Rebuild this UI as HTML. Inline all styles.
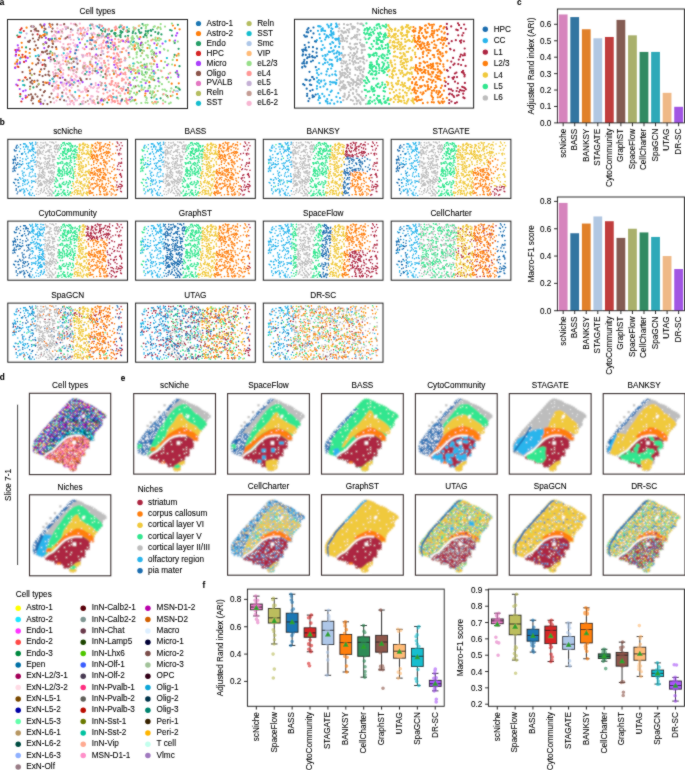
<!DOCTYPE html><html><head><meta charset="utf-8"><style>html,body{margin:0;padding:0;background:#fff}svg{display:block;will-change:transform}text{font-family:"Liberation Sans", sans-serif;font-size:8.2px;fill:#000;stroke:#000;stroke-width:0.08px}</style></head><body><svg width="685" height="770" viewBox="0 0 685 770"><rect width="685" height="770" fill="#fff"/><defs><filter id="gsoft" x="0" y="0" width="100%" height="100%"><feConvolveMatrix order="3" kernelMatrix="1 2 1 2 20 2 1 2 1" divisor="32" edgeMode="duplicate"/></filter><filter id="soft" x="-5%" y="-5%" width="110%" height="110%"><feConvolveMatrix order="3" kernelMatrix="1 2 1 2 8 2 1 2 1" divisor="20" edgeMode="none"/></filter><pattern id="wspk" patternUnits="userSpaceOnUse" width="23" height="23"><path d="M0.5 16.5h0m1 -14h0m1 -2h0m0 10h0m0 2h0m0 3h0m4 1h0m3 -12h0m1 3h0m1 7h0m1 8h0m6 -4h0m2 -13h0m0 17h0m2 -10h0" stroke="#fff" stroke-width="0.9" stroke-linecap="square" fill="none"/></pattern><pattern id="ppia" patternUnits="userSpaceOnUse" width="17" height="17"><path d="M0.5 0.5h0m0 2h0m0 1h0m0 1h0m0 1h0m0 2h0m0 3h0m0 2h0m1 -12h0m0 3h0m0 6h0m0 3h0m1 -5h0m0 2h0m0 3h0m1 -11h0m0 12h0m0 1h0m1 -12h0m0 3h0m0 3h0m0 2h0m0 1h0m0 1h0m0 3h0m1 -13h0m0 1h0m0 6h0m0 4h0m0 1h0m1 1h0m0 1h0m1 -14h0m0 2h0m0 1h0m0 6h0m0 1h0m0 3h0m0 1h0m1 -14h0m0 3h0m0 1h0m0 1h0m1 -3h0m0 5h0m0 4h0m0 1h0m1 -12h0m0 3h0m0 3h0m0 2h0m0 2h0m0 1h0m0 1h0m1 -12h0m0 6h0m0 2h0m0 1h0m0 1h0m0 1h0m1 -12h0m0 1h0m0 1h0m0 1h0m0 1h0m0 8h0m0 1h0m1 -11h0m0 7h0m1 -7h0m0 1h0m0 2h0m0 6h0m0 1h0m1 -10h0m0 2h0m0 4h0m0 1h0m1 -8h0m0 6h0m0 5h0" stroke="#fff" stroke-width="1.2" stroke-linecap="square" fill="none"/><path d="M0.5 1.5h0m0 5h0m0 2h0m0 1h0m0 2h0m0 2h0m0 1h0m0 1h0m0 1h0m1 -14h0m0 3h0m0 1h0m0 1h0m0 1h0m0 2h0m0 1h0m0 2h0m0 1h0m0 2h0m1 -16h0m0 2h0m0 1h0m0 1h0m0 4h0m0 2h0m0 1h0m0 2h0m0 1h0m0 1h0m1 -15h0m0 2h0m0 1h0m0 1h0m0 1h0m0 2h0m0 1h0m0 1h0m0 2h0m0 1h0m0 4h0m1 -15h0m0 2h0m0 1h0m0 2h0m0 1h0m0 7h0m1 -14h0m0 1h0m0 3h0m0 1h0m0 1h0m0 1h0m0 1h0m0 2h0m0 1h0m0 1h0m0 3h0m0 1h0m1 -16h0m0 1h0m0 1h0m0 1h0m0 1h0m0 1h0m0 1h0m0 1h0m0 1h0m0 1h0m0 1h0m0 1h0m0 1h0m0 1h0m1 -13h0m0 3h0m0 3h0m0 1h0m0 1h0m0 2h0m0 3h0m0 1h0m1 -14h0m0 1h0m0 2h0m0 1h0m0 4h0m0 1h0m0 3h0m0 1h0m0 1h0m0 1h0m0 1h0m1 -16h0m0 1h0m0 2h0m0 2h0m0 2h0m0 1h0m0 2h0m0 1h0m0 1h0m0 3h0m1 -15h0m0 1h0m0 2h0m0 1h0m0 2h0m0 1h0m0 4h0m0 4h0m0 1h0m1 -16h0m0 1h0m0 3h0m0 1h0m0 2h0m0 2h0m0 5h0m1 -14h0m0 6h0m0 1h0m0 1h0m0 1h0m0 2h0m0 1h0m0 3h0m0 1h0m1 -14h0m0 2h0m0 1h0m0 1h0m0 1h0m0 1h0m0 1h0m0 2h0m0 1h0m0 2h0m0 2h0m1 -16h0m0 1h0m0 1h0m0 3h0m0 2h0m0 1h0m0 1h0m0 1h0m0 1h0m0 3h0m0 1h0m0 1h0m1 -16h0m0 1h0m0 1h0m0 2h0m0 2h0m0 1h0m0 4h0m0 1h0m0 1h0m0 1h0m0 1h0m0 1h0m1 -16h0m0 1h0m0 2h0m0 1h0m0 1h0m0 1h0m0 1h0m0 2h0m0 2h0m0 1h0m0 2h0m0 1h0m0 1h0" stroke="#1f6eb0" stroke-width="1.2" stroke-linecap="square" fill="none"/><path d="M1.5 1.5h0m0 3h0m0 11h0m1 -14h0m0 4h0m0 1h0m0 10h0m1 -10h0m0 4h0m0 5h0m1 -15h0m0 9h0m0 4h0m0 3h0m2 -2h0m1 -13h0m0 8h0m1 1h0m0 1h0m1 -9h0m0 4h0m0 10h0m1 -7h0m1 -6h0m0 3h0m0 9h0m0 1h0m1 -6h0m1 -10h0m0 1h0m0 12h0m0 2h0m2 -7h0m1 2h0" stroke="#4a8fca" stroke-width="1.2" stroke-linecap="square" fill="none"/></pattern><pattern id="pctc" patternUnits="userSpaceOnUse" width="20" height="20"><path d="M0.5 0.5h0m0 2h0m0 7h0m0 6h0m1 -7h0m1 0h0m0 1h0m0 9h0m1 -3h0m0 4h0m1 -10h0m0 2h0m0 1h0m0 3h0m0 3h0m2 -15h0m1 1h0m1 5h0m1 -2h0m0 5h0m0 7h0m1 -18h0m2 8h0m0 3h0m1 -9h0m0 1h0m0 8h0m0 2h0m1 5h0m1 -18h0m0 1h0m0 9h0m0 5h0m1 -15h0m0 14h0m1 -11h0m0 2h0m0 4h0m0 6h0m1 -7h0m1 -1h0" stroke="#a30059" stroke-width="1.2" stroke-linecap="square" fill="none"/><path d="M0.5 1.5h0m0 12h0m1 2h0m1 -5h0m4 -10h0m0 9h0m1 -7h0m0 4h0m4 1h0m0 4h0m3 -5h0m0 3h0m5 -9h0" stroke="#1ce6ff" stroke-width="1.2" stroke-linecap="square" fill="none"/><path d="M0.5 3.5h0m5 -3h0m0 12h0m1 5h0m2 -2h0m0 2h0m1 -3h0m2 -14h0m0 18h0m2 -16h0m0 7h0m4 0h0m2 7h0" stroke="#63ffac" stroke-width="1.2" stroke-linecap="square" fill="none"/><path d="M0.5 4.5h0m1 7h0m3 -3h0m0 9h0m2 -13h0m0 14h0m0 1h0m1 -14h0m0 7h0m0 4h0m1 -16h0m0 18h0m2 -2h0m1 -10h0m0 9h0m1 -14h0m0 3h0m0 11h0m1 -9h0m0 12h0m4 -11h0m0 6h0m0 4h0m0 2h0m1 -19h0m1 7h0" stroke="#006fa6" stroke-width="1.2" stroke-linecap="square" fill="none"/><path d="M0.5 5.5h0m0 7h0m0 5h0m1 -8h0m0 3h0m0 7h0m1 -14h0m1 -2h0m0 4h0m0 2h0m2 7h0m1 -9h0m7 6h0m1 -9h0m0 9h0m0 4h0m1 -17h0m0 18h0m1 -11h0m0 3h0m0 8h0m1 -10h0m0 10h0m1 -1h0m1 -11h0m0 12h0" stroke="#3b5dff" stroke-width="1.2" stroke-linecap="square" fill="none"/><path d="M0.5 6.5h0m2 -6h0m0 14h0m1 -12h0m4 6h0m3 -5h0m1 16h0m3 -12h0m4 0h0" stroke="#7a4900" stroke-width="1.2" stroke-linecap="square" fill="none"/><path d="M0.5 7.5h0m0 3h0m0 1h0m1 -11h0m0 1h0m0 4h0m0 8h0m0 1h0m1 -7h0m0 6h0m0 2h0m0 4h0m1 -14h0m0 3h0m0 2h0m0 2h0m0 4h0m1 3h0m1 -17h0m0 2h0m0 11h0m1 -14h0m0 1h0m0 3h0m0 1h0m0 2h0m0 4h0m0 1h0m0 2h0m1 -15h0m0 7h0m0 10h0m0 1h0m0 1h0m1 -18h0m0 4h0m0 9h0m0 2h0m1 -16h0m0 8h0m0 1h0m0 1h0m0 5h0m0 3h0m1 -16h0m0 5h0m0 2h0m0 2h0m0 2h0m0 2h0m0 3h0m0 1h0m1 -18h0m0 1h0m0 2h0m0 5h0m0 4h0m0 1h0m1 -8h0m0 10h0m0 3h0m1 -19h0m0 5h0m0 5h0m0 6h0m0 1h0m1 -17h0m0 8h0m0 2h0m0 1h0m1 -8h0m0 3h0m0 2h0m0 1h0m0 6h0m0 2h0m1 -12h0m0 3h0m0 4h0m0 2h0m1 -2h0m0 2h0m1 -2h0m0 2h0m0 5h0m1 -17h0m0 1h0m0 2h0m0 8h0" stroke="#0000a6" stroke-width="1.2" stroke-linecap="square" fill="none"/><path d="M0.5 8.5h0m2 -4h0m5 7h0m8 -7h0m1 -4h0m2 16h0" stroke="#5a0007" stroke-width="1.2" stroke-linecap="square" fill="none"/><path d="M0.5 14.5h0m1 -10h0m2 2h0m1 10h0m1 -3h0m0 6h0m3 -7h0m3 -2h0m4 4h0" stroke="#8fb0ff" stroke-width="1.2" stroke-linecap="square" fill="none"/><path d="M0.5 16.5h0m0 3h0m1 -2h0m1 -14h0m1 -2h0m0 13h0m1 -10h0m0 2h0m1 -3h0m0 2h0m0 2h0m1 3h0m1 -1h0m1 -6h0m2 9h0m0 5h0m2 -3h0m1 1h0m1 -3h0m1 -2h0m1 -1h0m0 2h0m1 0h0m1 -9h0m0 2h0m0 2h0m0 4h0m0 8h0m1 -14h0" stroke="#b903aa" stroke-width="1.2" stroke-linecap="square" fill="none"/><path d="M0.5 18.5h0m4 -17h0m6 5h0m1 -3h0m7 10h0m1 4h0" stroke="#fff" stroke-width="1.2" stroke-linecap="square" fill="none"/><path d="M1.5 2.5h0m0 5h0m0 11h0m1 -16h0m3 6h0m0 9h0m2 -2h0m2 -14h0m0 3h0m0 12h0m0 1h0m1 -7h0m1 -2h0m0 4h0m0 5h0m1 -15h0m0 3h0m0 13h0m1 -7h0m1 3h0m1 -7h0m1 10h0m0 2h0m2 -14h0m0 6h0m0 4h0" stroke="#0aa6d8" stroke-width="1.2" stroke-linecap="square" fill="none"/><path d="M1.5 3.5h0m0 7h0m1 -4h0m1 5h0m1 -1h0m0 4h0m1 -4h0m0 1h0m1 5h0m1 -2h0m1 -4h0m1 -4h0m0 5h0m1 -7h0m2 4h0m0 3h0m0 2h0m3 0h0m0 6h0m1 -16h0m1 -2h0m0 1h0m0 1h0m1 -2h0m1 10h0m0 4h0" stroke="#00846f" stroke-width="1.2" stroke-linecap="square" fill="none"/><path d="M1.5 6.5h0m1 5h0m3 7h0m1 -4h0m2 -10h0m0 15h0m1 -16h0m3 4h0m1 1h0m1 -5h0m1 9h0m1 -6h0m3 3h0m0 10h0" stroke="#ffff00" stroke-width="1.2" stroke-linecap="square" fill="none"/><path d="M1.5 16.5h0m2 -12h0m1 -4h0m3 1h0m1 1h0m0 5h0m1 6h0m1 -5h0m2 9h0m4 -4h0" stroke="#ff34ff" stroke-width="1.2" stroke-linecap="square" fill="none"/><path d="M2.5 1.5h0m1 12h0m0 4h0m1 -14h0m0 2h0m1 -4h0m0 5h0m0 3h0m2 -6h0m0 7h0m0 3h0m1 -2h0m1 -6h0m1 9h0m2 -14h0m1 1h0m0 18h0m1 -17h0m0 16h0m2 -16h0m1 -2h0m0 15h0m1 -7h0m1 -7h0m0 9h0" stroke="#013349" stroke-width="1.2" stroke-linecap="square" fill="none"/><path d="M2.5 12.5h0m2 -5h0m0 6h0m7 3h0m1 -13h0m3 2h0m1 -1h0" stroke="#ff2f80" stroke-width="1.2" stroke-linecap="square" fill="none"/><path d="M2.5 16.5h0m0 1h0m1 -17h0m0 18h0m2 -4h0m1 -3h0m3 -9h0m1 3h0m1 0h0m1 5h0m1 -3h0m1 -6h0m0 4h0m0 11h0m2 0h0m3 -4h0m0 2h0" stroke="#4a3b53" stroke-width="1.2" stroke-linecap="square" fill="none"/><path d="M4.5 2.5h0m4 4h0m0 2h0m0 5h0m2 -13h0m4 15h0m3 -10h0m1 -2h0" stroke="#4fc601" stroke-width="1.2" stroke-linecap="square" fill="none"/></pattern><pattern id="pcts" patternUnits="userSpaceOnUse" width="20" height="20"><path d="M0.5 0.5h0m0 5h0m0 4h0m1 -5h0m0 2h0m0 9h0m0 2h0m1 -5h0m0 7h0m1 -17h0m0 11h0m0 6h0m1 -15h0m0 2h0m0 1h0m0 10h0m1 -13h0m0 12h0m1 -3h0m0 4h0m0 2h0m1 -13h0m0 1h0m0 7h0m1 -7h0m1 4h0m0 5h0m1 -16h0m2 17h0m1 -6h0m0 4h0m1 -9h0m0 11h0m1 -12h0m1 5h0m0 1h0m1 -6h0m0 3h0m1 -2h0m1 -2h0m0 9h0" stroke="#b903aa" stroke-width="1.2" stroke-linecap="square" fill="none"/><path d="M0.5 1.5h0m0 10h0m0 2h0m0 4h0m0 1h0m1 -16h0m0 5h0m0 9h0m0 3h0m1 -16h0m0 2h0m0 2h0m0 3h0m0 6h0m1 -16h0m0 1h0m0 3h0m0 13h0m1 -12h0m0 5h0m0 3h0m0 1h0m1 -5h0m0 2h0m0 8h0m1 -17h0m0 1h0m0 5h0m0 4h0m0 2h0m1 -10h0m0 6h0m0 1h0m0 1h0m0 1h0m0 4h0m0 2h0m1 -17h0m0 6h0m0 5h0m0 2h0m1 -14h0m0 12h0m0 1h0m0 5h0m1 -9h0m0 3h0m0 2h0m0 1h0m0 1h0m0 1h0m1 -16h0m0 3h0m0 4h0m0 1h0m1 -10h0m0 8h0m0 1h0m0 1h0m0 1h0m1 -10h0m0 8h0m0 3h0m0 1h0m0 5h0m1 -17h0m0 1h0m0 8h0m0 8h0m0 1h0m1 -18h0m0 2h0m0 3h0m0 2h0m0 3h0m0 1h0m0 4h0m0 2h0m0 1h0m1 -19h0m0 1h0m0 3h0m0 2h0m0 2h0m0 9h0m1 -17h0m0 1h0m0 5h0m0 1h0m0 4h0m0 3h0m0 1h0m0 2h0m1 -16h0m0 4h0m0 2h0m0 2h0m0 2h0m0 2h0m0 2h0m0 2h0m0 1h0m1 -16h0m0 1h0m0 2h0m0 11h0" stroke="#d16100" stroke-width="1.2" stroke-linecap="square" fill="none"/><path d="M0.5 2.5h0m0 4h0m0 4h0m0 5h0m0 1h0m1 -16h0m0 1h0m0 4h0m0 7h0m0 6h0m1 -12h0m1 2h0m0 3h0m0 7h0m1 -16h0m0 1h0m0 5h0m0 3h0m0 1h0m0 3h0m0 3h0m1 -18h0m0 3h0m0 3h0m0 1h0m0 1h0m0 4h0m0 3h0m0 3h0m1 -18h0m0 1h0m0 10h0m0 4h0m0 3h0m1 -17h0m0 1h0m0 6h0m1 -8h0m0 1h0m0 4h0m0 6h0m0 8h0m1 -16h0m0 1h0m0 1h0m0 1h0m0 1h0m0 1h0m0 1h0m0 1h0m0 7h0m1 -16h0m0 1h0m0 1h0m0 1h0m0 5h0m0 5h0m1 -2h0m0 2h0m0 5h0m1 -16h0m0 4h0m0 8h0m0 1h0m0 3h0m1 -19h0m0 2h0m0 2h0m0 3h0m0 1h0m0 6h0m1 -14h0m0 5h0m0 4h0m0 2h0m0 4h0m1 -1h0m2 -10h0m0 6h0m0 2h0m0 1h0m0 5h0m0 1h0m1 -19h0m0 12h0m0 4h0m1 -15h0m0 7h0m0 2h0m0 4h0m0 5h0" stroke="#ffaa92" stroke-width="1.2" stroke-linecap="square" fill="none"/><path d="M0.5 3.5h0m0 5h0m0 11h0m1 -9h0m3 9h0m1 -18h0m1 4h0m0 1h0m0 3h0m3 6h0m0 3h0m1 1h0m1 -8h0m1 -5h0m0 7h0m0 5h0m2 -11h0m1 3h0m0 5h0m0 2h0m2 -14h0m0 6h0" stroke="#ff2f80" stroke-width="1.2" stroke-linecap="square" fill="none"/><path d="M0.5 4.5h0m1 4h0m0 1h0m0 2h0m0 3h0m1 -6h0m0 5h0m0 1h0m1 -8h0m0 4h0m0 2h0m1 -12h0m0 1h0m0 8h0m1 -7h0m0 3h0m0 5h0m0 3h0m0 4h0m1 -13h0m0 12h0m1 -16h0m0 3h0m0 2h0m1 9h0m0 2h0m0 1h0m1 -15h0m0 10h0m1 -6h0m0 1h0m0 1h0m1 -8h0m0 4h0m0 4h0m0 5h0m0 3h0m0 2h0m1 -17h0m0 11h0m1 -9h0m0 2h0m1 -1h0m0 4h0m0 4h0m0 2h0m1 -14h0m0 2h0m0 5h0m0 2h0m1 -6h0m0 9h0m1 4h0m1 -8h0m0 2h0m0 4h0m1 -7h0m0 2h0m0 2h0m0 6h0m0 1h0" stroke="#ff90c9" stroke-width="1.2" stroke-linecap="square" fill="none"/><path d="M0.5 7.5h0m0 5h0m2 -8h0m0 13h0m1 -14h0m0 6h0m0 6h0m1 1h0m1 -2h0m1 -4h0m5 -7h0m0 14h0m2 0h0m0 2h0m1 -16h0m1 10h0m1 -4h0m0 4h0m0 5h0" stroke="#ffb500" stroke-width="1.2" stroke-linecap="square" fill="none"/><path d="M0.5 14.5h0m2 -14h0m0 1h0m0 1h0m0 13h0m0 3h0m5 0h0m1 -15h0m0 3h0m3 -5h0m0 14h0m2 -5h0m2 -6h0m1 -2h0m0 13h0m1 -13h0m1 0h0m1 -2h0" stroke="#7a4900" stroke-width="1.2" stroke-linecap="square" fill="none"/><path d="M1.5 3.5h0m2 2h0m0 2h0m4 8h0m3 -3h0m2 2h0m2 2h0m2 -9h0m2 -4h0m1 3h0" stroke="#0000a6" stroke-width="1.2" stroke-linecap="square" fill="none"/><path d="M1.5 13.5h0m1 -2h0m1 3h0m0 2h0m3 -9h0m1 2h0m0 7h0m1 -12h0m0 5h0m0 1h0m0 8h0m1 -18h0m1 5h0m0 6h0m1 -5h0m0 1h0m1 -3h0m0 1h0m1 11h0m3 -11h0m0 14h0m2 -15h0m0 15h0m1 -7h0m0 3h0" stroke="#ff4a46" stroke-width="1.2" stroke-linecap="square" fill="none"/><path d="M2.5 9.5h0m6 3h0m4 -10h0m1 4h0m1 7h0m2 1h0m0 2h0" stroke="#fff" stroke-width="1.2" stroke-linecap="square" fill="none"/></pattern><pattern id="pcto" patternUnits="userSpaceOnUse" width="20" height="20"><path d="M0.5 0.5h0m0 11h0m0 3h0m0 5h0m1 -19h0m0 1h0m0 17h0m1 -18h0m0 3h0m0 2h0m1 -4h0m0 1h0m0 6h0m1 0h0m1 -5h0m0 1h0m0 3h0m0 6h0m1 -9h0m0 13h0m1 -17h0m0 1h0m0 2h0m0 3h0m0 12h0m1 -10h0m0 3h0m1 -10h0m0 8h0m0 10h0m1 -6h0m0 1h0m2 -14h0m1 0h0m0 7h0m0 4h0m1 -7h0m0 6h0m0 6h0m1 -13h0m0 4h0m0 1h0m0 10h0m1 -11h0m0 7h0m2 -6h0m0 5h0m1 -13h0m0 8h0m0 10h0" stroke="#b903aa" stroke-width="1.2" stroke-linecap="square" fill="none"/><path d="M0.5 1.5h0m0 9h0m0 2h0m0 1h0m0 5h0m1 -5h0m0 3h0m0 1h0m1 -2h0m2 -14h0m0 6h0m0 5h0m1 -11h0m0 10h0m0 8h0m1 -16h0m0 16h0m1 -4h0m1 -3h0m1 -9h0m0 10h0m1 -8h0m0 2h0m0 3h0m1 -6h0m0 15h0m1 -17h0m0 16h0m1 -12h0m1 0h0m0 5h0m1 3h0m1 2h0m0 1h0m1 -14h0m1 15h0m1 -11h0" stroke="#3b5dff" stroke-width="1.2" stroke-linecap="square" fill="none"/><path d="M0.5 2.5h0m0 1h0m0 2h0m0 3h0m1 -1h0m1 -3h0m0 2h0m0 6h0m0 7h0m1 -16h0m0 2h0m0 7h0m0 3h0m1 -11h0m1 1h0m0 4h0m0 5h0m1 -13h0m0 9h0m1 -8h0m0 17h0m1 -10h0m0 9h0m1 -14h0m0 1h0m3 -1h0m0 3h0m0 10h0m1 -15h0m0 3h0m0 3h0m0 6h0m1 4h0m1 -8h0m0 2h0m1 -7h0m1 6h0m0 2h0m0 4h0m0 2h0m1 -5h0m1 -11h0m0 3h0m0 11h0" stroke="#ffff00" stroke-width="1.2" stroke-linecap="square" fill="none"/><path d="M0.5 4.5h0m0 13h0m1 -15h0m0 10h0m0 2h0m1 -4h0m1 -1h0m0 1h0m0 3h0m0 1h0m0 3h0m1 -14h0m0 2h0m0 8h0m0 4h0m0 1h0m0 1h0m1 -11h0m0 8h0m1 -16h0m0 6h0m0 1h0m0 1h0m0 7h0m1 -11h0m1 -1h0m0 1h0m0 1h0m0 2h0m0 6h0m0 3h0m1 -10h0m0 1h0m0 4h0m0 1h0m0 3h0m0 2h0m0 1h0m1 -18h0m0 16h0m1 -15h0m0 2h0m0 3h0m0 8h0m0 2h0m1 -13h0m0 5h0m0 1h0m0 1h0m0 1h0m0 5h0m1 -15h0m0 3h0m0 12h0m0 1h0m1 -9h0m0 1h0m0 3h0m0 2h0m0 3h0m1 -17h0m0 1h0m0 4h0m0 1h0m0 9h0m0 1h0m0 3h0m1 -13h0m0 2h0m0 1h0m0 4h0m0 2h0m1 -14h0m0 3h0m0 1h0m0 10h0m0 1h0m1 -16h0m0 3h0m0 1h0m0 1h0m0 1h0m0 1h0m0 4h0m1 -7h0m0 7h0" stroke="#a30059" stroke-width="1.2" stroke-linecap="square" fill="none"/><path d="M0.5 6.5h0m0 9h0m0 1h0m1 -12h0m0 1h0m1 4h0m1 -2h0m0 11h0m2 -6h0m1 -7h0m0 8h0m0 3h0m1 -7h0m0 1h0m0 7h0m1 0h0m1 -3h0m1 -6h0m0 4h0m0 5h0m1 -17h0m0 2h0m0 5h0m0 5h0m0 6h0m2 -15h0m0 9h0m0 1h0m1 -11h0m1 2h0m1 -4h0m0 2h0m0 9h0m1 -5h0m0 3h0m1 10h0m1 -10h0m0 7h0" stroke="#1ce6ff" stroke-width="1.2" stroke-linecap="square" fill="none"/><path d="M0.5 7.5h0m1 -4h0m0 3h0m0 3h0m1 -8h0m0 1h0m0 5h0m0 1h0m0 5h0m0 1h0m0 4h0m1 -18h0m0 11h0m1 -11h0m0 11h0m0 3h0m0 1h0m1 -13h0m0 4h0m0 11h0m0 1h0m1 -16h0m0 7h0m0 2h0m0 1h0m1 -7h0m0 3h0m0 6h0m1 0h0m0 1h0m0 4h0m1 -17h0m0 6h0m0 8h0m1 -15h0m0 2h0m0 1h0m0 5h0m0 2h0m0 4h0m1 -10h0m0 3h0m0 5h0m0 2h0m1 -9h0m0 6h0m0 3h0m0 4h0m1 -10h0m0 1h0m0 8h0m1 -18h0m0 1h0m0 6h0m0 6h0m0 6h0m2 -18h0m0 17h0m0 1h0m1 -19h0m0 7h0m0 1h0m1 -7h0m0 9h0m0 2h0m0 3h0m0 2h0m1 -16h0m0 1h0m0 3h0m0 7h0m0 7h0" stroke="#0000a6" stroke-width="1.2" stroke-linecap="square" fill="none"/><path d="M0.5 9.5h0m1 6h0m3 -13h0m1 -2h0m0 15h0m3 -5h0m2 8h0m1 -9h0m1 4h0m1 2h0m0 4h0m1 -14h0m1 4h0m0 4h0m1 -10h0m0 1h0m1 -2h0m0 12h0m1 2h0" stroke="#63ffac" stroke-width="1.2" stroke-linecap="square" fill="none"/><path d="M1.5 8.5h0m0 2h0m1 6h0m1 -12h0m0 2h0m0 10h0m1 -10h0m2 8h0m1 -7h0m0 4h0m0 2h0m1 -13h0m0 6h0m1 4h0m1 -4h0m0 13h0m5 -17h0m1 10h0m1 -2h0m1 -8h0m1 8h0m0 4h0" stroke="#ff34ff" stroke-width="1.2" stroke-linecap="square" fill="none"/><path d="M1.5 11.5h0m0 8h0m1 -2h0m2 -8h0m0 1h0m0 6h0m1 -6h0m1 8h0m1 -6h0m1 -11h0m0 1h0m1 -2h0m1 2h0m1 8h0m0 1h0m0 6h0m1 -16h0m0 4h0m2 -2h0m1 14h0m1 -7h0m1 2h0m0 6h0m1 -9h0m1 4h0m0 2h0" stroke="#00846f" stroke-width="1.2" stroke-linecap="square" fill="none"/><path d="M2.5 11.5h0m1 8h0m4 -3h0m5 -2h0m2 1h0m1 -4h0" stroke="#fff" stroke-width="1.2" stroke-linecap="square" fill="none"/></pattern><pattern id="pctcc" patternUnits="userSpaceOnUse" width="20" height="20"><path d="M0.5 0.5h0m0 3h0m0 1h0m0 1h0m0 3h0m0 2h0m0 1h0m0 7h0m1 -16h0m0 6h0m0 8h0m1 -2h0m1 -11h0m0 3h0m0 6h0m0 6h0m1 -11h0m0 3h0m0 8h0m1 -15h0m0 1h0m0 10h0m0 1h0m0 2h0m0 2h0m1 -18h0m0 3h0m0 4h0m0 1h0m0 2h0m1 -8h0m0 5h0m0 4h0m0 4h0m1 -15h0m0 4h0m0 5h0m0 8h0m1 -16h0m0 3h0m0 4h0m0 6h0m1 -3h0m0 5h0m0 2h0m1 -17h0m1 7h0m0 1h0m0 4h0m1 -12h0m0 1h0m0 7h0m0 1h0m0 4h0m1 -13h0m0 4h0m1 12h0m1 -9h0m0 4h0m1 -12h0m0 7h0m0 11h0m1 -14h0m0 4h0m1 1h0m0 6h0m0 1h0m0 1h0" stroke="#0000a6" stroke-width="1.2" stroke-linecap="square" fill="none"/><path d="M0.5 1.5h0m1 12h0m3 -4h0m0 10h0m2 -9h0m2 5h0m0 1h0m0 1h0m1 -9h0m0 4h0m1 -5h0m0 6h0m0 1h0m2 -8h0m0 1h0m0 9h0m1 -3h0m2 4h0m1 -1h0m1 -13h0m1 -1h0m0 8h0m1 -9h0" stroke="#63ffac" stroke-width="1.2" stroke-linecap="square" fill="none"/><path d="M0.5 2.5h0m0 4h0m0 3h0m0 4h0m0 4h0m0 2h0m1 -16h0m0 1h0m0 1h0m0 1h0m0 1h0m0 4h0m0 1h0m0 2h0m1 -14h0m0 6h0m0 1h0m0 1h0m1 -6h0m0 2h0m0 4h0m0 1h0m0 1h0m0 1h0m1 -8h0m0 3h0m0 5h0m0 1h0m0 5h0m1 -11h0m0 3h0m0 1h0m0 1h0m0 2h0m0 3h0m0 2h0m1 -11h0m0 6h0m1 -11h0m0 4h0m0 4h0m0 1h0m1 -5h0m0 1h0m0 2h0m0 3h0m0 7h0m1 -19h0m0 1h0m0 2h0m0 1h0m0 6h0m0 3h0m0 6h0m1 -19h0m0 4h0m0 1h0m0 4h0m1 -2h0m0 3h0m0 1h0m0 2h0m0 4h0m0 1h0m0 1h0m1 -18h0m0 1h0m0 1h0m0 9h0m1 -12h0m0 1h0m0 4h0m0 1h0m0 12h0m0 1h0m1 -19h0m0 9h0m0 3h0m0 2h0m0 2h0m0 3h0m1 -14h0m0 5h0m0 1h0m0 5h0m1 -16h0m0 1h0m0 1h0m0 2h0m0 4h0m0 3h0m0 6h0m0 2h0m1 -19h0m0 4h0m0 2h0m0 3h0m0 1h0m0 1h0m0 1h0m0 2h0m0 1h0m0 2h0m1 -13h0m0 4h0m0 3h0m0 3h0m0 2h0m0 2h0m0 1h0m1 -19h0m0 5h0m0 1h0m0 2h0m0 3h0m0 1h0" stroke="#00846f" stroke-width="1.2" stroke-linecap="square" fill="none"/><path d="M0.5 7.5h0m0 5h0m0 2h0m0 1h0m1 -14h0m0 8h0m0 1h0m0 7h0m0 2h0m1 -18h0m0 1h0m0 1h0m0 6h0m0 2h0m0 1h0m0 4h0m0 2h0m1 -17h0m0 6h0m0 8h0m0 1h0m1 -12h0m0 1h0m0 10h0m1 -13h0m0 3h0m0 2h0m1 -4h0m0 12h0m0 2h0m1 -17h0m0 1h0m0 4h0m0 2h0m0 12h0m1 -19h0m0 2h0m0 1h0m0 1h0m0 4h0m0 5h0m1 -7h0m0 5h0m1 -10h0m0 1h0m0 4h0m0 2h0m0 2h0m0 5h0m0 3h0m1 -18h0m0 4h0m0 5h0m1 -9h0m0 5h0m0 6h0m0 2h0m0 2h0m0 3h0m1 -14h0m0 13h0m1 -16h0m0 2h0m0 4h0m0 1h0m0 3h0m0 4h0m0 3h0m1 -18h0m0 1h0m0 1h0m0 4h0m0 1h0m0 1h0m0 1h0m0 3h0m0 3h0m1 -10h0m0 2h0m0 3h0m0 2h0m0 2h0m0 1h0m1 -8h0m0 6h0m1 -12h0m0 2h0m0 3h0m0 1h0m0 10h0m1 -15h0m0 1h0m0 4h0m0 2h0m0 5h0m0 1h0m0 4h0" stroke="#0aa6d8" stroke-width="1.2" stroke-linecap="square" fill="none"/><path d="M0.5 16.5h0m2 -11h0m0 10h0m1 -15h0m0 13h0m0 4h0m1 -17h0m0 2h0m0 11h0m0 1h0m0 2h0m1 -16h0m0 1h0m0 11h0m1 -7h0m0 1h0m0 8h0m0 5h0m1 -15h0m0 5h0m0 5h0m0 1h0m0 3h0m1 -7h0m0 3h0m1 0h0m0 3h0m0 1h0m1 -2h0m1 -15h0m0 2h0m0 2h0m0 1h0m0 2h0m0 6h0m1 -10h0m0 4h0m1 0h0m0 1h0m0 5h0m0 2h0m1 -6h0m1 -6h0m0 10h0m0 5h0m2 -3h0m0 2h0m1 -3h0m1 -11h0" stroke="#013349" stroke-width="1.2" stroke-linecap="square" fill="none"/><path d="M1.5 0.5h0m0 15h0m0 3h0m1 -14h0m0 6h0m0 3h0m0 4h0m0 2h0m1 -14h0m0 9h0m0 5h0m1 -11h0m1 0h0m1 -8h0m0 2h0m0 10h0m0 4h0m0 2h0m1 -5h0m0 4h0m2 -10h0m1 -4h0m0 8h0m1 4h0m0 1h0m1 1h0m0 2h0m1 -12h0m1 -3h0m0 1h0m0 8h0m0 4h0m1 -14h0m0 10h0m1 -10h0m0 3h0m0 12h0m1 -13h0m1 -5h0m0 13h0m1 0h0" stroke="#1ce6ff" stroke-width="1.2" stroke-linecap="square" fill="none"/><path d="M4.5 1.5h0m5 15h0m2 -4h0m2 0h0m4 -10h0m1 10h0" stroke="#fff" stroke-width="1.2" stroke-linecap="square" fill="none"/></pattern><pattern id="pcco" patternUnits="userSpaceOnUse" width="19" height="19"><path d="M0.5 0.5h0m0 7h0m0 3h0m0 1h0m0 1h0m0 2h0m0 4h0m1 -18h0m0 1h0m0 1h0m0 8h0m0 4h0m0 3h0m1 -17h0m0 2h0m0 1h0m0 2h0m0 2h0m0 2h0m0 6h0m0 2h0m1 -13h0m0 1h0m0 6h0m1 -6h0m0 6h0m0 1h0m0 4h0m1 -10h0m0 1h0m0 1h0m0 1h0m0 3h0m0 6h0m1 -13h0m0 4h0m0 1h0m0 7h0m1 -13h0m0 2h0m0 1h0m0 1h0m0 2h0m0 2h0m0 1h0m1 -10h0m0 3h0m0 10h0m1 -16h0m0 1h0m0 2h0m0 7h0m0 1h0m0 7h0m1 -15h0m0 6h0m0 4h0m0 2h0m0 2h0m1 -16h0m0 3h0m0 1h0m0 10h0m1 -15h0m0 7h0m0 4h0m0 1h0m0 2h0m1 -9h0m0 3h0m0 3h0m0 2h0m1 -13h0m0 1h0m0 3h0m0 1h0m0 7h0m0 6h0m1 -16h0m0 3h0m0 1h0m0 5h0m0 3h0m0 4h0m1 -15h0m0 1h0m0 10h0m1 -10h0m0 7h0m0 2h0m0 1h0m0 1h0m1 -14h0" stroke="#bdbdbd" stroke-width="1.2" stroke-linecap="square" fill="none"/><path d="M0.5 1.5h0m0 8h0m0 4h0m1 -1h0m0 4h0m0 2h0m3 -12h0m0 7h0m0 1h0m1 -9h0m0 10h0m0 1h0m1 -15h0m1 4h0m1 -5h0m0 10h0m0 8h0m1 -9h0m0 3h0m2 -3h0m1 -8h0m0 8h0m1 -3h0m1 3h0m0 4h0m1 -13h0m0 1h0m1 4h0m0 4h0m0 1h0m1 -10h0m0 1h0m1 -1h0m0 12h0m0 4h0" stroke="#f0c93c" stroke-width="1.2" stroke-linecap="square" fill="none"/><path d="M0.5 2.5h0m0 1h0m0 1h0m0 1h0m0 3h0m0 9h0m1 -14h0m0 5h0m0 5h0m0 2h0m1 -9h0m0 2h0m0 4h0m1 -10h0m0 4h0m0 2h0m0 4h0m0 1h0m0 2h0m0 1h0m0 1h0m0 1h0m1 -17h0m0 6h0m0 1h0m0 1h0m0 8h0m1 -15h0m0 1h0m0 1h0m0 9h0m0 1h0m1 -14h0m0 2h0m0 4h0m0 6h0m0 1h0m0 1h0m0 2h0m1 -14h0m0 7h0m0 2h0m1 -4h0m0 4h0m0 1h0m0 1h0m0 2h0m0 2h0m1 -15h0m0 3h0m0 2h0m0 6h0m0 1h0m0 1h0m0 1h0m1 -15h0m0 1h0m0 3h0m0 2h0m0 1h0m0 2h0m1 -3h0m0 5h0m0 2h0m0 3h0m1 -11h0m0 2h0m0 7h0m0 1h0m1 -16h0m0 1h0m0 1h0m0 1h0m0 1h0m0 5h0m0 1h0m0 4h0m0 1h0m0 2h0m0 1h0m1 -16h0m0 6h0m0 2h0m0 1h0m1 -8h0m0 1h0m0 3h0m0 2h0m0 3h0m0 1h0m0 2h0m0 1h0m1 -15h0m0 1h0m0 4h0m0 2h0m0 3h0m0 1h0m0 3h0m1 -13h0m0 1h0m0 2h0m0 1h0m0 4h0m0 2h0m0 6h0m1 -16h0m0 1h0m0 6h0m0 2h0m0 2h0m0 1h0m0 1h0m0 2h0m0 1h0" stroke="#1f6eb0" stroke-width="1.2" stroke-linecap="square" fill="none"/><path d="M0.5 6.5h0m0 9h0m0 1h0m1 -12h0m0 1h0m0 1h0m0 1h0m0 2h0m0 2h0m1 -7h0m0 6h0m0 1h0m0 3h0m0 2h0m0 2h0m1 -17h0m0 2h0m0 4h0m0 2h0m0 1h0m0 4h0m1 -14h0m0 2h0m0 2h0m0 6h0m0 5h0m0 3h0m1 -18h0m0 10h0m0 1h0m0 6h0m1 -14h0m0 1h0m0 3h0m0 1h0m0 3h0m0 4h0m0 3h0m1 -18h0m0 1h0m0 2h0m0 11h0m0 1h0m0 1h0m0 1h0m0 1h0m1 -17h0m0 1h0m0 3h0m0 3h0m0 6h0m1 -10h0m0 2h0m0 2h0m0 9h0m1 -17h0m0 4h0m0 2h0m0 5h0m0 3h0m0 2h0m0 2h0m1 -18h0m0 2h0m0 1h0m0 3h0m0 2h0m0 2h0m0 1h0m0 2h0m0 3h0m0 2h0m1 -14h0m0 1h0m0 5h0m0 8h0m1 -6h0m0 4h0m1 -13h0m0 3h0m0 1h0m0 7h0m0 1h0m0 1h0m1 -8h0m0 9h0m1 -17h0m0 16h0m0 1h0m0 1h0m1 -10h0m0 1h0m0 7h0m0 1h0m1 -13h0m0 1h0m0 1h0m0 1h0m0 1h0" stroke="#2bb5ec" stroke-width="1.2" stroke-linecap="square" fill="none"/><path d="M2.5 1.5h0m0 12h0m1 -13h0m1 3h0m1 -2h0m3 3h0m0 5h0m2 3h0m2 -10h0m0 1h0m0 10h0m0 4h0m1 -10h0m1 10h0m1 -7h0m1 -3h0m0 6h0m1 -6h0m1 3h0" stroke="#fff" stroke-width="1.2" stroke-linecap="square" fill="none"/></pattern><pattern id="pcci" patternUnits="userSpaceOnUse" width="19" height="19"><path d="M0.5 0.5h0m0 3h0m0 1h0m0 6h0m0 1h0m0 7h0m1 -17h0m0 8h0m0 7h0m0 1h0m1 -17h0m0 6h0m0 6h0m0 3h0m1 -15h0m0 2h0m0 4h0m0 2h0m0 7h0m0 2h0m1 -15h0m0 1h0m0 9h0m0 2h0m1 -5h0m0 4h0m1 -13h0m0 3h0m0 2h0m0 1h0m0 4h0m0 4h0m0 1h0m0 3h0m1 -15h0m0 2h0m1 -4h0m0 4h0m0 4h0m1 -2h0m0 4h0m0 5h0m1 -11h0m0 8h0m1 -11h0m0 11h0m1 -6h0m0 1h0m1 2h0m0 2h0m1 -11h0m0 3h0m0 1h0m0 4h0m0 9h0m1 -18h0m0 1h0m0 7h0m0 4h0m0 6h0m1 -9h0m0 5h0m1 -14h0m0 3h0m0 12h0m0 3h0m1 -15h0m0 15h0" stroke="#bdbdbd" stroke-width="1.2" stroke-linecap="square" fill="none"/><path d="M0.5 1.5h0m1 13h0m1 -7h0m1 -4h0m0 13h0m1 1h0m1 -16h0m0 5h0m1 6h0m0 4h0m1 -15h0m1 5h0m1 -6h0m0 4h0m0 1h0m0 1h0m1 -4h0m0 2h0m0 3h0m0 1h0m0 9h0m1 -13h0m0 1h0m0 9h0m1 -14h0m0 6h0m1 3h0m1 -1h0m0 2h0m1 -5h0m1 5h0m0 3h0m2 -12h0m0 13h0" stroke="#33e68f" stroke-width="1.2" stroke-linecap="square" fill="none"/><path d="M0.5 2.5h0m0 4h0m0 1h0m0 2h0m0 3h0m0 1h0m0 1h0m0 1h0m0 2h0m1 -17h0m0 2h0m0 2h0m0 1h0m0 1h0m0 1h0m0 1h0m0 2h0m0 1h0m0 1h0m0 1h0m0 2h0m0 3h0m1 -17h0m0 1h0m0 1h0m0 1h0m0 1h0m0 3h0m0 1h0m0 1h0m0 1h0m0 2h0m0 1h0m0 4h0m1 -17h0m0 3h0m0 1h0m0 2h0m0 3h0m0 1h0m0 1h0m0 1h0m0 1h0m0 4h0m1 -18h0m0 7h0m0 1h0m0 1h0m0 1h0m0 5h0m0 1h0m1 -16h0m0 2h0m0 5h0m0 3h0m0 1h0m0 1h0m0 2h0m0 1h0m0 1h0m0 2h0m1 -16h0m0 2h0m0 4h0m0 1h0m0 4h0m1 -13h0m0 2h0m0 2h0m0 3h0m0 1h0m0 1h0m0 3h0m0 1h0m0 1h0m0 3h0m0 1h0m1 -11h0m0 1h0m0 2h0m0 1h0m0 1h0m0 2h0m0 1h0m0 1h0m0 1h0m1 -16h0m0 1h0m0 6h0m0 1h0m0 1h0m0 2h0m0 1h0m0 2h0m1 -15h0m0 1h0m0 2h0m0 6h0m0 1h0m0 1h0m0 1h0m0 2h0m0 1h0m0 1h0m0 2h0m1 -18h0m0 1h0m0 5h0m0 3h0m0 2h0m0 4h0m0 3h0m1 -17h0m0 1h0m0 1h0m0 2h0m0 4h0m0 1h0m0 1h0m0 1h0m0 1h0m0 1h0m0 1h0m0 2h0m1 -13h0m0 1h0m0 1h0m0 2h0m0 3h0m0 2h0m0 1h0m0 3h0m0 1h0m1 -18h0m0 11h0m0 1h0m0 1h0m0 1h0m0 1h0m0 2h0m1 -15h0m0 1h0m0 1h0m0 2h0m0 1h0m0 2h0m0 1h0m0 1h0m0 2h0m0 1h0m0 1h0m0 1h0m0 1h0m1 -16h0m0 1h0m0 1h0m0 1h0m0 1h0m0 1h0m0 1h0m0 1h0m0 3h0m0 1h0m0 4h0m0 1h0m0 1h0m1 -17h0m0 1h0m0 2h0m0 1h0m0 2h0m0 1h0m0 1h0m0 2h0m0 1h0m0 2h0m0 2h0m0 1h0m1 -15h0m0 2h0m0 1h0m0 2h0m0 1h0m0 1h0m0 1h0m0 1h0m0 1h0m0 1h0m0 2h0" stroke="#f0c93c" stroke-width="1.2" stroke-linecap="square" fill="none"/><path d="M0.5 5.5h0m0 3h0m0 8h0m1 -13h0m1 13h0m0 1h0m1 -8h0m1 -8h0m0 3h0m0 2h0m0 5h0m0 7h0m1 -15h0m0 2h0m0 3h0m0 9h0m1 -16h0m0 6h0m0 4h0m0 6h0m1 -11h0m0 4h0m0 1h0m0 4h0m0 1h0m1 -16h0m0 2h0m0 1h0m0 1h0m0 9h0m0 5h0m1 -15h0m0 11h0m0 4h0m2 -15h0m0 4h0m0 1h0m0 2h0m0 2h0m0 4h0m0 1h0m1 -1h0m1 -15h0m0 1h0m0 1h0m0 4h0m0 8h0m0 1h0m1 -14h0m0 1h0m0 13h0m2 -16h0m0 15h0m1 -9h0m0 4h0m1 -4h0m0 10h0m0 1h0" stroke="#2bb5ec" stroke-width="1.2" stroke-linecap="square" fill="none"/><path d="M4.5 5.5h0m0 8h0m1 -9h0m4 13h0m1 -11h0m2 -2h0m0 14h0m1 -18h0m1 6h0m0 1h0m3 6h0m1 -13h0" stroke="#fff" stroke-width="1.2" stroke-linecap="square" fill="none"/></pattern><pattern id="pccs" patternUnits="userSpaceOnUse" width="19" height="19"><path d="M0.5 0.5h0m0 1h0m0 1h0m0 1h0m0 2h0m0 1h0m0 1h0m0 2h0m0 1h0m0 1h0m0 1h0m0 1h0m0 2h0m0 3h0m1 -17h0m0 1h0m0 1h0m0 1h0m0 2h0m0 1h0m0 1h0m0 1h0m0 1h0m0 1h0m0 1h0m0 1h0m0 1h0m0 1h0m0 2h0m1 -17h0m0 1h0m0 1h0m0 2h0m0 1h0m0 1h0m0 1h0m0 1h0m0 1h0m0 1h0m0 1h0m0 1h0m0 2h0m0 1h0m0 1h0m1 -16h0m0 1h0m0 1h0m0 1h0m0 1h0m0 2h0m0 1h0m0 1h0m0 1h0m0 2h0m0 1h0m0 1h0m0 1h0m0 1h0m0 1h0m0 1h0m0 1h0m1 -18h0m0 1h0m0 1h0m0 2h0m0 1h0m0 3h0m0 1h0m0 1h0m0 1h0m0 2h0m0 1h0m0 1h0m0 1h0m0 1h0m0 1h0m1 -18h0m0 1h0m0 3h0m0 1h0m0 2h0m0 1h0m0 1h0m0 1h0m0 1h0m0 1h0m0 1h0m0 2h0m0 1h0m0 1h0m0 1h0m1 -18h0m0 1h0m0 2h0m0 1h0m0 1h0m0 1h0m0 1h0m0 2h0m0 1h0m0 1h0m0 1h0m0 1h0m0 1h0m0 1h0m0 1h0m0 1h0m0 1h0m1 -18h0m0 1h0m0 1h0m0 1h0m0 1h0m0 1h0m0 1h0m0 2h0m0 2h0m0 1h0m0 1h0m0 1h0m0 1h0m0 1h0m0 1h0m0 1h0m0 1h0m1 -18h0m0 3h0m0 2h0m0 1h0m0 1h0m0 1h0m0 1h0m0 1h0m0 1h0m0 2h0m0 1h0m0 1h0m0 1h0m0 1h0m0 1h0m1 -16h0m0 1h0m0 1h0m0 3h0m0 1h0m0 2h0m0 1h0m0 1h0m0 2h0m0 1h0m0 2h0m0 1h0m1 -18h0m0 1h0m0 1h0m0 1h0m0 3h0m0 1h0m0 1h0m0 1h0m0 2h0m0 1h0m0 1h0m0 3h0m0 2h0m1 -17h0m0 1h0m0 1h0m0 1h0m0 1h0m0 1h0m0 2h0m0 1h0m0 1h0m0 2h0m0 1h0m0 1h0m0 1h0m0 2h0m0 1h0m1 -18h0m0 1h0m0 1h0m0 1h0m0 1h0m0 1h0m0 1h0m0 2h0m0 1h0m0 2h0m0 1h0m0 2h0m0 2h0m0 1h0m0 1h0m1 -18h0m0 2h0m0 1h0m0 1h0m0 1h0m0 2h0m0 1h0m0 1h0m0 2h0m0 2h0m0 1h0m0 1h0m0 2h0m0 1h0m1 -18h0m0 1h0m0 1h0m0 3h0m0 2h0m0 1h0m0 1h0m0 1h0m0 1h0m0 1h0m0 2h0m0 1h0m0 1h0m0 1h0m0 1h0m1 -18h0m0 1h0m0 1h0m0 1h0m0 1h0m0 1h0m0 1h0m0 1h0m0 1h0m0 1h0m0 1h0m0 1h0m0 1h0m0 1h0m0 2h0m0 1h0m0 1h0m1 -17h0m0 1h0m0 1h0m0 2h0m0 3h0m0 1h0m0 1h0m0 2h0m0 1h0m0 2h0m0 1h0m0 1h0m0 1h0m0 1h0m1 -18h0m0 1h0m0 1h0m0 1h0m0 3h0m0 1h0m0 1h0m0 1h0m0 1h0m0 1h0m0 1h0m0 1h0m0 1h0m0 1h0m0 1h0m0 1h0m0 1h0m1 -18h0m0 2h0m0 1h0m0 1h0m0 1h0m0 1h0m0 2h0m0 1h0m0 1h0m0 1h0m0 1h0m0 1h0m0 1h0m0 1h0m0 1h0m0 1h0" stroke="#ad2742" stroke-width="1.2" stroke-linecap="square" fill="none"/><path d="M0.5 4.5h0m0 12h0m2 1h0m2 -14h0m0 3h0m1 -4h0m0 4h0m0 8h0m4 -14h0m1 10h0m1 -10h0m7 1h0" stroke="#fff" stroke-width="1.2" stroke-linecap="square" fill="none"/><path d="M0.5 8.5h0m1 -3h0m0 13h0m1 -15h0m0 10h0m1 -8h0m0 5h0m1 2h0m2 -10h0m2 -1h0m0 1h0m0 10h0m1 -7h0m0 1h0m1 -2h0m0 1h0m0 9h0m0 1h0m0 2h0m1 -1h0m1 -6h0m0 5h0m1 -14h0m0 9h0m0 6h0m1 -13h0m0 1h0m0 9h0m1 1h0m1 -11h0m0 2h0m0 1h0m0 4h0m0 3h0m1 -8h0m1 2h0m0 11h0" stroke="#2bb5ec" stroke-width="1.2" stroke-linecap="square" fill="none"/><path d="M0.5 14.5h0m0 3h0m1 -17h0m0 16h0m1 2h0m2 -11h0m1 -4h0m1 5h0m1 -1h0m0 2h0m1 -5h0m1 -3h0m0 8h0m0 4h0m0 3h0m2 -9h0m0 4h0m1 -4h0m0 6h0m1 -7h0m0 6h0m1 -6h0m1 12h0m2 -14h0" stroke="#1f6eb0" stroke-width="1.2" stroke-linecap="square" fill="none"/></pattern><pattern id="putc" patternUnits="userSpaceOnUse" width="19" height="19"><path d="M0.5 0.5h0m0 1h0m0 3h0m0 1h0m0 1h0m0 4h0m0 1h0m0 1h0m0 2h0m0 2h0m0 2h0m1 -18h0m0 1h0m0 2h0m0 1h0m0 1h0m0 1h0m0 1h0m0 1h0m0 1h0m0 1h0m0 1h0m0 1h0m0 3h0m0 1h0m0 2h0m1 -17h0m0 1h0m0 1h0m0 2h0m0 1h0m0 2h0m0 1h0m0 2h0m0 1h0m0 1h0m0 3h0m0 1h0m1 -17h0m0 1h0m0 1h0m0 1h0m0 1h0m0 1h0m0 1h0m0 1h0m0 3h0m0 2h0m0 2h0m0 1h0m0 2h0m0 1h0m1 -18h0m0 1h0m0 2h0m0 5h0m0 1h0m0 3h0m0 3h0m0 2h0m0 1h0m1 -18h0m0 1h0m0 1h0m0 5h0m0 1h0m0 1h0m0 1h0m0 3h0m0 1h0m0 4h0m1 -18h0m0 1h0m0 1h0m0 1h0m0 1h0m0 2h0m0 1h0m0 1h0m0 3h0m0 1h0m0 2h0m0 2h0m1 -15h0m0 3h0m0 1h0m0 1h0m0 1h0m0 1h0m0 1h0m0 1h0m0 2h0m0 4h0m0 1h0m0 1h0m1 -17h0m0 1h0m0 2h0m0 1h0m0 1h0m0 1h0m0 1h0m0 2h0m0 1h0m0 2h0m0 3h0m1 -15h0m0 1h0m0 1h0m0 2h0m0 1h0m0 1h0m0 1h0m0 1h0m0 1h0m0 2h0m0 2h0m0 4h0m1 -17h0m0 1h0m0 1h0m0 2h0m0 2h0m0 1h0m0 1h0m0 2h0m0 2h0m0 2h0m0 1h0m0 2h0m1 -15h0m0 4h0m0 2h0m0 1h0m0 1h0m0 2h0m0 3h0m0 1h0m0 1h0m1 -18h0m0 1h0m0 1h0m0 3h0m0 1h0m0 1h0m0 1h0m0 1h0m0 2h0m0 2h0m0 1h0m0 1h0m0 1h0m0 2h0m1 -18h0m0 1h0m0 1h0m0 2h0m0 1h0m0 1h0m0 1h0m0 1h0m0 1h0m0 1h0m0 1h0m0 2h0m0 2h0m1 -13h0m0 1h0m0 3h0m0 3h0m0 1h0m0 1h0m0 2h0m0 1h0m0 1h0m0 1h0m0 1h0m1 -17h0m0 1h0m0 3h0m0 1h0m0 2h0m0 1h0m0 2h0m0 3h0m0 4h0m1 -15h0m0 1h0m0 1h0m0 1h0m0 1h0m0 2h0m0 2h0m0 2h0m0 1h0m0 2h0m0 1h0m0 1h0m0 1h0m1 -18h0m0 2h0m0 3h0m0 1h0m0 1h0m0 2h0m0 1h0m0 1h0m0 1h0m0 1h0m0 1h0m0 1h0m0 2h0m1 -16h0m0 2h0m0 1h0m0 2h0m0 1h0m0 1h0m0 1h0m0 1h0m0 2h0m0 2h0m0 1h0m0 1h0" stroke="#f0c93c" stroke-width="1.2" stroke-linecap="square" fill="none"/><path d="M0.5 2.5h0m0 1h0m0 6h0m0 4h0m1 -11h0m0 11h0m0 4h0m1 -10h0m1 1h0m0 1h0m0 2h0m0 2h0m0 3h0m1 -14h0m0 3h0m0 2h0m0 3h0m0 3h0m0 3h0m1 -13h0m0 1h0m0 1h0m0 7h0m0 4h0m1 -11h0m0 5h0m0 3h0m0 5h0m1 -16h0m0 1h0m0 10h0m0 2h0m1 -15h0m0 3h0m0 11h0m0 1h0m1 -15h0m0 13h0m0 4h0m1 -11h0m0 6h0m0 2h0m0 3h0m1 -12h0m0 3h0m1 -5h0m0 9h0m1 2h0m0 3h0m0 1h0m1 -18h0m0 1h0m0 7h0m1 -5h0m0 3h0m0 5h0m0 1h0m0 2h0m0 1h0m0 1h0m0 2h0m1 -17h0m0 8h0m1 -8h0m0 7h0m0 8h0m1 -16h0m0 5h0m0 6h0" stroke="#33e68f" stroke-width="1.2" stroke-linecap="square" fill="none"/><path d="M0.5 7.5h0m0 1h0m0 7h0m2 -15h0m0 4h0m0 6h0m2 -4h0m0 5h0m1 0h0m0 6h0m1 -2h0m0 2h0m2 -8h0m0 3h0m0 5h0m1 -2h0m1 -11h0m1 -3h0m0 1h0m0 2h0m0 2h0m0 9h0m1 -5h0m1 6h0m1 -11h0m0 2h0m0 11h0m4 0h0" stroke="#1f6eb0" stroke-width="1.2" stroke-linecap="square" fill="none"/><path d="M0.5 17.5h0m1 -3h0m1 0h0m0 1h0m0 3h0m2 -14h0m0 10h0m1 -8h0m2 -6h0m1 18h0m1 -7h0m0 5h0m1 -16h0m0 10h0m1 2h0m0 2h0m2 -11h0m0 9h0m1 -8h0m0 8h0m1 -10h0m0 7h0m1 -2h0m0 4h0m0 3h0m1 -11h0m0 1h0m1 13h0" stroke="#2bb5ec" stroke-width="1.2" stroke-linecap="square" fill="none"/><path d="M5.5 15.5h0m1 -6h0m1 2h0m0 3h0m2 -10h0m2 -4h0m1 4h0m0 13h0m4 -17h0m1 18h0m1 -16h0m0 11h0" stroke="#fff" stroke-width="1.2" stroke-linecap="square" fill="none"/></pattern><pattern id="puts" patternUnits="userSpaceOnUse" width="19" height="19"><path d="M0.5 0.5h0m0 2h0m0 7h0m0 4h0m0 4h0m0 1h0m1 -17h0m0 2h0m0 4h0m0 1h0m0 2h0m0 2h0m0 2h0m0 2h0m1 -15h0m0 1h0m0 1h0m0 5h0m0 3h0m1 -5h0m0 4h0m0 4h0m1 -14h0m0 1h0m0 2h0m0 2h0m0 2h0m0 3h0m0 5h0m0 2h0m0 1h0m1 -6h0m0 3h0m0 2h0m0 1h0m1 -17h0m0 1h0m0 9h0m0 1h0m0 3h0m0 1h0m0 2h0m1 -16h0m0 3h0m0 7h0m0 2h0m0 4h0m1 -17h0m0 11h0m0 3h0m0 2h0m1 -17h0m0 1h0m0 7h0m0 4h0m0 1h0m1 -12h0m0 2h0m0 3h0m0 1h0m0 6h0m1 -13h0m0 1h0m0 1h0m0 4h0m0 3h0m0 5h0m0 1h0m0 1h0m0 1h0m0 1h0m1 -15h0m0 2h0m0 2h0m0 3h0m0 1h0m0 6h0m1 -13h0m0 1h0m0 2h0m0 3h0m0 4h0m0 2h0m1 -16h0m0 1h0m0 4h0m0 1h0m0 6h0m0 5h0m0 1h0m1 -18h0m0 3h0m0 4h0m0 6h0m0 5h0m1 -17h0m0 1h0m0 1h0m0 4h0m0 1h0m0 4h0m0 2h0m1 -10h0m0 1h0m0 3h0m0 1h0m0 3h0m1 -11h0m0 3h0m0 4h0m0 10h0" stroke="#bdbdbd" stroke-width="1.2" stroke-linecap="square" fill="none"/><path d="M0.5 1.5h0m0 2h0m0 1h0m0 1h0m0 1h0m0 4h0m0 1h0m0 1h0m0 2h0m1 -14h0m0 4h0m0 2h0m0 3h0m0 2h0m0 2h0m0 2h0m0 2h0m1 -17h0m0 4h0m0 1h0m0 1h0m0 1h0m0 2h0m0 1h0m0 2h0m0 1h0m0 1h0m0 1h0m0 1h0m0 1h0m0 1h0m1 -18h0m0 2h0m0 1h0m0 1h0m0 1h0m0 2h0m0 1h0m0 1h0m0 2h0m0 1h0m0 1h0m0 2h0m0 1h0m0 1h0m0 1h0m1 -16h0m0 2h0m0 2h0m0 2h0m0 1h0m0 2h0m0 1h0m0 1h0m0 1h0m0 2h0m1 -16h0m0 1h0m0 1h0m0 1h0m0 1h0m0 1h0m0 1h0m0 1h0m0 2h0m0 1h0m0 1h0m0 2h0m0 1h0m1 -14h0m0 3h0m0 1h0m0 1h0m0 1h0m0 1h0m0 2h0m0 1h0m0 3h0m0 1h0m0 3h0m1 -17h0m0 1h0m0 2h0m0 1h0m0 2h0m0 1h0m0 2h0m0 1h0m0 3h0m0 3h0m0 1h0m1 -17h0m0 2h0m0 2h0m0 1h0m0 1h0m0 1h0m0 1h0m0 1h0m0 1h0m0 1h0m0 2h0m0 1h0m0 2h0m0 2h0m1 -16h0m0 1h0m0 1h0m0 1h0m0 1h0m0 1h0m0 2h0m0 1h0m0 1h0m0 4h0m0 1h0m0 1h0m0 1h0m1 -18h0m0 2h0m0 2h0m0 1h0m0 3h0m0 1h0m0 2h0m0 1h0m0 2h0m0 1h0m0 1h0m0 1h0m0 1h0m1 -15h0m0 1h0m0 1h0m0 2h0m0 1h0m0 2h0m0 1h0m0 1h0m1 -11h0m0 1h0m0 2h0m0 2h0m0 3h0m0 3h0m0 1h0m0 1h0m0 1h0m0 1h0m0 2h0m1 -18h0m0 1h0m0 1h0m0 1h0m0 5h0m0 1h0m0 2h0m0 1h0m0 1h0m0 2h0m0 3h0m1 -16h0m0 1h0m0 1h0m0 3h0m0 1h0m0 1h0m0 1h0m0 1h0m0 2h0m0 1h0m0 1h0m1 -14h0m0 1h0m0 2h0m0 1h0m0 1h0m0 2h0m0 1h0m0 1h0m0 1h0m0 1h0m0 2h0m0 1h0m0 1h0m0 1h0m1 -13h0m0 1h0m0 1h0m0 3h0m0 1h0m0 1h0m0 2h0m0 2h0m0 1h0m1 -16h0m0 1h0m0 1h0m0 1h0m0 3h0m0 1h0m0 3h0m0 3h0m0 1h0m0 1h0m0 1h0m0 1h0m0 1h0m1 -18h0m0 2h0m0 1h0m0 2h0m0 1h0m0 1h0m0 2h0m0 1h0m0 2h0m0 2h0m0 2h0m0 1h0" stroke="#ad2742" stroke-width="1.2" stroke-linecap="square" fill="none"/><path d="M0.5 7.5h0m0 8h0m1 -13h0m0 3h0m2 -4h0m2 15h0m1 -8h0m1 0h0m0 3h0m0 4h0m1 -12h0m2 7h0m2 -10h0m0 8h0m1 -2h0m0 11h0m1 -1h0m2 -16h0m0 17h0m2 -6h0m0 2h0m0 2h0" stroke="#1f6eb0" stroke-width="1.2" stroke-linecap="square" fill="none"/><path d="M0.5 8.5h0m0 8h0m1 2h0m4 -10h0m4 6h0m2 -1h0m5 5h0m1 -7h0" stroke="#fff" stroke-width="1.2" stroke-linecap="square" fill="none"/></pattern><pattern id="psgc" patternUnits="userSpaceOnUse" width="19" height="19"><path d="M0.5 0.5h0m0 1h0m0 1h0m0 1h0m0 1h0m0 1h0m0 1h0m0 2h0m0 1h0m0 1h0m0 1h0m0 1h0m0 2h0m0 1h0m0 1h0m0 1h0m0 1h0m1 -18h0m0 1h0m0 1h0m0 1h0m0 1h0m0 1h0m0 1h0m0 1h0m0 1h0m0 1h0m0 1h0m0 1h0m0 2h0m0 1h0m0 2h0m0 1h0m0 1h0m1 -18h0m0 1h0m0 1h0m0 1h0m0 2h0m0 1h0m0 1h0m0 1h0m0 1h0m0 1h0m0 1h0m0 1h0m0 1h0m0 1h0m0 1h0m0 1h0m0 1h0m0 1h0m1 -17h0m0 1h0m0 1h0m0 1h0m0 1h0m0 1h0m0 1h0m0 1h0m0 1h0m0 1h0m0 1h0m0 1h0m0 1h0m0 1h0m0 1h0m0 1h0m0 1h0m0 1h0m1 -18h0m0 1h0m0 1h0m0 1h0m0 3h0m0 1h0m0 2h0m0 1h0m0 1h0m0 1h0m0 1h0m0 1h0m0 1h0m0 1h0m0 1h0m0 1h0m1 -18h0m0 1h0m0 1h0m0 1h0m0 1h0m0 1h0m0 1h0m0 1h0m0 3h0m0 1h0m0 1h0m0 2h0m0 1h0m0 1h0m0 1h0m0 1h0m1 -18h0m0 1h0m0 1h0m0 1h0m0 1h0m0 1h0m0 1h0m0 1h0m0 2h0m0 1h0m0 1h0m0 1h0m0 1h0m0 1h0m0 1h0m0 1h0m0 1h0m0 1h0m1 -18h0m0 2h0m0 1h0m0 1h0m0 1h0m0 1h0m0 2h0m0 1h0m0 1h0m0 1h0m0 1h0m0 1h0m0 1h0m0 1h0m0 1h0m0 1h0m0 1h0m1 -17h0m0 1h0m0 1h0m0 1h0m0 1h0m0 1h0m0 1h0m0 2h0m0 1h0m0 1h0m0 1h0m0 1h0m0 1h0m0 1h0m0 1h0m0 1h0m0 1h0m1 -18h0m0 1h0m0 1h0m0 1h0m0 1h0m0 1h0m0 1h0m0 1h0m0 2h0m0 1h0m0 1h0m0 1h0m0 1h0m0 1h0m0 1h0m0 2h0m0 1h0m1 -18h0m0 1h0m0 1h0m0 1h0m0 1h0m0 1h0m0 1h0m0 1h0m0 1h0m0 1h0m0 1h0m0 1h0m0 1h0m0 2h0m0 1h0m0 2h0m0 1h0m1 -18h0m0 1h0m0 2h0m0 1h0m0 2h0m0 1h0m0 1h0m0 1h0m0 1h0m0 1h0m0 1h0m0 1h0m0 1h0m0 1h0m0 1h0m0 1h0m0 1h0m1 -18h0m0 1h0m0 1h0m0 1h0m0 1h0m0 1h0m0 1h0m0 1h0m0 4h0m0 1h0m0 1h0m0 1h0m0 2h0m0 2h0m1 -18h0m0 1h0m0 1h0m0 1h0m0 1h0m0 1h0m0 1h0m0 1h0m0 1h0m0 1h0m0 1h0m0 1h0m0 1h0m0 1h0m0 1h0m0 1h0m0 1h0m0 1h0m0 1h0m1 -18h0m0 1h0m0 1h0m0 1h0m0 1h0m0 1h0m0 1h0m0 1h0m0 1h0m0 1h0m0 1h0m0 1h0m0 1h0m0 1h0m0 1h0m0 1h0m0 1h0m0 1h0m0 1h0m1 -18h0m0 1h0m0 1h0m0 1h0m0 1h0m0 1h0m0 2h0m0 1h0m0 1h0m0 1h0m0 2h0m0 1h0m0 1h0m0 1h0m0 1h0m0 1h0m0 1h0m1 -18h0m0 1h0m0 1h0m0 1h0m0 1h0m0 1h0m0 2h0m0 1h0m0 1h0m0 1h0m0 1h0m0 1h0m0 1h0m0 1h0m0 1h0m0 1h0m0 1h0m0 1h0m1 -18h0m0 1h0m0 1h0m0 1h0m0 1h0m0 1h0m0 1h0m0 1h0m0 1h0m0 1h0m0 1h0m0 1h0m0 2h0m0 3h0m0 2h0m1 -17h0m0 1h0m0 1h0m0 1h0m0 1h0m0 1h0m0 1h0m0 1h0m0 1h0m0 1h0m0 1h0m0 1h0m0 1h0m0 1h0m0 2h0m0 1h0m0 1h0" stroke="#f0c93c" stroke-width="1.2" stroke-linecap="square" fill="none"/><path d="M0.5 7.5h0m4 -3h0m3 -3h0m0 6h0m1 1h0m1 0h0m3 0h0m0 7h0" stroke="#2bb5ec" stroke-width="1.2" stroke-linecap="square" fill="none"/><path d="M0.5 13.5h0m4 -8h0m2 3h0m4 8h0m7 1h0m1 -17h0m0 15h0" stroke="#33e68f" stroke-width="1.2" stroke-linecap="square" fill="none"/><path d="M1.5 12.5h0m2 -12h0m1 8h0m1 1h0m4 7h0m2 -11h0m1 4h0m0 1h0m0 7h0m3 -11h0m1 0h0m1 8h0m0 1h0" stroke="#1f6eb0" stroke-width="1.2" stroke-linecap="square" fill="none"/><path d="M1.5 15.5h0m1 -11h0m3 4h0m0 5h0m3 -13h0m2 13h0m1 -11h0m4 9h0m2 1h0" stroke="#fff" stroke-width="1.2" stroke-linecap="square" fill="none"/></pattern><pattern id="psgs" patternUnits="userSpaceOnUse" width="19" height="19"><path d="M0.5 0.5h0m0 1h0m0 2h0m0 1h0m0 1h0m0 1h0m0 1h0m0 1h0m0 1h0m0 1h0m0 1h0m0 1h0m0 1h0m0 1h0m0 1h0m0 2h0m0 1h0m1 -18h0m0 1h0m0 1h0m0 1h0m0 1h0m0 1h0m0 1h0m0 1h0m0 1h0m0 1h0m0 1h0m0 1h0m0 1h0m0 1h0m0 1h0m0 1h0m0 1h0m0 1h0m0 1h0m1 -18h0m0 1h0m0 1h0m0 1h0m0 1h0m0 1h0m0 1h0m0 2h0m0 2h0m0 1h0m0 1h0m0 1h0m0 1h0m0 1h0m0 1h0m0 2h0m1 -18h0m0 1h0m0 1h0m0 1h0m0 1h0m0 1h0m0 1h0m0 1h0m0 1h0m0 1h0m0 1h0m0 1h0m0 1h0m0 1h0m0 1h0m0 3h0m0 1h0m1 -18h0m0 1h0m0 1h0m0 1h0m0 1h0m0 1h0m0 1h0m0 1h0m0 1h0m0 1h0m0 1h0m0 2h0m0 1h0m0 1h0m0 1h0m0 1h0m0 2h0m1 -18h0m0 1h0m0 1h0m0 1h0m0 1h0m0 1h0m0 1h0m0 1h0m0 1h0m0 2h0m0 1h0m0 1h0m0 1h0m0 1h0m0 3h0m1 -17h0m0 2h0m0 1h0m0 1h0m0 1h0m0 2h0m0 1h0m0 1h0m0 1h0m0 1h0m0 1h0m0 1h0m0 1h0m0 1h0m0 1h0m0 1h0m0 1h0m1 -18h0m0 2h0m0 2h0m0 1h0m0 1h0m0 1h0m0 1h0m0 2h0m0 1h0m0 2h0m0 1h0m0 1h0m0 1h0m0 1h0m0 1h0m1 -17h0m0 1h0m0 2h0m0 1h0m0 1h0m0 1h0m0 1h0m0 1h0m0 2h0m0 1h0m0 1h0m0 1h0m0 1h0m0 1h0m0 1h0m1 -17h0m0 1h0m0 1h0m0 1h0m0 1h0m0 1h0m0 1h0m0 1h0m0 1h0m0 1h0m0 1h0m0 1h0m0 2h0m0 1h0m0 2h0m0 1h0m0 1h0m1 -18h0m0 1h0m0 1h0m0 1h0m0 2h0m0 1h0m0 1h0m0 1h0m0 1h0m0 1h0m0 1h0m0 2h0m0 1h0m0 1h0m0 1h0m0 1h0m0 1h0m1 -18h0m0 1h0m0 1h0m0 1h0m0 1h0m0 1h0m0 1h0m0 1h0m0 1h0m0 1h0m0 1h0m0 1h0m0 1h0m0 1h0m0 1h0m0 2h0m0 1h0m0 1h0m1 -18h0m0 1h0m0 1h0m0 2h0m0 1h0m0 1h0m0 1h0m0 1h0m0 1h0m0 1h0m0 1h0m0 3h0m0 1h0m0 1h0m0 1h0m0 1h0m1 -18h0m0 1h0m0 1h0m0 1h0m0 1h0m0 1h0m0 1h0m0 1h0m0 1h0m0 1h0m0 1h0m0 1h0m0 2h0m0 1h0m0 1h0m0 1h0m0 1h0m0 1h0m1 -18h0m0 1h0m0 1h0m0 1h0m0 1h0m0 2h0m0 1h0m0 1h0m0 1h0m0 1h0m0 1h0m0 1h0m0 1h0m0 1h0m0 1h0m0 1h0m0 1h0m0 1h0m1 -18h0m0 1h0m0 1h0m0 1h0m0 1h0m0 1h0m0 1h0m0 1h0m0 1h0m0 1h0m0 1h0m0 1h0m0 3h0m0 1h0m0 1h0m0 1h0m0 1h0m1 -18h0m0 1h0m0 1h0m0 1h0m0 1h0m0 3h0m0 1h0m0 1h0m0 1h0m0 1h0m0 1h0m0 1h0m0 1h0m0 1h0m0 1h0m0 1h0m0 1h0m1 -18h0m0 1h0m0 1h0m0 1h0m0 1h0m0 1h0m0 1h0m0 1h0m0 1h0m0 1h0m0 1h0m0 1h0m0 1h0m0 1h0m0 1h0m0 1h0m0 1h0m0 1h0m0 1h0m1 -18h0m0 1h0m0 1h0m0 1h0m0 2h0m0 1h0m0 1h0m0 1h0m0 1h0m0 1h0m0 1h0m0 1h0m0 1h0m0 1h0m0 1h0m0 2h0m0 1h0" stroke="#ad2742" stroke-width="1.2" stroke-linecap="square" fill="none"/><path d="M0.5 2.5h0m5 13h0m0 1h0m11 -11h0m2 -1h0" stroke="#fff" stroke-width="1.2" stroke-linecap="square" fill="none"/><path d="M0.5 16.5h0m2 -9h0m0 2h0m0 8h0m2 0h0m2 -16h0m2 2h0m1 12h0m1 -11h0m0 8h0m1 3h0m2 -3h0m2 0h0m0 1h0" stroke="#2bb5ec" stroke-width="1.2" stroke-linecap="square" fill="none"/><path d="M3.5 15.5h0m0 1h0m3 -10h0m1 3h0m0 3h0" stroke="#f0c93c" stroke-width="1.2" stroke-linecap="square" fill="none"/><path d="M4.5 11.5h0m1 -2h0m0 9h0m2 -17h0m0 2h0m1 -3h0m0 10h0m0 8h0m1 -6h0m3 -9h0m0 9h0m0 1h0m2 -8h0m2 1h0m2 10h0" stroke="#1f6eb0" stroke-width="1.2" stroke-linecap="square" fill="none"/></pattern><pattern id="pdrc" patternUnits="userSpaceOnUse" width="19" height="19"><path d="M0.5 0.5h0m0 14h0m0 1h0m0 2h0m1 -10h0m0 9h0m2 -10h0m0 6h0m1 -12h0m0 9h0m0 1h0m0 6h0m0 1h0m1 -12h0m0 2h0m1 -3h0m0 3h0m0 4h0m1 -10h0m0 9h0m0 2h0m0 2h0m1 -13h0m0 3h0m0 9h0m0 4h0m1 -1h0m1 -12h0m0 1h0m0 9h0m0 2h0m0 2h0m2 -16h0m0 6h0m0 1h0m0 9h0m1 -15h0m0 13h0m1 -9h0m0 1h0m0 4h0m1 -11h0m0 1h0m0 9h0m1 2h0m0 5h0m1 -15h0m0 2h0m0 5h0m0 4h0m0 4h0m1 -8h0m0 4h0" stroke="#2bb5ec" stroke-width="1.2" stroke-linecap="square" fill="none"/><path d="M0.5 1.5h0m0 2h0m2 13h0m1 -15h0m0 2h0m0 7h0m2 -9h0m0 13h0m1 0h0m0 1h0m1 -11h0m0 3h0m0 6h0m1 -5h0m0 4h0m0 4h0m0 2h0m1 -8h0m0 3h0m1 -13h0m0 10h0m0 3h0m1 0h0m1 -6h0m0 9h0m1 -3h0m1 1h0m0 1h0m1 -12h0m0 1h0m0 2h0m0 2h0m0 9h0m1 -14h0m0 12h0m0 1h0m1 -15h0m1 1h0m0 7h0m0 8h0" stroke="#1f6eb0" stroke-width="1.2" stroke-linecap="square" fill="none"/><path d="M0.5 2.5h0m0 8h0m0 1h0m0 1h0m1 -10h0m0 2h0m0 4h0m0 2h0m0 7h0m1 -12h0m0 2h0m0 5h0m0 1h0m0 2h0m1 -1h0m0 2h0m1 -4h0m0 2h0m0 4h0m1 -14h0m0 2h0m0 2h0m0 5h0m0 3h0m1 -14h0m0 1h0m0 9h0m1 -6h0m0 2h0m0 7h0m0 3h0m1 -12h0m0 3h0m1 -8h0m0 2h0m0 6h0m0 3h0m1 -10h0m1 2h0m0 1h0m0 3h0m1 -4h0m0 1h0m0 8h0m0 2h0m1 -11h0m0 1h0m0 3h0m0 1h0m1 -8h0m0 17h0m1 -18h0m0 15h0m0 1h0m0 2h0m1 -17h0m0 1h0m0 2h0m0 1h0m1 2h0m0 6h0m0 4h0m1 -17h0m0 8h0m0 4h0" stroke="#33e68f" stroke-width="1.2" stroke-linecap="square" fill="none"/><path d="M0.5 4.5h0m0 2h0m0 1h0m0 1h0m0 1h0m0 4h0m0 3h0m0 2h0m1 -18h0m0 1h0m0 2h0m0 2h0m0 4h0m0 3h0m0 1h0m0 1h0m0 4h0m1 -18h0m0 1h0m0 1h0m0 1h0m0 1h0m0 2h0m0 2h0m0 1h0m0 1h0m0 1h0m0 3h0m0 3h0m0 1h0m1 -18h0m0 4h0m0 1h0m0 4h0m0 4h0m0 2h0m0 2h0m0 1h0m1 -17h0m0 1h0m0 1h0m0 1h0m0 1h0m0 1h0m0 1h0m0 1h0m0 3h0m0 2h0m0 2h0m1 -15h0m0 2h0m0 7h0m0 1h0m0 1h0m0 1h0m0 3h0m0 2h0m0 1h0m1 -18h0m0 1h0m0 4h0m0 1h0m0 2h0m0 1h0m0 1h0m0 3h0m0 3h0m0 1h0m0 1h0m1 -18h0m0 2h0m0 1h0m0 2h0m0 4h0m0 8h0m1 -17h0m0 2h0m0 1h0m0 2h0m0 5h0m0 1h0m0 4h0m1 -15h0m0 2h0m0 2h0m0 3h0m0 1h0m0 3h0m0 4h0m0 2h0m0 1h0m1 -17h0m0 5h0m0 1h0m0 1h0m0 1h0m0 2h0m0 1h0m0 3h0m1 -15h0m0 1h0m0 1h0m0 1h0m0 3h0m0 1h0m0 2h0m0 1h0m0 1h0m0 1h0m0 2h0m0 1h0m0 1h0m0 2h0m1 -18h0m0 6h0m0 4h0m0 1h0m0 1h0m0 2h0m0 3h0m1 -17h0m0 1h0m0 1h0m0 5h0m0 3h0m0 1h0m0 3h0m0 1h0m0 3h0m1 -18h0m0 2h0m0 1h0m0 1h0m0 1h0m0 1h0m0 4h0m0 1h0m0 2h0m0 3h0m0 1h0m1 -12h0m0 2h0m0 2h0m0 1h0m0 2h0m0 1h0m1 -13h0m0 6h0m0 1h0m0 1h0m0 2h0m0 1h0m0 1h0m0 2h0m1 -14h0m0 4h0m0 2h0m0 2h0m0 1h0m0 3h0m0 3h0m1 -14h0m0 2h0m0 1h0m0 1h0m0 6h0m0 4h0m0 1h0m0 2h0" stroke="#f0c93c" stroke-width="1.2" stroke-linecap="square" fill="none"/><path d="M0.5 5.5h0m1 6h0m2 -9h0m0 6h0m0 3h0m2 -8h0m2 13h0m2 -11h0m0 1h0m0 8h0m1 -11h0m1 14h0m1 -16h0m1 5h0m0 6h0m0 5h0m3 -8h0m0 8h0m1 -6h0m0 5h0m1 -9h0" stroke="#fff" stroke-width="1.2" stroke-linecap="square" fill="none"/><path d="M1.5 6.5h0m0 9h0m2 -8h0m4 4h0m1 -4h0m0 7h0m2 3h0m2 -14h0m2 6h0m1 5h0m2 -12h0m1 4h0m0 7h0" stroke="#bdbdbd" stroke-width="1.2" stroke-linecap="square" fill="none"/></pattern><pattern id="pdrs" patternUnits="userSpaceOnUse" width="19" height="19"><path d="M0.5 0.5h0m0 10h0m1 5h0m0 1h0m1 -16h0m0 4h0m0 3h0m1 -3h0m0 6h0m1 0h0m0 8h0m1 -6h0m1 -9h0m0 2h0m0 10h0m1 -15h0m0 1h0m0 3h0m0 5h0m0 2h0m1 -3h0m0 4h0m0 6h0m1 -16h0m0 15h0m1 -6h0m0 5h0m1 -1h0m0 1h0m1 -7h0m0 1h0m0 6h0m1 -16h0m0 2h0m0 3h0m0 2h0m0 10h0m1 -17h0m0 3h0m0 11h0m1 -13h0m0 3h0m1 11h0m0 1h0m1 -14h0m1 12h0" stroke="#1f6eb0" stroke-width="1.2" stroke-linecap="square" fill="none"/><path d="M0.5 1.5h0m0 2h0m0 1h0m0 1h0m0 1h0m0 1h0m0 1h0m0 3h0m0 1h0m0 1h0m0 3h0m0 1h0m0 1h0m1 -18h0m0 1h0m0 4h0m0 1h0m0 2h0m0 1h0m0 1h0m0 1h0m0 2h0m0 4h0m1 -16h0m0 2h0m0 5h0m0 1h0m0 1h0m0 2h0m0 1h0m0 1h0m0 1h0m0 1h0m0 2h0m1 -16h0m0 3h0m0 1h0m0 1h0m0 1h0m0 4h0m0 2h0m0 1h0m0 1h0m0 2h0m1 -18h0m0 1h0m0 1h0m0 2h0m0 3h0m0 4h0m0 1h0m0 1h0m0 1h0m0 1h0m0 1h0m1 -16h0m0 2h0m0 2h0m0 2h0m0 1h0m0 1h0m0 1h0m0 1h0m0 1h0m0 3h0m0 1h0m0 2h0m1 -10h0m0 1h0m0 1h0m0 1h0m0 2h0m0 2h0m0 2h0m0 1h0m1 -15h0m0 1h0m0 2h0m0 1h0m0 4h0m0 2h0m0 1h0m0 1h0m0 2h0m0 2h0m1 -18h0m0 1h0m0 3h0m0 3h0m0 2h0m0 1h0m0 1h0m0 2h0m0 1h0m0 1h0m0 1h0m0 1h0m1 -17h0m0 1h0m0 2h0m0 2h0m0 1h0m0 1h0m0 1h0m0 3h0m0 3h0m0 2h0m1 -16h0m0 1h0m0 1h0m0 1h0m0 2h0m0 1h0m0 1h0m0 1h0m0 1h0m0 1h0m0 2h0m0 1h0m0 1h0m0 1h0m0 3h0m1 -18h0m0 1h0m0 1h0m0 4h0m0 1h0m0 1h0m0 2h0m0 2h0m0 2h0m0 4h0m1 -17h0m0 2h0m0 1h0m0 1h0m0 1h0m0 1h0m0 4h0m0 1h0m0 1h0m0 2h0m0 2h0m0 1h0m1 -17h0m0 2h0m0 3h0m0 2h0m0 2h0m0 1h0m0 1h0m0 2h0m0 1h0m0 3h0m1 -17h0m0 3h0m0 3h0m0 2h0m0 1h0m0 2h0m0 1h0m0 3h0m0 1h0m1 -17h0m0 2h0m0 3h0m0 1h0m0 1h0m0 1h0m0 2h0m0 1h0m0 1h0m0 1h0m0 1h0m0 1h0m0 1h0m0 2h0m1 -17h0m0 3h0m0 1h0m0 2h0m0 1h0m0 5h0m0 1h0m0 3h0m0 1h0m1 -18h0m0 3h0m0 1h0m0 1h0m0 2h0m0 2h0m0 1h0m0 2h0m0 1h0m0 3h0m0 1h0m0 1h0m1 -18h0m0 1h0m0 2h0m0 1h0m0 1h0m0 1h0m0 3h0m0 1h0m0 2h0m0 3h0" stroke="#ad2742" stroke-width="1.2" stroke-linecap="square" fill="none"/><path d="M0.5 2.5h0m0 7h0m1 -6h0m0 1h0m0 10h0m2 -13h0m0 2h0m1 0h0m0 3h0m0 2h0m0 1h0m1 4h0m0 5h0m1 -18h0m0 1h0m2 5h0m1 12h0m1 -14h0m0 13h0m1 -12h0m0 12h0m1 -17h0m0 8h0m1 -4h0m0 12h0m1 -10h0m0 2h0m0 3h0m0 7h0m2 -16h0m0 7h0m0 1h0m1 -9h0m0 5h0m0 9h0m1 -8h0m0 1h0m0 10h0" stroke="#f0c93c" stroke-width="1.2" stroke-linecap="square" fill="none"/><path d="M0.5 14.5h0m2 -12h0m0 9h0m1 0h0m0 6h0m1 -12h0m1 -4h0m0 4h0m1 -3h0m0 16h0m1 -10h0m0 9h0m1 -15h0m1 2h0m0 5h0m2 -6h0m0 1h0m0 7h0m0 2h0m1 1h0m1 -5h0m0 4h0m1 -11h0m0 13h0m1 -12h0m0 14h0m1 -6h0m0 1h0m1 -4h0m0 3h0m0 3h0m1 -12h0m0 9h0" stroke="#33e68f" stroke-width="1.2" stroke-linecap="square" fill="none"/><path d="M0.5 15.5h0m1 -13h0m0 5h0m0 11h0m1 -13h0m1 -5h0m0 9h0m0 4h0m1 4h0m1 -1h0m1 -12h0m0 2h0m0 5h0m0 2h0m1 -6h0m0 8h0m1 -12h0m0 2h0m1 5h0m0 2h0m0 1h0m0 2h0m3 -13h0m2 3h0m1 4h0m1 -9h0m0 3h0m2 10h0m0 4h0" stroke="#2bb5ec" stroke-width="1.2" stroke-linecap="square" fill="none"/><path d="M1.5 12.5h0m1 -6h0m0 11h0m3 -14h0m6 6h0m5 -3h0m2 10h0" stroke="#fff" stroke-width="1.2" stroke-linecap="square" fill="none"/></pattern><pattern id="porn" patternUnits="userSpaceOnUse" width="19" height="19"><path d="M0.5 0.5h0m0 2h0m0 1h0m0 1h0m0 1h0m0 3h0m0 1h0m0 1h0m0 1h0m0 2h0m1 -13h0m0 1h0m0 2h0m0 2h0m0 1h0m0 1h0m0 1h0m0 1h0m0 2h0m0 2h0m0 1h0m0 1h0m0 1h0m0 1h0m0 1h0m1 -17h0m0 1h0m0 2h0m0 1h0m0 1h0m0 3h0m0 3h0m0 1h0m0 2h0m0 2h0m0 1h0m1 -18h0m0 1h0m0 1h0m0 3h0m0 1h0m0 1h0m0 2h0m0 1h0m0 1h0m0 1h0m0 2h0m0 1h0m0 1h0m0 1h0m1 -17h0m0 1h0m0 2h0m0 3h0m0 2h0m0 1h0m0 1h0m0 2h0m0 2h0m0 1h0m0 1h0m0 1h0m1 -17h0m0 1h0m0 4h0m0 1h0m0 2h0m0 5h0m0 1h0m0 2h0m0 1h0m0 1h0m1 -18h0m0 1h0m0 1h0m0 2h0m0 2h0m0 1h0m0 1h0m0 2h0m0 2h0m0 1h0m0 1h0m0 4h0m1 -18h0m0 1h0m0 1h0m0 2h0m0 1h0m0 1h0m0 2h0m0 1h0m0 4h0m0 3h0m1 -16h0m0 1h0m0 1h0m0 1h0m0 1h0m0 2h0m0 2h0m0 3h0m0 1h0m0 1h0m0 1h0m0 1h0m0 2h0m1 -17h0m0 3h0m0 3h0m0 1h0m0 2h0m0 2h0m0 2h0m0 2h0m0 2h0m1 -15h0m0 1h0m0 4h0m0 1h0m0 1h0m0 1h0m0 1h0m0 3h0m0 1h0m0 1h0m0 2h0m1 -18h0m0 1h0m0 1h0m0 1h0m0 1h0m0 2h0m0 1h0m0 3h0m0 1h0m0 1h0m0 1h0m0 2h0m0 1h0m0 1h0m1 -15h0m0 1h0m0 1h0m0 1h0m0 1h0m0 1h0m0 1h0m0 1h0m0 2h0m0 1h0m0 2h0m0 2h0m0 2h0m1 -18h0m0 1h0m0 2h0m0 1h0m0 2h0m0 6h0m0 1h0m0 2h0m0 1h0m0 1h0m1 -14h0m0 1h0m0 1h0m0 3h0m0 3h0m0 1h0m0 2h0m0 1h0m0 1h0m0 1h0m0 1h0m1 -17h0m0 2h0m0 6h0m0 2h0m0 1h0m0 2h0m0 1h0m0 1h0m0 1h0m1 -15h0m0 2h0m0 2h0m0 1h0m0 2h0m0 1h0m0 1h0m0 1h0m0 1h0m0 2h0m0 2h0m1 -17h0m0 1h0m0 1h0m0 7h0m0 1h0m0 1h0m0 2h0m0 1h0m0 2h0m0 1h0m1 -17h0m0 1h0m0 1h0m0 1h0m0 1h0m0 1h0m0 1h0m0 2h0m0 4h0m0 2h0m0 3h0" stroke="#ff7f0e" stroke-width="1.2" stroke-linecap="square" fill="none"/><path d="M0.5 1.5h0m0 14h0m1 -5h0m1 6h0m1 2h0m1 0h0m1 -8h0m1 -5h0m0 4h0m1 9h0m4 -4h0m2 -3h0m1 -9h0m1 -2h0m0 6h0m3 3h0" stroke="#fff" stroke-width="1.2" stroke-linecap="square" fill="none"/><path d="M0.5 6.5h0m0 1h0m1 -5h0m0 10h0m1 -1h0m3 -8h0m0 4h0m0 8h0m2 -8h0m0 3h0m1 0h0m1 -8h0m0 6h0m0 4h0m8 -4h0" stroke="#1f6eb0" stroke-width="1.2" stroke-linecap="square" fill="none"/><path d="M0.5 12.5h0m0 2h0m0 2h0m0 1h0m1 -13h0m1 -4h0m0 7h0m0 1h0m0 6h0m1 -11h0m0 5h0m0 5h0m1 -9h0m1 -2h0m0 7h0m0 2h0m1 4h0m0 1h0m0 1h0m1 -14h0m0 11h0m0 1h0m0 2h0m1 -12h0m0 2h0m0 9h0m1 -12h0m0 6h0m0 4h0m0 2h0m0 2h0m1 -14h0m0 1h0m0 1h0m0 6h0m1 -7h0m0 3h0m0 1h0m0 9h0m1 -18h0m0 1h0m0 9h0m1 -5h0m0 2h0m0 1h0m0 1h0m0 1h0m0 8h0m1 -17h0m0 5h0m0 1h0m0 2h0m0 1h0m1 -8h0m0 8h0m0 8h0m1 -18h0m0 1h0m0 2h0m0 2h0m0 3h0m0 10h0m1 -15h0m0 1h0m0 1h0m0 1h0m0 1h0m0 5h0m0 3h0m1 -8h0m0 8h0m0 1h0m0 2h0" stroke="#f0c93c" stroke-width="1.2" stroke-linecap="square" fill="none"/><path d="M0.5 18.5h0m2 -15h0m0 7h0m1 -6h0m1 -2h0m0 3h0m0 2h0m0 4h0m0 2h0m1 -9h0m0 8h0m1 -9h0m0 8h0m1 0h0m0 1h0m1 -3h0m0 9h0m1 -17h0m0 4h0m1 -5h0m0 1h0m0 12h0m0 4h0m2 -4h0m0 2h0m0 2h0m1 -15h0m0 12h0m1 -14h0m0 13h0m1 -9h0m0 1h0m0 2h0m0 1h0m0 5h0m1 1h0m0 2h0m1 2h0m1 -8h0m0 1h0m0 2h0" stroke="#ad2742" stroke-width="1.2" stroke-linecap="square" fill="none"/></pattern><pattern id="pcys" patternUnits="userSpaceOnUse" width="24" height="24"><rect width="24" height="24" fill="#ad2742"/><circle cx="2.7" cy="9.4" r="1.2" fill="#2bb5ec"/><circle cx="3.3" cy="2.7" r="2.2" fill="#2bb5ec"/><circle cx="18.2" cy="3.5" r="1.5" fill="#2bb5ec"/><circle cx="15.9" cy="3.3" r="2.2" fill="#2bb5ec"/><circle cx="10.7" cy="9.9" r="1.9" fill="#2bb5ec"/><circle cx="2.2" cy="0.5" r="2.6" fill="#2bb5ec"/><circle cx="2.2" cy="24.5" r="2.6" fill="#2bb5ec"/><circle cx="26.2" cy="0.5" r="2.6" fill="#2bb5ec"/><circle cx="26.2" cy="24.5" r="2.6" fill="#2bb5ec"/><circle cx="9.7" cy="4.8" r="2.5" fill="#2bb5ec"/><circle cx="8.8" cy="-1.1" r="1.7" fill="#2bb5ec"/><circle cx="8.8" cy="22.9" r="1.7" fill="#2bb5ec"/><circle cx="5.2" cy="14.0" r="1.5" fill="#2bb5ec"/><circle cx="-1.1" cy="20.1" r="2.0" fill="#2bb5ec"/><circle cx="22.9" cy="20.1" r="2.0" fill="#2bb5ec"/><circle cx="4.9" cy="20.1" r="1.7" fill="#2bb5ec"/><circle cx="0.7" cy="17.6" r="2.6" fill="#2bb5ec"/><circle cx="24.7" cy="17.6" r="2.6" fill="#2bb5ec"/><circle cx="15.6" cy="5.2" r="2.4" fill="#2bb5ec"/><circle cx="17.5" cy="4.7" r="2.3" fill="#2bb5ec"/><circle cx="5.3" cy="1.0" r="2.1" fill="#2bb5ec"/><circle cx="5.3" cy="25.0" r="2.1" fill="#2bb5ec"/><circle cx="8.0" cy="9.5" r="1.7" fill="#2bb5ec"/><circle cx="20.1" cy="-0.9" r="2.1" fill="#2bb5ec"/><circle cx="20.1" cy="23.1" r="2.1" fill="#2bb5ec"/><circle cx="-0.2" cy="19.0" r="2.6" fill="#2bb5ec"/><circle cx="23.8" cy="19.0" r="2.6" fill="#2bb5ec"/><circle cx="4.2" cy="15.0" r="1.6" fill="#2bb5ec"/><circle cx="16.2" cy="2.2" r="2.0" fill="#2bb5ec"/><circle cx="22.1" cy="14.4" r="1.5" fill="#2bb5ec"/><circle cx="2.3" cy="9.6" r="2.2" fill="#2bb5ec"/><circle cx="15.6" cy="-0.2" r="2.5" fill="#2bb5ec"/><circle cx="15.6" cy="23.8" r="2.5" fill="#2bb5ec"/><circle cx="10.9" cy="19.2" r="1.5" fill="#2bb5ec"/><circle cx="18.9" cy="13.5" r="1.8" fill="#2bb5ec"/><circle cx="2.4" cy="-0.4" r="1.4" fill="#2bb5ec"/><circle cx="2.4" cy="23.6" r="1.4" fill="#2bb5ec"/><circle cx="4.7" cy="8.0" r="1.4" fill="#2bb5ec"/><circle cx="20.5" cy="11.4" r="2.2" fill="#2bb5ec"/><circle cx="18.9" cy="6.7" r="1.9" fill="#2bb5ec"/><circle cx="14.7" cy="15.3" r="1.7" fill="#2bb5ec"/><circle cx="2.7" cy="3.3" r="1.3" fill="#2bb5ec"/><circle cx="16.6" cy="-0.6" r="2.2" fill="#2bb5ec"/><circle cx="16.6" cy="23.4" r="2.2" fill="#2bb5ec"/><circle cx="6.1" cy="18.4" r="2.3" fill="#2bb5ec"/><circle cx="8.4" cy="0.3" r="2.6" fill="#2bb5ec"/><circle cx="8.4" cy="24.3" r="2.6" fill="#2bb5ec"/><circle cx="6.8" cy="4.2" r="1.7" fill="#2bb5ec"/><circle cx="3.0" cy="20.8" r="1.3" fill="#2bb5ec"/><circle cx="14.7" cy="5.0" r="1.3" fill="#2bb5ec"/></pattern><pattern id="pbks" patternUnits="userSpaceOnUse" width="24" height="24"><rect width="24" height="24" fill="#ad2742"/><circle cx="5.1" cy="7.3" r="1.3" fill="#33e68f"/><circle cx="11.9" cy="17.3" r="2.5" fill="#33e68f"/><circle cx="12.2" cy="20.2" r="1.3" fill="#33e68f"/><circle cx="-1.3" cy="21.2" r="1.9" fill="#33e68f"/><circle cx="22.7" cy="21.2" r="1.9" fill="#33e68f"/><circle cx="0.0" cy="18.1" r="1.7" fill="#33e68f"/><circle cx="24.0" cy="18.1" r="1.7" fill="#33e68f"/><circle cx="0.2" cy="17.5" r="1.4" fill="#33e68f"/><circle cx="24.2" cy="17.5" r="1.4" fill="#33e68f"/><circle cx="20.1" cy="-1.1" r="2.4" fill="#33e68f"/><circle cx="20.1" cy="22.9" r="2.4" fill="#33e68f"/><circle cx="2.0" cy="2.9" r="1.5" fill="#33e68f"/><circle cx="2.7" cy="3.8" r="2.6" fill="#33e68f"/><circle cx="1.2" cy="0.9" r="1.2" fill="#33e68f"/><circle cx="1.2" cy="24.9" r="1.2" fill="#33e68f"/><circle cx="25.2" cy="0.9" r="1.2" fill="#33e68f"/><circle cx="25.2" cy="24.9" r="1.2" fill="#33e68f"/><circle cx="3.9" cy="7.4" r="1.7" fill="#33e68f"/><circle cx="4.0" cy="19.5" r="2.5" fill="#33e68f"/><circle cx="13.6" cy="13.8" r="2.2" fill="#33e68f"/><circle cx="14.1" cy="5.5" r="2.3" fill="#33e68f"/></pattern></defs><g filter="url(#gsoft)"><text x="-0.3" y="5.2" font-weight="bold" font-size="10">a</text><text x="97.5" y="13.7" text-anchor="middle">Cell types</text><path d="M89.6 68.8h0m2.2 -4.2h0m31.1 8.8h0m-31.3 -14.2h0m32.7 1.3h0m-61.6 -31.3h0m18.4 62.9h0m33.5 -34.5h0m-53.3 40.2h0m6.3 6.6h0m11.5 -21.4h0m8.6 8.4h0m9.2 -.1h0m-42.7 -56.4h0m62.2 49.9h0m-26.6 -10.6h0m10.4 7.9h0m1.7 -35.1h0m-18.6 54h0m-23.9 -39.2h0m27.2 27.8h0m7 -40.4h0m-20 24.5h0m28.7 -37.3h0m-48.9 47.1h0m46.6 -25.2h0m-20.7 46.2h0m-21.9 -48.5h0m-1 40.9h0m42.4 4.9h0m17 -73.6h0m-40.5 18.4h0m-11.4 -22h0m28.4 78.2h0m-18 -57.3h0m1.6 30.9h0m11.4 12.1h0m-19.9 -32.6h0m7.9 -3h0m-19.8 -11.5h0m15.3 60.5h0m25.7 -34.9h0m-12.1 -31.7h0m-26.4 60.1h0m44 -30.1h0m-44.2 28.6h0m34.5 7h0m-8.5 -3.1h0m-17.4 -49.1h0m8 30.5h0m5.3 -1.7h0m-27.3 -41.3h0m29.7 -6.8h0m3.4 35.5h0m13.5 22.5h0m-43.6 -17.2h0m13.9 28.5h0m-6.7 -2.5h0m32.6 7.9h0m6.4 -45.6h0m-36 -3h0m8.2 15.4h0m19.2 -30.7h0m-39.1 37.1h0m22.6 -.2h0m-20.1 11.5h0m5.7 -3.9h0m-1 -16.8h0m37.3 24.1h0m-1.5 -33.3h0m-30.6 -31.8h0m29.5 58.3h0m-20.7 -34.4h0m47.1 -22.6h0m-33.4 75.8h0m-28.5 -79h0m-2 30.3h0m23.6 -.5h0m-28.2 19.9h0m31.9 -19.4h0m-7.3 -5.2h0m15.1 -13.1h0m-38.8 -6h0m14.1 13h0m-10.5 33.6h0m16.6 -7.4h0m8 -13h0m-28.3 6.3h0m17.7 31.8h0m3.8 -48.7h0m-7.4 -8.7h0m20.9 48.1h0m-32.9 -4.5h0m27.6 -6.9h0m-18.2 13.7h0m-4.2 -33.1h0m-1.6 -13.3h0m15.2 2.6h0m19.5 12.6h0m-24.6 26.5h0m27.6 -27.4h0m.4 13.3h0m26.5 -12h0m-71.8 14.7h0m47 -46.1h0m-11.3 45.5h0m-32.3 17.3h0m4.8 -13.3h0m45.4 11.7h0m-51.7 1h0m16.1 -39.3h0m21 -15h0m-6.9 55.9h0m-12.9 -9.4h0m10.7 -46.3h0m-26.3 23.4h0m23.5 26h0m-7.1 -16.7h0m25.7 -33.3h0m-35.2 52.9h0m18.6 -13.4h0m-17.7 10.3h0m37.7 -15.5h0m-35.2 -5.2h0m15.2 39.1h0m12.2 1.1h0m-30.9 -58.9h0m-2.6 20.7h0m-7.3 -4.5h0m54.9 -8.4h0m-11.1 -12.3h0m-13.4 23.4h0m-13.5 17.5h0m25.4 -9.1h0m20.3 1.9h0m-14.3 -22.5h0m-7.8 36.3h0m7.3 -42.8h0m-31.9 38.1h0m14 21.4h0m-4.5 -69.2h0m23 32.8h0m-35.8 17.8h0m-.9 -58.2h0m33.8 76.3h0m-26.7 -34.4h0m48.5 33.3h0m-32.7 -71.7h0m-34.4 60.3h0m3.3 5.9h0m14.6 -9h0m24.6 -33h0m32 45.2h0m-27 -36.8h0m-17.8 -6.6h0m3 -24.3h0m-28.9 55.5h0m31.5 -34.5h0m.8 -4h0m-7 -1h0m-25 25.1h0m2.5 -3.8h0m36.4 -32.4h0m-32.1 42.5h0m12.2 -2.8h0m-10.4 17.5h0m-10.2 -56.3h0m14.4 56.7h0m22.6 -45.7h0m-19.9 54.4h0m-13.3 -25.8h0m-.6 -44.8h0m33 32.3h0m-9.2 -9.9h0m6.8 .6h0m-23.9 37.6h0m25.5 3.1h0m-21 -26.1h0m-.5 30.8h0m8.1 -10.9h0m15.1 -63.5h0m-31.3 20.5h0m13.3 32.5h0m-4.3 -56.1h0m-8.1 36.8h0m32 -4.7h0m-20.9 48.8h0m7 -74.6h0m13.7 4.3h0m-24.4 1h0m22.3 61.2h0m-58 -65.1h0m42.2 25.5h0m.6 -23.8h0m-20.4 52h0m26.2 -19.7h0m-17.1 -6.2h0m3.6 32.9h0m13.5 -26.3h0m-10 -22.7h0m17.2 18.4h0m-23.1 -8h0m-9.1 35.7h0m29.8 2.4h0m-24.7 -34.1h0m-7.8 25.3h0m8.5 -35.1h0m7.7 36.7h0m5.3 16h0m18.7 -17.2h0m-35.3 -53h0m10.4 1.9h0m-.7 24.7h0m-15.1 30.5h0m4.8 -21.2h0m66.6 11.4h0m-50.7 -2.1h0m44.6 18.1h0m-45.3 -69.5h0m16.3 72.3h0m-11.1 -62.6h0m4.6 54.9h0m16.7 -43.4h0m-2.3 .2h0m-41.3 -4.1h0m43.9 57.3h0m-18.6 -32.4h0m-20.8 29.4h0m13.3 5h0m-20.3 -64.4h0m18.4 3.9h0m-18.5 15.4h0m6.2 12.9h0m32.1 -35.5h0m2.4 -7h0m-8.2 2.2h0m-59.7 29.9h0m58.1 34h0m-23.4 -6.9h0m-7.9 -53.4h0m13.6 22.6h0m7.1 4.5h0m-12.2 11.4h0m38 -32.7h0m27.2 3.5h0m-17 61.5h0m-22.6 -27.2h0m3.8 -6.9h0m-39.5 -9.4h0m39.8 29h0m-38.9 14.7h0m16.1 -58.5h0m16.8 34.8h0m.3 -22.9h0m-17.4 48.2h0m29.1 -66.3h0m-43.1 48.8h0m33.7 -.9h0m11.9 -33.4h0m-16.4 34.6h0m-2.4 4.7h0m-26.8 -18.6h0m29.8 1.6h0m-10.7 -50.3h0m-14 .7h0m-3.7 3.2h0m-.2 33.3h0m-.4 -28.5h0m-16.1 21.6h0m29.6 -1.9h0m10.7 -21.7h0m-7.6 50.1h0m9.8 -9.7h0m-8.1 -21.4h0m9.7 12.7h0m-31 10.7h0m1.3 -6.7h0m7.3 -34h0m39.1 52.1h0m-15.2 -17.7h0m-6.5 -43.5h0m36 32.9h0m-56 12h0m23.2 -30.6h0m15.9 22.8h0m-42.4 39.8h0m33.8 -2h0m1.6 -14.6h0m-26 -54.8h0m9.3 53.7h0m13.4 -7.8h0m-13.7 7.9h0m-10.9 7.2h0m-5 -16h0m19.9 23.9h0m11.8 -73.4h0m-24.3 55.7h0m-3.4 -6h0m34.4 14h0m-40.8 -24.6h0m7.9 -24.9h0m1.9 42.4h0m-13.1 8.5h0m9.8 -16.5h0m5.2 -37.8h0m31.5 67.4h0m-8.9 -15.5h0m-17.2 -63.3h0m15.6 43.5h0m-18.5 -28.1h0m16.7 1.9h0m-13.9 61.3h0m30.4 -39.7h0m-9.9 -34.5h0m-27.4 61.1h0m3.2 -30.6h0m21.5 41.7h0m-28.2 -36.8h0" stroke="#f7b6d2" stroke-width="2.24" stroke-linecap="round" fill="none"/><path d="M45.5 65h0m.9 -21.9h0m3.2 54.1h0m-5.2 -28.4h0m2.1 14h0m10.7 -58.4h0m-6.8 32.6h0m2.1 22.1h0m99.8 -21.4h0m-107.4 2.6h0m53.3 42.8h0m-50.9 -49.2h0m54.1 45.5h0m-70.3 -5h0m3.3 -13.5h0m10.2 -52.3h0m-11.6 9.9h0m10.5 46.4h0m-5.2 -53.7h0m42.8 49h0m-43.7 16.5h0m129.8 -.6h0m-118.8 -21.4h0m86.3 -25.8h0m-106.6 -7.3h0m-5.6 30.5h0m31.4 -12.9h0m-9.2 -23.4h0m-1.3 8.3h0m7.3 58h0m-11.8 -41.7h0m14.1 -16.4h0m101.1 10.4h0m-127 25.1h0m13.3 19.9h0m-11.6 -4.4h0m8.7 -14.3h0m11.3 -34.5h0m3.5 1h0m53.1 26.9h0m-69.6 -45.5h0m-3.9 52h0m3 -30.4h0m4.4 -12.5h0m48.8 53.3h0m-44 -65.3h0m-9.5 3.9h0m46.8 51h0m-48.5 22.9h0m6.6 -28.6h0m82.6 24.5h0m-90.5 -72.9h0m15.8 77.6h0m14.9 -11.4h0m29.4 -43.6h0m-42.1 4.4h0m-7 22.6h0m93 10.3h0m-99.2 -55.7h0m4.2 71.4h0m-.2 -12.3h0m11.4 -58.3h0m-17.3 17.9h0m.9 44.9h0m-3 -10.7h0m9.7 -31.8h0m58.7 3.2h0m53.1 -2.5h0m-102.8 -12.9h0m-19.2 29.7h0m13.6 -3.1h0m-1.5 -30.5h0m10.3 40.8h0m5.8 23h0m-14.6 -47.8h0m20.2 -13.4h0m-37.2 3.3h0m13.4 -4.1h0m1.3 44.6h0m43.3 -3.1h0m8.8 -7.9h0m-43.8 22.5h0m.8 -7.7h0m79 -16.9h0m-88 -16.7h0m12.8 -5.1h0m-5.3 12.5h0m-12.6 -19.9h0m7.3 35.1h0m.3 -32.2h0m1.1 8h0m57.5 48.9h0m-65.6 -43.4h0m-2 30.5h0m5 -60.3h0m-10.5 0h0m8.6 9.2h0m-6.8 -9.1h0m16.3 49.1h0m18 -38.5h0m-19.1 10h0m-1.7 -13.9h0m-15.5 -2.2h0m1.6 3.6h0m40.9 27.1h0m-30.3 42.1h0m9.3 -75.2h0m97.5 64.4h0m-90 -15h0m-7.4 -34.7h0m-22.7 -2.8h0m97.3 27.4h0m-56.3 -38.6h0m-18.6 -4.6h0m-11.3 44.7h0m-9.7 30.9h0m20.5 -60.7h0m-2.4 -15.8h0m-11.8 24.3h0m11.4 -8h0m-8.7 -15.4h0m-6.7 2h0m4.8 57.9h0m17.3 -9.1h0m-26.7 -33.5h0m19.4 -2.8h0m-18.5 39h0m12.3 17.3h0m-.2 -43.2h0m-8.9 46.1h0m26.9 -27.3h0m-31.2 -3.7h0m7.3 -2.8h0m28 35.7h0m-29.6 -58.8h0m41.1 -17h0m65.9 18h0m-96.1 -13.5h0m19.6 50.9h0m-20.7 -15.5h0m33.1 -.7h0m-46.9 18.8h0m7.6 -19.3h0m11 21.1h0m91.5 -39.1h0m-92 26.4h0m-4.5 -40.4h0m20 -7h0m-34.1 62.3h0m2 11.7h0m7.1 3.5h0m41.2 -23.1h0m-50.2 -5.2h0m-.2 -24.4h0m7.7 9.9h0m-1.8 -13.6h0m-1.5 28.5h0m10.5 17.3h0m-1 1.1h0m-13.4 -10.2h0m1.9 14.5h0" stroke="#8c564b" stroke-width="2.24" stroke-linecap="round" fill="none"/><path d="M145.8 31.1h0m-27 55.5h0m21.2 -53.5h0m-18.8 -.2h0m-.3 -1.3h0m-11.5 2.6h0m9.4 25.5h0m26.2 -24.8h0m26.6 -4.4h0m-36 2.9h0m25.8 1h0m-20.3 15.6h0m-26.5 -17.2h0m-12.5 .8h0m-16.9 40.4h0m-16.5 -6.1h0m81.9 -37.7h0m-17.4 1.2h0m45.4 56.9h0m-56.2 -56.2h0m-6.5 4.2h0m-18.3 -1.3h0m16.6 -1.6h0m-8.8 -3.7h0m-46.9 39.8h0m87.2 -36h0m-125.5 62.8h0m100.4 -65.5h0m23 6.1h0m-31.5 -6.2h0m-57.2 30.2h0m-4.3 -9.3h0m55.1 -14.8h0m36.6 37.5h0m-9.6 -41.2h0m6.6 15.5h0m-35.7 52h0m54.5 -66.8h0m-11.7 2h0m-41.3 -4.2h0m-71.7 55.8h0m121.9 -55.4h0m-28.1 -1.6h0m-102.8 54.9h0m152.9 12.5h0m-70 4.7h0m31.9 -70.7h0m8.7 -.4h0m-32.3 1.9h0m-12.4 43.7h0m20.2 -47.7h0m-22.4 .5h0m27 58.3h0m9.8 -44.4h0m41.7 22.5h0m-38.1 -38.1h0m34.6 59h0m-41.6 13.3h0m-53.7 3.6h0m-9.4 -44.9h0m80.2 38.5h0m-40.3 -66.4h0m41.6 -1.7h0m-135.5 6h0m103.2 -3h0m54.2 10.4h0m-20.4 37.3h0m-3.2 -44.7h0m-30.5 1.6h0m20.7 -4.5h0m37.2 42.5h0m-50.4 -39.3h0m-111.3 26.3h0m109.6 -21.3h0m13.9 10h0m35.5 21.7h0m-30.1 -.2h0m2.6 -41.5h0m-22.9 5.5h0m25.7 -5.3h0m-3.4 2.3h0m30.9 15.5h0m-70.1 -19.3h0m20.4 1.9h0m20.6 54.5h0m-34.7 -51.5h0m-95 29.1h0m6.3 -16.1h0m134.5 50.9h0m-69.9 -69.7h0m15.6 7.8h0m13 -9h0m39.1 51h0m-24.6 -36.7h0m-17.8 5.7h0m17.6 -8.9h0m24.9 -5.8h0m19.4 -7.9h0m-123 13.9h0m66.6 -6.9h0m21 -7.8h0m-43 11.4h0m2 36.4h0m17.8 -36.3h0m50.8 -5.5h0m-25.6 34.5h0m-17.1 -32.5h0m47.3 22.9h0m-76.7 47.7h0m-30.1 -74.6h0m71.5 63.2h0m-18.8 -56.1h0m-6.6 38.3h0m15.3 10.1h0m42.8 -47.9h0m-69.6 -4.5h0m58.9 3.2h0m18.3 55.4h0m-41 -59.8h0" stroke="#279e68" stroke-width="2.24" stroke-linecap="round" fill="none"/><path d="M30 89.1h0m120 -13.6h0m4.4 20.9h0m-70 -30.2h0m.6 -21.8h0m-46.2 39.5h0m114 -44.4h0m-80 18.9h0m84.9 32.6h0m-62.4 -22.3h0m-48.5 -34.2h0m106.9 29.7h0m-11 -13.7h0m-52.6 11.4h0m-37.7 -8.9h0m15.8 8.4h0m-36.4 13.7h0m-1.9 -4.5h0m112.3 -17.4h0m-4.8 19.2h0m20.7 -45.1h0m-28.5 66.5h0m-86 -49.3h0m133.8 28.6h0m-43.6 -3.7h0m-103.8 -12.9h0" stroke="#b5bd61" stroke-width="2.24" stroke-linecap="round" fill="none"/><path d="M17.5 66.3h0m159.2 -10.6h0m-29.2 -7.6h0m-117.6 22.6h0m128 -32.4h0m-12.5 55.1h0m-30 -63.4h0m-72.5 30h0m134.1 .2h0m-21.7 41.7h0m19.6 -36.6h0m-117.3 32h0m35.2 -60.1h0m-13.4 59h0m-52.2 .6h0m83.9 -39.3h0m-8.5 46.8h0m75.9 -50.4h0m-3.5 -25.6h0m-103.5 39.5h0m-54.6 -6h0m24.1 -25.6h0m24.5 25.1h0m-17.5 21.4h0m21.7 7.8h0m0 -33.6h0m-30.8 44.3h0m117.1 -44.6h0m-97.6 31.6h0m-33.3 -31.4h0m136.1 4.2h0m-19.1 4.6h0m-102.2 6.1h0m10.7 -44.9h0m-31.7 28.4h0m16 -5.5h0m17.6 5.3h0m100.6 24.4h0m25.7 3.9h0m-82.8 -40.8h0m-35 29.8h0m-16.2 -38.4h0m45.6 30.6h0m-60.8 -11.5h0m141.2 43.1h0m-148.1 -38.9h0m88.4 39.1h0m23.8 -51.4h0m.4 55h0m-7.3 -7.1h0m44.9 -67.3h0m-18.4 35.7h0m-104.6 -36.1h0m41.8 13.2h0m-76.4 25.4h0m10.4 13.8h0m151.3 16.6h0m-68.1 5.8h0m-48.8 -61.2h0m-33.5 -11h0m108.3 21.7h0m-42.6 16.9h0m52.8 29.5h0m4.2 -13.6h0m17 -4.1h0m-121 4.6h0m76.5 -30.6h0m-65.3 -3.1h0m113.1 -8.6h0m-15.8 51.8h0m-101.4 -50.8h0m83.3 31.8h0m-109.9 -21.4h0m-6.1 28.4h0m14.6 1.7h0m7.7 -54.4h0m-18.6 52.9h0m113.6 12.2h0m-29.8 -36h0m-49.7 19.3h0m30 19.4h0m26.5 -21.2h0m42.9 -29.2h0m14.8 38.8h0m-59.2 13.5h0m-54 -11.6h0m22.4 -52h0m-48.5 29.8h0m35.2 -14.5h0m26 51.6h0m-71.6 -53.2h0m37.1 -8.7h0m81.2 -1.4h0m-122.8 22.8h0m25.7 -24.9h0m136.4 -5.8h0m-44.9 16.9h0m-10.9 -18.5h0m-102.1 15.1h0m-2.1 8h0" stroke="#ff7f0e" stroke-width="2.24" stroke-linecap="round" fill="none"/><path d="M100.7 75.4h0m-75.7 -37.6h0m72 35.5h0m-24.5 -43.1h0m37 9.6h0m-76.9 -13.3h0m59.8 -2.1h0m32.8 36h0m-17 11h0m-31.6 -9.1h0m51.5 -14.6h0m-33.5 -6.3h0m8.6 -5.7h0m-1.5 .6h0m-24.5 44.7h0m30.9 -20.4h0m-16.7 -27.1h0m18.2 57.3h0m-83 -57.2h0m97 53.3h0m-38.6 -57.2h0m-34.6 31.7h0m34.3 -25.7h0m-22.5 47h0m58.1 -30.5h0m-30.2 46.9h0m29.3 -37.6h0m-29.9 7.2h0m-31.4 -36.1h0m39 32.7h0m-37.5 22.6h0m17.8 -28.1h0m7.9 8.7h0m7.9 32.7h0m-10.5 -45.4h0m43 27.7h0m-22.3 -29.6h0m17.4 -28.3h0m-71.7 1.6h0m18.8 54.9h0m10.1 -44.3h0m23.7 -12.3h0m-23.2 3.7h0m-9.2 56.8h0m5.7 13h0m39.2 -53.6h0m-48 55.7h0m13.1 -10.6h0m-34.5 10.1h0m-4 -38h0m61.9 -11.5h0m-31.9 27.3h0m-4.8 -49.5h0m4 8.4h0m-2 -10h0m14.2 76.5h0" stroke="#c5b0d5" stroke-width="2.24" stroke-linecap="round" fill="none"/><path d="M131.8 49h0m33 40.7h0m-33.6 -45.4h0m2.6 -15.2h0m-4.8 41.7h0m1.6 30.7h0m6 -21h0m29.2 14.3h0m-33.5 5.6h0m-.4 -30.7h0m13.7 -44.6h0m-12.8 12.9h0m12.8 58.9h0m23.2 -14.9h0m-22.4 18h0m.5 -62.5h0m.2 31.6h0m-18.1 -40.3h0m14.5 -3.4h0m20.4 23.7h0m1.4 52.8h0m-37.2 -63.1h0m50.2 59.8h0m-31.1 -18h0m-3.9 8.9h0m-9.1 -60.3h0m36.6 48.3h0m-47 -7.9h0m12.3 -26.8h0m-6.6 3.6h0m17 20.9h0m13.8 -21h0m-9 31.2h0m-19.2 11h0m39.2 -.1h0m-24.9 -7.1h0m5.5 -4.8h0m-20.1 -38.4h0m21.3 33.4h0m-7.8 5.5h0m18.6 -9.1h0m-27.2 -13.5h0m10.9 -29.6h0m-8.6 23.4h0m8.8 -6.7h0m24.1 -17.9h0m-9.3 65.9h0m-9.4 -37.3h0m7 -24.6h0m-28 11.8h0m36.1 24.6h0m-61.6 11.7h0m38 11.9h0m.9 -44.8h0m-16.7 48h0m.7 2.7h0m27.7 -53.4h0m-24.3 5.2h0m8.3 36.8h0m-6.6 -4.6h0m-9.7 23.4h0m5.7 -32.6h0m21.1 26.5h0m13.2 -68.2h0m-12.9 75.4h0m-19 -22.2h0m40.9 10.5h0m-27.6 -35h0m5.3 14.2h0m-20.1 4.5h0m15.6 -40.4h0m21.8 70h0m-27.7 -.6h0m-11.8 -35.3h0m-21.1 -32.6h0m39.1 55.4h0m16.8 -40.9h0m9.5 -8.3h0m-42.3 -3.4h0m5 65.7h0m10.1 -38.7h0m-4.4 3.1h0m17.4 14.4h0m-23.1 -29.7h0m-25.9 -6.1h0m27 25.6h0m12.7 20.2h0m-16 -14.7h0m28.8 22.7h0m-25.7 -56.4h0m36.6 13h0m-41.4 -20.8h0m6 26.8h0m18.3 -6.9h0m-4.7 -6h0m-2 37.2h0m-29.8 -62h0m18.8 45.2h0m-2.6 -13.1h0m7.3 1.8h0m-13.8 -16.8h0m3.1 16.2h0m21.6 -32.3h0m-11.9 18.3h0m9 34.7h0m-9.8 -34.6h0m1.9 6.2h0m-6.7 11.1h0m3.4 4.2h0m30 36.5h0m-29.9 -46.8h0m6 8h0m14 6.7h0m-5.1 24.3h0m-8.2 7.9h0m1.1 -14.4h0m.8 -40.3h0m-7.6 39h0m-12.2 -21.8h0m38.3 32h0m4.6 -1.8h0m-47.2 -36.8h0m25.2 32.6h0m-12.3 -20.9h0m24.2 6.8h0m-14.4 -19.7h0m3.7 -3.2h0m-2.7 15.4h0m28.8 -28.1h0m-60.6 -5.9h0m16.3 -8.4h0m23.7 1.3h0m-10.8 45.1h0m-13.5 -35.2h0m1.6 -8.7h0m6 52.2h0m14.1 -9.8h0m-23 24.9h0m12.8 -16.9h0m-7.2 13.4h0m16.2 -17h0m-34.7 -30.4h0m37.7 57.2h0m-1.3 -63.8h0m-20.9 53.3h0m16.8 -14h0m0 -27.5h0m-8.3 23.4h0m4.9 -19.3h0m14.3 28.7h0m-15.8 -57.4h0m11.6 16.9h0m-15.7 29.1h0m12.7 15.5h0m-.5 -33.5h0m-7.5 43.3h0m-26.4 -2.3h0m37.9 -25.8h0m2.6 -40.9h0m-19 42.3h0m23.3 -9.5h0m-31.3 24.5h0m36.6 4.9h0m-36 -3.8h0m2.1 -39.5h0m8 20.6h0m16.2 -44.5h0m-24.7 70.6h0m-.3 -66.3h0m18 -1.5h0m-15.5 58.8h0m14.7 5.7h0m-23.2 6.1h0m26 -11.4h0m23 -30.6h0m-25.2 48.1h0m-20.2 -37.4h0m12.5 -37.8h0m4.2 35.3h0m1.4 2.9h0m8.8 -14.5h0m-11.9 -7.3h0m-15.4 55.5h0m-3.4 -43.1h0m18.4 -16.2h0m10 61h0m14.2 -37.5h0m-20.6 8.4h0m-13.3 -26.7h0m-32.9 19.3h0m27.2 -28.2h0m17.5 8.5h0m-19.1 45.6h0m36.1 -12.2h0m-30.1 -43.1h0m10.1 36.3h0m-4.6 7h0m-.8 9.6h0m17.5 -50.9h0m-5.4 59.4h0m19 -37.6h0m-38.4 3.7h0m6.6 -1.3h0m3 3.4h0m-4.4 -40.1h0m6.6 39.7h0m-7.7 6.8h0m-.6 -34.4h0m15.2 54h0m9.9 2.9h0m14.8 -6.9h0m-33.6 -12.8h0m-30.9 -4h0m55.6 2.9h0m-12.7 -33.1h0m-16.9 45.8h0m-2.1 -34.5h0m12 25.6h0m-14.9 -6.6h0m11.3 31.6h0m13.5 -16.4h0m8.9 -35.5h0m-14.9 8.3h0m-.3 34.2h0m6.4 -52.7h0m-39.2 1.4h0m17.3 35.2h0m29.3 14h0m-10.9 -53.4h0m-13.1 9.6h0m-11.1 -6.2h0m29.4 -1.9h0" stroke="#98df8a" stroke-width="2.24" stroke-linecap="round" fill="none"/><path d="M173 92.1h0m-58.8 -38.5h0m-.8 -6.3h0m-6.1 45.2h0m12.7 -29.9h0m-14.9 20.6h0m58.5 10.9h0m-45.5 -39.6h0m-23.7 -12.3h0m32.5 -2.3h0m-15.7 9.2h0m11.9 39.8h0m4.8 -49.3h0m-50.7 30h0m45.3 -29.5h0m-16.7 45.6h0m22.9 14.4h0m-8.3 -34.3h0m-13 -17.1h0m9.5 49.7h0m-29.8 -44.5h0m32.1 21.3h0m36.2 -2.2h0m-55.5 -3.4h0m-18 -30.3h0m36.9 17h0m-11.3 -9.8h0m-13.7 55.8h0m10.6 -72.9h0m22.2 38.7h0m-8.7 17.7h0m-6.5 11.3h0m8.7 6.8h0m31.2 -63.5h0m-71.2 20.5h0m36.5 -13.9h0m-12.5 .7h0m14.4 -8.2h0m-11 29.4h0m16.1 -20.5h0m-14.6 -10.8h0m19.7 47.3h0m-20.3 11.9h0m16.4 -3.1h0m-16.3 3h0m3.8 -54.6h0m-24.6 24.2h0m75.3 37.2h0m-30.1 -33.6h0m-15.4 -3.8h0m-1.7 -39.4h0m3.2 42.6h0m-26.6 4h0m6.3 -24.8h0m18.9 14.7h0m-14.5 -20.5h0m22.3 -.5h0m-20.9 20.4h0m-24.2 -34.4h0m43.1 45.8h0m0 15.2h0m14.2 -21.5h0m-10.9 32.6h0m-5.5 -59.6h0m-17.7 52.9h0m13.3 2.9h0m8.5 -38.1h0m44.9 14.5h0m-55.3 29.2h0m7.3 -21.8h0m-38.9 -52.4h0m-7.6 30.4h0m37.2 43h0m.8 -47.9h0m1.8 17.8h0m2.6 -3h0m6.8 -.3h0m-17.5 30.3h0m18.8 .5h0m2.6 -43.8h0m-20.1 13.3h0m2 16.6h0m-20.6 -42.3h0m-.2 11.2h0m27.2 -.3h0m.8 -4.2h0m-13.8 11.6h0m7.2 -24.5h0m-1.6 38.4h0m25.2 -46.5h0m-28.3 47.2h0m-.6 -29.8h0m15.9 35.1h0m-12.3 3.1h0m12.6 -5.1h0m-32.2 -24.7h0m22.4 27.2h0m2.6 -20.4h0m-7.4 -8.5h0m16.2 27.3h0m4 -.1h0m-15.1 -8.8h0m-44.7 -26.2h0m57.5 29.9h0m-12.7 23.2h0m-4.6 -54.7h0m.5 21.7h0m52.7 6.5h0m-46.5 30.1h0m-4.7 -5.6h0m4.9 -56.6h0m-30.6 10.2h0m41.8 52.7h0m-23.6 -68h0m23 48.6h0m-19.3 -11.9h0m20.3 31.9h0m.8 1.2h0m-13.2 -18.4h0m.5 -57.7h0m15.1 54.8h0m-9.5 6.1h0m1.1 -26.7h0m7.2 7.9h0m-25.8 .9h0m11.3 30.6h0m-1 -11.3h0m-30.2 -22.2h0m25.2 -20.6h0m18.1 3.6h0m-23.3 19.7h0m4.9 -35.2h0m-5.8 -9h0m19 46.4h0m-52.6 2.7h0m22.8 -35.2h0m33.9 32.5h0m-7.1 30.7h0m-5 -9.6h0m4.5 7.2h0m10.8 -9.9h0m-11.8 -14.2h0m4.6 11.6h0m6.3 .6h0m-10.7 -60.3h0m-7.9 .1h0m.1 27.7h0m3.5 -12h0m-40.4 56.3h0m34.1 -22.4h0m0 -35.8h0m11.3 12.1h0m-.9 32.2h0m-11.1 -9.4h0m8.4 -27.8h0m-18.4 -2.9h0m16.2 37.5h0m5.9 -24.8h0m-10 -13h0m-21.1 43.1h0m37.8 -62.4h0m-9.1 31.1h0m7.3 -9.4h0m-10.8 32.3h0m-5.7 -9.2h0m12.6 20.7h0m9.1 -54.7h0m-1.4 -7h0m-12.1 31.2h0m6.7 -2.8h0m-16.1 40.3h0m-33.1 -23.2h0m43.9 6.5h0m.9 -19.8h0m0 27.6h0m1.1 -15.7h0m1.3 -33h0m36.9 60h0m-47.4 -71.7h0m13.7 60.4h0m-10.2 8.9h0m-7.4 -70.5h0m-3.2 19h0m10.3 29.9h0m3.6 -33.7h0m31.7 22.1h0m-25.1 -41h0m-49 9.4h0m31 5.8h0m50 19.2h0m-39.1 -17h0m-30.5 -10.2h0m21.5 34.1h0m10.4 -2.4h0m2.2 19h0m9.8 6.1h0m-24.9 -.3h0m8.4 -7h0m-6.7 -19.3h0m-19.4 7.4h0m19.4 -32.8h0" stroke="#ff9896" stroke-width="2.24" stroke-linecap="round" fill="none"/><path d="M69.3 47.5h0m-1.4 49.7h0m-11.5 -57.7h0m43.2 -14.7h0m-27.9 59h0m29.4 1.6h0m-8.9 -50.3h0m.3 21.7h0m-24.6 -28.9h0m30 27.7h0m-33.5 -5.8h0m32.8 49.3h0m-1.5 -57.7h0m-34.5 -5.1h0m11.1 59.4h0m10.1 -60.3h0m5.4 65.4h0m4.5 -76h0m-23 38.3h0m28.4 33.6h0m-23.5 -38.3h0m9.3 8.5h0m6.7 -4h0m-16.4 34.4h0m24.3 -60.8h0m-36.2 -5.1h0m6.7 51h0m4.6 2.6h0m-14.5 -21.9h0m19.2 -32.6h0m14.7 17.4h0m-1.3 -3.6h0m-1.2 34.7h0m-21.2 -9.6h0m21.9 -44.7h0m-37.3 16.7h0m2.2 31.9h0m34.2 -35.4h0m-4.3 64.2h0m-31 -48.4h0m1.3 -21.9h0m28.1 36.8h0m-10.9 1.9h0m28.6 12.7h0m-25 -57.5h0m19.1 32.5h0m-18 28h0m-1.4 -14h0m-23.1 26.2h0m10.2 -50.1h0m8.1 15h0m21.2 7.3h0m-2.9 -26.6h0m-23.2 20.7h0m10.5 3.9h0" stroke="#c49c94" stroke-width="2.24" stroke-linecap="round" fill="none"/><path d="M21.4 101.5h0m-1.1 -7.3h0m1.3 -65.8h0m-3.5 21.9h0m7.3 6h0m-10.2 11.2h0m10.4 -10.1h0m-1.8 -26.4h0m-5.4 36h0m6.8 10.5h0m.6 20.1h0m-1.7 -35.7h0m-8.7 -11.8h0m4.6 -13.5h0m.8 21h0m1.7 -2.8h0m-2.1 -24.9h0m-2.8 55.6h0m20 -51.2h0m4.9 30.6h0m-24.2 -28h0m-2.3 17.6h0" stroke="#d62728" stroke-width="2.24" stroke-linecap="round" fill="none"/><path d="M17.8 45.3h0m26.7 -20.9h0m27.6 55.6h0m-52.4 9h0m78.3 -16.5h0m.4 12.4h0m22 -10.9h0m10.3 11.2h0m-108.2 13.6h0m116.8 -59.9h0m23.3 4.7h0m-54.7 -5.8h0m-7.8 29.8h0m31.7 30h0m16.1 -6.6h0m-99.1 -33.1h0m129.5 18.9h0m-19.9 4.5h0m-28.6 18.2h0m38.1 -22h0m-67 23.1h0m-82.5 -51h0m61.6 -6.8h0m-13.5 15h0m109.6 -22.2h0m-106 49.4h0m-44.4 10.8h0m120 -12.7h0m-119.7 -22.2h0m97.2 -19.7h0m-100 50h0m88.5 -51.3h0m-86.1 50.4h0m89.9 -22.8h0m-45.1 -15.9h0m-24.9 -9.3h0m99.9 24.9h0m-4.5 -23.9h0m-123.6 20.6h0m149.9 1.3h0m-71.4 -2.6h0m81.7 11.4h0m-20.2 -7.1h0m-55.4 33.5h0m-14.7 -66.5h0m90 -.7h0m-158.7 46.8h0m77.7 -25.4h0m-17.9 26.3h0m-11.7 2.7h0m89.6 -30h0m-42 11.2h0m16.7 7.1h0m28.9 -19.8h0m-98.9 30.5h0m28.9 -10.6h0m-49 31.8h0m-25.6 -35.9h0m62.1 -22.5h0m-57.4 17h0m140.1 -9.7h0m-14.3 38.5h0m-11 -13.1h0m4.4 -4.7h0m-80.6 -41.6h0m116.6 8.8h0m-159.4 15.1h0m1.2 -5.8h0m160.1 21.3h0m-23.5 -.3h0m-39.7 -25.4h0m14.6 -3.6h0m-14.8 16.5h0m-50.9 19.1h0m91.7 -34.2h0m-138.1 41.3h0m28 -36.5h0m112.7 16.5h0m-70.7 -17.7h0m-58.7 10.9h0m18.3 -19.9h0m60.4 4.5h0m-56.7 40.8h0m.4 -44.1h0m32.6 43.1h0m-66.5 -30.3h0" stroke="#aa40fc" stroke-width="2.24" stroke-linecap="round" fill="none"/><path d="M138.8 25.9h0m-3.9 18.6h0m6.6 45.5h0m-11.9 -23.9h0m5.9 4h0m-2 -23h0m17.8 16.6h0m1.4 39.2h0" stroke="#ffbb78" stroke-width="2.24" stroke-linecap="round" fill="none"/><path d="M96.5 49h0m-6.4 -23.5h0m-54.3 30.6h0m105.8 29.4h0m25.3 -27.4h0m-92.8 24.2h0m4.9 -43h0m-25.1 42.3h0m-1.9 -43.1h0m104.4 9.6h0m-35.5 -21.5h0m-23.6 -.2h0m-58.9 28.9h0m58.4 15.7h0m-44.1 7.6h0m-8.4 -46.5h0m85.3 45.8h0m-109.8 -45.5h0m.4 26.1h0m74.8 -12.9h0m61.6 53.6h0m-79 -52.4h0m-54.9 34.2h0m27.2 -.5h0m83.4 -17h0m-35.8 .5h0m56.7 9.7h0m-133 -41.1h0m25.4 0h0m86.5 9.7h0m-69.4 11h0m44.4 -7.2h0m-21.3 25.7h0m28.4 -22.4h0m-12 -21.3h0m2.4 57.6h0m-48.7 -29.5h0m70.1 -28.9h0m-64.8 69h0m25.1 -55.3h0m-64.2 44h0m142.4 -43.6h0m-51.8 55.7h0m-38.5 -5h0m41.1 5.5h0" stroke="#17becf" stroke-width="2.24" stroke-linecap="round" fill="none"/><path d="M90.2 40h0m15.3 49.7h0m-14.3 -5.4h0m37.5 -31.3h0m-21.1 -18.6h0m1.2 13h0m2 -4.4h0m-36.6 24h0m2.1 -16.8h0m-1.1 3.2h0m23.9 -25.8h0m-22.6 30.9h0m24.8 9.4h0m18.6 1.3h0m6.2 21h0m-34 -50h0m29.4 60.5h0m-14.1 -59h0" stroke="#1f77b4" stroke-width="2.24" stroke-linecap="round" fill="none"/><path d="M175.9 91h0m1.9 .2h0" stroke="#aec7e8" stroke-width="2.24" stroke-linecap="round" fill="none"/><path d="M18.7 47.9h0" stroke="#e377c2" stroke-width="2.24" stroke-linecap="round" fill="none"/><rect x="7.5" y="19.5" width="180.0" height="89.0" fill="none" stroke="#222" stroke-width="1"/><circle cx="198.5" cy="23.5" r="2.6" fill="#1f77b4"/><text x="206.6" y="25.6">Astro-1</text><circle cx="198.5" cy="33.5" r="2.6" fill="#ff7f0e"/><text x="206.6" y="35.5">Astro-2</text><circle cx="198.5" cy="43.5" r="2.6" fill="#279e68"/><text x="206.6" y="45.5">Endo</text><circle cx="198.5" cy="53.4" r="2.6" fill="#d62728"/><text x="206.6" y="55.5">HPC</text><circle cx="198.5" cy="63.4" r="2.6" fill="#aa40fc"/><text x="206.6" y="65.5">Micro</text><circle cx="198.5" cy="73.4" r="2.6" fill="#8c564b"/><text x="206.6" y="75.5">Oligo</text><circle cx="198.5" cy="83.4" r="2.6" fill="#e377c2"/><text x="206.6" y="85.4">PVALB</text><circle cx="198.5" cy="93.4" r="2.6" fill="#b5bd61"/><text x="206.6" y="95.4">Reln</text><circle cx="198.5" cy="103.3" r="2.6" fill="#17becf"/><text x="206.6" y="105.4">SST</text><circle cx="249.1" cy="23.5" r="2.6" fill="#b5bd61"/><text x="257.2" y="25.6">Reln</text><circle cx="249.1" cy="33.5" r="2.6" fill="#17becf"/><text x="257.2" y="35.5">SST</text><circle cx="249.1" cy="43.5" r="2.6" fill="#aec7e8"/><text x="257.2" y="45.5">Smc</text><circle cx="249.1" cy="53.4" r="2.6" fill="#ffbb78"/><text x="257.2" y="55.5">VIP</text><circle cx="249.1" cy="63.4" r="2.6" fill="#98df8a"/><text x="257.2" y="65.5">eL2/3</text><circle cx="249.1" cy="73.4" r="2.6" fill="#ff9896"/><text x="257.2" y="75.5">eL4</text><circle cx="249.1" cy="83.4" r="2.6" fill="#c5b0d5"/><text x="257.2" y="85.4">eL5</text><circle cx="249.1" cy="93.4" r="2.6" fill="#c49c94"/><text x="257.2" y="95.4">eL6-1</text><circle cx="249.1" cy="103.3" r="2.6" fill="#f7b6d2"/><text x="257.2" y="105.4">eL6-2</text><text x="384.2" y="13.7" text-anchor="middle">Niches</text><path d="M376.2 68.5h0m2.2 -4.2h0m-.3 -5.4h0m9.1 16.1h0m-19.5 16.7h0m-2 -9h0m8.6 8.3h0m6.6 -49.1h0m2.7 31.1h0m-.1 17.9h0m-.5 -42.1h0m-6.4 -23.5h0m-.2 48.5h0m12 -27.1h0m-3.8 25.5h0m-14.7 28.4h0m3.3 -11.4h0m7 -40.3h0m-6.5 4.8h0m11.3 30.9h0m1.5 -15.3h0m.1 -11.2h0m-18.1 -19h0m17.6 -14.6h0m-1.3 78.2h0m-5.9 -78.5h0m6.4 77.2h0m-5.9 -64.4h0m-8.4 28.9h0m-5 29.9h0m14.4 6.1h0m7.5 -2.9h0m-9 3.4h0m-2.1 -62.6h0m12.3 64.1h0m-17.3 -30.2h0m-.2 -29.5h0m2.3 44h0m-8.3 -49.1h0m21 28.2h0m-3.6 -.6h0m-12 -31.6h0m10.2 6.1h0m7.4 23.8h0m-9.7 35.5h0m-8.5 -3.1h0m-6.5 -16.7h0m2.5 -3.5h0m2.4 -48h0m3.3 35.4h0m-4.3 15.3h0m17.8 7.1h0m-1.5 -52.2h0m-6.1 -1.5h0m.8 1.6h0m.3 21.6h0m2.6 47.2h0m6.5 -45.5h0m-3.7 -2.8h0m-.7 43.4h0m-4.2 -58.8h0m-5.3 26h0m3.5 17.9h0m7.2 7.7h0m2.4 8.6h0m-5.1 -59h0m1.6 -15h0m-.5 32.2h0m-1.1 26.4h0m-10.6 -55.3h0m3.7 74.1h0m-8.7 -61h0m1.8 11.9h0m3.7 .5h0m7.8 -18.2h0m-8.7 -1.3h0m12 35.1h0m-4.3 2.4h0m-9.6 -16.1h0m15.8 -8.7h0m-9.1 37.5h0m-5.3 -11.4h0m10.7 -17.5h0m-14.5 -28.8h0m7.7 62.7h0m-6.7 -10.4h0m16.5 -24.4h0m.3 13.3h0m1.7 -43.3h0m-11.2 45.3h0m7.3 -29h0m-4.1 -8.5h0m-9.5 1.4h0m2.7 54.5h0m5.3 -25.4h0m-.3 34.5h0m-2.3 1.7h0m-4.9 -66.4h0m8.8 14.8h0m-11.5 34.4h0m12.1 -58.6h0m6.4 8.8h0m-15.4 -5.7h0m6.2 40.7h0m-7.4 4.4h0m15.5 23.5h0m4.4 -28.8h0m-19.9 33.9h0m15 -36.4h0m-13.6 1.6h0m17.2 -11.9h0m-6.5 47.8h0m-4 -39.9h0m4.8 -17.3h0m2.3 -6h0m-13.4 23.3h0m11.4 5.8h0m.5 2.6h0m5.9 -20.6h0m-11.6 -8.2h0m3.9 44.4h0m7.2 -42.7h0m-17.8 59.4h0m-4.5 -69h0m11 19.1h0m12 13.6h0m-3.8 -30.7h0m-6.4 1.7h0m7.2 64.9h0m-10.8 -72.8h0m-2.8 38.1h0m10.5 -5.9h0m.3 -7.9h0m5 8.3h0m.8 37.3h0m-18.5 -43.8h0m9.8 44.6h0m-6.7 -22.1h0m-.1 -46.8h0m.8 1.7h0m8.1 37.2h0m-12.5 -15.3h0m6.2 -2.6h0m.7 -4.1h0m-6.8 -1h0m7.2 13.8h0m-.1 -7.9h0m-9.2 49.9h0m15.9 -66.8h0m-3.5 11.8h0m-.8 16.1h0m-9.2 -9.9h0m9.1 11.2h0m-2.3 -10.6h0m1.5 40.7h0m-13.3 -6.2h0m17.9 -35.6h0m1.4 9.4h0m-19.6 -33.4h0m25.4 23.3h0m-10.1 -27.1h0m-14.9 54h0m6.2 -31.5h0m10.3 6.5h0m-13.8 -25.8h0m13.7 4.3h0m-2.2 62.1h0m.1 -48.5h0m-15.1 -14.8h0m12.3 38.9h0m-6.5 -6.8h0m-.1 .5h0m8.1 -21.3h0m-.9 17h0m-.3 17.6h0m-2.1 12.4h0m11.1 -63.7h0m-16 40h0m12.6 15.3h0m-8.9 -11.2h0m4.5 -31.6h0m-.5 -15.4h0m.5 71.3h0m-11.1 -62.5h0m4.6 54.8h0m16.6 -43.3h0m-2.2 .2h0m-20.7 -16h0m23.2 69.1h0m-18.4 -32.3h0m10.3 -33.2h0m2.4 -7h0m-8.2 2.1h0m2.8 .7h0m-4.4 63.1h0m1.3 3.4h0m2.4 -57.2h0m11.4 -.5h0m-15.7 64.5h0m3.4 -26.9h0m3.8 -6.8h0m2.6 -21.4h0m-2.3 41h0m-6 -9.1h0m.3 -22.8h0m13.8 11.9h0m-2.2 -30h0m-12.5 51.6h0m3.2 -3.8h0m-8.8 -52.1h0m20.7 18.8h0m-2.2 -16.9h0m-14.2 51.4h0m-2.3 4.7h0m2.9 -16.9h0m-1.8 -6.1h0m9.5 31.9h0m-1.4 -60.3h0m-11 -9.1h0m2.1 40.4h0m1.6 -8.7h0m-8 -37h0m2.5 64.6h0m7 -23.2h0m-6.5 -43.5h0m15.9 34.5h0m-12.7 -20.1h0m15.8 22.7h0m-8.5 37.7h0m1.5 -14.5h0m6.1 18.5h0m-9.3 -27.4h0m-1.3 -34h0m13.9 7.1h0m1.4 2.9h0m-24.8 35.1h0m8.5 -39.3h0m4.3 -22.1h0m6.8 63.6h0m-13.2 -55.6h0m-3.8 45.7h0m19.3 24.3h0m-8.8 -15.4h0m-1.6 -19.8h0m3.5 3h0m-10.2 11.5h0m7.3 -38.1h0m-2.4 -2.6h0m6.5 -12.8h0m-8.5 41.7h0m-3.3 33.4h0m9.2 -3.1h0" stroke="#33e68f" stroke-width="2.24" stroke-linecap="round" fill="none"/><path d="M332.3 64.7h0m-15.4 24h0m16.3 -45.9h0m3.2 54.1h0m-5.2 -28.4h0m2.1 13.9h0m-16.5 -12h0m13 -10.7h0m7.3 -3h0m-5.8 -32.5h0m-8.6 31.6h0m-3.3 -29.5h0m12.4 33.7h0m2.3 -6.3h0m-16.2 40.3h0m3.4 -13.4h0m4.3 3h0m9.9 -26h0m-4 -29.3h0m-11.6 9.9h0m18.9 0h0m-8.5 46.3h0m-2.5 -48.5h0m7 46.4h0m-9.7 -51.5h0m-.8 65.5h0m1.5 4.4h0m9.4 -26.4h0m5.4 -15.5h0m-9 -23.3h0m-1.4 8.3h0m7.3 57.8h0m-11.8 -41.6h0m-.5 -5.1h0m14.5 -11.2h0m-2.3 7.6h0m-.2 9.7h0m-10 37.9h0m-.4 -27.6h0m-2.5 9h0m11.3 -34.4h0m3.5 .9h0m-1.7 -20.3h0m-14.7 1.8h0m-3.9 51.8h0m2.9 -30.2h0m4.4 -12.6h0m-4.3 12h0m9.1 -23.9h0m-9.4 3.8h0m17.8 25.4h0m-8.2 -22.9h0m-11.3 71.3h0m6.5 -28.5h0m-7.8 -48.3h0m13.2 7.3h0m2.5 70.1h0m2.2 -50.5h0m-7 22.5h0m-9.1 11.4h0m3 -56.7h0m4.1 71.3h0m-.2 -12.3h0m-5.8 -40.3h0m.9 44.8h0m-3 -10.6h0m9.6 -31.7h0m9 -12.2h0m2.4 20.5h0m-21.5 9.1h0m13.5 -3.1h0m-1.5 -30.5h0m1.5 6.7h0m1.3 -7.8h0m-1.3 17.1h0m-3.6 -14.1h0m8 -12.4h0m-6.6 56.9h0m8.2 11.4h0m-1.6 -13.1h0m-6.6 -28.1h0m9.1 .7h0m-1.6 6.7h0m-19 15.4h0m6.5 -35.2h0m7.2 35h0m.3 -32.1h0m.8 -10.1h0m.3 18h0m-8.1 5.5h0m-2 30.5h0m5 -60.2h0m3.5 56.1h0m-13.9 -56.1h0m8.5 9.1h0m-6.8 -9h0m16 .6h0m.3 48.4h0m-14.8 -44.3h0m13.7 15.8h0m-1.7 -13.8h0m-15.4 -2.2h0m9.7 72.7h0m-8.2 -69.1h0m10.6 69h0m9.4 -60.4h0m-22.6 -2.8h0m22.3 1h0m-11.3 27.9h0m-11.2 1.2h0m1.6 29.7h0m2.8 -18.4h0m7.7 -54.3h0m9.9 12.1h0m-2.5 -15.8h0m-11.7 10.5h0m0 13.8h0m11.4 -8.1h0m-8.6 -15.3h0m-6.7 2h0m4.7 57.8h0m10 -45.4h0m-18.4 38.9h0m12.4 -13.2h0m-.1 30.5h0m-.3 -43.1h0m11.1 6.7h0m.9 43.5h0m.5 -48.8h0m-21.3 44.6h0m3 -33.7h0m-3.9 -1.2h0m2.2 -21.9h0m11 -12.4h0m-1.1 35.3h0m-3.8 -9.7h0m3.6 -6.5h0m-13.6 34.2h0m7.5 -19.2h0m6.6 37.3h0m4.4 -16.2h0m-8.4 -21.7h0m7.9 9h0m-4.5 -40.4h0m-14 55.2h0m13.1 -51.3h0m-11.1 63.1h0m13.7 -60.2h0m-6.7 63.7h0m14 -3.4h0m-22.9 -24.9h0m13.3 -28.9h0m-5.9 14.5h0m-1.7 -13.7h0m-1.5 28.5h0m15 9.4h0m.5 -44.1h0m-5.1 51.9h0m-1 1.1h0m-13.3 -10.1h0m1.9 14.4h0" stroke="#2bb5ec" stroke-width="2.24" stroke-linecap="round" fill="none"/><path d="M432.1 30.9h0m-14 17.9h0m8.3 -16h0m7.4 15.1h0m10.4 -9.8h0m-26.6 6h0m2.6 -15.2h0m-4.8 41.6h0m1.6 30.6h0m5.9 -20.9h0m8.8 12.9h0m-6.6 -67.4h0m-6.4 74.4h0m-.4 -30.7h0m13.6 -44.6h0m-17.6 14.6h0m4.9 -1.6h0m12.7 58.7h0m.8 3.1h0m3.6 -24.5h0m-3.1 -37.8h0m-1.9 -2.7h0m-16.2 65.1h0m25.6 -3.6h0m.9 5.5h0m-8.2 -32.8h0m-18 -40.2h0m14.5 -3.5h0m-8 8.1h0m19.8 39.5h0m-20.5 -28.4h0m17.3 13.1h0m-24 -18.8h0m13 11.1h0m6 30.5h0m-3.8 8.9h0m-1.8 -4h0m-7.3 -56.1h0m-3.5 55.9h0m5.4 -42.3h0m3.1 -4h0m-9.7 7.6h0m16.9 20.8h0m13.7 -21h0m-28.3 51.2h0m19.4 -20h0m-3.4 13.5h0m-15.7 -2.6h0m14.2 -7.2h0m4.2 -50.9h0m-17.3 1.1h0m23.1 16.7h0m-5.1 -7.7h0m.5 36h0m-19.9 -38.3h0m21.1 33.4h0m-11.5 18.4h0m3.8 -13h0m7.5 -37.4h0m-16.1 14.9h0m10.9 -29.5h0m-18.8 60h0m27.2 -28.3h0m-16.9 -8.4h0m-9.4 17.9h0m18.1 -24.6h0m-2.1 -7.9h0m7.5 18.6h0m-18.4 -3.3h0m23.6 32.3h0m-28.5 18.2h0m2.4 -59.9h0m11.3 -2.6h0m1.2 50.6h0m-11.8 -17.6h0m12.6 -27.1h0m-16.6 47.9h0m.7 2.7h0m31.4 -32.4h0m-7.1 -6.6h0m3.3 -14.3h0m-24.2 5.2h0m8.2 36.8h0m.9 -16.5h0m-7.5 11.8h0m-3.9 -9.1h0m11.5 6h0m9.5 20.4h0m.3 7.2h0m-18.9 -22.1h0m13.2 -24.5h0m5.2 14.2h0m-19.9 4.4h0m15.5 -40.2h0m-14.5 -.5h0m8.6 69.7h0m-11.7 -35.2h0m9.7 -19.1h0m6.4 34.4h0m1.8 7.5h0m-9.9 -22.8h0m-6 -29.7h0m21.5 41.3h0m-16.5 24.2h0m21.4 -69.7h0m-11.4 31.1h0m-4.4 3.1h0m4.2 -32.1h0m11.2 55.1h0m-21.1 -38.3h0m1.2 19.5h0m-8 5.7h0m20.6 14.4h0m-16 -14.6h0m3.2 -33.6h0m-1.9 42.2h0m19.7 -54.3h0m-22.7 4.2h0m6.1 26.8h0m18.1 -6.9h0m-29.5 -25.6h0m24.8 19.6h0m-2 37.2h0m-10.9 -16.8h0m-2.6 -13.1h0m7.3 1.8h0m10 -6.7h0m-23.8 -10h0m5.4 27.6h0m-2.2 -11.5h0m6 -26.7h0m15.4 -5.5h0m-6.8 5.1h0m-14.3 15.6h0m1.4 -2.1h0m7.9 -.4h0m-7.5 55.2h0m-7.3 -7.1h0m28.5 6.4h0m-4.8 -19.9h0m-9.7 -34.4h0m3.3 22.4h0m-4.4 -23.9h0m3.1 7.6h0m-6.7 11.1h0m3.4 4.2h0m13.7 -5h0m-13.7 -5.2h0m6 7.9h0m8.9 31h0m-2 -30.7h0m-6.2 38.5h0m-19.4 -14.7h0m20.4 .3h0m.9 -40.2h0m-14.5 -19.8h0m6.9 58.8h0m-12.1 -21.8h0m-1.4 34.4h0m14.4 -49.2h0m14.5 16.4h0m-19.3 -23.1h0m3.5 -15.6h0m-6.4 21.2h0m-9.2 34.1h0m8.7 16.8h0m16 -9h0m-12.3 -20.9h0m-6.8 -1.4h0m16.6 -11.5h0m3.6 -3.2h0m-2.6 15.4h0m2.5 27.9h0m-17.9 -70.2h0m23.6 1.3h0m-12.1 67h0m1.3 -22h0m-18.5 5.8h0m24.9 -49.9h0m-3.5 52.5h0m-16.3 -43.5h0m21.3 41.6h0m-20.9 -16.7h0m1.2 -33.6h0m19.6 43.8h0m-13.6 8.3h0m10.5 -46.5h0m3.5 36.7h0m-22.9 24.8h0m12.7 -16.9h0m-3.1 -47.4h0m-4.1 60.9h0m16.2 -17h0m3 26.7h0m-1.4 -63.6h0m-21.8 2.7h0m1.1 50.4h0m-6.1 -56.9h0m22.8 43h0m5.2 -25.2h0m-5.3 -2.3h0m-25.1 31.1h0m17 -7.8h0m4.8 -19.2h0m-1.5 -28.6h0m11.5 16.8h0m-17.3 7.1h0m-10.3 31.6h0m21.3 -18.7h0m-20.3 8.2h0m11 .9h0m12.6 15.4h0m-.5 -33.4h0m-7.4 43.2h0m13 -45.9h0m-14 20.2h0m12.4 -2.3h0m-9.9 -39.1h0m-19.4 38.7h0m22.3 -38.5h0m-9.3 40.2h0m-8 15h0m.7 1.2h0m2.1 -39.4h0m11.1 -14.7h0m12.2 19.3h0m-15.3 15.9h0m1.1 22.5h0m-10.9 -13h0m15.3 14.8h0m-11 -19.5h0m-3.1 21.2h0m-.3 -66.1h0m18 -1.5h0m-15.5 58.6h0m15.5 6.6h0m-.9 -.9h0m-26.3 -14h0m3.3 20.1h0m6 -24.2h0m19.8 12.8h0m-26.6 -54.5h0m20.5 54.3h0m4 17.7h0m-20.1 -37.3h0m12.4 -37.7h0m4.2 35.2h0m-7.8 -10.5h0m9.2 13.4h0m-22.9 24.3h0m31.7 -38.7h0m-11.9 -7.4h0m-15.3 55.4h0m-3.4 -42.9h0m-2 31.6h0m20.3 -47.8h0m10 60.8h0m2.6 -3.7h0m-23.5 -5.6h0m14.4 -19.7h0m2.1 -2h0m-15.2 -24.7h0m20.1 32.2h0m-5.8 24.4h0m-18.7 -61h0m-5.2 -.8h0m5 -2.4h0m3.8 33.8h0m-4.9 -35.1h0m25.8 -4.5h0m-.4 -5.5h0m-1.2 17.7h0m-6.8 .9h0m-21.5 -3.9h0m2.5 49.3h0m11.5 -67.2h0m-5.6 12.1h0m4.7 6.3h0m5.4 29.9h0m-4.6 7h0m-.7 9.6h0m-15.5 1.2h0m32.8 -52.1h0m-31.9 -10.7h0m27.3 15.9h0m-26.6 -5.3h0m25.9 59.4h0m-19.4 -33.8h0m-7.9 -32.5h0m18.1 33.4h0m-3.6 -2.2h0m3 3.4h0m-16.4 -33.6h0m12.1 -6.4h0m17.4 38.9h0m-10.9 .7h0m-7.7 6.8h0m-.6 -34.3h0m15.2 53.9h0m-12.2 -46.4h0m15 56.7h0m-15.5 -64.8h0m-.9 54h0m7.5 -24.7h0m-2.8 8.3h0m9.7 -14.9h0m-24.1 33.9h0m26.3 -53h0m-16.8 45.7h0m-2 -34.5h0m-7.9 31.5h0m19.8 -6h0m-14.9 -6.5h0m11.3 31.5h0m-10.8 -56.3h0m-6.5 43.2h0m24.7 -30.4h0m-.3 34.1h0m6.5 -52.5h0m-21.9 36.5h0m18.4 -39.4h0m-13.1 9.6h0m-3.7 -17.3h0m-4.9 39.4h0m-2.4 -28.2h0" stroke="#ff7f0e" stroke-width="2.24" stroke-linecap="round" fill="none"/><path d="M409.3 73h0m1.4 -12.7h0m-5.4 25.9h0m2.3 -53.5h0m-.3 -1.3h0m-6.6 21.9h0m.3 4.1h0m-1.1 -10.4h0m-6.1 45.2h0m2.1 -58.3h0m10.5 28.4h0m-14.8 20.6h0m13 -28.7h0m-2.7 -24.4h0m11.4 9.9h0m-15.6 9.2h0m7.5 10.5h0m4.3 29.1h0m-6.7 -4.1h0m6.1 -44.5h0m-16.6 45.5h0m-5.5 -3.6h0m20 -16.3h0m-12.9 -17h0m2.1 -9h0m7.4 58.6h0m-14.5 -61.9h0m16.7 38.7h0m-.3 -18.9h0m1.5 17.7h0m3.5 -4.4h0m-8 -41.3h0m-8.3 18.2h0m7 -13.6h0m-12.3 .7h0m22.9 26.8h0m-14.1 -2.9h0m-2.8 13.9h0m-3.8 -41.9h0m22.1 38.6h0m-8.7 17.6h0m10.2 -38h0m-20.2 -9.8h0m-6.7 47.5h0m10.2 11.7h0m-5.8 -7.5h0m14.5 14.2h0m-16.8 -68h0m-1.4 .5h0m6.3 24.3h0m8.5 -13.5h0m-12.5 .6h0m18.2 -15.5h0m-6.5 4.2h0m2.6 3.2h0m-10.9 29.3h0m6.7 -35.4h0m-4.6 57.2h0m-4.2 -60.9h0m18.1 18.7h0m-14.5 -10.9h0m11.8 -10.9h0m-12.4 70h0m16.3 -3.1h0m-16.2 3h0m3.8 -54.5h0m8.2 -11.2h0m-13.8 44.8h0m16.8 11.2h0m-6.1 -20.8h0m-5.3 -35.4h0m3.6 -3.9h0m6.4 1.5h0m-16.4 8.5h0m13.2 32.5h0m6 31.5h0m-19.5 -26.7h0m12.1 -10.9h0m-14.4 -20.5h0m22.2 -.4h0m-20.8 20.3h0m3.9 -27.4h0m14.9 38.7h0m0 15.2h0m-3.1 -36.9h0m-16.6 48.3h0m23 -.3h0m-5.4 -59.4h0m3.5 16.7h0m-2.7 41.9h0m-18.5 -5.9h0m3.1 -6.3h0m10.2 9.3h0m8.4 -38.1h0m-14.6 -11.8h0m-5.5 -15h0m14.3 29.9h0m-4.5 40.5h0m7.3 -21.8h0m1 -39h0m-10.3 60h0m.7 -47.8h0m1.9 17.8h0m2.5 -3h0m2.3 -42.8h0m4.5 42.5h0m-17.4 30.2h0m18.8 .5h0m2.4 -43.7h0m-17 -15h0m-4.3 62.5h0m1.4 -34.2h0m6.9 -34.8h0m-4.5 62.9h0m17.5 -43.3h0m-13.1 14.5h0m-12.3 9.4h0m5.2 -25.1h0m14.9 -22.4h0m-22.3 .4h0m6.6 4.7h0m8.4 38.6h0m-5.3 11.7h0m-1.9 -37.4h0m8.2 6h0m.9 -4.2h0m-13.8 11.6h0m7.2 -24.5h0m-1.6 38.4h0m11 27.3h0m-11.8 -2.2h0m1.9 -56.7h0m-4.2 32.3h0m-.6 -29.8h0m15.8 35h0m-12.2 3.1h0m12.5 -5h0m3.1 -19.9h0m-12.8 22.3h0m2.5 -20.3h0m2.3 -25.1h0m-6 -4.4h0m-3.6 21.1h0m16.1 27.1h0m-3.3 -47h0m-7.8 38.2h0m12.8 3.6h0m-12.7 23.2h0m-4.5 -54.6h0m12.4 -5.7h0m-11.9 27.4h0m-4.3 34.9h0m10.5 1.6h0m-4.7 -5.6h0m8.5 -49.3h0m-3.6 -7.1h0m11.1 62.7h0m-5.4 -76.1h0m-18.1 8.2h0m3.7 36.7h0m20.2 31.8h0m-12.4 -37.6h0m13.2 38.8h0m-13.1 -18.3h0m12 -44.4h0m-11.5 -13.2h0m6.9 24.4h0m-1.5 43.6h0m.1 -7.3h0m1.2 -26.6h0m3.8 -25.4h0m-17.2 9.8h0m-5.2 24.4h0m11.2 30.5h0m-.9 -11.3h0m-5 -42.7h0m18 3.6h0m-24.4 -25.2h0m1.2 44.9h0m4.9 -35.1h0m-5.8 -9h0m19 46.3h0m-12.6 -43h0m18.7 38.3h0m-2.1 4.7h0m-4.8 20.7h0m-2.3 9.9h0m-4.9 -9.6h0m1.6 -59.1h0m.4 14.9h0m2.5 51.4h0m-1 -24h0m-13.4 -48.7h0m17.9 60.2h0m-4.4 -59.6h0m-7.8 .2h0m.1 27.7h0m-2.7 -20.1h0m13 -9h0m-6.8 17.1h0m-5.3 12.1h0m-1.9 8.7h0m.9 13h0m0 -35.7h0m7.8 31.4h0m2 -26.6h0m-4.4 54.9h0m-6 -16.7h0m11.8 -31h0m-.8 32.2h0m-11.1 -9.4h0m8.3 -27.8h0m0 -4.2h0m.4 -.1h0m-1.8 51.8h0m-.7 -12.9h0m9.7 -52.4h0m-3.8 27.7h0m-10 -13.1h0m5.9 11.9h0m10.8 -31.1h0m-22.7 44.5h0m18.3 -2.6h0m-4.8 -10.9h0m7.3 -9.3h0m-10.7 32.2h0m-5.7 -9.2h0m12.6 20.7h0m-16.9 -9.5h0m17.6 -47.7h0m-17.7 49.3h0m12.6 -22.6h0m6.6 -2.8h0m-16 40.2h0m11 -43h0m-.3 26.3h0m1 -19.7h0m-.1 27.5h0m1.1 -15.7h0m1.3 -32.8h0m-10.4 -11.7h0m13.7 60.3h0m-10.2 8.8h0m-7.4 -70.3h0m7.1 48.8h0m3.5 -33.6h0m6.6 -18.9h0m-8.6 45.3h0m-9.3 -30.1h0m16.7 -5.6h0m-5.9 7.7h0m-.6 30.5h0m-7.7 -30.9h0m7.4 54.5h0m-8 -30.3h0m10.3 -2.3h0m2.3 19h0m-15.1 5.7h0m20.6 -61.3h0m-12.2 54.3h0m9.8 18.6h0m-5.2 -3.2h0m-8.8 -55.8h0m-4.9 -10.6h0m17.3 10.8h0m-14.9 21h0m-.9 .1h0m.9 -25.4h0" stroke="#f0c93c" stroke-width="2.24" stroke-linecap="round" fill="none"/><path d="M304.5 66h0m3.9 35.1h0m-3.7 -56.1h0m7.2 -7.5h0m-4.7 56.3h0m-.5 -5.1h0m2.7 9.8h0m4.7 -2h0m-5.6 -68.3h0m-4.7 33.3h0m1.3 -11.5h0m8.4 -16.6h0m-6.4 62.5h0m7.9 -54.6h0m-5.5 30.5h0m2.6 -15.3h0m1.9 22.7h0m-8.6 -29.9h0m10.3 45.3h0m-9.9 -39.7h0m6.5 1.1h0m-10.1 11.2h0m10.4 28.2h0m0 -38.2h0m3.9 -4.5h0m-3.6 7.9h0m-6.2 -28.4h0m2.9 24.7h0m.6 33.9h0m.5 -60h0m.6 54.2h0m-4.1 -26.8h0m5.4 31.7h0m-7.2 -23.2h0m6.7 10.4h0m-7.8 -13.5h0m8.4 33.6h0m2.7 -55.9h0m-13.1 22.1h0m10.3 13.8h0m.9 -49.7h0m-3.9 53.2h0m1.4 -19.1h0m-5.5 18h0m.2 -32h0m-1.5 -12.3h0m4 -2.9h0m-5.9 17.4h0m4.6 -13.4h0m-3.1 25.4h0m3.9 -4.5h0m-5.5 10.3h0m7.2 -13h0m-2 -24.9h0m-2.9 55.4h0m2.4 -23h0m-4.3 -6.7h0m1.3 -5.8h0m8.9 1.9h0m-6.2 28.4h0m.1 -16.7h0m3.6 16.8h0m2.7 -32.8h0m2 10.4h0m1 -15.9h0m-10.7 -5h0m10.5 30.4h0m-12.6 17.1h0m5.7 -37.1h0m-4.5 12.7h0m5.6 24.8h0m4.5 -27.1h0m-11.5 -3.2h0m13.9 -5.6h0m-8.2 -6.2h0m-2.2 8h0m-3.4 1.1h0m13.8 4.6h0" stroke="#1f6eb0" stroke-width="2.24" stroke-linecap="round" fill="none"/><path d="M349.4 29h0m6.6 18.2h0m-8 50.2h0m6.3 6.7h0m-10.3 -79.9h0m-3 10.5h0m17.7 44.9h0m5.1 -10.3h0m-9.2 27.5h0m4.6 -66.8h0m-13 31.5h0m-6.9 17.3h0m21 -5.4h0m-17.2 -34.1h0m-2.9 43.9h0m4.2 13.7h0m21.5 7.2h0m-21.8 -48.4h0m-.9 40.8h0m18.8 -50.1h0m-11.4 -22h0m10.3 20.8h0m2.3 16.8h0m-4.8 21.5h0m4.2 -7.4h0m-7.2 -8.5h0m5.3 14.4h0m-6.6 -26.4h0m7.9 -2.9h0m-19.7 -11.6h0m15.1 60.4h0m-16.8 -20.2h0m4.2 13.7h0m13.3 -27.5h0m-13.5 26h0m8.5 -45.1h0m-.9 12.7h0m8.8 17.7h0m5.7 -18.2h0m-10.3 29.5h0m-17.2 -54.1h0m17.2 20.6h0m-14.2 13.3h0m13.8 28.5h0m-6.6 -2.6h0m-4.1 -26.6h0m9.3 -41.5h0m-2.3 27.6h0m-1.2 -5.8h0m9.4 21.1h0m-19.9 6.4h0m22.5 -.2h0m-19.9 11.4h0m5.6 -3.8h0m-1 -16.8h0m-2.6 20.2h0m7.8 -61.1h0m-11.3 33.9h0m20 -10.1h0m-14.6 -25.7h0m-2 30.3h0m8.2 2.5h0m-12.8 16.8h0m24.4 -24.6h0m-17 -13.7h0m-6.5 -5.3h0m14 13h0m3.6 51.6h0m-14 -18.1h0m16.5 -7.4h0m-22 8.4h0m1.8 -15.1h0m17.6 31.7h0m3.7 -48.5h0m-7.3 -8.7h0m-12 43.4h0m13.5 3.6h0m-7.9 -2.3h0m3.8 5.6h0m-4.1 -33.1h0m-1.6 -13.2h0m15 2.6h0m-5.1 38.9h0m2.6 -25.1h0m-19.7 13.7h0m3.4 16.7h0m4.7 -13.2h0m-6.2 12.6h0m16 -39.1h0m-10 23.2h0m11.1 8.2h0m-9.8 12.1h0m-5.7 -35h0m16.3 9.3h0m-9.4 19.5h0m-5.4 -53.8h0m11.2 30.5h0m-4.9 20.2h0m11.3 -25h0m-1.6 .1h0m-22.2 -26.8h0m15 31.1h0m-7.3 25.2h0m17.7 -28.1h0m-13.9 -15.8h0m-2.5 20.7h0m9.5 15.6h0m0 -28.7h0m-16 24.9h0m15 5.8h0m4.4 14.9h0m3.8 -50.4h0m-17.5 52.7h0m5.6 -61.1h0m.4 46.7h0m-.9 -58.1h0m-3.3 4.4h0m10.4 37.4h0m-18.5 21.8h0m3.3 6h0m14.5 -9h0m-11.5 -48.9h0m-2.5 48.8h0m-5.2 -1.7h0m5.5 -12.6h0m10.7 9.1h0m-8.3 -12.9h0m12.9 15.5h0m-8.6 -5.4h0m9.5 -12.5h0m2.7 9.7h0m-10.4 17.4h0m-10.1 -56.1h0m2.4 25.1h0m11.9 31.5h0m.7 -35.4h0m1.9 44h0m-13.1 -25.7h0m8.1 -16.1h0m-12 -14.2h0m3.2 -14.5h0m6.8 60.6h0m4.4 -23h0m-.5 30.7h0m-2.1 -56.4h0m8.2 5.7h0m-14.2 -3h0m13.3 32.4h0m-4.3 -56h0m-4.4 59.8h0m-3.7 -23.1h0m11 44h0m-10.2 -51.1h0m6.6 -18.1h0m-2.4 46.9h0m-.5 -44.9h0m7.7 16.2h0m1.6 3.4h0m-20.2 -7.7h0m.6 35.8h0m3.9 -2.4h0m5.1 -23.4h0m3.6 32.8h0m3.5 -48.8h0m-4.3 26.3h0m-1.6 -16h0m10.6 -15.6h0m-4.3 23.9h0m-15.3 27.4h0m5 -31.7h0m-7.7 25.3h0m-3 -54h0m24.7 16.7h0m-13.3 2.3h0m7.7 36.6h0m5.2 15.9h0m-16.4 -70.1h0m10.3 1.9h0m-10.6 45.9h0m9.8 -21.1h0m-14.9 30.4h0m3.4 -55.3h0m1.3 34.1h0m8.7 9.3h0m7.1 0h0m-4.6 -45.9h0m3.9 -5.4h0m-22.5 .7h0m5.5 16.5h0m11.4 44.7h0m-6.9 9.5h0m-8.8 -53.9h0m22.1 59h0m-20.3 -64.3h0m18.3 3.9h0m-18.3 15.3h0m6.1 12.9h0m-5.7 5h0m7 11.7h0m9.2 15.7h0m-14.5 -24.8h0m-2.5 -44.2h0m19.9 67.3h0m-6.4 -44.8h0m-12.6 21.3h0m19.6 -16.8h0m-12.1 11.3h0m13 -11.5h0m-6.1 -14.3h0m-10.1 26.9h0m-5.3 -32.4h0m15.1 65.4h0m-11.5 -18.5h0m-2.5 1h0m.9 -30.4h0m7.3 44h0m11.5 -75.6h0m-19.8 7.3h0m.1 41.2h0m9.1 6.8h0m2.5 -31h0m7.5 -24.5h0m-13.9 .7h0m16.3 38.6h0m-14.7 13.7h0m-5.4 -49.1h0m-.2 33.3h0m15.9 8.9h0m-16.3 -37.3h0m5.5 63h0m7.9 -43.4h0m3.2 28.3h0m1.7 -31h0m-21.2 23.4h0m12.3 27.5h0m-11 -34.2h0m7.2 -34h0m9.2 43.7h0m-11.7 -7.9h0m-.8 -29.9h0m-2.5 61.8h0m9.3 -71.3h0m9.3 53.6h0m-.4 .2h0m-6.9 -54.9h0m-3.9 62.1h0m-5 -16h0m19.8 23.9h0m-14.6 -73.8h0m6.6 54.1h0m1.9 -43.5h0m3.6 37.3h0m-9.9 8.2h0m-3.3 -6.1h0m2.9 -45.3h0m-9.4 34.8h0m8 -24.8h0m1.9 42.3h0m-13.1 8.4h0m9.7 -16.5h0m.4 -24.8h0m4.8 -12.8h0m3.3 27.7h0m-1.6 -25.9h0m5.2 54.6h0m-1.6 -67.8h0m-2.8 15.4h0m-4.1 25.1h0m6.9 37.9h0m-5.6 -75.2h0m9.2 41.2h0m-10.5 20.9h0m3.2 -30.5h0m-6.6 4.9h0" stroke="#bdbdbd" stroke-width="2.24" stroke-linecap="round" fill="none"/><path d="M459.2 91.8h0m3.7 -36.4h0m-11.8 34h0m-1.3 4.3h0m2.2 .7h0m11.1 -34.5h0m-8.1 21.8h0m2.7 -51.5h0m3.4 34.8h0m-11 -16.2h0m-2.5 -14.7h0m3.9 67.4h0m13 -3.3h0m-7.5 -21.1h0m-3.9 -19.2h0m-4.3 -14.5h0m15.8 10.2h0m-3.5 -25.5h0m-3.6 60h0m7 -11.7h0m.2 11.5h0m-14.5 -20.3h0m7.8 -44.3h0m-9.1 65.9h0m4.5 6.6h0m-7 -68.5h0m7.7 49.9h0m-4.9 25.9h0m5.3 -39.4h0m-3.3 -37.3h0m11.1 9h0m-2.1 54.5h0m-5.1 13.3h0m-4.6 -53.9h0m9.5 -8.3h0m4.9 41.9h0m-19.1 -.8h0m10.6 -9.5h0m-7.1 27.4h0m7.7 -4.3h0m3.1 -39h0m3.3 40.7h0m-4.3 -72.2h0m2.9 65.4h0m-5.1 11.7h0m-9.9 -32.1h0m6.4 -5.4h0m9.8 28.9h0m.4 -20.1h0m-9.5 23.4h0m11.5 -31.1h0m-7 29.2h0m4.8 -62.1h0m-1.2 53.8h0m-13.6 -9.9h0m15.3 -35.6h0m-3 1.4h0m-8.4 35.1h0m-4.8 -7h0m17 4h0m-16.6 9h0m13.8 -11.6h0m-14.9 -43.3h0m17 61.9h0m-8.2 -50.6h0m-4.5 21.4h0m5.3 29.4h0m-9.7 -67.1h0m17.8 24.6h0m-3.4 -8.1h0m3.5 14.8h0m-1.7 15.7h0m-4.8 -6.7h0m-.4 19.1h0m6.2 -58.8h0m-10.9 54.4h0m5.6 -19.3h0m-2.5 -29.9h0m4.6 24.9h0m-11.8 39.7h0m14.7 -7h0m-8.9 -13.8h0m-3.2 -32.3h0m14 -12.1h0m-20.5 56.8h0m13.1 -50.6h0m-4.2 15.1h0m-6.4 -16.4h0m18.1 55.3h0m-2.2 -16.5h0m-10.9 18h0m-5.7 -51.8h0" stroke="#ad2742" stroke-width="2.24" stroke-linecap="round" fill="none"/><rect x="294.5" y="19.3" width="179.1" height="88.8" fill="none" stroke="#222" stroke-width="1"/><circle cx="485.3" cy="29.2" r="2.7" fill="#1f6eb0"/><text x="493.7" y="31.7">HPC</text><circle cx="485.3" cy="40.6" r="2.7" fill="#2bb5ec"/><text x="493.7" y="43.1">CC</text><circle cx="485.3" cy="52.1" r="2.7" fill="#ad2742"/><text x="493.7" y="54.6">L1</text><circle cx="485.3" cy="63.5" r="2.7" fill="#ff7f0e"/><text x="493.7" y="66.0">L2/3</text><circle cx="485.3" cy="75.0" r="2.7" fill="#f0c93c"/><text x="493.7" y="77.5">L4</text><circle cx="485.3" cy="86.5" r="2.7" fill="#33e68f"/><text x="493.7" y="89.0">L5</text><circle cx="485.3" cy="97.9" r="2.7" fill="#bdbdbd"/><text x="493.7" y="100.4">L6</text><text x="-0.3" y="124.6" font-weight="bold" font-size="10">b</text><text x="67.7" y="133.9" text-anchor="middle">scNiche</text><path d="M62.4 172.1h0m1.5 -2.8h0m-.2 -3.6h0m6 10.7h0m-13 11.1h0m18.9 -38.5h0m-2.9 32.6h0m-17.3 -.1h0m5.7 5.5h0m4.5 -32.7h0m1.7 20.7h0m0 12h0m-.3 -28.1h0m-4.3 -15.6h0m-.1 32.3h0m6.9 5.3h0m1.1 -23.3h0m3.6 1.1h0m1.5 -5.9h0m-7.7 21.7h0m-9.8 18.9h0m2.2 -7.6h0m4.7 -26.8h0m-4.4 3.2h0m10.2 -11.7h0m-2.6 32.2h0m1 -10.2h0m0 -7.4h0m-.3 -22.3h0m-.9 52h0m-3.9 -52.3h0m-8.7 53.2h0m13 -1.7h0m-3.9 -42.9h0m-5.6 19.2h0m15.3 -13.1h0m-18.7 33h0m9.6 4.1h0m5 -1.9h0m-6 2.2h0m-1.4 -41.7h0m7.9 -4.3h0m-11.3 26.9h0m12.8 -29.6h0m-12.8 9.9h0m1.5 29.3h0m13.6 -33.6h0m-5.1 19.7h0m.6 11.9h0m-3 -12.2h0m-8.1 -21.1h0m6.8 4h0m5 15.9h0m.7 -19.6h0m-7.2 43.2h0m-5.7 -2h0m12 -40.9h0m4.2 16.2h0m-2.7 -8.6h0m-16.2 19.8h0m3.8 -8.3h0m-2.8 10.1h0m11.9 4.8h0m-1 -34.8h0m-4.1 -1h0m10.7 23.5h0m-1.4 -26h0m-8.8 3.5h0m11.2 1.7h0m-10.9 12.8h0m1.7 31.4h0m4.3 -30.3h0m-2.5 -1.9h0m-.4 28.9h0m-2.8 -39.1h0m-3.6 17.3h0m2.3 11.9h0m10.4 -5.7h0m-5.5 10.8h0m1.6 5.7h0m-3.4 -39.2h0m1 -10h0m-.3 21.4h0m10.2 -18.6h0m-10.9 36.2h0m6.6 -32.1h0m-11.2 44.6h0m-4.6 -32.7h0m2.4 .4h0m5.2 -12.2h0m-5.8 -.8h0m8.1 23.4h0m-2.9 1.5h0m-6.4 -10.7h0m10.5 -5.7h0m4.5 16.9h0m-1.5 -20.8h0m-9.1 28.8h0m-3.5 -7.6h0m13.5 -8h0m2.6 -18.2h0m-9 14.6h0m-4.5 22.5h0m-4.5 -6.9h0m11 -16.2h0m.3 8.8h0m1.1 -28.8h0m-7.5 30.2h0m4.9 -19.3h0m4.9 33.9h0m-7.6 -39.6h0m-4.6 37.2h0m3.5 -16.9h0m13.4 -11.9h0m-13.6 34.9h0m-1.5 1.1h0m11.5 -46h0m-8.9 11.7h0m-7.7 22.9h0m8.1 -39.1h0m4.3 5.9h0m-6.1 23.3h0m-5 2.9h0m10.4 15.7h0m2.9 -19.2h0m-13.3 22.5h0m10 -24.2h0m-9.1 1.1h0m18.8 -18h0m-7.3 10.1h0m-4.3 31.8h0m-2.7 -26.6h0m3.2 -11.5h0m5.4 20.9h0m3.5 -16.8h0m-4.9 -14.6h0m-2.5 6.5h0m-8.9 15.5h0m7.6 3.8h0m8.2 -22.7h0m-7.9 24.5h0m4 -13.7h0m-7.8 -5.4h0m2.6 29.5h0m4.8 -28.4h0m-11.8 39.5h0m4.3 -33.2h0m8 9h0m-2.5 -20.4h0m7.1 7.2h0m-11.4 -6h0m8.2 14.9h0m-3.4 28.2h0m8.2 -44.5h0m-15.4 -3.9h0m-1.8 25.3h0m6.9 -3.9h0m.3 -5.3h0m3.3 5.6h0m6.4 -13.3h0m-5.9 38.1h0m-12.3 -29.2h0m6.5 29.7h0m-4.5 -14.7h0m13.4 -2.4h0m-.4 -19.8h0m-13.1 -8.9h0m.6 1.1h0m5.4 24.8h0m-8.4 -10.2h0m4.2 -1.8h0m.5 -2.7h0m-4.6 -.6h0m4.8 9.1h0m0 -5.2h0m-6.2 33.2h0m10.6 -44.5h0m-2.3 7.9h0m12 -11.7h0m-2.4 14h0m-10.1 8.4h0m-6.2 -6.6h0m6.1 7.5h0m-1.5 -7.1h0m1 27.1h0m-8.9 -4.1h0m12 -23.7h0m.9 6.2h0m7.1 -14h0m-3.3 7.4h0m-6.7 -18.1h0m-9.9 35.9h0m4.1 -21h0m12.1 -10.2h0m2.5 24.5h0m-7.7 -9.9h0m-.1 -14.3h0m-1.4 41.3h0m0 -32.2h0m-1.9 16h0m-4.3 -4.5h0m16.5 -12.7h0m-16.6 13h0m5.4 -14.2h0m7.8 17.4h0m-8.4 -6.1h0m-.2 11.7h0m-1.4 8.3h0m7.4 -42.4h0m-10.7 26.6h0m16.8 -13.7h0m-4.3 -14.3h0m.8 29.8h0m-17.3 19.9h0m20.6 -43.3h0m-8.1 31.8h0m4.2 -37.7h0m-10.2 30.2h0m14.5 -28h0m-11.5 7h0m-.3 -10.3h0m.3 47.5h0m-4.3 -5.1h0m11.1 -28.8h0m-1.5 .1h0m1.7 35.3h0m-12.3 -21.5h0m-5 22.9h0m18.2 -48.1h0m-6.3 3.1h0m1.6 -4.6h0m8.5 2h0m-14 -.6h0m14.1 19h0m-12.2 -18.6h0m10.4 5.2h0m-13.4 36.9h0m14 -23.4h0m-1.3 5.8h0m.7 8.6h0m-.1 -23.8h0m-12.4 35h0m1.6 -38.1h0m7.6 -.3h0m2.8 26.6h0m-13.3 16.3h0m2.3 -17.8h0m2.5 -4.6h0m1.8 -14.3h0m-1.6 27.3h0m-4 -6h0m.2 -15.2h0m9.3 7.9h0m-1.5 -19.9h0m5.7 5.7h0m-14.1 28.6h0m2.1 -2.5h0m8 -22.2h0m-1.4 -11.2h0m-9.6 34.2h0m10.9 -10.1h0m-12.4 13.2h0m2 -11.2h0m-1.3 -4.1h0m6.4 21.2h0m8.3 -18.9h0m-9.2 -21.2h0m6.3 28.6h0m-12.3 -7.8h0m1.1 -5.8h0m11.1 14.7h0m-14.8 3.7h0m4.7 -15.4h0m6.3 -6h0m2.1 1.7h0m-5.7 25.1h0m1 -9.7h0m11 -35.6h0m-6.9 48h0m-6.3 -18.3h0m-.8 -22.6h0m11.4 -7.9h0m-2.1 12.6h0m-14.9 33.2h0m15.8 -31.2h0m-16.6 23.3h0m5.7 -26.1h0m2.9 -14.8h0m8.7 10.7h0m1.7 1.1h0m-5.9 30.6h0m5.5 -14.4h0m-16.8 7.8h0m12.8 16.2h0m2.3 -9.1h0m-8.1 -1.2h0m11 -30.4h0m-3.3 -7h0m-8.8 24.2h0m2.3 2h0m-6.8 7.7h0m4.9 -25.3h0m-1.6 -1.8h0m11.5 14.3h0m-.5 .1h0m-6.6 -22.9h0m-5.7 27.8h0m-2.2 22.2h0m15.1 -44h0m-9 41.9h0" stroke="#33e68f" stroke-width="1.56" stroke-linecap="round" fill="none"/><path d="M33.1 169.5h0m-10.3 16h0m10.9 -30.5h0m-1.4 17h0m1.4 9.3h0m-11 -8h0m-3.2 -21.9h0m11.9 14.8h0m1 -23.7h0m-5.8 21.1h0m-2.1 -19.6h0m8.2 22.4h0m1.6 -4.2h0m-13.4 28.5h0m2.6 -1.7h0m2.2 -8.9h0m2.9 2h0m6.6 -17.3h0m-2.7 -19.5h0m-7.8 6.6h0m7 30.8h0m-1.6 -32.3h0m4.7 30.9h0m-6.5 -34.3h0m-.6 43.6h0m1 3h0m-8.2 -44.9h0m14.5 27.3h0m-13.5 -22h0m11.1 -3.9h0m-1 5.6h0m-12.1 8.3h0m9.2 2.4h0m-.4 -3.3h0m-7.5 16h0m8.9 13.2h0m-7.8 -2.9h0m7.5 -15.4h0m-1.7 6h0m7.6 -23h0m-15.6 6.7h0m6.9 -18.3h0m-2.6 34.5h0m2 -20.2h0m2.9 -8.3h0m-2.9 8h0m-6.1 30.6h0m12.2 -46.6h0m-6.2 2.6h0m6.4 1.7h0m-7.6 47.4h0m4.4 -19h0m-5.3 -32.2h0m8.8 4.9h0m1.7 46.7h0m-14.4 -31h0m2.6 -3h0m-2.4 5.3h0m15.7 -4.9h0m-4.7 15h0m-6.1 7.5h0m2.1 -37.7h0m2.7 47.4h0m-.1 -8.1h0m-11.1 -39h0m.4 36h0m6.8 -23.8h0m.6 29.7h0m-2 -7h0m6.4 -21.1h0m-10.9 25.5h0m4.1 -13.9h0m-4.4 5.4h0m13.5 -7.5h0m-1 -20.3h0m1 4.4h0m.9 -5.1h0m-.9 11.3h0m-2.4 -9.3h0m5.3 -8.3h0m-4.4 37.9h0m-11.7 -3.1h0m-1.1 -10.4h0m12.8 -6.3h0m-7.7 15.1h0m4.3 -23.4h0m4.8 23.3h0m.3 -21.4h0m.5 -6.7h0m.2 12h0m-5.4 3.7h0m-1.3 20.2h0m3.3 -40h0m2.3 37.4h0m-9.3 -37.4h0m5.7 6.1h0m-4.5 -6h0m10.7 .4h0m.2 32.2h0m-9.9 -29.5h0m9.1 10.5h0m-1.1 -9.2h0m-10.3 -1.5h0m6.5 48.4h0m-5.5 -45.9h0m7.1 45.9h0m-8.8 -42.1h0m7.3 19.3h0m-7.4 .7h0m1 19.8h0m1.9 -12.3h0m5.1 -36.1h0m-12.4 35.1h0m1.9 -21.9h0m15.5 -15.6h0m-7.9 6.9h0m.1 9.2h0m7.6 -5.3h0m-5.8 -10.2h0m-4.4 1.3h0m3.1 38.5h0m-6.2 -28.4h0m12.9 -1.8h0m-12.3 25.9h0m8.3 -8.8h0m-.1 20.2h0m-.2 -28.6h0m-5.9 30.6h0m-2.8 -20.6h0m4.8 -1.8h0m-2.6 -.9h0m1.5 -14.5h0m7.3 -8.3h0m-.7 23.5h0m-2.5 -6.4h0m2.4 -4.4h0m-9.1 22.8h0m5 -12.8h0m4.4 24.9h0m2.9 -10.9h0m-5.6 -14.4h0m5.3 6h0m-3 -26.9h0m-9.4 36.8h0m8.8 -34.2h0m-7.5 42h0m9.2 -40.1h0m-4.4 42.4h0m-6 -18.8h0m8.9 -19.2h0m-9 3h0m5.1 6.6h0m-1.2 -9.1h0m-1 18.9h0m10.4 -23h0m-3.4 34.5h0m-.7 .8h0m-8.9 -6.8h0m-.3 -16.9h0m1.6 26.5h0" stroke="#2bb5ec" stroke-width="1.56" stroke-linecap="round" fill="none"/><path d="M99.8 147h0m-3.9 1.3h0m5 10h0m6.9 -6.5h0m4.6 34.1h0m-20.6 -40.2h0m-2.1 48h0m3.9 -13.9h0m18 9h0m-12.1 -.4h0m-4.4 -44.8h0m18 45.7h0m-22.3 3.8h0m-.3 -20.5h0m9.1 -29.6h0m.1 47.7h0m15.4 -9.9h0m-14.9 11.9h0m2.4 -16.2h0m-2.1 -25.2h0m-1.3 -1.8h0m6.3 40.9h0m.6 3.6h0m-5.4 -21.8h0m-2.4 -29h0m-5.3 5.4h0m13.2 26.3h0m5.6 -16h0m-1.7 -9.7h0m-17.6 6.7h0m11.6 8.7h0m8.7 29.4h0m-16.1 -34.5h0m4 20.4h0m-2.6 5.9h0m-1.1 -2.7h0m-4.9 -37.3h0m24.3 32h0m-26.7 5.1h0m3.6 -28.1h0m2.1 -2.6h0m18.4 12.8h0m-2.9 -9.7h0m-10.7 15.7h0m9.2 -13.9h0m-18.9 34.1h0m12.9 -13.4h0m-2.2 9h0m-10.5 -1.7h0m9.5 -4.8h0m2.8 -33.9h0m3.8 11.9h0m-3.4 -5.1h0m.4 23.9h0m.8 -3.3h0m-7.7 12.3h0m2.5 -8.6h0m12.4 -6.1h0m-7.4 -18.8h0m-10.7 9.9h0m7.3 -19.7h0m5.6 21.2h0m-11.3 -5.7h0m5.8 -4.4h0m-1.4 -5.3h0m11.3 37.2h0m3 4.4h0m-9.3 -29.2h0m4.6 -16.4h0m-16.9 14.2h0m15.8 21.5h0m-19.1 12.1h0m25.3 -14.6h0m-3.2 17.3h0m3.5 -26.3h0m-16.4 -18h0m.8 33.7h0m-7.9 -11.7h0m8.4 -18h0m-10.6 33.6h0m21 -21.6h0m-4.7 -4.3h0m2.1 -9.5h0m-16.2 3.4h0m5.6 24.5h0m.5 -11h0m-4.9 7.9h0m5 -2.1h0m6.4 13.6h0m8.8 -45.3h0m-8.6 50.1h0m-12.7 -14.7h0m8.9 -16.3h0m3.5 9.4h0m-13.4 3h0m10.4 -26.8h0m14.5 46.4h0m-18.5 -.4h0m-1.2 -36.1h0m4.2 22.9h0m1.2 5h0m11.2 -27.2h0m-17.8 12h0m10.4 7.8h0m-11.1 16.1h0m14.3 -46.4h0m-7.6 20.7h0m-3 2h0m2.9 -21.4h0m7.5 36.7h0m1.2 -5.7h0m7.1 -6.3h0m-22.4 -13.5h0m.7 13h0m8.5 13.4h0m-10.7 -9.8h0m19.2 15.1h0m-17.1 -37.4h0m-1.2 28.1h0m23.4 6.4h0m-10.3 -42.5h0m-11.1 20.6h0m12.1 -4.6h0m-3.1 -4h0m-1.3 24.8h0m-7.3 -11.3h0m-1.8 -8.6h0m4.9 1.2h0m6.7 -4.5h0m-12.3 11.7h0m-1.5 -7.7h0m4 -17.7h0m10.3 -3.7h0m-4.5 3.4h0m-9.6 10.4h0m.9 -1.4h0m5.3 -.3h0m-5 36.8h0m14.2 -.5h0m-3.2 -13.2h0m-6.5 -22.9h0m2.2 14.9h0m-3 -15.9h0m2.1 5h0m-4.5 7.5h0m2.3 2.7h0m9.2 -3.3h0m10.7 27.6h0m-19.8 -31.1h0m4 5.3h0m9.2 4.4h0m-3.3 16.2h0m7.6 -19.8h0m-8.9 -.6h0m-4.2 25.6h0m.7 -9.5h0m.6 -26.8h0m-9.7 -13.2h0m4.6 39.1h0m17.4 6.8h0m-16.8 -31.1h0m9.7 10.9h0m-12.9 -15.4h0m2.3 -10.4h0m-4.3 14.1h0m-.3 33.9h0m10.7 -6h0m-8.2 -13.9h0m-4.5 -1h0m20.6 5.5h0m-9.6 -13.1h0m2.5 -2.1h0m-1.8 10.2h0m1.7 18.6h0m3.8 -45.9h0m-8.1 44.7h0m.8 -14.7h0m4.3 -29.3h0m-2.3 34.9h0m-10.9 -29h0m22.2 26.3h0m-8 1.4h0m-13.9 -11.1h0m.8 -22.3h0m13.1 29.1h0m-9.1 5.5h0m7 -30.9h0m2.3 24.4h0m4.6 -.7h0m-19.9 17.2h0m8.5 -11.2h0m-2 -31.6h0m-2.8 40.5h0m10.8 -11.3h0m2 17.8h0m-.9 -42.4h0m-14.6 1.9h0m.8 33.5h0m11.1 -9.3h0m3.5 -16.7h0m-3.5 -1.5h0m-5.5 15.5h0m3.3 -12.8h0m9.5 19h0m-10.5 -38h0m7.7 11.1h0m-11.6 4.8h0m7.3 8.6h0m-13.5 5.4h0m7.3 .6h0m8.5 10.3h0m-.4 -22.3h0m-4.9 28.8h0m8.7 -30.6h0m-9.4 13.5h0m8.3 -1.6h0m-6.6 -26h0m1.9 .1h0m6.4 -1.2h0m-12.6 28h0m18.5 -20.5h0m-3 14.2h0m-20.8 16.3h0m24.3 3.3h0m-23.9 -2.5h0m1.4 -26.3h0m7.5 -9.7h0m8.1 12.8h0m-10.3 10.6h0m.8 15h0m-7.3 -8.7h0m10.2 9.9h0m-7.3 -13h0m14.4 -32.8h0m-16.5 46.9h0m-.2 -44h0m12 -1h0m-10.3 39h0m10.4 4.4h0m-.6 -.6h0m-15.4 4.1h0m4 -16.1h0m13.2 8.5h0m-4.1 -.1h0m2.7 11.8h0m-13.4 -24.9h0m8.3 -25.1h0m2.8 23.4h0m-5.2 -6.9h0m6.1 8.9h0m5.9 -9.6h0m-8 -4.9h0m-10.2 36.8h0m10 -39.3h0m6.6 40.5h0m1.8 -2.5h0m-15.7 -3.7h0m9.6 -13.1h0m1.4 -1.4h0m-10.2 -16.4h0m13.5 21.4h0m-3.9 16.3h0m-12.5 -40.6h0m-.1 -2.2h0m2.5 22.5h0m14 -26.3h0m-.3 -3.6h0m-.8 11.7h0m-4.5 .6h0m-12.7 30.2h0m24 -8h0m-16.3 -36.7h0m-3.8 8h0m3.1 4.3h0m3.7 19.8h0m-3.1 4.7h0m-.5 6.4h0m11.6 -33.9h0m-3.1 3.5h0m-.5 36h0m11 -44.9h0m-23.9 22.4h0m6.8 .6h0m-2.4 -1.5h0m2 2.3h0m-2.9 -26.7h0m11.6 25.9h0m-7.2 .5h0m-5.2 4.6h0m-.4 -22.9h0m10.2 35.9h0m-8.2 -30.9h0m10.1 37.7h0m4.6 -4.9h0m-15 -38.2h0m-.6 35.9h0m5 -16.4h0m-1.9 5.6h0m16.4 -.7h0m-9.9 -9.3h0m7.8 -12.2h0m-23.9 34.8h0m17.6 -35.3h0m-11.2 30.4h0m-1.4 -22.9h0m8 17h0m-10 -4.4h0m7.6 21h0m-7.2 -37.5h0m16.2 26.6h0m5.9 -23.6h0m-10 5.5h0m5.7 -16.4h0m-5.9 39.1h0m4.3 -34.9h0m-14.6 24.3h0m19.5 9.3h0m-7.2 -35.5h0m-8.8 6.4h0m-2.4 -11.6h0m-3.3 26.2h0m17.9 -20h0" stroke="#ff7f0e" stroke-width="1.56" stroke-linecap="round" fill="none"/><path d="M84.5 175.1h0m1 -8.5h0m4.9 -7.7h0m-8.6 24.9h0m1.6 -35.6h0m-.2 -.8h0m-4.4 14.6h0m.2 2.6h0m11.1 -8.8h0m-11.9 1.9h0m-4 30.1h0m14.4 -14.4h0m-6 -5.5h0m-1.2 -5.4h0m-1.8 -16.2h0m7.6 6.6h0m-10.4 6.1h0m5 7h0m2.8 19.4h0m3.3 -32.7h0m3.2 -1.1h0m-10.9 31h0m4 -29.6h0m-11 30.3h0m15.2 9.5h0m-5.5 -22.7h0m5.7 -24.6h0m-8 46.2h0m1.4 -15.4h0m6 -24.2h0m-6.2 11.6h0m1.1 11.8h0m2.3 -2.9h0m-5.4 -27.5h0m-.8 3h0m7.1 18.4h0m-9.4 -2h0m-5.7 31.1h0m3.8 -21.8h0m12.2 -2.2h0m-5.8 11.7h0m6.8 -25.3h0m.9 -.8h0m-12 33.7h0m-4 -5h0m9.8 9.5h0m8.7 -48.2h0m-11 10.4h0m10.1 -6h0m-6.3 -3.9h0m-4.3 2.8h0m1.7 2.1h0m-2.8 -4h0m-3.1 38h0m9.3 -28.1h0m-1.8 -14.5h0m5.2 38.7h0m-13.5 7.9h0m14.1 -20.3h0m-3.2 18.3h0m-10.8 1.9h0m15.7 -38h0m-13.2 1.8h0m5.5 -7.5h0m2 37.3h0m-4.1 -13.9h0m7.7 16.4h0m-8.8 -42.5h0m4.3 1h0m-2.2 27.3h0m4 20.9h0m3.8 -21.6h0m-8.7 -3.4h0m5.2 -13.9h0m4.8 -6.1h0m-2.1 23h0m-4 4.2h0m0 10.1h0m-2.1 -24.6h0m-11.1 32.2h0m18.5 -41.7h0m-3.1 41.4h0m-3.7 -39.5h0m2.4 11.1h0m-1.8 27.9h0m-10.3 -8.1h0m6.8 6.2h0m5.6 -25.4h0m2.9 13h0m-6.8 -10.9h0m-3 26.9h0m4.9 -14.4h0m.7 -26h0m6.2 -3.3h0m-13.1 43.2h0m.5 -31.8h0m1.2 11.9h0m7.8 -27.1h0m-6.1 25.1h0m1.6 -28.5h0m3 28.2h0m-11.6 20.2h0m12.5 .3h0m1.6 -29.1h0m.9 -8.3h0m-15.1 39.9h0m.9 -22.8h0m4.6 -23.1h0m-3 41.8h0m11.7 -28.8h0m-8.8 9.7h0m5.3 -25.4h0m3 42.2h0m-7.9 -13.1h0m-3.6 7.8h0m4.3 -20.9h0m.5 -2.8h0m-5.4 16.9h0m7.3 18.2h0m4.8 -9.3h0m-12.7 7.9h0m13.8 -23h0m-.9 22.9h0m-4.3 -12.7h0m-8.1 2.1h0m8.4 -3.4h0m2.3 3.2h0m-.2 -16.4h0m-8.6 14.9h0m1.7 -13.6h0m1.5 -16.7h0m10.8 -5.5h0m-6.5 34.7h0m2.7 0h0m-4.9 -31.3h0m-5.2 25.4h0m8.6 2.4h0m-8.5 15.5h0m5.2 -40.2h0m-7.9 18.3h0m-2.9 23.2h0m7 1h0m-3.1 -3.7h0m5.7 -32.8h0m-2.4 -4.7h0m8.6 -2.2h0m-1.2 43.9h0m-3.6 -50.7h0m3.2 37.8h0m.7 13.3h0m-8.3 -25h0m8.8 25.8h0m-8.8 -12.2h0m8.1 -29.5h0m-7.7 -8.8h0m10 36.4h0m-5.4 -20.2h0m-1 29h0m.1 -4.8h0m.7 -17.7h0m2.6 -16.9h0m2.2 22.1h0m-9.7 20.9h0m-.6 -7.5h0m8.7 -26h0m-3.4 14.6h0m3.5 3.1h0m.5 -6.3h0m-1.3 3.2h0m-3.3 13.8h0m-1.5 6.6h0m7.3 -47.8h0m-10.5 41.4h0m1 -39.4h0m.3 10h0m1.6 34.2h0m7.2 -6.6h0m-7.8 -9.5h0m8.5 -12.9h0m-5.5 20.6h0m4.2 .4h0m-7.1 -40h0m1.7 -.9h0m-4.6 11.4h0m1 19.7h0m1.4 -17.7h0m8.3 -4.4h0m-11.3 40.9h0m-4 -11.1h0m7.9 -20.7h0m-.5 21.5h0m10.5 -33h0m-12.4 8.3h0m0 -2.9h0m.3 0h0m-1.2 34.4h0m10.6 -36.7h0m-11.1 28.1h0m6.5 -34.8h0m-2.6 18.4h0m-2.7 -.8h0m7.2 -20.7h0m-2.9 27.9h0m-3.2 -7.3h0m4.9 -6.2h0m2.4 27.5h0m-9.6 -6h0m10.2 -35.8h0m-5.6 43.4h0m6 -36.3h0m-5.5 -1.7h0m4.6 -3h0m-8 20.7h0m4.4 -1.8h0m-10.7 26.8h0m15.1 -45h0m-7.8 16.4h0m-.1 17.4h0m.6 -13.1h0m0 18.3h0m.7 -10.4h0m.9 -21.9h0m2.1 32.4h0m-6.7 5.9h0m-.3 -14.4h0m2.4 -22.3h0m4.4 -12.6h0m-5.7 30.1h0m4.9 -23.7h0m-3.9 5.1h0m-.5 20.3h0m-.2 15.7h0m10.4 -9h0m-8.8 -12.7h0m1.5 12.6h0m6.5 4.1h0m-2.8 -41.1h0m-8.2 36.2h0m6.6 12.3h0m-3.5 -2.1h0m2.4 -36.9h0m7.7 -.5h0" stroke="#f0c93c" stroke-width="1.56" stroke-linecap="round" fill="none"/><path d="M14.5 170.4h0m2.6 23.3h0m-2.5 -37.3h0m1.7 32.5h0m-.4 -3.4h0m1.9 6.5h0m-.6 -46.8h0m-3.2 22.2h0m.9 -7.6h0m1.3 30.5h0m1.6 -16.1h0m-2.7 -14.9h0m.3 3.7h0m-2.5 8.2h0m3.1 -23.3h0m1.9 16.4h0m.4 22.6h0m-2 -21.7h0m-1.2 5.7h0m-.8 -2.1h0m5.7 22.3h0m1.8 -37.2h0m-8.8 14.8h0m7.5 -23.9h0m-2.6 35.4h0m-2.8 -.8h0m.2 -21.3h0m-1 -8.2h0m2.6 -1.9h0m-3.9 11.6h0m3.1 -8.9h0m-2.1 16.9h0m2.6 -3h0m-3.6 6.8h0m4.8 -8.6h0m-1.4 -16.6h0m-1.9 36.9h0m1.6 -15.3h0m-2.9 -4.4h0m.9 -3.9h0m5.9 1.2h0m-4.1 18.9h0m.1 -11.1h0m5.5 -3.7h0m-6.5 -13.9h0m-1.4 31.6h0m3.8 -24.7h0m-3 8.4h0m3.8 16.6h0m2.9 -18.1h0m-7.6 -2.1h0m3.8 -7.8h0m-1.5 5.3h0m-2.3 .7h0" stroke="#1f6eb0" stroke-width="1.56" stroke-linecap="round" fill="none"/><path d="M44.5 145.7h0m-8.7 45.2h0m13.1 -33h0m-5.3 33.4h0m4.2 4.4h0m-6.9 -53.1h0m-4.6 21.6h0m2.6 -14.7h0m11.8 30h0m3.4 -6.9h0m-6.1 18.3h0m3 -44.5h0m-8.7 21h0m-4.6 11.5h0m14.1 -3.6h0m-11.5 -22.7h0m-2 29.2h0m19 -29.3h0m-16.2 38.5h0m-.1 -27.4h0m-.7 27.1h0m12.6 -33.4h0m-7.6 -14.6h0m6.9 13.9h0m1.5 11.1h0m-3.2 14.3h0m2.8 -4.9h0m-4.8 -5.6h0m3.6 9.5h0m-4.4 -17.6h0m5.2 -1.9h0m2.4 -9.1h0m-15.6 1.4h0m10.2 40.2h0m-11.3 -13.5h0m-1.2 -28.6h0m4 37.8h0m8.9 -18.3h0m-9 17.3h0m5.7 -30h0m-.7 8.4h0m6 11.8h0m3.8 -12.1h0m-1.9 13.3h0m-5 6.3h0m-11.5 -36h0m19.7 -4.5h0m-8.2 18.2h0m-9.6 8.9h0m9.3 18.9h0m-4.4 -1.7h0m-2.8 -17.7h0m6.3 -27.6h0m-1.6 18.3h0m-.8 -3.8h0m6.3 14h0m-13.3 4.3h0m15.1 -.1h0m-13.4 7.6h0m3.8 -2.6h0m-.7 -11.2h0m-4.8 -5.8h0m3.1 19.3h0m5.2 -40.7h0m-10.4 50h0m22.9 -48.1h0m-21.4 9.5h0m1.3 11.2h0m13.4 -6.7h0m-16.3 .5h0m-.1 6.5h0m6.6 -24.1h0m-1.3 20.1h0m14.4 -8.3h0m-8.9 10h0m-9.5 -7.1h0m-1.1 -13.6h0m2.1 31.9h0m16.3 -16.4h0m-11.4 -9.1h0m-4.4 -3.5h0m9.4 8.6h0m2.4 34.3h0m-9.4 -12h0m11.1 -5h0m-14.7 5.6h0m1.2 -10h0m11.7 21.1h0m2.5 -32.3h0m-4.8 -5.8h0m-8.1 29h0m9 2.3h0m-5.2 -1.5h0m2.5 3.7h0m-2.8 -22h0m-1 -8.8h0m10 1.7h0m3.3 -10.8h0m-18.5 17.7h0m11.8 19h0m1.7 -16.7h0m-13.2 9.2h0m2.3 11.1h0m3.2 -8.8h0m-4.2 8.4h0m10.8 -26.1h0m-6.7 15.5h0m14.2 -24.6h0m-6.8 30h0m-6.6 8.1h0m13.7 -38.8h0m-17.5 15.5h0m10.9 6.2h0m-6.2 13h0m13.1 -38.9h0m-16.8 3.1h0m7.5 20.3h0m-3.3 13.4h0m7.6 -16.7h0m-1.1 .1h0m-14.9 -17.8h0m10.1 20.7h0m-4.9 16.8h0m11.9 -18.8h0m-17.5 -13.3h0m8.2 2.9h0m-1.7 13.7h0m-4.9 -3h0m11.2 13.4h0m0 -19.1h0m-10.6 16.6h0m10 3.8h0m2.9 10h0m3.4 -41.8h0m-.9 8.2h0m-11.6 35.1h0m3.7 -40.7h0m.3 31.1h0m-.6 -38.7h0m-2.2 3h0m6.9 24.8h0m-12.4 14.5h0m2.2 4h0m9.8 -6h0m-7.8 -32.5h0m-5.6 36.5h0m4 -4h0m-3.5 -1.1h0m3.7 -8.4h0m7.1 6h0m-5.5 -8.5h0m8.6 10.3h0m-5.7 -3.6h0m6.3 -8.3h0m1.8 6.4h0m-7 11.6h0m-6.7 -37.4h0m1.6 16.8h0m-5.8 11.5h0m13.8 9.4h0m.4 -23.6h0m-12.5 -4h0m13.8 33.3h0m-8.8 -17.1h0m5.5 -10.7h0m-8.1 -9.4h0m2.2 -9.7h0m4.5 40.3h0m-10.2 -22.3h0m13.2 7h0m-.4 20.5h0m-1.3 -37.6h0m5.4 3.8h0m1.1 -13.1h0m-10.6 11.1h0m8.9 21.6h0m-2.9 -37.3h0m-2.9 39.8h0m-2.5 -15.3h0m7.4 29.2h0m4.6 -49.5h0m-11.4 15.5h0m4.4 -12h0m-1.6 31.2h0m-.4 -29.9h0m5.2 10.8h0m1.1 2.2h0m-13.5 -5.1h0m13.9 -10.6h0m-13.6 34.5h0m2.6 -1.6h0m3.5 -15.6h0m2.4 21.8h0m2.3 -32.5h0m-2.9 17.5h0m-1 -10.6h0m7.1 -10.4h0m-2.9 15.9h0m-10.3 18.2h0m3.4 -21h0m-5.2 16.8h0m-1.9 -36h0m16.4 11.2h0m-8.9 1.5h0m5.2 24.4h0m-7.5 -36.1h0m6.9 1.3h0m-7.1 30.5h0m6.6 -14.1h0m-11.5 -8.9h0m1.5 29.2h0m2.3 -36.8h0m.9 22.7h0m5.8 6.1h0m4.7 .1h0m-15.4 -22.5h0m12.3 -8.1h0m2.7 -3.6h0m3.4 6.4h0m-18.5 -5.9h0m17.4 3h0m-13.7 8h0m7.6 29.8h0m-4.6 6.3h0m-5.9 -35.9h0m1.2 -3.5h0m12.3 2.5h0m-12.3 10.2h0m-2.3 -10.4h0m6.4 19h0m-3.8 3.3h0m4.7 7.8h0m6.1 10.5h0m-9.7 -16.6h0m-1.6 -29.4h0m13.3 44.8h0m-4.4 -29.7h0m-8.4 14.1h0m13.2 -11.2h0m-8.1 7.6h0m8.7 -7.7h0m-15.5 .3h0m.6 29h0m10.8 -38.8h0m-10.5 6.3h0m3.7 11.6h0m-3.5 -21.6h0m10.1 43.5h0m-7.7 -12.3h0m-1.7 .7h0m16.6 -35.3h0m-16 15.1h0m4.9 29.2h0m7.7 -50.3h0m-13.2 4.9h0m0 27.4h0m6.1 4.5h0m1.7 -20.6h0m5 -16.3h0m-9.3 .5h0m10.9 25.6h0m-9.9 9.2h0m-3.5 -32.7h0m-.2 22.2h0m10.6 5.9h0m-10.8 -24.9h0m3.6 42h0m5.3 -28.9h0m7.2 -14.4h0m-5.1 33.3h0m1.2 -20.7h0m-14.2 15.5h0m8.2 18.4h0m-7.3 -22.8h0m4.8 -22.6h0m9.5 -4.7h0m2.1 -1.3h0m-5.4 35.1h0m-7.9 -5.3h0m15.4 -20.3h0m-15.9 .4h0m-1.7 41.1h0m6.2 -47.4h0m6.2 35.7h0m-.2 .1h0m-4.6 -36.6h0m-2.6 41.4h0m-3.3 -10.6h0m3.4 -33.3h0m4.4 36h0m1.3 -28.9h0m2.4 24.8h0m-6.6 5.5h0m-2.3 -4.1h0m2 -30.1h0m-8.5 46.1h0m20.6 -43.6h0m-18.4 20.6h0m5.3 -16.5h0m1.3 28.2h0m-8.7 5.6h0m6.5 -11h0m.2 -16.6h0m3.2 -8.4h0m2.2 18.4h0m-1 -17.3h0m3.4 36.4h0m-1 -45.1h0m-16 39.2h0m14.1 -29h0m-2.7 16.7h0m4.6 25.2h0m-3.8 -50h0m6.2 27.4h0m-7.1 13.9h0m2.2 -20.3h0m-4.4 3.3h0" stroke="#bdbdbd" stroke-width="1.56" stroke-linecap="round" fill="none"/><path d="M117.9 187.5h0m2.4 -24.2h0m.2 3h0m-3.6 -19.7h0m2.2 23.1h0m2.3 22.1h0m.1 -29.6h0m-2.3 -17.1h0m-2.5 40h0m4.7 -7.8h0m.2 7.7h0m-4.5 -43h0m2.8 8h0m-1.4 36.3h0m-.1 -32.5h0m3.3 27.8h0m-3.2 -17.4h0m2.2 27.1h0m-2.9 -48h0m2 43.5h0m.7 2h0m.3 -13.3h0m1.4 -5.2h0m-4.7 19.4h0m3.2 -41.3h0m-.8 35.8h0m1.1 -30.2h0m-2 .9h0m2.5 21.4h0m-1.8 -1.8h0m1.4 12.4h0m.5 -28.1h0m-2.3 -5.5h0m2.3 9.9h0m-1.1 10.4h0m-3.2 -4.4h0m-.3 12.7h0m4.1 -39.1h0m-3.5 23.3h0m1.4 -3.3h0m2 21.8h0m1.2 -38.8h0m-4.9 4.2h0m5 35.9h0m-1.5 -11h0" stroke="#ad2742" stroke-width="1.56" stroke-linecap="round" fill="none"/><rect x="7.8" y="139.3" width="119.7" height="59.1" fill="none" stroke="#222" stroke-width="1"/><text x="195.4" y="133.9" text-anchor="middle">BASS</text><path d="M190.2 172.1h0m1.5 -2.8h0m-49.4 1.1h0m49.2 -4.7h0m6 10.7h0m-13 11.1h0m-42.1 -31.1h0m4.9 -5h0m56.1 -2.4h0m-20.2 32.5h0m5.7 5.5h0m4.5 -32.7h0m1.7 20.7h0m0 12h0m-.3 -28.1h0m-4.3 -15.6h0m-.1 32.3h0m-46.7 9.9h0m53.6 -4.6h0m1.1 -23.3h0m3.6 1.1h0m-6.2 15.8h0m-9.8 18.9h0m2.2 -7.6h0m4.7 -26.8h0m-4.4 3.2h0m10.2 -11.7h0m-2.6 32.2h0m1 -10.2h0m0 -7.4h0m-.3 -22.3h0m-.9 52h0m-3.9 -52.3h0m-8.7 53.2h0m13 -1.7h0m-3.9 -42.9h0m-5.6 19.2h0m15.3 -13.1h0m-18.7 33h0m-34.7 .5h0m44.3 3.6h0m5 -1.9h0m-6 2.2h0m-1.4 -41.7h0m7.9 -4.3h0m-11.3 26.9h0m12.8 -29.6h0m-12.8 9.9h0m1.5 29.3h0m13.6 -33.6h0m-5.1 19.7h0m.6 11.9h0m-3 -12.2h0m-8.1 -21.1h0m6.8 4h0m5 15.9h0m-56.7 -2.3h0m57.4 -17.3h0m-7.2 43.2h0m-5.7 -2h0m12 -40.9h0m-14.4 16.4h0m15.9 -8.8h0m-16.2 19.8h0m3.8 -8.3h0m-2.8 10.1h0m-41.9 -19.8h0m53.8 24.6h0m-1 -34.8h0m-4.1 -1h0m9.3 -2.5h0m-8.8 3.5h0m11.2 1.7h0m-10.9 12.8h0m1.7 31.4h0m4.3 -30.3h0m-2.5 -1.9h0m-51.7 27h0m51.3 1.9h0m-2.8 -39.1h0m-3.6 17.3h0m-43.3 3.8h0m45.6 8.1h0m4.9 5.1h0m1.6 5.7h0m-3.4 -39.2h0m1 -10h0m-.3 21.4h0m-.7 17.6h0m-7.1 -36.8h0m13.7 4.7h0m-11.2 44.6h0m-46.8 -36.1h0m42.2 3.4h0m2.4 .4h0m5.2 -12.2h0m-5.8 -.8h0m-43.7 12.9h0m51.8 10.5h0m-2.9 1.5h0m-6.4 -10.7h0m10.5 -5.7h0m-55.5 12.6h0m60 4.3h0m-1.5 -20.8h0m-9.1 28.8h0m-3.5 -7.6h0m13.5 -8h0m2.6 -18.2h0m-9 14.6h0m-4.5 22.5h0m-4.5 -6.9h0m11 -16.2h0m.3 8.8h0m1.1 -28.8h0m-7.5 30.2h0m4.9 -19.3h0m4.9 33.9h0m-7.6 -39.6h0m-4.6 37.2h0m3.5 -16.9h0m-.2 23h0m-1.5 1.1h0m11.5 -46h0m-8.9 11.7h0m-43.7 7.8h0m36 15.1h0m8.1 -39.1h0m4.3 5.9h0m-6.1 23.3h0m-5 2.9h0m-41.4 -27h0m1.9 16.4h0m49.9 26.3h0m-49.5 -3.7h0m52.4 -15.5h0m-13.3 22.5h0m10 -24.2h0m-48.8 -22.7h0m39.7 23.8h0m-42 -5.6h0m53.5 -2.3h0m-4.3 31.8h0m-2.7 -26.6h0m-47.7 2.8h0m50.9 -14.3h0m5.4 20.9h0m-1.4 -31.4h0m-2.5 6.5h0m-8.9 15.5h0m7.6 3.8h0m8.2 -22.7h0m-7.9 24.5h0m4 -13.7h0m-7.8 -5.4h0m2.6 29.5h0m4.8 -28.4h0m-11.8 39.5h0m-44 -26.4h0m48.3 -6.8h0m8 9h0m-2.5 -20.4h0m-4.3 1.2h0m8.2 14.9h0m-3.4 28.2h0m-55.6 -26.2h0m48.4 -22.2h0m-1.8 25.3h0m6.9 -3.9h0m.3 -5.3h0m3.3 5.6h0m.5 24.8h0m-12.3 -29.2h0m6.5 29.7h0m-4.5 -14.7h0m13 -22.2h0m-13.1 -8.9h0m.6 1.1h0m-42.9 31.4h0m48.3 -6.6h0m-8.4 -10.2h0m4.2 -1.8h0m.5 -2.7h0m-4.6 -.6h0m4.8 9.1h0m0 -5.2h0m-6.2 33.2h0m10.6 -44.5h0m-2.3 7.9h0m-49.7 20.6h0m59.3 -18.3h0m-10.1 8.4h0m-6.2 -6.6h0m6.1 7.5h0m-48.9 -12.3h0m47.4 5.2h0m-48.4 -13.4h0m49.4 40.5h0m-8.9 -4.1h0m12 -23.7h0m.9 6.2h0m7.1 -14h0m-3.3 7.4h0m-6.7 -18.1h0m-9.9 35.9h0m-41.9 -20.4h0m46 -.6h0m-42.9 -8.3h0m55 -1.9h0m-57.1 18.8h0m51.9 -4.2h0m-.1 -14.3h0m-1.4 41.3h0m0 -32.2h0m-1.9 16h0m-4.3 -4.5h0m16.5 -12.7h0m-61.7 14.4h0m45.1 -1.4h0m5.4 -14.2h0m7.8 17.4h0m-8.4 -6.1h0m-.2 11.7h0m-48.2 4.3h0m46.8 4h0m7.4 -42.4h0m-10.7 26.6h0m16.8 -13.7h0m-58.7 10.2h0m54.4 -24.5h0m.8 29.8h0m-17.3 19.9h0m20.6 -43.3h0m-8.1 31.8h0m4.2 -37.7h0m-10.2 30.2h0m14.5 -28h0m-11.5 7h0m-50.3 10.4h0m50 -20.7h0m.3 47.5h0m-49.4 -30.7h0m45.1 25.6h0m11.1 -28.8h0m-50.3 4.4h0m48.8 -4.3h0m-52.9 23.2h0m54.6 12.1h0m-12.3 -21.5h0m-42.2 -1.7h0m37.2 24.6h0m-34.9 -13.4h0m1.9 -21.9h0m51.2 -12.8h0m-6.3 3.1h0m1.6 -4.6h0m8.5 2h0m-14 -.6h0m1.9 .4h0m10.4 5.2h0m-13.4 36.9h0m14 -23.4h0m-1.3 5.8h0m.6 -15.2h0m-12.4 35h0m1.6 -38.1h0m7.6 -.3h0m-10.5 42.9h0m2.3 -17.8h0m2.5 -4.6h0m1.8 -14.3h0m-1.6 27.3h0m-4 -6h0m.2 -15.2h0m9.3 7.9h0m-55.2 -20.5h0m53.7 .6h0m5.7 5.7h0m-14.1 28.6h0m2.1 -2.5h0m8 -22.2h0m-1.4 -11.2h0m-9.6 34.2h0m10.9 -10.1h0m-12.4 13.2h0m2 -11.2h0m-1.3 -4.1h0m6.4 21.2h0m-.9 -40.1h0m6.3 28.6h0m-12.3 -7.8h0m-44.5 8.7h0m45.6 -14.5h0m11.1 14.7h0m-14.8 3.7h0m4.7 -15.4h0m6.3 -6h0m-8.5 -13.4h0m10.6 15.1h0m-5.7 25.1h0m1 -9.7h0m11 -35.6h0m-6.9 48h0m-6.3 -18.3h0m-.8 -22.6h0m-46.5 12.6h0m57.9 -20.5h0m-2.1 12.6h0m-14.9 33.2h0m15.8 -31.2h0m-16.6 23.3h0m-31.7 .2h0m37.4 -26.3h0m2.9 -14.8h0m8.7 10.7h0m1.7 1.1h0m-60 8.1h0m54.1 22.5h0m-8.8 -37h0m14.3 22.6h0m-16.8 7.8h0m12.8 16.2h0m2.3 -9.1h0m-8.1 -1.2h0m11 -30.4h0m-3.3 -7h0m-8.8 24.2h0m2.3 2h0m-6.8 7.7h0m4.9 -25.3h0m-46.8 4.5h0m-2.3 .7h0m47.5 -7h0m11.5 14.3h0m-.5 .1h0m-6.6 -22.9h0m-5.7 27.8h0m-2.2 22.2h0m15.1 -44h0m-9 41.9h0" stroke="#33e68f" stroke-width="1.56" stroke-linecap="round" fill="none"/><path d="M160.9 169.5h0m-10.3 16h0m10.9 -30.5h0m-1.4 17h0m1.4 9.3h0m-11 -8h0m-5.6 20.4h0m14.3 -27.5h0m-15.1 22.7h0m16.1 -46.4h0m-5.8 21.1h0m-2.1 -19.6h0m8.2 22.4h0m1.6 -4.2h0m-16.5 29.8h0m-.6 -46.8h0m6.3 43.8h0m2.2 -8.9h0m2.9 2h0m6.6 -17.3h0m-2.7 -19.5h0m-7.8 6.6h0m7 30.8h0m-1.6 -32.3h0m4.7 30.9h0m-6.5 -34.3h0m-.6 43.6h0m1 3h0m-8.2 -44.9h0m14.5 27.3h0m-13.5 -22h0m11.1 -3.9h0m-1 5.6h0m-12.1 8.3h0m9.2 2.4h0m-.4 -3.3h0m-7.5 16h0m8.9 13.2h0m-7.8 -2.9h0m7.5 -15.4h0m-1.7 6h0m7.6 -23h0m-15.6 6.7h0m6.9 -18.3h0m-2.6 34.5h0m2 -20.2h0m2.9 -8.3h0m-2.9 8h0m-6.1 30.6h0m12.2 -46.6h0m-6.2 2.6h0m6.4 1.7h0m-7.6 47.4h0m4.4 -19h0m-5.3 -32.2h0m8.8 4.9h0m1.7 46.7h0m-14.4 -31h0m2.6 -3h0m13.3 .4h0m-4.7 15h0m-6.1 7.5h0m2.1 -37.7h0m2.7 47.4h0m-.1 -8.1h0m-10.7 -3h0m6.8 -23.8h0m.6 29.7h0m-2 -7h0m6.4 -21.1h0m-10.9 25.5h0m4.1 -13.9h0m-4.4 5.4h0m13.5 -7.5h0m-1 -20.3h0m1 4.4h0m-13.1 36.7h0m14 -41.8h0m-.9 11.3h0m-11.3 -6.7h0m8.9 -2.6h0m5.3 -8.3h0m-4.4 37.9h0m-11.7 -3.1h0m.6 -33h0m-1.7 22.6h0m12.8 -6.3h0m-7.7 15.1h0m4.3 -23.4h0m4.8 23.3h0m.3 -21.4h0m-16.4 -6.7h0m16.9 0h0m.2 12h0m-5.4 3.7h0m-1.3 20.2h0m3.3 -40h0m2.3 37.4h0m-9.3 -37.4h0m5.7 6.1h0m-4.5 -6h0m10.7 .4h0m-9.7 2.7h0m9.1 10.5h0m-1.1 -9.2h0m-17.2 16.2h0m6.9 -17.7h0m6.5 48.4h0m-5.5 -45.9h0m-6.7 13.4h0m-1.4 -16.6h0m15.2 49.1h0m-8.8 -42.1h0m7.3 19.3h0m-7.4 .7h0m1 19.8h0m1.9 -12.3h0m5.1 -36.1h0m5 -2.4h0m-7.9 6.9h0m.1 9.2h0m-6.4 6.5h0m14 -11.8h0m-5.8 -10.2h0m-4.4 1.3h0m3.1 38.5h0m-6.2 -28.4h0m12.9 -1.8h0m-12.3 25.9h0m8.3 -8.8h0m-.1 20.2h0m-.2 -28.6h0m-5.9 30.6h0m-2.8 -20.6h0m4.8 -1.8h0m-2.6 -.9h0m1.5 -14.5h0m7.3 -8.3h0m-.7 23.5h0m-2.5 -6.4h0m2.4 -4.4h0m-9.1 22.8h0m5 -12.8h0m-10.8 -10.5h0m15.2 35.4h0m-2.7 -25.3h0m5.3 6h0m-3 -26.9h0m-.6 2.6h0m-13.4 33.2h0m5.9 8.8h0m-3 -26.9h0m12.2 -13.2h0m-4.4 42.4h0m-6 -18.8h0m8.9 -19.2h0m-9 3h0m5.1 6.6h0m-1.2 -9.1h0m-1 18.9h0m10.4 -23h0m-18.8 2.5h0m15.4 32h0m-.7 .8h0m-8.9 -6.8h0m-.3 -16.9h0m1.6 26.5h0" stroke="#2bb5ec" stroke-width="1.56" stroke-linecap="round" fill="none"/><path d="M227.6 147h0m-9.4 11.9h0m5.5 -10.6h0m5 10h0m6.9 -6.5h0m4.6 34.1h0m-20.6 -40.2h0m-3.2 27.7h0m1.1 20.3h0m3.9 -13.9h0m18 9h0m-12.1 -.4h0m-4.4 -44.8h0m-4.3 49.5h0m-.3 -20.5h0m9.1 -29.6h0m-8.5 8.6h0m8.6 39.1h0m.5 2h0m2.4 -16.2h0m-2.1 -25.2h0m-1.3 -1.8h0m-10.8 43.3h0m17.1 -2.4h0m.6 3.6h0m-5.4 -21.8h0m-2.4 -29h0m-5.3 5.4h0m13.2 26.3h0m5.6 -16h0m-1.7 -9.7h0m-17.6 6.7h0m11.6 8.7h0m-7.4 -5.1h0m4 20.4h0m-2.6 5.9h0m-1.1 -2.7h0m-4.9 -37.3h0m-2.4 37.1h0m3.6 -28.1h0m2.1 -2.6h0m15.5 3.1h0m-10.7 15.7h0m9.2 -13.9h0m-18.9 34.1h0m12.9 -13.4h0m-2.2 9h0m-10.5 -1.7h0m9.5 -4.8h0m2.8 -33.9h0m-11.6 .8h0m15.4 11.1h0m-3.4 -5.1h0m.4 23.9h0m.8 -3.3h0m-7.7 12.3h0m2.5 -8.6h0m12.4 -6.1h0m-7.4 -18.8h0m-10.7 9.9h0m7.3 -19.7h0m-12.6 39.9h0m18.2 -18.7h0m-11.3 -5.7h0m-6.3 12h0m12.1 -16.4h0m-1.4 -5.3h0m11.3 37.2h0m-6.3 -24.8h0m4.6 -16.4h0m-16.9 14.2h0m15.8 21.5h0m-19.1 12.1h0m1.6 -39.9h0m20.5 42.6h0m-12.9 -44.3h0m.8 33.7h0m-7.9 -11.7h0m8.4 -18h0m-11 31.8h0m.4 1.8h0m21 -21.6h0m-4.7 -4.3h0m2.1 -9.5h0m-16.2 3.4h0m5.6 24.5h0m.5 -11h0m-4.9 7.9h0m-6.5 15.5h0m3.8 -21.6h0m7.7 4h0m6.4 13.6h0m8.8 -45.3h0m-8.6 50.1h0m-12.7 -14.7h0m8.9 -16.3h0m3.5 9.4h0m-13.4 3h0m10.4 -26.8h0m-9.7 -.4h0m5.7 46.4h0m-7.8 -23.4h0m6.6 -12.7h0m4.2 22.9h0m1.2 5h0m11.2 -27.2h0m-17.8 12h0m-7.2 21.6h0m17.6 -13.8h0m-11.1 16.1h0m14.3 -46.4h0m-7.6 20.7h0m-3 2h0m2.9 -21.4h0m7.5 36.7h0m1.2 -5.7h0m-15.3 -19.8h0m.7 13h0m-5.3 3.8h0m13.8 9.6h0m-10.7 -9.8h0m19.2 15.1h0m-17.1 -37.4h0m-1.2 28.1h0m13.1 -36.1h0m-15.1 2.8h0m4 17.8h0m12.1 -4.6h0m-3.1 -4h0m-1.3 24.8h0m-7.3 -11.3h0m-1.8 -8.6h0m4.9 1.2h0m-11.7 26.2h0m18.4 -30.7h0m-12.3 11.7h0m-1.5 -7.7h0m4 -17.7h0m10.3 -3.7h0m-4.5 3.4h0m-9.6 10.4h0m.9 -1.4h0m5.3 -.3h0m-5 36.8h0m-4.9 -4.7h0m19.1 4.2h0m-3.2 -13.2h0m-6.5 -22.9h0m2.2 14.9h0m-3 -15.9h0m2.1 5h0m-4.5 7.5h0m2.3 2.7h0m9.2 -3.3h0m-9.1 -3.5h0m4 5.3h0m9.2 4.4h0m-3.3 16.2h0m-1.3 -20.4h0m-4.2 25.6h0m-13 -9.8h0m13.7 .3h0m.6 -26.8h0m-9.7 -13.2h0m4.6 39.1h0m-8.1 -14.5h0m-.9 22.9h0m9.6 -32.7h0m9.7 10.9h0m-12.9 -15.4h0m2.3 -10.4h0m-4.3 14.1h0m-.3 33.9h0m10.7 -6h0m-8.2 -13.9h0m-4.5 -1h0m20.6 5.5h0m-9.6 -13.1h0m2.5 -2.1h0m-1.8 10.2h0m1.7 18.6h0m-12 -46.7h0m15.8 .8h0m-8.1 44.7h0m.8 -14.7h0m-12.3 3.9h0m16.6 -33.2h0m-2.3 34.9h0m-10.9 -29h0m14.2 27.7h0m-13.9 -11.1h0m.8 -22.3h0m13.1 29.1h0m-9.1 5.5h0m7 -30.9h0m2.3 24.4h0m4.6 -.7h0m-19.9 17.2h0m8.5 -11.2h0m-2 -31.6h0m-2.8 40.5h0m10.8 -11.3h0m2 17.8h0m-.9 -42.4h0m-14.6 1.9h0m.8 33.5h0m-5.3 6h0m16.4 -15.3h0m3.5 -16.7h0m-3.5 -1.5h0m-16.1 33.9h0m10.6 -18.4h0m-10.1 19.2h0m13.4 -32h0m9.5 19h0m-10.5 -38h0m7.7 11.1h0m-11.6 4.8h0m-6.9 21h0m14.2 -12.4h0m-13.5 5.4h0m7.3 .6h0m8.5 10.3h0m-.4 -22.3h0m-4.9 28.8h0m8.7 -30.6h0m-9.4 13.5h0m8.3 -1.6h0m-6.6 -26h0m-13 25.8h0m14.9 -25.7h0m6.4 -1.2h0m-12.6 28h0m15.5 -6.3h0m-20.8 16.3h0m.4 .8h0m1.4 -26.3h0m7.5 -9.7h0m8.1 12.8h0m-10.3 10.6h0m.8 15h0m-7.3 -8.7h0m10.2 9.9h0m-7.3 -13h0m14.4 -32.8h0m-16.5 46.9h0m-.2 -44h0m12 -1h0m-10.3 39h0m10.4 4.4h0m-.6 -.6h0m-15.4 4.1h0m4 -16.1h0m13.2 8.5h0m-4.1 -.1h0m2.7 11.8h0m-13.4 -24.9h0m8.3 -25.1h0m2.8 23.4h0m-5.2 -6.9h0m6.1 8.9h0m-15.3 16.2h0m21.2 -25.8h0m-8 -4.9h0m-10.2 36.8h0m-3.6 -7.5h0m13.6 -31.8h0m6.6 40.5h0m1.8 -2.5h0m-15.7 -3.7h0m9.6 -13.1h0m1.4 -1.4h0m-10.2 -16.4h0m13.5 21.4h0m-3.9 16.3h0m-12.5 -40.6h0m-.1 -2.2h0m2.5 22.5h0m-3.3 -23.3h0m17.3 -3h0m-.3 -3.6h0m-.8 11.7h0m-4.5 .6h0m-12.7 30.2h0m7.7 -44.7h0m-3.8 8h0m3.1 4.3h0m3.7 19.8h0m-3.1 4.7h0m-.5 6.4h0m-10.3 .8h0m21.9 -34.7h0m-3.1 3.5h0m-.5 36h0m-12.9 -22.5h0m6.8 .6h0m-2.4 -1.5h0m2 2.3h0m-2.9 -26.7h0m11.6 25.9h0m-7.2 .5h0m-5.2 4.6h0m-.4 -22.9h0m10.2 35.9h0m-8.2 -30.9h0m10.1 37.7h0m4.6 -4.9h0m-15 -38.2h0m-.6 35.9h0m5 -16.4h0m-1.9 5.6h0m6.5 -10h0m-16.1 22.6h0m17.6 -35.3h0m-11.2 30.4h0m-1.4 -22.9h0m-5.2 20.9h0m13.2 -3.9h0m-10 -4.4h0m7.6 21h0m-7.2 -37.5h0m-4.4 28.8h0m20.6 -2.2h0m-4.1 -18.1h0m5.7 -16.4h0m-5.9 39.1h0m4.3 -34.9h0m-14.6 24.3h0m12.3 -26.2h0m-8.8 6.4h0m-2.4 -11.6h0m-3.3 26.2h0m17.9 -20h0" stroke="#ff7f0e" stroke-width="1.56" stroke-linecap="round" fill="none"/><path d="M212.3 175.1h0m1 -8.5h0m-3.7 17.2h0m1.6 -35.6h0m-.2 -.8h0m-4.4 14.6h0m.2 2.6h0m11.1 -8.8h0m-11.9 1.9h0m-4 30.1h0m8.4 -19.9h0m-9.9 13.7h0m8.7 -19.1h0m-1.8 -16.2h0m7.6 6.6h0m-10.4 6.1h0m5 7h0m2.8 19.4h0m3.3 -32.7h0m-7.7 29.9h0m4 -29.6h0m-11 30.3h0m9.7 -13.2h0m-7.2 -17.3h0m12.9 -7.3h0m-8 46.2h0m1.4 -15.4h0m6 -24.2h0m-6.2 11.6h0m1.1 11.8h0m2.3 -2.9h0m-5.4 -27.5h0m-.8 3h0m7.1 18.4h0m-9.4 -2h0m-5.7 31.1h0m3.8 -21.8h0m12.2 -2.2h0m-5.8 11.7h0m6.8 -25.3h0m.9 -.8h0m-12 33.7h0m-4 -5h0m9.8 9.5h0m-8 -28.8h0m5.7 -9h0m10.1 -6h0m-6.3 -3.9h0m-4.3 2.8h0m1.7 2.1h0m-7.3 19.5h0m4.5 -23.5h0m-3.1 38h0m9.3 -28.1h0m-1.8 -14.5h0m-8.3 46.6h0m10.9 -2h0m-10.8 1.9h0m2.5 -36.2h0m5.5 -7.5h0m-9.2 29.8h0m11.2 7.5h0m-4.1 -13.9h0m-3.5 -23.5h0m2.4 -2.6h0m4.3 1h0m-2.2 27.3h0m-.9 -4.1h0m5.2 -13.9h0m-1.3 21.1h0m0 10.1h0m-2.1 -24.6h0m-11.1 32.2h0m18.5 -41.7h0m-6.8 1.9h0m2.4 11.1h0m-1.8 27.9h0m-10.3 -8.1h0m6.8 6.2h0m5.6 -25.4h0m-9.8 -7.8h0m5.9 9.9h0m-3 26.9h0m4.9 -14.4h0m.7 -26h0m-6.9 39.9h0m.5 -31.8h0m1.2 11.9h0m7.8 -27.1h0m-6.1 25.1h0m1.6 -28.5h0m3 28.2h0m-11.6 20.2h0m14.1 -28.8h0m-11.3 -10h0m12.2 1.7h0m-15.1 39.9h0m.9 -22.8h0m4.6 -23.1h0m-3 41.8h0m11.7 -28.8h0m-8.8 9.7h0m-4.7 -10.5h0m10 -14.9h0m-4.9 29.1h0m-3.6 7.8h0m-1.2 -24.9h0m5.5 4h0m.5 -2.8h0m-4.4 -8.6h0m-1 25.5h0m7.3 18.2h0m-7.9 -1.4h0m1.3 -37.8h0m-2.8 21.5h0m10.1 3.5h0m-8.1 2.1h0m8.4 -3.4h0m2.3 3.2h0m-.2 -16.4h0m-8.6 14.9h0m1.7 -13.6h0m1.5 -16.7h0m-4 -2.9h0m8.3 32.1h0m-2.2 -31.3h0m-5.2 25.4h0m8.6 2.4h0m-8.5 15.5h0m5.2 -40.2h0m-7.9 18.3h0m-2.9 23.2h0m7 1h0m-3.1 -3.7h0m5.7 -32.8h0m-2.4 -4.7h0m8.6 -2.2h0m-4.8 -6.8h0m3.2 37.8h0m-12.8 -7.8h0m5.2 -3.9h0m0 13.6h0m8.1 -29.5h0m-7.7 -8.8h0m4.6 16.2h0m-1 29h0m.1 -4.8h0m.7 -17.7h0m2.6 -16.9h0m-7.5 43h0m-.6 -7.5h0m8.7 -26h0m-3.4 14.6h0m3.5 3.1h0m.5 -6.3h0m-1.3 3.2h0m-3.3 13.8h0m-1.5 6.6h0m7.3 -47.8h0m-10.5 41.4h0m1 -39.4h0m.3 10h0m1.6 34.2h0m-.6 -16.1h0m8.5 -12.9h0m-5.5 20.6h0m-2.9 -39.6h0m-5.2 18.5h0m6.9 -19.4h0m-4.6 11.4h0m-4.1 22.5h0m5.1 -2.8h0m1.4 -17.7h0m8.3 -4.4h0m-11.3 40.9h0m-4 -11.1h0m7.9 -20.7h0m-.5 21.5h0m-7.4 -6.3h0m5.5 -18.4h0m0 -2.9h0m.3 0h0m-1.2 34.4h0m10.6 -36.7h0m-11.1 28.1h0m6.5 -34.8h0m-2.6 18.4h0m-2.7 -.8h0m7.2 -20.7h0m-2.9 27.9h0m-3.2 -7.3h0m4.9 -6.2h0m-7.2 21.5h0m-3.8 -6.1h0m14 -29.7h0m-5.6 43.4h0m6 -36.3h0m-5.5 -1.7h0m4.6 -3h0m-8 20.7h0m4.4 -1.8h0m-10.7 26.8h0m15.1 -45h0m-7.8 16.4h0m-.1 17.4h0m.6 -13.1h0m0 18.3h0m.7 -10.4h0m.9 -21.9h0m2.1 32.4h0m-6.7 5.9h0m-.3 -14.4h0m2.4 -22.3h0m4.4 -12.6h0m-5.7 30.1h0m4.9 -23.7h0m-3.9 5.1h0m-.5 20.3h0m-.2 15.7h0m1.6 -21.7h0m1.5 12.6h0m3.7 -37h0m-8.2 36.2h0m6.6 12.3h0m-3.5 -2.1h0m2.4 -36.9h0m7.7 -.5h0" stroke="#f0c93c" stroke-width="1.56" stroke-linecap="round" fill="none"/><path d="M172.3 145.7h0m-8.7 45.2h0m13.1 -33h0m-5.3 33.4h0m4.2 4.4h0m-6.9 -53.1h0m-4.6 21.6h0m2.6 -14.7h0m11.8 30h0m3.4 -6.9h0m-6.1 18.3h0m3 -44.5h0m-8.7 21h0m-4.6 11.5h0m14.1 -3.6h0m-11.5 -22.7h0m-2 29.2h0m19 -29.3h0m-16.2 38.5h0m-.1 -27.4h0m-.7 27.1h0m12.6 -33.4h0m-7.6 -14.6h0m6.9 13.9h0m1.5 11.1h0m-3.2 14.3h0m2.8 -4.9h0m-4.8 -5.6h0m3.6 9.5h0m-4.4 -17.6h0m5.2 -1.9h0m2.4 -9.1h0m-15.6 1.4h0m10.2 40.2h0m-11.3 -13.5h0m-1.2 -28.6h0m4 37.8h0m8.9 -18.3h0m-9 17.3h0m5.7 -30h0m-.7 8.4h0m6 11.8h0m1.9 1.2h0m-5 6.3h0m-11.5 -36h0m19.7 -4.5h0m-8.2 18.2h0m-9.6 8.9h0m9.3 18.9h0m-4.4 -1.7h0m-2.8 -17.7h0m6.3 -27.6h0m-1.6 18.3h0m-.8 -3.8h0m6.3 14h0m-13.3 4.3h0m15.1 -.1h0m-13.4 7.6h0m3.8 -2.6h0m-.7 -11.2h0m-4.8 -5.8h0m3.1 19.3h0m5.2 -40.7h0m-10.4 50h0m1.5 -38.6h0m1.3 11.2h0m13.4 -6.7h0m-16.3 .5h0m-.1 6.5h0m6.6 -24.1h0m-1.3 20.1h0m14.4 -8.3h0m-8.9 10h0m-9.5 -7.1h0m-1.1 -13.6h0m2.1 31.9h0m16.3 -16.4h0m-11.4 -9.1h0m-4.4 -3.5h0m9.4 8.6h0m2.4 34.3h0m-9.4 -12h0m11.1 -5h0m-14.7 5.6h0m1.2 -10h0m11.7 21.1h0m2.5 -32.3h0m-4.8 -5.8h0m-8.1 29h0m9 2.3h0m-5.2 -1.5h0m2.5 3.7h0m-2.8 -22h0m-1 -8.8h0m10 1.7h0m3.3 -10.8h0m-18.5 17.7h0m11.8 19h0m1.7 -16.7h0m-13.2 9.2h0m2.3 11.1h0m3.2 -8.8h0m-4.2 8.4h0m10.8 -26.1h0m-6.7 15.5h0m14.2 -24.6h0m-6.8 30h0m-6.6 8.1h0m13.7 -38.8h0m-17.5 15.5h0m10.9 6.2h0m-6.2 13h0m13.1 -38.9h0m-16.8 3.1h0m7.5 20.3h0m-3.3 13.4h0m7.6 -16.7h0m-1.1 .1h0m-14.9 -17.8h0m10.1 20.7h0m-4.9 16.8h0m11.9 -18.8h0m-17.5 -13.3h0m8.2 2.9h0m-1.7 13.7h0m-4.9 -3h0m11.2 13.4h0m0 -19.1h0m-10.6 16.6h0m10 3.8h0m2.9 10h0m3.4 -41.8h0m-.9 8.2h0m-11.6 35.1h0m3.7 -40.7h0m.3 31.1h0m-.6 -38.7h0m-2.2 3h0m6.9 24.8h0m-12.4 14.5h0m2.2 4h0m9.8 -6h0m-7.8 -32.5h0m-5.6 36.5h0m4 -4h0m-3.5 -1.1h0m3.7 -8.4h0m7.1 6h0m-5.5 -8.5h0m8.6 10.3h0m-5.7 -3.6h0m6.3 -8.3h0m1.8 6.4h0m-7 11.6h0m-6.7 -37.4h0m1.6 16.8h0m-5.8 11.5h0m13.8 9.4h0m.4 -23.6h0m-12.5 -4h0m13.8 33.3h0m-8.8 -17.1h0m5.5 -10.7h0m-8.1 -9.4h0m2.2 -9.7h0m4.5 40.3h0m-10.2 -22.3h0m13.2 7h0m-.4 20.5h0m-1.3 -37.6h0m5.4 3.8h0m1.1 -13.1h0m-10.6 11.1h0m8.9 21.6h0m-2.9 -37.3h0m-2.9 39.8h0m-2.5 -15.3h0m7.4 29.2h0m4.6 -49.5h0m-11.4 15.5h0m4.4 -12h0m-13.9 26.9h0m12.3 4.3h0m-.4 -29.9h0m5.2 10.8h0m1.1 2.2h0m-13.5 -5.1h0m13.9 -10.6h0m-13.6 34.5h0m2.6 -1.6h0m3.5 -15.6h0m2.4 21.8h0m2.3 -32.5h0m-2.9 17.5h0m-1 -10.6h0m7.1 -10.4h0m-2.9 15.9h0m-10.3 18.2h0m3.4 -21h0m-5.2 16.8h0m-1.9 -36h0m16.4 11.2h0m-8.9 1.5h0m5.2 24.4h0m-7.5 -36.1h0m6.9 1.3h0m-7.1 30.5h0m6.6 -14.1h0m-11.5 -8.9h0m1.5 29.2h0m2.3 -36.8h0m.9 22.7h0m5.8 6.1h0m4.7 .1h0m-15.4 -22.5h0m12.3 -8.1h0m2.7 -3.6h0m3.4 6.4h0m-18.5 -5.9h0m17.4 3h0m-13.7 8h0m7.6 29.8h0m-4.6 6.3h0m-5.9 -35.9h0m1.2 -3.5h0m12.3 2.5h0m-12.3 10.2h0m-2.3 -10.4h0m6.4 19h0m-3.8 3.3h0m4.7 7.8h0m6.1 10.5h0m-9.7 -16.6h0m-1.6 -29.4h0m13.3 44.8h0m-4.4 -29.7h0m-8.4 14.1h0m13.2 -11.2h0m-8.1 7.6h0m8.7 -7.7h0m-15.5 .3h0m.6 29h0m10.8 -38.8h0m-10.5 6.3h0m3.7 11.6h0m-3.5 -21.6h0m10.1 43.5h0m-7.7 -12.3h0m-1.7 .7h0m16.6 -35.3h0m-16 15.1h0m4.9 29.2h0m7.7 -50.3h0m-13.2 4.9h0m0 27.4h0m6.1 4.5h0m1.7 -20.6h0m5 -16.3h0m-9.3 .5h0m10.9 25.6h0m-9.9 9.2h0m-3.5 -32.7h0m-.2 22.2h0m10.6 5.9h0m-10.8 -24.9h0m3.6 42h0m5.3 -28.9h0m7.2 -14.4h0m-5.1 33.3h0m1.2 -20.7h0m-14.2 15.5h0m8.2 18.4h0m-7.3 -22.8h0m4.8 -22.6h0m9.5 -4.7h0m2.1 -1.3h0m-5.4 35.1h0m-7.9 -5.3h0m-.5 -19.9h0m-1.7 41.1h0m6.2 -47.4h0m6.2 35.7h0m-17.3 .9h0m17.1 -.8h0m-4.6 -36.6h0m-2.6 41.4h0m-3.3 -10.6h0m3.4 -33.3h0m4.4 36h0m1.3 -28.9h0m2.4 24.8h0m-6.6 5.5h0m-2.3 -4.1h0m2 -30.1h0m-8.5 46.1h0m2.2 -23h0m5.3 -16.5h0m1.3 28.2h0m-8.7 5.6h0m6.5 -11h0m.2 -16.6h0m3.2 -8.4h0m2.2 18.4h0m-1 -17.3h0m3.4 36.4h0m-1 -45.1h0m-16 39.2h0m14.1 -29h0m-2.7 16.7h0m4.6 25.2h0m-3.8 -50h0m6.2 27.4h0m-7.1 13.9h0m2.2 -20.3h0m-4.4 3.3h0" stroke="#bdbdbd" stroke-width="1.56" stroke-linecap="round" fill="none"/><path d="M245.7 187.5h0m2.4 -24.2h0m-7.2 26h0m7.4 -23h0m-5.4 14.5h0m1.8 -34.2h0m2.2 23.1h0m-6.3 24.3h0m8.6 -2.2h0m-5 -14h0m-2.6 -12.8h0m7.7 -2.8h0m-2.3 -17.1h0m-2.5 40h0m4.7 -7.8h0m.2 7.7h0m-4.5 -43h0m-3.1 48.2h0m.4 -12.4h0m.3 -9h0m5.2 -18.8h0m-1.4 36.3h0m-3.3 8.8h0m3.2 -41.3h0m3.3 27.8h0m-5.7 -6.8h0m.4 15.3h0m2.1 -25.9h0m2.2 27.1h0m-2.9 -48h0m2 43.5h0m-3.5 7.8h0m-2.3 -25h0m6.5 19.2h0m.3 -13.3h0m-6.3 15.5h0m7.7 -20.7h0m-4.7 19.4h0m3.2 -41.3h0m-.8 35.8h0m1.1 -30.2h0m-2 .9h0m-5.6 23.3h0m8.1 -1.9h0m-1.8 -1.8h0m1.4 12.4h0m-5.5 -33.7h0m.5 33.8h0m5.5 -28.2h0m-2.3 -5.5h0m2.3 9.9h0m-1.1 10.4h0m-3.2 -4.4h0m-.3 12.7h0m4.1 -39.1h0m-7.2 36.2h0m3.7 -12.9h0m-1.6 -19.9h0m3 16.6h0m2 21.8h0m-6 -9.2h0m-2.1 -21.5h0m9.3 -8.1h0m-4.9 4.2h0m-2.8 10h0m7.8 25.9h0m-1.5 -11h0m-7.3 12h0" stroke="#ad2742" stroke-width="1.56" stroke-linecap="round" fill="none"/><rect x="135.6" y="139.3" width="119.7" height="59.1" fill="none" stroke="#222" stroke-width="1"/><text x="323.2" y="133.9" text-anchor="middle">BANKSY</text><path d="M317.9 172.1h0m1.5 -2.8h0m-.2 -3.6h0m6 10.7h0m-13 11.1h0m-1.3 -6h0m5.7 5.5h0m4.5 -32.7h0m1.7 20.7h0m0 12h0m-.3 -28.1h0m-4.3 -15.6h0m-.1 32.3h0m6.9 5.3h0m1.1 -23.3h0m3.6 1.1h0m-6.2 15.8h0m-9.8 18.9h0m2.2 -7.6h0m4.7 -26.8h0m-4.4 3.2h0m10.2 -11.7h0m-2.6 32.2h0m1 -10.2h0m0 -7.4h0m-.3 -22.3h0m-.9 52h0m-3.9 -52.3h0m-8.7 53.2h0m13 -1.7h0m-3.9 -42.9h0m-5.6 19.2h0m15.3 -13.1h0m-18.7 33h0m9.6 4.1h0m5 -1.9h0m-6 2.2h0m-1.4 -41.7h0m7.9 -4.3h0m-11.3 26.9h0m12.8 -29.6h0m-12.8 9.9h0m1.5 29.3h0m13.6 -33.6h0m-5.1 19.7h0m.6 11.9h0m-3 -12.2h0m-8.1 -21.1h0m-27.2 32.9h0m34 -28.9h0m5 15.9h0m.7 -19.6h0m-7.2 43.2h0m-5.7 -2h0m12 -40.9h0m-14.4 16.4h0m15.9 -8.8h0m-16.2 19.8h0m3.8 -8.3h0m-2.8 10.1h0m11.9 4.8h0m-1 -34.8h0m-4.1 -1h0m9.3 -2.5h0m-8.8 3.5h0m11.2 1.7h0m-10.9 12.8h0m1.7 31.4h0m4.3 -30.3h0m-2.5 -1.9h0m-.4 28.9h0m-2.8 -39.1h0m-3.6 17.3h0m2.3 11.9h0m4.9 5.1h0m1.6 5.7h0m-3.4 -39.2h0m1 -10h0m-.3 21.4h0m-.7 17.6h0m-7.1 -36.8h0m13.7 4.7h0m-11.2 44.6h0m-4.6 -32.7h0m2.4 .4h0m5.2 -12.2h0m-5.8 -.8h0m8.1 23.4h0m-2.9 1.5h0m-6.4 -10.7h0m10.5 -5.7h0m3 -3.9h0m-44.8 -9.3h0m35.7 38.1h0m-3.5 -7.6h0m13.5 -8h0m2.6 -18.2h0m-55 40.3h0m46 -25.7h0m-4.5 22.5h0m-4.5 -6.9h0m11 -16.2h0m.3 8.8h0m1.1 -28.8h0m-7.5 30.2h0m4.9 -19.3h0m-2.7 -5.7h0m-4.6 37.2h0m3.5 -16.9h0m-.2 23h0m-1.5 1.1h0m11.5 -46h0m-8.9 11.7h0m-7.7 22.9h0m8.1 -39.1h0m4.3 5.9h0m-6.1 23.3h0m-5 2.9h0m10.4 15.7h0m2.9 -19.2h0m-13.3 22.5h0m10 -24.2h0m-9.1 1.1h0m11.5 -7.9h0m-4.3 31.8h0m-45.6 -8.4h0m42.9 -18.2h0m3.2 -11.5h0m5.4 20.9h0m-1.4 -31.4h0m-2.5 6.5h0m-8.9 15.5h0m7.6 3.8h0m8.2 -22.7h0m-7.9 24.5h0m4 -13.7h0m-7.8 -5.4h0m2.6 29.5h0m4.8 -28.4h0m-11.8 39.5h0m4.3 -33.2h0m8 9h0m-2.5 -20.4h0m-4.3 1.2h0m8.2 14.9h0m-3.4 28.2h0m-7.2 -48.4h0m-1.8 25.3h0m6.9 -3.9h0m.3 -5.3h0m3.3 5.6h0m-49.6 -23.4h0m37.8 19h0m6.5 29.7h0m-4.5 -14.7h0m13 -22.2h0m-13.1 -8.9h0m.6 1.1h0m5.4 24.8h0m-8.4 -10.2h0m4.2 -1.8h0m.5 -2.7h0m-4.6 -.6h0m4.8 9.1h0m0 -5.2h0m-6.2 33.2h0m10.6 -44.5h0m-2.3 7.9h0m-.5 10.7h0m-6.2 -6.6h0m6.1 7.5h0m-1.5 -7.1h0m1 27.1h0m-8.9 -4.1h0m12 -23.7h0m.9 6.2h0m7.1 -14h0m-3.3 7.4h0m-6.7 -18.1h0m-9.9 35.9h0m4.1 -21h0m12.1 -10.2h0m-5.2 14.6h0m-.1 -14.3h0m-1.4 41.3h0m0 -32.2h0m-30.6 -9.8h0m28.7 25.8h0m-4.3 -4.5h0m-.1 .3h0m5.4 -14.2h0m7.8 17.4h0m-8.4 -6.1h0m-.2 11.7h0m-1.4 8.3h0m7.4 -42.4h0m-10.7 26.6h0m12.5 -28h0m.8 29.8h0m-17.3 19.9h0m20.6 -43.3h0m-8.1 31.8h0m4.2 -37.7h0m-10.2 30.2h0m14.5 -28h0m-11.5 7h0m-50.3 10.4h0m50 -20.7h0m.3 47.5h0m-4.3 -5.1h0m11.1 -28.8h0m-1.5 .1h0m-43.2 24.3h0m32.6 -10.5h0m-5 22.9h0m18.2 -48.1h0m-6.3 3.1h0m-37.2 10.2h0m38.8 -14.8h0m8.5 2h0m-14 -.6h0m1.9 .4h0m10.4 5.2h0m-13.4 36.9h0m12.7 -17.6h0m.6 -15.2h0m-12.4 35h0m1.6 -38.1h0m7.6 -.3h0m-10.5 42.9h0m2.3 -17.8h0m2.5 -4.6h0m1.8 -14.3h0m-1.6 27.3h0m-4 -6h0m.2 -15.2h0m9.3 7.9h0m-1.5 -19.9h0m5.7 5.7h0m-14.1 28.6h0m2.1 -2.5h0m8 -22.2h0m-1.4 -11.2h0m-9.6 34.2h0m10.9 -10.1h0m-12.4 13.2h0m2 -11.2h0m-1.3 -4.1h0m6.4 21.2h0m-.9 -40.1h0m6.3 28.6h0m-12.3 -7.8h0m1.1 -5.8h0m11.1 14.7h0m-14.8 3.7h0m4.7 -15.4h0m6.3 -6h0m-8.5 -13.4h0m10.6 15.1h0m-5.7 25.1h0m1 -9.7h0m11 -35.6h0m-6.9 48h0m-6.3 -18.3h0m-.8 -22.6h0m11.4 -7.9h0m-2.1 12.6h0m-38 -11.3h0m23.1 44.5h0m15.8 -31.2h0m-16.6 23.3h0m5.7 -26.1h0m2.9 -14.8h0m8.7 10.7h0m1.7 1.1h0m-5.9 30.6h0m-8.8 -37h0m-2.5 30.4h0m12.8 16.2h0m-5.8 -10.3h0m11 -30.4h0m-3.3 -7h0m-8.8 24.2h0m2.3 2h0m-6.8 7.7h0m4.9 -25.3h0m-1.6 -1.8h0m11.5 14.3h0m-.5 .1h0m-6.6 -22.9h0m-5.7 27.8h0m-2.2 22.2h0m15.1 -44h0m-9 41.9h0" stroke="#33e68f" stroke-width="1.56" stroke-linecap="round" fill="none"/><path d="M288.6 169.5h0m-10.3 16h0m-8.3 -15.1h0m19.2 -15.4h0m2.1 35.9h0m-3.5 -18.9h0m1.4 9.3h0m-11 -8h0m-5.6 20.4h0m-2.5 -37.3h0m4.9 -5h0m11.9 14.8h0m4.9 -2h0m-20 24.7h0m16.1 -46.4h0m-16.5 43h0m10.7 -21.9h0m-2.1 -19.6h0m8.2 22.4h0m1.6 -4.2h0m-16.5 29.8h0m3.1 -1.3h0m-3.7 -45.5h0m6.3 43.8h0m2.2 -8.9h0m2.9 2h0m6.6 -17.3h0m-2.7 -19.5h0m-7.8 6.6h0m-10.7 15.5h0m16.1 -17h0m4.7 30.9h0m-6.5 -34.3h0m-13.4 12.8h0m12.8 30.8h0m1 3h0m-8.2 -44.9h0m-4.3 41.6h0m18.8 -14.3h0m-13.5 -22h0m-3.7 20.2h0m14.8 -24.1h0m-1 5.6h0m-12.1 8.3h0m9.2 2.4h0m-.4 -3.3h0m8 4h0m-15.5 12h0m8.9 13.2h0m-14.6 -33h0m6.8 30.1h0m7.5 -15.4h0m-1.7 6h0m7.6 -23h0m-19.9 6h0m4.3 .7h0m-6.8 7.5h0m11.1 8.7h0m2 -20.2h0m2.9 -8.3h0m-2.9 8h0m6.1 -16h0m-6.2 2.6h0m6.4 1.7h0m-7.6 47.4h0m4.4 -19h0m-5.3 -32.2h0m8.8 4.9h0m1.7 46.7h0m-14.4 -31h0m2.6 -3h0m-2.4 5.3h0m15.7 -4.9h0m-4.7 15h0m-6.1 7.5h0m2.1 -37.7h0m2.7 47.4h0m-.1 -8.1h0m-13.7 -38.1h0m1.9 16.4h0m.4 22.6h0m.3 -39.9h0m.4 36h0m6.8 -23.8h0m.6 29.7h0m-10.1 -23.7h0m8.1 16.7h0m6.4 -21.1h0m-15.7 10.1h0m8.9 1.5h0m-4.4 5.4h0m13.5 -7.5h0m-1 -20.3h0m1 4.4h0m-18.8 14.4h0m5.7 22.3h0m14 -41.8h0m-.9 11.3h0m-11.3 -6.7h0m8.9 -2.6h0m5.3 -8.3h0m-4.4 37.9h0m-18.6 -12.2h0m6.9 9.1h0m-2 2.4h0m.9 -12.8h0m17.2 12.4h0m-4.4 -18.7h0m-16.5 18.3h0m.2 -21.3h0m-1 -8.2h0m9.6 26.3h0m4.3 -23.4h0m4.8 23.3h0m.3 -21.4h0m-16.4 -6.7h0m16.9 0h0m.2 12h0m-5.4 3.7h0m-1.3 20.2h0m-14.3 -24.3h0m17.6 -15.7h0m2.3 37.4h0m-9.3 -37.4h0m-7.5 6.8h0m-2.1 16.9h0m15.3 -17.6h0m-4.5 -6h0m10.7 .4h0m.2 32.2h0m-9.9 -29.5h0m9.1 10.5h0m-18.3 7h0m6.9 -17.7h0m6.5 48.4h0m-17 -23.9h0m11.5 -22h0m-6.7 13.4h0m-1.4 -16.6h0m-1.9 36.9h0m17.1 12.2h0m-15.5 -27.5h0m6.7 -14.6h0m-8.7 6.3h0m5.9 1.2h0m10.1 11.8h0m-7.4 .7h0m1 19.8h0m-7.8 -13.4h0m14.8 -35h0m-14.7 23.9h0m2.3 11.2h0m1.9 -21.9h0m15.5 -15.6h0m-7.9 6.9h0m-6.3 15.7h0m14 -11.8h0m-5.8 -10.2h0m-4.4 1.3h0m3.1 38.5h0m-6.2 -28.4h0m12.9 -1.8h0m-12.3 25.9h0m8.3 -8.8h0m-.1 20.2h0m-.2 -28.6h0m-15.8 -10.2h0m9.9 40.8h0m-2.8 -20.6h0m4.8 -1.8h0m-2.6 -.9h0m1.5 -14.5h0m7.3 -8.3h0m-.7 23.5h0m-2.5 -6.4h0m-16.3 19.8h0m18.7 -24.2h0m-9.1 22.8h0m5 -12.8h0m-10.8 -10.5h0m15.2 35.4h0m2.9 -10.9h0m-21.1 -16.1h0m15.5 1.7h0m5.3 6h0m-12.4 9.9h0m8.8 -34.2h0m-13.4 33.2h0m5.9 8.8h0m-3 -26.9h0m12.2 -13.2h0m-4.4 42.4h0m-15.4 -31.3h0m9.4 12.5h0m8.9 -19.2h0m-9 3h0m5.1 6.6h0m-1.2 -9.1h0m-1 18.9h0m10.1 6.3h0m.3 -29.3h0m-18.8 2.5h0m15.4 32h0m-16.9 -26.7h0m-2.3 .7h0m18.5 26.8h0m-8.9 -6.8h0m-.3 -16.9h0m1.6 26.5h0" stroke="#2bb5ec" stroke-width="1.56" stroke-linecap="round" fill="none"/><path d="M355.3 147h0m18.1 40.5h0m2.4 -24.2h0m-24.4 -15h0m11.9 3.5h0m-17.7 4h0m1.7 -10.1h0m3.3 -2.1h0m25.4 22.7h0m-20.9 -23.3h0m-8.5 8.6h0m24 29.2h0m-14.6 -29.5h0m-1.3 -1.8h0m17.7 -2.9h0m2.2 23.1h0m-20.8 -26.5h0m-5.3 5.4h0m17.1 .6h0m-17.6 6.7h0m28.9 35.9h0m-29.3 -46h0m24.3 32h0m-23.1 -23h0m2.1 -2.6h0m15.5 3.1h0m10.6 6.9h0m-2.3 -17.1h0m-2.5 40h0m4.7 -7.8h0m-18.4 -30.9h0m-11.6 .8h0m12 6h0m18.2 31.8h0m-31.1 -33.4h0m13.9 1h0m-3.4 -9.8h0m.1 11.1h0m-1.4 -5.3h0m17.4 -6.6h0m-7.8 2.6h0m-18.6 7.9h0m7.6 -1.7h0m1.3 4h0m7.8 -1.8h0m-16.2 3.4h0m21.4 -12.4h0m7.3 6h0m-1.4 36.3h0m-17.8 -37.6h0m14.5 46.4h0m-24.2 -46.8h0m27.4 5.5h0m-28.2 -2.3h0m31.5 30.1h0m-13.8 -32.8h0m-7.7 1.3h0m15.8 24.7h0m-21.8 -19.2h0m22.2 34.5h0m-10.3 -42.5h0m12.4 16.6h0m-27.5 -13.8h0m29.7 40.9h0m-31.4 -36.8h0m6.1 -7h0m10.3 -3.7h0m-4.5 3.4h0m-8.7 9h0m5.3 -.3h0m20 -12.6h0m2 43.5h0m-22.5 -30.7h0m-.8 -1h0m19.8 39.5h0m4.2 -5.8h0m.3 -13.3h0m-28.3 -30.4h0m2 10.3h0m27.7 14.9h0m-25.4 -25.3h0m20.7 44.7h0m3.2 -41.3h0m-.8 35.8h0m1.1 -30.2h0m-29.4 -9.5h0m15.8 .8h0m-3 .7h0m-13.2 5.9h0m27.8 3h0m-26.7 -8.7h0m11 3.7h0m-6.5 -1.9h0m9.1 4.6h0m15.6 23.7h0m-30.2 -21.8h0m8.7 -10.3h0m7.7 11.1h0m12 19.2h0m-18.3 -27.7h0m1.9 .1h0m6.4 -1.2h0m11.4 41.2h0m-5.5 -33.7h0m.5 33.8h0m-15 -38.5h0m8.6 -6.2h0m-16.7 2.9h0m28.6 13.6h0m-16.6 -14.6h0m14.3 9.1h0m2.3 9.9h0m-21.8 -18h0m20.7 28.4h0m-19.1 -17.5h0m-.2 -2.5h0m16.1 15.6h0m-22.6 -12.2h0m-2.9 -2.9h0m-.1 -2.2h0m-.8 -.8h0m17.3 -3h0m-.3 -3.6h0m-.8 11.7h0m9.9 25.7h0m4.1 -39.1h0m-18.5 14h0m-5 -14.5h0m-3.8 8h0m3.1 4.3h0m11.7 -3h0m-3.1 3.5h0m12.1 11h0m-1.6 -19.9h0m3 16.6h0m-23.4 -19.5h0m-1.2 8.1h0m2 5h0m-.3 -5.4h0m24.9 33.6h0m-6 -9.2h0m-2.1 -21.5h0m-6.3 -.5h0m15.6 -7.6h0m-4.9 4.2h0m-7.1 -.9h0m-1.6 4.2h0m13.7 32.6h0m-1.5 -11h0m-14.5 -23.5h0m-11.2 -5.2h0m-4.9 7.5h0m19.5 -1.3h0" stroke="#ad2742" stroke-width="1.56" stroke-linecap="round" fill="none"/><path d="M340 175.1h0m1 -8.5h0m-3.7 17.2h0m1.6 -35.6h0m-.2 -.8h0m-4.4 14.6h0m.2 2.6h0m-.8 -6.9h0m-4 30.1h0m1.4 -38.8h0m7 18.9h0m-9.9 13.7h0m8.7 -19.1h0m-1.8 -16.2h0m7.6 6.6h0m-10.4 6.1h0m5 7h0m2.8 19.4h0m3.3 -32.7h0m-7.7 29.9h0m4 -29.6h0m-11 30.3h0m9.7 -13.2h0m-7.2 -17.3h0m12.9 -7.3h0m-8 46.2h0m1.4 -15.4h0m6 -24.2h0m-6.2 11.6h0m1.1 11.8h0m2.3 -2.9h0m-5.4 -27.5h0m-.8 3h0m7.1 18.4h0m-9.4 -2h0m-5.7 31.1h0m3.8 -21.8h0m12.2 -2.2h0m-5.8 11.7h0m6.8 -25.3h0m.9 -.8h0m-12 33.7h0m-4 -5h0m9.8 9.5h0m-8 -28.8h0m5.7 -9h0m3.8 -9.9h0m-4.3 2.8h0m1.7 2.1h0m-7.3 19.5h0m4.5 -23.5h0m-3.1 38h0m9.3 -28.1h0m-1.8 -14.5h0m-8.3 46.6h0m10.9 -2h0m-10.8 1.9h0m2.5 -36.2h0m5.5 -7.5h0m-9.2 29.8h0m11.2 7.5h0m-4.1 -13.9h0m-3.5 -23.5h0m2.4 -2.6h0m4.3 1h0m-2.2 27.3h0m4 20.9h0m-13 -17.8h0m8.1 -7.2h0m5.2 -13.9h0m-1.3 21.1h0m0 10.1h0m-2.1 -24.6h0m-11.1 32.2h0m15.4 -.3h0m-3.7 -39.5h0m2.4 11.1h0m-1.8 27.9h0m-12.4 -3.9h0m2.1 -4.2h0m6.8 6.2h0m5.6 -25.4h0m-9.8 -7.8h0m5.9 9.9h0m-3 26.9h0m4.9 -14.4h0m.7 -26h0m-6.9 39.9h0m.5 -31.8h0m1.2 11.9h0m7.8 -27.1h0m-6.1 25.1h0m1.6 -28.5h0m3 28.2h0m-11.6 20.2h0m12.5 .3h0m1.6 -29.1h0m-11.3 -10h0m-2.9 41.6h0m.9 -22.8h0m4.6 -23.1h0m-3 41.8h0m11.7 -28.8h0m-8.8 9.7h0m-4.7 -10.5h0m10 -14.9h0m-4.9 29.1h0m-3.6 7.8h0m-1.2 -24.9h0m5.5 4h0m.5 -2.8h0m-4.4 -8.6h0m-1 25.5h0m7.3 18.2h0m-7.9 -1.4h0m1.3 -37.8h0m-5.9 38.1h0m3.1 -16.6h0m10.1 3.5h0m-8.1 2.1h0m8.4 -3.4h0m2.3 3.2h0m-.2 -16.4h0m-8.6 14.9h0m1.7 -13.6h0m1.5 -16.7h0m-4 -2.9h0m-2.4 14h0m10.7 18.1h0m2.7 0h0m-4.9 -31.3h0m-5.2 25.4h0m8.6 2.4h0m-8.5 15.5h0m5.2 -40.2h0m-7.9 18.3h0m-2.9 23.2h0m7 1h0m-3.1 -3.7h0m5.7 -32.8h0m-2.4 -4.7h0m8.6 -2.2h0m-1.2 43.9h0m-3.6 -50.7h0m3.2 37.8h0m-12.8 -7.8h0m13.5 21.1h0m-8.3 -25h0m0 13.6h0m8.1 -29.5h0m-7.7 -8.8h0m4.6 16.2h0m-1 29h0m.1 -4.8h0m.7 -17.7h0m2.6 -16.9h0m-11.5 6.5h0m4 36.5h0m-.6 -7.5h0m-3.3 -28.4h0m12 2.4h0m-3.4 14.6h0m3.5 3.1h0m.5 -6.3h0m-1.3 3.2h0m-3.3 13.8h0m-1.5 6.6h0m7.3 -47.8h0m-10.5 41.4h0m1 -39.4h0m.3 10h0m-8.9 32.5h0m10.5 1.7h0m-.6 -16.1h0m3 7.7h0m4.2 .4h0m-7.1 -40h0m-5.2 18.5h0m6.9 -19.4h0m-4.6 11.4h0m-3.5 8.1h0m-.6 14.4h0m5.1 -2.8h0m1.4 -17.7h0m8.3 -4.4h0m-11.3 40.9h0m-4 -11.1h0m7.9 -20.7h0m-.5 21.5h0m-7.4 -6.3h0m5.5 -18.4h0m0 -2.9h0m.3 0h0m-1.2 34.4h0m10.6 -36.7h0m-11.1 28.1h0m6.5 -34.8h0m-2.6 18.4h0m-2.7 -.8h0m7.2 -20.7h0m-2.9 27.9h0m-3.2 -7.3h0m4.9 -6.2h0m2.4 27.5h0m-9.6 -6h0m-3.8 -6.1h0m14 -29.7h0m-5.6 43.4h0m6 -36.3h0m-5.5 -1.7h0m4.6 -3h0m-8 20.7h0m4.4 -1.8h0m-10.7 26.8h0m15.1 -45h0m-7.8 16.4h0m-.1 17.4h0m.6 -13.1h0m0 18.3h0m.7 -10.4h0m.9 -21.9h0m2.1 32.4h0m-6.7 5.9h0m-.3 -14.4h0m2.4 -22.3h0m4.4 -12.6h0m-5.7 30.1h0m4.9 -23.7h0m-3.9 5.1h0m-.5 20.3h0m-.2 15.7h0m-5.3 -20.1h0m6.9 -1.6h0m1.5 12.6h0m-10.1 3.9h0m13.8 -40.9h0m-8.2 36.2h0m6.6 12.3h0m-3.5 -2.1h0m2.4 -36.9h0" stroke="#f0c93c" stroke-width="1.56" stroke-linecap="round" fill="none"/><path d="M345.9 158.9h0m10.5 -.6h0m-12.3 15.1h0m1.1 20.3h0m3.9 -13.9h0m-2.8 13.3h0m-.3 -20.5h0m-2.1 20.2h0m23.4 -33.9h0m-7.7 5.7h0m-7.4 -5.1h0m-7 23.4h0m24.1 -17.9h0m-13.6 6h0m9.2 -13.9h0m-18.9 34.1h0m.2 -6.1h0m16.1 -26.8h0m5 13.1h0m-18.1 -8.9h0m-5.3 20.2h0m18.2 -18.7h0m-11.3 -5.7h0m-6.3 12h0m15.7 -9.3h0m-12.3 -2.2h0m-3.3 33.6h0m25.6 -23.6h0m-23.5 4h0m-2.6 13.8h0m.4 1.8h0m21 -21.6h0m-4.7 -4.3h0m-8 7.4h0m-4.9 7.9h0m-2.7 -6.1h0m1.6 7.7h0m8.9 -16.3h0m-9.9 12.4h0m-1.4 -4.2h0m6.6 -12.7h0m16.6 .7h0m-17.8 12h0m-.7 23.9h0m6.7 -25.7h0m-3 2h0m-3.7 -10.2h0m.7 13h0m-5.3 3.8h0m3.1 -.2h0m.9 5.8h0m2 -15.5h0m12.1 -4.6h0m-3.1 -4h0m-10.4 4.9h0m4.9 1.2h0m6.7 -4.5h0m-12.3 11.7h0m-1.5 -7.7h0m.2 -7.6h0m1.2 35.1h0m-4.9 -4.7h0m11.6 -17h0m-.9 -10.9h0m-4.5 7.5h0m2.3 2.7h0m9.2 -3.3h0m-9.1 -3.5h0m4 5.3h0m13.5 .8h0m-8.9 -.6h0m-17.2 15.8h0m14.3 -26.5h0m-13.2 11.4h0m-.9 22.9h0m9.6 -32.7h0m9.7 10.9h0m-14.9 -11.7h0m-.3 33.9h0m2.5 -19.9h0m-4.5 -1h0m11 -7.6h0m2.5 -2.1h0m-12.2 6.1h0m-1.2 22.3h0m3.7 -2.3h0m-1.9 -.5h0m14.6 -26h0m-3.5 -1.5h0m-15.6 34.7h0m13.4 -32h0m-4.9 -3.1h0m-6.9 21h0m14.2 -12.4h0m-13.5 5.4h0m15.4 -11.4h0m3.8 -1.8h0m-20.7 11.7h0m24.2 -5.2h0m-20.8 16.3h0m.4 .8h0m1.4 -26.3h0m15.6 3.1h0m-16.8 16.9h0m.8 11h0m1.5 -6h0m-5.6 7.9h0m4 -16.1h0m-1.6 -4.7h0m11.1 -1.7h0m-5.2 -6.9h0m6.1 8.9h0m-15.3 16.2h0m21.2 -25.8h0m-18.2 31.9h0m-2.3 -28.5h0m5 23.5h0m.3 -13.5h0m-4.3 12.6h0m2.2 -18.4h0m6.8 .6h0m-2.4 -1.5h0m2 2.3h0m8.7 -.8h0m-7.2 .5h0m-5.2 4.6h0m5.7 -3.8h0m4.6 -4.4h0m-16.1 22.6h0m5 -27.8h0m-5.2 20.9h0m3.2 -8.3h0m.4 -16.5h0m-4.4 28.8h0m26.5 -25.8h0m-10 5.5h0m-10.5 12.1h0m3.5 -19.8h0m-5.7 14.6h0" stroke="#1f6eb0" stroke-width="1.56" stroke-linecap="round" fill="none"/><path d="M300 145.7h0m4.4 12.2h0m-5.3 33.4h0m4.2 4.4h0m-6.9 -53.1h0m-2 6.9h0m11.8 30h0m3.4 -6.9h0m-6.1 18.3h0m3 -44.5h0m-8.7 21h0m-4.6 11.5h0m14.1 -3.6h0m-11.5 -22.7h0m-2 29.2h0m19 -29.3h0m-16.2 38.5h0m-.1 -27.4h0m-.7 27.1h0m12.6 -33.4h0m-7.6 -14.6h0m6.9 13.9h0m1.5 11.1h0m-3.2 14.3h0m2.8 -4.9h0m-4.8 -5.6h0m3.6 9.5h0m-4.4 -17.6h0m5.2 -1.9h0m2.4 -9.1h0m-15.6 1.4h0m10.2 40.2h0m-11.3 -13.5h0m-1.2 -28.6h0m4 37.8h0m8.9 -18.3h0m-9 17.3h0m5.7 -30h0m-.7 8.4h0m6 11.8h0m1.9 1.2h0m-5 6.3h0m-11.5 -36h0m19.7 -4.5h0m-8.2 18.2h0m-9.6 8.9h0m9.3 18.9h0m-4.4 -1.7h0m-2.8 -17.7h0m6.3 -27.6h0m-1.6 18.3h0m-.8 -3.8h0m6.3 14h0m-13.3 4.3h0m15.1 -.1h0m-13.4 7.6h0m3.8 -2.6h0m-.7 -11.2h0m-4.8 -5.8h0m3.1 19.3h0m5.2 -40.7h0m-10.4 50h0m1.5 -38.6h0m1.3 11.2h0m13.4 -6.7h0m-16.3 .5h0m6.5 -17.6h0m-1.3 20.1h0m14.4 -8.3h0m-8.9 10h0m-9.5 -7.1h0m-1.1 -13.6h0m2.1 31.9h0m16.3 -16.4h0m-11.4 -9.1h0m-4.4 -3.5h0m9.4 8.6h0m2.4 34.3h0m-9.4 -12h0m11.1 -5h0m-14.7 5.6h0m1.2 -10h0m11.7 21.1h0m2.5 -32.3h0m-4.8 -5.8h0m-8.1 29h0m9 2.3h0m-5.2 -1.5h0m2.5 3.7h0m-2.8 -22h0m-1 -8.8h0m10 1.7h0m3.3 -10.8h0m-18.5 17.7h0m11.8 19h0m1.7 -16.7h0m-13.2 9.2h0m2.3 11.1h0m3.2 -8.8h0m-4.2 8.4h0m10.8 -26.1h0m-6.7 15.5h0m14.2 -24.6h0m-6.8 30h0m-6.6 8.1h0m13.7 -38.8h0m-17.5 15.5h0m10.9 6.2h0m-6.2 13h0m13.1 -38.9h0m-16.8 3.1h0m7.5 20.3h0m-3.3 13.4h0m7.6 -16.7h0m-1.1 .1h0m-14.9 -17.8h0m10.1 20.7h0m-4.9 16.8h0m11.9 -18.8h0m-17.5 -13.3h0m8.2 2.9h0m-1.7 13.7h0m-4.9 -3h0m11.2 13.4h0m0 -19.1h0m-10.6 16.6h0m10 3.8h0m2.9 10h0m3.4 -41.8h0m-.9 8.2h0m-11.6 35.1h0m3.7 -40.7h0m.3 31.1h0m-.6 -38.7h0m-2.2 3h0m6.9 24.8h0m-12.4 14.5h0m2.2 4h0m9.8 -6h0m-7.8 -32.5h0m-5.6 36.5h0m4 -4h0m-3.5 -1.1h0m3.7 -8.4h0m7.1 6h0m-5.5 -8.5h0m8.6 10.3h0m-5.7 -3.6h0m6.3 -8.3h0m1.8 6.4h0m-7 11.6h0m-6.7 -37.4h0m1.6 16.8h0m8 20.9h0m.4 -23.6h0m-12.5 -4h0m13.8 33.3h0m-8.8 -17.1h0m5.5 -10.7h0m-8.1 -9.4h0m2.2 -9.7h0m4.5 40.3h0m-10.2 -22.3h0m13.2 7h0m-.4 20.5h0m-1.3 -37.6h0m5.4 3.8h0m1.1 -13.1h0m-10.6 11.1h0m8.9 21.6h0m-2.9 -37.3h0m-2.9 39.8h0m-2.5 -15.3h0m7.4 29.2h0m4.6 -49.5h0m-11.4 15.5h0m4.4 -12h0m-1.6 31.2h0m-.4 -29.9h0m5.2 10.8h0m1.1 2.2h0m-13.5 -5.1h0m13.9 -10.6h0m-13.6 34.5h0m2.6 -1.6h0m3.5 -15.6h0m2.4 21.8h0m2.3 -32.5h0m-2.9 17.5h0m-1 -10.6h0m7.1 -10.4h0m-2.9 15.9h0m-10.3 18.2h0m3.4 -21h0m-5.2 16.8h0m-1.9 -36h0m16.4 11.2h0m-8.9 1.5h0m5.2 24.4h0m-7.5 -36.1h0m6.9 1.3h0m-7.1 30.5h0m6.6 -14.1h0m-11.5 -8.9h0m1.5 29.2h0m2.3 -36.8h0m.9 22.7h0m5.8 6.1h0m4.7 .1h0m-15.4 -22.5h0m12.3 -8.1h0m2.7 -3.6h0m3.4 6.4h0m-18.5 -5.9h0m17.4 3h0m-13.7 8h0m7.6 29.8h0m-4.6 6.3h0m-5.9 -35.9h0m1.2 -3.5h0m12.3 2.5h0m-12.3 10.2h0m-2.3 -10.4h0m6.4 19h0m-3.8 3.3h0m4.7 7.8h0m6.1 10.5h0m-9.7 -16.6h0m-1.6 -29.4h0m13.3 44.8h0m-4.4 -29.7h0m-8.4 14.1h0m13.2 -11.2h0m-8.1 7.6h0m8.7 -7.7h0m-15.5 .3h0m.6 29h0m10.8 -38.8h0m-10.5 6.3h0m3.7 11.6h0m-3.5 -21.6h0m10.1 43.5h0m-7.7 -12.3h0m-1.7 .7h0m16.6 -35.3h0m-16 15.1h0m4.9 29.2h0m7.7 -50.3h0m-13.2 4.9h0m0 27.4h0m6.1 4.5h0m1.7 -20.6h0m5 -16.3h0m-9.3 .5h0m10.9 25.6h0m-9.9 9.2h0m-3.5 -32.7h0m-.2 22.2h0m10.6 5.9h0m-10.8 -24.9h0m3.6 42h0m5.3 -28.9h0m7.2 -14.4h0m-5.1 33.3h0m1.2 -20.7h0m-14.2 15.5h0m8.2 18.4h0m-7.3 -22.8h0m4.8 -22.6h0m9.5 -4.7h0m2.1 -1.3h0m-5.4 35.1h0m-7.9 -5.3h0m-.5 -19.9h0m-1.7 41.1h0m6.2 -47.4h0m6.2 35.7h0m-.2 .1h0m-4.6 -36.6h0m-2.6 41.4h0m-3.3 -10.6h0m3.4 -33.3h0m4.4 36h0m1.3 -28.9h0m2.4 24.8h0m-6.6 5.5h0m-2.3 -4.1h0m2 -30.1h0m-8.5 46.1h0m2.2 -23h0m5.3 -16.5h0m1.3 28.2h0m-8.7 5.6h0m6.5 -11h0m.2 -16.6h0m3.2 -8.4h0m2.2 18.4h0m-1 -17.3h0m3.4 36.4h0m-1 -45.1h0m-1.9 10.2h0m-2.7 16.7h0m4.6 25.2h0m-3.8 -50h0m6.2 27.4h0m-7.1 13.9h0m2.2 -20.3h0m-4.4 3.3h0" stroke="#bdbdbd" stroke-width="1.56" stroke-linecap="round" fill="none"/><path d="M367.9 185.9h0m-.8 2.9h0m-12.1 -.4h0m13.6 .9h0m-13.4 1.4h0m.5 2h0m2.4 -16.2h0m2.9 13.9h0m.6 3.6h0m-5.4 -21.8h0m5.5 2.7h0m6.6 19.1h0m-12.1 -14.1h0m-2.6 5.9h0m-1.1 -2.7h0m6.4 -5.3h0m-2.2 9h0m-1 -6.5h0m3.6 -3.2h0m.8 -3.3h0m-7.7 12.3h0m2.5 -8.6h0m11.6 8.3h0m3 4.4h0m-5.8 -9.9h0m6.2 -2.5h0m-3.2 17.3h0m-12.1 -10.6h0m-2.3 -3.6h0m.6 -5.2h0m6.4 13.6h0m.2 4.8h0m-.3 -21.6h0m-7 22.2h0m3 -13.2h0m1.2 5h0m3.8 -7.4h0m3 7.7h0m1.2 -5.7h0m-6.1 6.6h0m8.5 5.3h0m-8.6 -8.6h0m-7.3 -11.3h0m11.6 19.1h0m-3.2 -13.2h0m5.9 -5.8h0m-3.3 16.2h0m-5.5 5.2h0m.7 -9.5h0m-4.5 -.9h0m17.4 6.8h0m-11.6 -4h0m7.9 -9.4h0m-8.9 -5h0m1.7 18.6h0m-4.3 -1.2h0m.8 -14.7h0m2 5.6h0m11.3 -2.7h0m-8 1.4h0m0 -4.3h0m-9.1 5.5h0m9.3 -6.5h0m4.6 -.7h0m-11.4 6h0m6 -2.4h0m2 17.8h0m-3.6 -16.3h0m-5.5 -2.7h0m12.8 6.2h0m-13.3 -7.5h0m8.5 10.3h0m-5.3 6.5h0m-.7 -17.1h0m8.3 -1.6h0m-10.9 .9h0m1.8 -1.8h0m.8 15h0m2.9 1.2h0m-7.3 -13h0m9.8 12.5h0m-.6 -.6h0m1.8 -3.5h0m-4.1 -.1h0m2.7 11.8h0m2.9 -1.1h0m1.8 -2.5h0m-6.1 -16.8h0m1.4 -1.4h0m3.3 5h0m-3.9 16.3h0m9.6 -15.7h0m-13.3 -4.6h0m-3.1 4.7h0m-.5 6.4h0m8 5.6h0m-.4 -3.8h0m1.9 6.8h0m4.6 -4.9h0m-15.6 -2.3h0m3.1 -10.8h0m-3.2 7.7h0m6.6 -5.9h0m-2.4 16.6h0m9 -10.9h0m-4.3 4.6h0m9.2 -1.3h0" stroke="#ff7f0e" stroke-width="1.56" stroke-linecap="round" fill="none"/><rect x="263.3" y="139.3" width="119.7" height="59.1" fill="none" stroke="#222" stroke-width="1"/><text x="451.1" y="133.9" text-anchor="middle">STAGATE</text><path d="M445.8 172.1h0m1.5 -2.8h0m-.2 -3.6h0m6 10.7h0m-13 11.1h0m-1.3 -6h0m5.7 5.5h0m4.5 -32.7h0m1.7 20.7h0m0 12h0m-.3 -28.1h0m-4.3 -15.6h0m-.1 32.3h0m6.9 5.3h0m1.1 -23.3h0m-2.6 16.9h0m-9.8 18.9h0m2.2 -7.6h0m4.7 -26.8h0m-4.4 3.2h0m10.2 -11.7h0m-2.6 32.2h0m1 -10.2h0m0 -7.4h0m-.3 -22.3h0m-.9 52h0m-3.9 -52.3h0m-8.7 53.2h0m13 -1.7h0m-3.9 -42.9h0m-5.6 19.2h0m-3.4 19.9h0m9.6 4.1h0m-1 .3h0m-1.4 -41.7h0m7.9 -4.3h0m-11.3 26.9h0m12.8 -29.6h0m-12.8 9.9h0m1.5 29.3h0m8.5 -13.9h0m.6 11.9h0m-3 -12.2h0m-1.3 -17.1h0m5 15.9h0m.7 -19.6h0m-7.2 43.2h0m-5.7 -2h0m12 -40.9h0m1.5 7.6h0m-16.2 19.8h0m3.8 -8.3h0m-2.8 10.1h0m11.9 4.8h0m-1 -34.8h0m-4.1 -1h0m9.3 -2.5h0m-8.8 3.5h0m.3 14.5h0m1.7 31.4h0m4.3 -30.3h0m-2.5 -1.9h0m-.4 28.9h0m-2.8 -39.1h0m-3.6 17.3h0m2.3 11.9h0m4.9 5.1h0m1.6 5.7h0m-3.4 -39.2h0m1 -10h0m-.3 21.4h0m-.7 17.6h0m6.6 -32.1h0m-11.2 44.6h0m-2.2 -32.3h0m5.2 -12.2h0m-5.8 -.8h0m8.1 23.4h0m-2.9 1.5h0m-6.4 -10.7h0m10.5 -5.7h0m3 -3.9h0m-9.1 28.8h0m-3.5 -7.6h0m7.1 -11.6h0m-4.5 22.5h0m-4.5 -6.9h0m11 -16.2h0m.3 8.8h0m1.1 -28.8h0m-7.5 30.2h0m4.9 -19.3h0m-2.7 -5.7h0m-4.6 37.2h0m3.5 -16.9h0m-.2 23h0m-1.5 1.1h0m11.5 -46h0m-8.9 11.7h0m-7.7 22.9h0m8.1 -39.1h0m4.3 5.9h0m-6.1 23.3h0m-5 2.9h0m10.4 15.7h0m2.9 -19.2h0m-13.3 22.5h0m10 -24.2h0m-9.1 1.1h0m11.5 -7.9h0m-4.3 31.8h0m-2.7 -26.6h0m3.2 -11.5h0m4 -10.5h0m-2.5 6.5h0m-8.9 15.5h0m7.6 3.8h0m.3 1.8h0m4 -13.7h0m-7.8 -5.4h0m2.6 29.5h0m4.8 -28.4h0m-11.8 39.5h0m4.3 -33.2h0m8 9h0m-2.5 -20.4h0m-4.3 1.2h0m8.2 14.9h0m-3.4 28.2h0m-7.2 -48.4h0m-1.8 25.3h0m6.9 -3.9h0m.3 -5.3h0m3.3 5.6h0m-11.8 -4.4h0m6.5 29.7h0m-4.5 -14.7h0m-.1 -31.1h0m.6 1.1h0m5.4 24.8h0m-8.4 -10.2h0m4.2 -1.8h0m.5 -2.7h0m.2 8.5h0m0 -5.2h0m-6.2 33.2h0m10.6 -44.5h0m-2.3 7.9h0m-.5 10.7h0m-6.2 -6.6h0m6.1 7.5h0m-1.5 -7.1h0m1 27.1h0m-8.9 -4.1h0m12 -23.7h0m.9 6.2h0m3.8 -6.6h0m-6.7 -18.1h0m-5.8 14.9h0m12.1 -10.2h0m-5.2 14.6h0m-.1 -14.3h0m-1.4 41.3h0m0 -32.2h0m-1.9 16h0m-4.3 -4.5h0m-.1 .3h0m5.4 -14.2h0m7.8 17.4h0m-8.4 -6.1h0m-.2 11.7h0m-1.4 8.3h0m7.4 -42.4h0m-10.7 26.6h0m12.5 -28h0m.8 29.8h0m-17.3 19.9h0m12.5 -11.5h0m4.2 -37.7h0m-10.2 30.2h0m3 -21h0m-.3 -10.3h0m.3 47.5h0m-4.3 -5.1h0m11.1 -28.8h0m-1.5 .1h0m-10.6 13.8h0m13.2 -25.2h0m-6.3 3.1h0m1.6 -4.6h0m-5.5 1.4h0m1.9 .4h0m10.4 5.2h0m-13.4 36.9h0m.9 2.2h0m1.6 -38.1h0m7.6 -.3h0m-10.5 42.9h0m2.3 -17.8h0m2.5 -4.6h0m1.8 -14.3h0m-1.6 27.3h0m-4 -6h0m.2 -15.2h0m9.3 7.9h0m-1.5 -19.9h0m-8.4 34.3h0m2.1 -2.5h0m8 -22.2h0m-1.4 -11.2h0m-9.6 34.2h0m10.9 -10.1h0m-12.4 13.2h0m2 -11.2h0m-1.3 -4.1h0m6.4 21.2h0m-.9 -40.1h0m6.3 28.6h0m-12.3 -7.8h0m1.1 -5.8h0m11.1 14.7h0m-14.8 3.7h0m4.7 -15.4h0m6.3 -6h0m2.1 1.7h0m-5.7 25.1h0m1 -9.7h0m4.1 12.4h0m-6.3 -18.3h0m-.8 -22.6h0m11.4 -7.9h0m-2.1 12.6h0m-14.9 33.2h0m15.8 -31.2h0m-10.9 -2.8h0m2.9 -14.8h0m8.7 10.7h0m-4.2 31.7h0m-11.3 -6.6h0m12.8 16.2h0m-5.8 -10.3h0m7.7 -37.4h0m-8.8 24.2h0m2.3 2h0m-6.8 7.7h0m4.9 -25.3h0m-1.6 -1.8h0m11 14.4h0m-6.6 -22.9h0m-5.7 27.8h0m-2.2 22.2h0m15.1 -44h0m-9 41.9h0" stroke="#33e68f" stroke-width="1.56" stroke-linecap="round" fill="none"/><path d="M416.5 169.5h0m-10.3 16h0m10.9 -30.5h0m-1.4 17h0m1.4 9.3h0m-11 -8h0m8.7 -7.1h0m1 -23.7h0m-5.8 21.1h0m-2.1 -19.6h0m8.2 22.4h0m1.6 -4.2h0m-16.5 29.8h0m3.1 -1.3h0m2.6 -1.7h0m2.2 -8.9h0m2.9 2h0m6.6 -17.3h0m-2.7 -19.5h0m-7.8 6.6h0m7 30.8h0m-1.6 -32.3h0m4.7 30.9h0m-6.5 -34.3h0m-.6 43.6h0m1 3h0m-8.2 -44.9h0m14.5 27.3h0m-13.5 -22h0m-3.7 20.2h0m14.8 -24.1h0m-1 5.6h0m-2.9 10.7h0m-.4 -3.3h0m-7.5 16h0m8.9 13.2h0m-7.8 -2.9h0m7.5 -15.4h0m-1.7 6h0m7.6 -23h0m-15.6 6.7h0m6.9 -18.3h0m-2.6 34.5h0m2 -20.2h0m2.9 -8.3h0m-2.9 8h0m-6.1 30.6h0m12.2 -46.6h0m-6.2 2.6h0m6.4 1.7h0m-7.6 47.4h0m4.4 -19h0m-5.3 -32.2h0m8.8 4.9h0m1.7 46.7h0m-14.4 -31h0m2.6 -3h0m13.3 .4h0m-4.7 15h0m-6.1 7.5h0m2.1 -37.7h0m2.7 47.4h0m-.1 -8.1h0m-11.8 -21.7h0m.4 22.6h0m.7 -3.9h0m6.8 -23.8h0m.6 29.7h0m-2 -7h0m6.4 -21.1h0m-10.9 25.5h0m4.1 -13.9h0m-4.4 5.4h0m13.5 -7.5h0m-1 -20.3h0m1 4.4h0m-13.1 36.7h0m14 -41.8h0m-.9 11.3h0m-2.4 -9.3h0m5.3 -8.3h0m-4.4 37.9h0m-11.7 -3.1h0m-2 2.4h0m13.7 -19.1h0m-7.7 15.1h0m4.3 -23.4h0m4.8 23.3h0m.3 -21.4h0m.5 -6.7h0m.2 12h0m-5.4 3.7h0m-1.3 20.2h0m3.3 -40h0m2.3 37.4h0m-9.3 -37.4h0m5.7 6.1h0m-4.5 -6h0m10.7 .4h0m.2 32.2h0m-9.9 -29.5h0m9.1 10.5h0m-1.1 -9.2h0m-10.3 -1.5h0m6.5 48.4h0m-5.5 -45.9h0m-6.7 13.4h0m13.8 32.5h0m-8.8 -42.1h0m-2.8 7.5h0m10.1 11.8h0m-4.5 8.2h0m5.1 -36.1h0m-12.4 35.1h0m1.9 -21.9h0m15.5 -15.6h0m-7.9 6.9h0m.1 9.2h0m-6.4 6.5h0m14 -11.8h0m-5.8 -10.2h0m-4.4 1.3h0m3.1 38.5h0m-6.2 -28.4h0m12.9 -1.8h0m-12.3 25.9h0m8.3 -8.8h0m-.1 20.2h0m-.2 -28.6h0m-5.9 30.6h0m-2.8 -20.6h0m4.8 -1.8h0m-2.6 -.9h0m1.5 -14.5h0m7.3 -8.3h0m-.7 23.5h0m-2.5 -6.4h0m2.4 -4.4h0m-9.1 22.8h0m5 -12.8h0m-10.8 -10.5h0m15.2 35.4h0m2.9 -10.9h0m-5.6 -14.4h0m5.3 6h0m-3 -26.9h0m-9.4 36.8h0m8.8 -34.2h0m-7.5 42h0m9.2 -40.1h0m-4.4 42.4h0m-6 -18.8h0m8.9 -19.2h0m-9 3h0m5.1 6.6h0m-1.2 -9.1h0m-1 18.9h0m10.4 -23h0m-3.4 34.5h0m-.7 .8h0m-8.9 -6.8h0m-.3 -16.9h0m1.6 26.5h0" stroke="#2bb5ec" stroke-width="1.56" stroke-linecap="round" fill="none"/><path d="M483.2 147h0m-15.3 28.1h0m1 -8.5h0m4.9 -7.7h0m29.9 4.4h0m-38.5 20.5h0m14.1 -35.5h0m-12.5 -.1h0m17.5 10.1h0m-17.7 -10.9h0m-4.4 14.6h0m29 -10.2h0m4.6 34.1h0m-33.4 -21.3h0m11.1 -8.8h0m-11.9 1.9h0m13.6 -12h0m-17.6 42.1h0m1.4 -38.8h0m13 24.4h0m-6 -5.5h0m-9.9 13.7h0m8.7 -19.1h0m-1.8 -16.2h0m15.5 -2.7h0m-7.9 9.3h0m-10.4 6.1h0m43.7 7.3h0m-20.9 -23.3h0m-17.8 23h0m2.8 19.4h0m3.3 -32.7h0m3.2 -1.1h0m-10.9 31h0m34.9 -1.8h0m-30.9 -27.8h0m-11 30.3h0m27.3 -32h0m-1.3 -1.8h0m-10.8 43.3h0m28.5 -46.2h0m-34 23.5h0m-8.7 -11.4h0m1.5 -5.9h0m43.4 16.9h0m-30.5 -24.2h0m-8 46.2h0m17.7 -48.5h0m-5.3 5.4h0m-11 27.7h0m28.1 -27.1h0m-17.6 6.7h0m11.6 8.7h0m-16.1 -12.5h0m8.7 7.4h0m-14.9 4.2h0m10.3 -17.9h0m-9.2 29.7h0m33.5 2.3h0m-31.2 -5.2h0m-5.4 -27.5h0m-5.5 12.1h0m-4.1 35.2h0m8.8 -44.3h0m7.1 18.4h0m-9.4 -2h0m-5.7 31.1h0m22.3 -40.8h0m-18.5 19h0m20.6 -21.6h0m-8.4 19.4h0m-5.8 11.7h0m6.8 -25.3h0m.9 -.8h0m22 -1.9h0m-36.4 -3.8h0m34.9 5.6h0m12.1 5.1h0m-2.3 -17.1h0m-42.3 45.8h0m-4 -5h0m43.8 -.8h0m4.7 -7.8h0m-38.7 18.1h0m20.3 -49h0m-11.6 .8h0m12 6h0m-28.7 13.4h0m46.9 18.4h0m-41.2 -27.4h0m10.1 -6h0m-6.3 -3.9h0m-4.3 2.8h0m24.5 2.1h0m-22.8 0h0m-7.3 19.5h0m4.5 -23.5h0m-3.1 38h0m9.3 -28.1h0m8.7 4h0m7.3 -19.7h0m-25.7 8.5h0m7.9 -7.3h0m5.2 38.7h0m-13.5 7.9h0m20.4 -32.3h0m-6.3 12h0m-3.2 18.3h0m15.3 -34.7h0m-26.1 36.6h0m24.7 -41.9h0m17.4 -6.6h0m-6.1 43.8h0m-6.3 -24.8h0m4.6 -16.4h0m-16.9 14.2h0m-3.3 33.6h0m1.6 -39.9h0m-13.2 1.8h0m36.9 23.5h0m-31.4 -31h0m-9.2 29.8h0m11.2 7.5h0m13.3 -33.3h0m1.3 4h0m-18.7 15.4h0m-3.5 -23.5h0m11.2 39.9h0m-8.8 -42.5h0m4.3 1h0m4.9 43.3h0m18.4 -35.4h0m-16.2 3.4h0m-9.3 16h0m4 20.9h0m26.7 -49.3h0m7.3 6h0m-47 25.5h0m8.1 -7.2h0m19.2 -5.2h0m.5 -14.4h0m-14.5 5.7h0m4.8 -6.1h0m-18.7 19.6h0m16.6 3.4h0m-14 -21.6h0m10 25.8h0m10.6 -16.9h0m-10.6 27h0m-2.1 -24.6h0m-11.1 32.2h0m46.7 -39.4h0m-28.2 -2.3h0m-3.1 41.4h0m-3.7 -39.5h0m2.4 11.1h0m35.9 17.1h0m-13.8 -32.8h0m-23.9 43.6h0m-12.4 -3.9h0m2.1 -4.2h0m26.5 -34.2h0m-19.7 40.4h0m28.4 -9.4h0m-22.8 -16h0m29.9 9.7h0m-22.4 -13.5h0m-17.3 -4h0m12.7 20.8h0m-6.8 -10.9h0m-3 26.9h0m4.9 -14.4h0m.7 -26h0m9.4 1.9h0m11.9 -8h0m12.4 16.6h0m-27.5 -13.8h0m-13.1 43.2h0m.5 -31.8h0m1.2 11.9h0m7.8 -27.1h0m16.6 13h0m-22.7 12.1h0m1.6 -28.5h0m10.7 21.3h0m4.9 1.2h0m-12.6 5.7h0m-11.6 20.2h0m12.5 .3h0m1.6 -29.1h0m-11.3 -10h0m12.2 1.7h0m2.1 10.7h0m-17.2 29.2h0m21.2 -46.9h0m10.3 -3.7h0m-30.6 27.8h0m26.1 -24.4h0m-21.5 1.3h0m-3 41.8h0m11.7 -28.8h0m3.2 -3.9h0m.9 -1.4h0m-12.9 15h0m-8.2 6.3h0m26.4 -21.6h0m-22.9 4.8h0m10 -14.9h0m3 42.2h0m-13.5 -38.8h0m5.6 25.7h0m37.8 -31.6h0m-41.4 39.4h0m20.9 -26.6h0m-.8 -1h0m2.1 5h0m-23.4 -2.3h0m21.3 5.7h0m-15.8 -1.7h0m.5 -2.8h0m-4.4 -8.6h0m-1 25.5h0m7.3 18.2h0m4.8 -9.3h0m14.3 -26.5h0m18.6 17.2h0m-28.3 -30.4h0m-17.3 47.6h0m13.8 -23h0m-.9 22.9h0m9.6 -32.7h0m-3.2 -4.5h0m-18 -.5h0m-5.9 38.1h0m3.1 -16.6h0m48.5 -6.1h0m-25.4 -25.3h0m-23.5 11.6h0m19.2 2.5h0m-8.7 20.8h0m-8.1 2.1h0m8.4 -3.4h0m36.6 -30.2h0m-.8 35.8h0m-33.5 -2.4h0m-.2 -16.4h0m-8.6 14.9h0m33.2 -2.7h0m-9.6 -13.1h0m-21.9 2.2h0m24.4 -4.3h0m17.3 -8.4h0m-40.2 -4h0m10.8 -5.5h0m-14.8 2.6h0m30.6 -1.8h0m-33 15.8h0m10.7 18.1h0m2.7 0h0m16.6 -33.2h0m-21.5 1.9h0m-5.2 25.4h0m13.5 -21.4h0m27.8 3h0m-5.6 23.3h0m-27.1 -2.5h0m-8.5 15.5h0m-3 -36.4h0m17.5 -8.6h0m11 3.7h0m-20.3 1.1h0m-7.9 18.3h0m-2.9 23.2h0m24.6 -44.5h0m-17.6 45.5h0m-3.1 -3.7h0m5.7 -32.8h0m-2.4 -4.7h0m26.5 .3h0m15.6 23.7h0m-30.2 -21.8h0m-3.3 -4.4h0m-1.2 43.9h0m-3.6 -50.7h0m20 17.2h0m-16.8 20.6h0m-12.8 -7.8h0m13.5 21.1h0m-8.3 -25h0m8.8 25.8h0m13.4 -32h0m-22.2 19.8h0m31.7 -.8h0m-23.6 -28.7h0m-7.7 -8.8h0m20.8 -.5h0m7.7 11.1h0m-11.6 4.8h0m-6.9 21h0m30.5 -6.6h0m-35.9 -13.6h0m-1 29h0m.1 -4.8h0m18.5 -38.3h0m-17.8 20.6h0m2.6 -16.9h0m2.2 22.1h0m14.9 -25.7h0m-28.6 10.1h0m35 -11.3h0m5.9 7.5h0m-22 5h0m-14.9 35.3h0m22.4 -45h0m-23 37.5h0m-3.3 -28.4h0m12 2.4h0m-12.2 -10.3h0m35.1 -7.4h0m-16.7 2.9h0m-9.6 29.4h0m38.2 -15.8h0m-16.6 -14.6h0m14.3 9.1h0m-44.3 -7.3h0m11.9 31.7h0m.5 -6.3h0m1.7 19.7h0m-3 -16.5h0m-3.3 13.8h0m-1.5 6.6h0m40.3 -31.8h0m-33 -16h0m-10.5 41.4h0m1 -39.4h0m.3 10h0m20.4 -14h0m-29.3 46.5h0m26.9 -30h0m23.1 11.9h0m-39.5 19.8h0m7.2 -6.6h0m-7.8 -9.5h0m21 -21.2h0m-12.5 8.3h0m-5.5 20.6h0m4.2 .4h0m13.6 -31.8h0m-20.7 -8.2h0m36.8 23.8h0m-42.1 -23.7h0m.1 18.4h0m6.9 -19.4h0m-4.6 11.4h0m-3.5 8.1h0m20.6 -7h0m-2.9 -2.9h0m-19 15.7h0m.7 8.6h0m-.1 -23.8h0m5.2 21h0m1.4 -17.7h0m8.3 -4.4h0m-11.3 40.9h0m-4 -11.1h0m18.7 -31.4h0m-10.8 10.7h0m-.5 21.5h0m-7.4 -6.3h0m17.9 -26.7h0m17.3 -3h0m-29.7 11.3h0m0 -2.9h0m29.4 -12h0m-29.1 12h0m28.3 -.3h0m9.9 25.7h0m4.1 -39.1h0m-18.5 14h0m-25 34.1h0m10.6 -36.7h0m-11.1 28.1h0m6.5 -34.8h0m-2.6 18.4h0m-6.6 -8.7h0m39.5 21.8h0m-16.3 -36.7h0m-19.3 22.8h0m15.5 -14.8h0m-8.3 -5.9h0m11.4 10.2h0m-14.3 17.7h0m-3.2 -7.3h0m4.9 -6.2h0m2.4 27.5h0m-9.6 -6h0m31.5 -28.7h0m-35.3 22.6h0m14 -29.7h0m-5.6 43.4h0m23.8 -32.8h0m-17.8 -3.5h0m-5.5 -1.7h0m35.4 16.2h0m-1.6 -19.9h0m-29.2 .7h0m-8 20.7h0m4.4 -1.8h0m-10.7 26.8h0m15.1 -45h0m-7.8 16.4h0m-.1 17.4h0m39.3 -18.6h0m-23.4 -19.5h0m-15.3 25h0m0 18.3h0m14.1 -35.2h0m-13.4 24.8h0m.9 -21.9h0m14.5 2.1h0m-21.5 -9.9h0m9.1 40.2h0m-6.7 5.9h0m18.8 -41.6h0m-19.1 27.2h0m2.4 -22.3h0m41.6 28.7h0m-37.2 -41.3h0m-5.7 30.1h0m36.9 2h0m-2.1 -21.5h0m-29.9 -4.2h0m-3.9 5.1h0m9.9 33.9h0m17.6 -35.3h0m-28 21.7h0m-5.1 -20.6h0m20.5 6.4h0m-15.6 29.9h0m10.4 -9h0m-15.7 -11.1h0m6.9 -1.6h0m42.2 -23.3h0m-40.7 35.9h0m10.9 -24.7h0m-4.4 28.8h0m-16.6 -.2h0m37.2 -2h0m8.7 -33.6h0m-32.1 -5.3h0m-8.2 36.2h0m6.6 12.3h0m-3.5 -2.1h0m-5.8 -37.1h0m30.2 11.5h0m5.7 -16.4h0m-1.6 4.2h0m-26.1 .9h0m-10 13.9h0m49.8 17.8h0m-1.5 -11h0m-14.5 -23.5h0m-8.8 6.4h0m-2.4 -11.6h0m-4.9 7.5h0m19.5 -1.3h0" stroke="#f0c93c" stroke-width="1.56" stroke-linecap="round" fill="none"/><path d="M397.9 170.4h0m2.6 23.3h0m-2.5 -37.3h0m4.9 -5h0m-3.2 37.5h0m-.4 -3.4h0m1.3 -40.3h0m-3.2 22.2h0m.9 -7.6h0m1.3 30.5h0m3.3 -26.3h0m-4.4 -4.7h0m.3 3.7h0m-2.5 8.2h0m7.2 -4.4h0m-4.1 -18.9h0m2.6 -.9h0m-2.3 18.2h0m-1.2 5.7h0m-.8 -2.1h0m7.5 -14.9h0m-8.8 14.8h0m7.5 -23.9h0m-1.7 22.6h0m-3.7 12h0m.2 -21.3h0m-1 -8.2h0m2.6 -1.9h0m-3.9 11.6h0m3.1 -8.9h0m-2.1 16.9h0m2.6 -3h0m-3.6 6.8h0m3.4 -25.2h0m-1.9 36.9h0m1.6 -15.3h0m-2.9 -4.4h0m.9 -3.9h0m8.6 13.7h0m1 19.8h0m-7.8 -13.4h0m.1 -11.1h0m-1 -17.6h0m-1.4 31.6h0m.8 -16.3h0m3.8 16.6h0m2.9 -18.1h0m-7.6 -2.1h0m3.8 -7.8h0m-1.5 5.3h0m-2.3 .7h0" stroke="#1f6eb0" stroke-width="1.56" stroke-linecap="round" fill="none"/><path d="M427.9 145.7h0m-8.7 45.2h0m13.1 -33h0m-5.3 33.4h0m4.2 4.4h0m-6.9 -53.1h0m-4.6 21.6h0m2.6 -14.7h0m11.8 30h0m3.4 -6.9h0m-6.1 18.3h0m3 -44.5h0m-8.7 21h0m-4.6 11.5h0m14.1 -3.6h0m-11.5 -22.7h0m-2 29.2h0m19 -29.3h0m-16.2 38.5h0m-.1 -27.4h0m-.7 27.1h0m12.6 -33.4h0m-7.6 -14.6h0m6.9 13.9h0m1.5 11.1h0m-3.2 14.3h0m2.8 -4.9h0m-4.8 -5.6h0m3.6 9.5h0m-4.4 -17.6h0m5.2 -1.9h0m2.4 -9.1h0m-15.6 1.4h0m10.2 40.2h0m9 -44.2h0m-20.3 30.7h0m-1.2 -28.6h0m4 37.8h0m8.9 -18.3h0m-9 17.3h0m5.7 -30h0m-.7 8.4h0m6 11.8h0m3.8 -12.1h0m-1.9 13.3h0m-5 6.3h0m-11.5 -36h0m19.7 -4.5h0m-8.2 18.2h0m-9.6 8.9h0m9.3 18.9h0m-4.4 -1.7h0m-2.8 -17.7h0m6.3 -27.6h0m-1.6 18.3h0m-.8 -3.8h0m6.3 14h0m-13.3 4.3h0m15.1 -.1h0m-13.4 7.6h0m3.8 -2.6h0m-.7 -11.2h0m-4.8 -5.8h0m3.1 19.3h0m5.2 -40.7h0m-10.4 50h0m22.9 -48.1h0m-21.4 9.5h0m1.3 11.2h0m13.4 -6.7h0m-16.3 .5h0m-.1 6.5h0m6.6 -24.1h0m-1.3 20.1h0m14.4 -8.3h0m-8.9 10h0m10.2 -2.1h0m-19.7 -5h0m-1.1 -13.6h0m2.1 31.9h0m16.3 -16.4h0m-11.4 -9.1h0m-4.4 -3.5h0m9.4 8.6h0m2.4 34.3h0m-9.4 -12h0m11.1 -5h0m-14.7 5.6h0m1.2 -10h0m11.7 21.1h0m2.5 -32.3h0m-4.8 -5.8h0m-8.1 29h0m9 2.3h0m-5.2 -1.5h0m2.5 3.7h0m-2.8 -22h0m-1 -8.8h0m10 1.7h0m3.3 -10.8h0m-18.5 17.7h0m11.8 19h0m1.7 -16.7h0m-13.2 9.2h0m2.3 11.1h0m3.2 -8.8h0m-4.2 8.4h0m10.8 -26.1h0m-6.7 15.5h0m14.2 -24.6h0m-6.8 30h0m-6.6 8.1h0m13.7 -38.8h0m-17.5 15.5h0m10.9 6.2h0m-6.2 13h0m13.1 -38.9h0m-16.8 3.1h0m7.5 20.3h0m-3.3 13.4h0m7.6 -16.7h0m-1.1 .1h0m-14.9 -17.8h0m10.1 20.7h0m-4.9 16.8h0m11.9 -18.8h0m-17.5 -13.3h0m8.2 2.9h0m-1.7 13.7h0m-4.9 -3h0m11.2 13.4h0m0 -19.1h0m-10.6 16.6h0m10 3.8h0m2.9 10h0m3.4 -41.8h0m-.9 8.2h0m-11.6 35.1h0m3.7 -40.7h0m.3 31.1h0m-.6 -38.7h0m-2.2 3h0m6.9 24.8h0m-12.4 14.5h0m2.2 4h0m9.8 -6h0m-7.8 -32.5h0m-5.6 36.5h0m4 -4h0m16.8 -26.2h0m-20.3 25.1h0m3.7 -8.4h0m7.1 6h0m-5.5 -8.5h0m8.6 10.3h0m-5.7 -3.6h0m6.3 -8.3h0m1.8 6.4h0m-7 11.6h0m-6.7 -37.4h0m1.6 16.8h0m-5.8 11.5h0m13.8 9.4h0m.4 -23.6h0m-12.5 -4h0m13.8 33.3h0m-8.8 -17.1h0m5.5 -10.7h0m-8.1 -9.4h0m2.2 -9.7h0m4.5 40.3h0m-10.2 -22.3h0m13.2 7h0m-.4 20.5h0m-1.3 -37.6h0m5.4 3.8h0m1.1 -13.1h0m.3 33.4h0m-10.9 -22.3h0m8.9 21.6h0m-2.9 -37.3h0m-2.9 39.8h0m-2.5 -15.3h0m7.4 29.2h0m4.6 -49.5h0m-11.4 15.5h0m4.4 -12h0m-1.6 31.2h0m-.4 -29.9h0m5.2 10.8h0m1.1 2.2h0m-13.5 -5.1h0m13.9 -10.6h0m-13.6 34.5h0m2.6 -1.6h0m3.5 -15.6h0m2.4 21.8h0m2.3 -32.5h0m-2.9 17.5h0m-1 -10.6h0m7.1 -10.4h0m-2.9 15.9h0m-10.3 18.2h0m3.4 -21h0m-5.2 16.8h0m-1.9 -36h0m16.4 11.2h0m-8.9 1.5h0m5.2 24.4h0m-7.5 -36.1h0m6.9 1.3h0m-7.1 30.5h0m6.6 -14.1h0m-11.5 -8.9h0m1.5 29.2h0m2.3 -36.8h0m.9 22.7h0m5.8 6.1h0m4.7 .1h0m-15.4 -22.5h0m12.3 -8.1h0m2.7 -3.6h0m3.4 6.4h0m-18.5 -5.9h0m17.4 3h0m-13.7 8h0m7.6 29.8h0m-4.6 6.3h0m-5.9 -35.9h0m14.8 39.2h0m-13.6 -42.7h0m12.3 2.5h0m-12.3 10.2h0m-2.3 -10.4h0m6.4 19h0m-3.8 3.3h0m4.7 7.8h0m6.1 10.5h0m-9.7 -16.6h0m-1.6 -29.4h0m13.3 44.8h0m-4.4 -29.7h0m-8.4 14.1h0m13.2 -11.2h0m-8.1 7.6h0m8.7 -7.7h0m-15.5 .3h0m.6 29h0m10.8 -38.8h0m-10.5 6.3h0m3.7 11.6h0m-3.5 -21.6h0m10.1 43.5h0m-7.7 -12.3h0m-1.7 .7h0m16.6 -35.3h0m-16 15.1h0m4.9 29.2h0m7.7 -50.3h0m-13.2 4.9h0m0 27.4h0m6.1 4.5h0m1.7 -20.6h0m5 -16.3h0m-9.3 .5h0m10.9 25.6h0m-9.9 9.2h0m-3.5 -32.7h0m-.2 22.2h0m10.6 5.9h0m-10.8 -24.9h0m3.6 42h0m5.3 -28.9h0m7.2 -14.4h0m-5.1 33.3h0m1.2 -20.7h0m-14.2 15.5h0m8.2 18.4h0m-7.3 -22.8h0m4.8 -22.6h0m9.5 -4.7h0m2.1 -1.3h0m-5.4 35.1h0m-7.9 -5.3h0m15.4 -20.3h0m-15.9 .4h0m-1.7 41.1h0m6.2 -47.4h0m6.2 35.7h0m-.2 .1h0m-4.6 -36.6h0m-2.6 41.4h0m-3.3 -10.6h0m3.4 -33.3h0m9 41.2h0m-4.6 -5.2h0m1.3 -28.9h0m2.4 24.8h0m-6.6 5.5h0m-2.3 -4.1h0m2 -30.1h0m-8.5 46.1h0m20.6 -43.6h0m-18.4 20.6h0m5.3 -16.5h0m1.3 28.2h0m-8.7 5.6h0m6.5 -11h0m.2 -16.6h0m3.2 -8.4h0m2.2 18.4h0m-1 -17.3h0m3.4 36.4h0m-1 -45.1h0m-16 39.2h0m14.1 -29h0m-2.7 16.7h0m4.6 25.2h0m-3.8 -50h0m6.2 27.4h0m-7.1 13.9h0m2.2 -20.3h0m-4.4 3.3h0" stroke="#bdbdbd" stroke-width="1.56" stroke-linecap="round" fill="none"/><path d="M501.3 187.5h0m-6.3 1.3h0m1.5 .5h0m-.3 4.7h0m8.6 -2.2h0m-7.4 -1.6h0m-2.8 4.9h0m7.3 -8.8h0m-3.3 8.8h0m-7.5 -8.3h0m3.6 6.2h0m5.1 -2.9h0m4.3 1.2h0m-.9 -4.5h0m-3.5 7.8h0m4.2 -5.8h0m-6 2.2h0m3 -1.3h0m3.6 -2.8h0m-5 .1h0m-8.3 7.1h0m1.8 -2.5h0m1.5 -2.4h0m2.4 -2.3h0" stroke="#ad2742" stroke-width="1.56" stroke-linecap="round" fill="none"/><path d="M473.1 193.7h0m3.9 -13.9h0m5.9 8.6h0m-8.7 4.7h0m-.3 -20.5h0m9.2 18.1h0m.5 2h0m2.4 -16.2h0m2.9 13.9h0m.6 3.6h0m-5.4 -21.8h0m5.5 2.7h0m5.6 -16h0m-11.1 21h0m-2.6 5.9h0m-1.1 -2.7h0m-7.3 -.2h0m24.1 -17.9h0m-13.6 6h0m-9.7 20.2h0m12.9 -13.4h0m-2.2 9h0m-10.5 -1.7h0m9.5 -4.8h0m6.6 -22h0m-3 18.8h0m.8 -3.3h0m-7.7 12.3h0m2.5 -8.6h0m12.4 -6.1h0m-5.2 -7.4h0m1.6 16.3h0m6.5 -11.5h0m-15.6 15.7h0m-7.9 -11.7h0m18.8 -6h0m-4.7 -4.3h0m-8.5 18.4h0m.5 -11h0m-4.9 7.9h0m-2.7 -6.1h0m7.7 4h0m6.4 13.6h0m.2 4.8h0m-12.7 -14.7h0m12.4 -6.9h0m-13.4 3h0m6.4 19.2h0m3 -13.2h0m1.2 5h0m11.2 -27.2h0m-17.8 12h0m10.4 7.8h0m-11.1 16.1h0m6.7 -25.7h0m-3 2h0m-3 2.8h0m8.5 13.4h0m-10.7 -9.8h0m.9 5.8h0m2 -15.5h0m12.1 -4.6h0m-4.4 20.8h0m-7.3 -11.3h0m9.8 -11.9h0m-12.3 11.7h0m-.1 19.8h0m14.2 -.5h0m-3.2 -13.2h0m-4.3 -8h0m-5.4 -3.4h0m2.3 2.7h0m9.2 -3.3h0m-5.1 1.8h0m9.2 4.4h0m-3.3 16.2h0m7.6 -19.8h0m-8.9 -.6h0m-4.2 25.6h0m.7 -9.5h0m-4.5 -.9h0m10.3 -13.4h0m-15.2 22.2h0m10.7 -6h0m-8.2 -13.9h0m-4.5 -1h0m11.7 .5h0m1.7 18.6h0m-4.3 -1.2h0m.8 -14.7h0m2 5.6h0m3.3 -1.3h0m-13.9 -11.1h0m13.9 6.8h0m-9.1 5.5h0m9.3 -6.5h0m4.6 -.7h0m-19.9 17.2h0m8.5 -11.2h0m-4.8 8.9h0m10.8 -11.3h0m2 17.8h0m-14.7 -7h0m11.1 -9.3h0m3.5 -16.7h0m-9 14h0m5.7 -7.3h0m-13.5 5.4h0m7.3 .6h0m8.5 10.3h0m-.4 -22.3h0m-4.9 28.8h0m8.7 -30.6h0m-9.4 13.5h0m8.3 -1.6h0m-10.9 .9h0m15.5 -6.3h0m-20.8 16.3h0m.4 .8h0m17 -23.2h0m-10.3 10.6h0m.8 15h0m-7.3 -8.7h0m10.2 9.9h0m-7.3 -13h0m-2.1 14.1h0m1.5 -6h0m10.4 4.4h0m-.6 -.6h0m-11.4 -12h0m13.2 8.5h0m-4.1 -.1h0m2.7 11.8h0m-13.4 -24.9h0m11.1 -1.7h0m.9 2h0m5.9 -9.6h0m-18.2 31.9h0m2.7 -5h0m9.6 -13.1h0m1.4 -1.4h0m3.3 5h0m-3.9 16.3h0m-10.1 -20.3h0m-4.3 12.6h0m10.7 -12.6h0m-3.1 4.7h0m-.5 6.4h0m8 5.6h0m-12.9 -22.5h0m6.8 .6h0m-2.4 -1.5h0m2 2.3h0m8.7 -.8h0m-7.2 .5h0m-5.2 4.6h0m9.8 13h0m1.9 6.8h0m-11 -7.2h0m5 -16.4h0m-1.9 5.6h0m6.5 -10h0m-9.7 17.7h0m6.6 -5.9h0m-10 -4.4h0m7.6 21h0m14.9 -34.5h0m-10.2 28.2h0m-10.3 -10.6h0m-2.2 -5.2h0" stroke="#ff7f0e" stroke-width="1.56" stroke-linecap="round" fill="none"/><rect x="391.2" y="139.3" width="119.7" height="59.1" fill="none" stroke="#222" stroke-width="1"/><text x="67.7" y="215.7" text-anchor="middle">CytoCommunity</text><path d="M62.4 253.9h0m1.5 -2.8h0m-.2 -3.6h0m6 10.7h0m8.5 -18.7h0m-2.6 -8.7h0m-2.9 32.6h0m6.9 -35.3h0m-18.5 40.7h0m4.5 -32.7h0m1.7 20.7h0m9.5 -16h0m-9.5 28h0m-.3 -28.1h0m-4.3 -15.6h0m-.1 32.3h0m10.6 7.7h0m-3.7 -2.4h0m1.1 -23.3h0m3.6 1.1h0m1.5 -5.9h0m-7.7 21.7h0m-9.8 18.9h0m2.2 -7.6h0m4.7 -26.8h0m-4.4 3.2h0m10.2 -11.7h0m-2.6 32.2h0m1 -10.2h0m0 -7.4h0m-.3 -22.3h0m-.9 52h0m-3.9 -52.3h0m4.3 51.5h0m-3.9 -42.9h0m15.2 -6h0m-20.8 25.2h0m15.3 -13.1h0m-9.1 37.1h0m5 -1.9h0m-6 2.2h0m14.8 -46.5h0m-16.2 4.8h0m7.9 -4.3h0m6 15.9h0m-5.7 31.1h0m3.8 -21.8h0m-15.4 1.7h0m12.8 -29.6h0m-12.8 9.9h0m1.5 29.3h0m13.6 -33.6h0m-5.1 19.7h0m.6 11.9h0m-3 -12.2h0m5.9 15h0m-7.2 -32.1h0m5 15.9h0m.7 -19.6h0m-7.2 43.2h0m-5.7 -2h0m12 -40.9h0m4.2 16.2h0m-2.7 -8.6h0m-12.4 11.5h0m9.1 14.9h0m-1 -34.8h0m-4.1 -1h0m10.7 23.5h0m4.5 -23.5h0m-5.9 -2.5h0m-8.8 3.5h0m11.2 1.7h0m-10.9 12.8h0m1.7 31.4h0m4.3 -30.3h0m-2.5 -1.9h0m-.4 28.9h0m-2.8 -39.1h0m12.8 1.2h0m-16.4 16.1h0m2.3 11.9h0m10.4 -5.7h0m-5.5 10.8h0m1.6 5.7h0m-3.4 -39.2h0m1 -10h0m-.3 21.4h0m10.2 -18.6h0m-10.9 36.2h0m13.3 -38.8h0m-6.7 6.7h0m-11.2 44.6h0m-2.2 -32.3h0m5.2 -12.2h0m2.3 22.6h0m-2.9 1.5h0m4.1 -16.4h0m4.5 16.9h0m-1.5 -20.8h0m-9.1 28.8h0m-3.5 -7.6h0m13.5 -8h0m2.6 -18.2h0m-9 14.6h0m-4.5 22.5h0m6.5 -23.1h0m3.8 29.5h0m-3.5 -20.7h0m1.1 -28.8h0m-7.5 30.2h0m4.9 -19.3h0m4.9 33.9h0m2.1 -4.2h0m-9.7 -35.4h0m-4.6 37.2h0m3.5 -16.9h0m13.4 -11.9h0m-13.6 34.9h0m-1.5 1.1h0m11.5 -46h0m-8.9 11.7h0m.4 -16.2h0m4.3 5.9h0m-6.1 23.3h0m5.4 18.6h0m2.9 -19.2h0m-13.3 22.5h0m10 -24.2h0m-9.1 1.1h0m18.8 -18h0m-7.3 10.1h0m-4.3 31.8h0m-2.7 -26.6h0m12.3 3.5h0m4.6 -23.1h0m-13.7 8.1h0m5.4 20.9h0m3.5 -16.8h0m-4.9 -14.6h0m-2.5 6.5h0m-8.9 15.5h0m7.6 3.8h0m8.2 -22.7h0m-7.9 24.5h0m4 -13.7h0m-7.8 -5.4h0m2.6 29.5h0m4.8 -28.4h0m-11.8 39.5h0m4.3 -33.2h0m8 9h0m-2.5 -20.4h0m7.1 7.2h0m-11.4 -6h0m8.2 14.9h0m-3.4 28.2h0m8.2 -44.5h0m-15.4 -3.9h0m-1.8 25.3h0m6.9 -3.9h0m.3 -5.3h0m3.3 5.6h0m6.4 -13.3h0m-5.9 38.1h0m-5.8 .5h0m-4.5 -14.7h0m13.4 -2.4h0m-.4 -19.8h0m-13.1 -8.9h0m.6 1.1h0m5.4 24.8h0m-4.2 -12h0m.5 -2.7h0m.2 8.5h0m0 -5.2h0m4.4 -11.3h0m-2.3 7.9h0m12 -11.7h0m-2.4 14h0m-10.1 8.4h0m-.1 .9h0m-1.5 -7.1h0m1 27.1h0m3.1 -27.8h0m.9 6.2h0m7.1 -14h0m-3.3 7.4h0m3.6 7.1h0m-10.3 -25.2h0m7.4 48.4h0m-13.2 -33.5h0m12.1 -10.2h0m2.5 24.5h0m-7.7 -9.9h0m-.1 -14.3h0m13.4 -4.4h0m-14.8 45.7h0m0 -32.2h0m-1.9 16h0m12.2 -17.2h0m-11.2 -1.2h0m7.8 17.4h0m-8.4 -6.1h0m-.2 11.7h0m-1.4 8.3h0m7.4 -42.4h0m6.1 12.9h0m-4.3 -14.3h0m.8 29.8h0m3.3 -23.4h0m-8.1 31.8h0m4.2 -37.7h0m-10.2 30.2h0m14.5 -28h0m-11.5 7h0m-.3 -10.3h0m.3 47.5h0m-4.3 -5.1h0m11.1 -28.8h0m8.8 -7.1h0m-10.3 7.2h0m1.7 35.3h0m.9 -46.7h0m-6.3 3.1h0m1.6 -4.6h0m8.5 2h0m-14 -.6h0m14.1 19h0m-12.2 -18.6h0m10.4 5.2h0m-13.4 36.9h0m17.5 -31.5h0m-3.5 8.1h0m-1.3 5.8h0m.7 8.6h0m-.1 -23.8h0m-12.4 35h0m1.6 -38.1h0m7.6 -.3h0m2.8 32.1h0m0 -5.5h0m-13.3 16.3h0m2.3 -17.8h0m2.5 -4.6h0m1.8 -14.3h0m-1.6 27.3h0m-4 -6h0m.2 -15.2h0m9.3 7.9h0m-1.5 -19.9h0m5.7 5.7h0m-14.1 28.6h0m2.1 -2.5h0m8 -22.2h0m-1.4 -11.2h0m-9.6 34.2h0m10.9 -10.1h0m-12.4 13.2h0m2 -11.2h0m-1.3 -4.1h0m6.4 21.2h0m8.3 -18.9h0m-9.2 -21.2h0m6.3 28.6h0m-12.3 -7.8h0m1.1 -5.8h0m11.1 14.7h0m-10.1 -11.7h0m12.3 21.6h0m-6 -27.6h0m2.1 1.7h0m-5.7 25.1h0m1 -9.7h0m11 -35.6h0m-6.9 48h0m-6.3 -18.3h0m-.8 -22.6h0m11.4 -7.9h0m-2.1 12.6h0m.9 2h0m-10.9 -2.8h0m2.9 -14.8h0m8.7 10.7h0m1.7 1.1h0m-5.9 30.6h0m5.5 -14.4h0m-4 24h0m2.3 -9.1h0m-8.1 -1.2h0m11 -30.4h0m-3.3 -7h0m-8.8 24.2h0m2.3 2h0m-6.8 7.7h0m4.9 -25.3h0m-1.6 -1.8h0m11.5 14.3h0m-.5 .1h0m-6.6 -22.9h0m-5.7 27.8h0m-2.2 22.2h0m15.1 -44h0m-9 41.9h0" stroke="#33e68f" stroke-width="1.56" stroke-linecap="round" fill="none"/><path d="M33.1 251.3h0m.6 -14.5h0m10.8 -9.3h0m-8.7 45.2h0m-3.5 -18.9h0m1.4 9.3h0m9.9 10h0m-2.7 -48.7h0m-9.5 23.6h0m4.9 -2h0m2.6 -14.7h0m-6.5 -7h0m9.9 24.9h0m-4.6 11.5h0m2.6 -26.3h0m-2 29.2h0m-5.6 -15.4h0m8.4 24.6h0m-.1 -27.4h0m-6.7 -1.4h0m6 28.5h0m-.6 -36.9h0m-4.5 11h0m-2.7 -19.5h0m6.1 35.2h0m-1.2 -28.6h0m-5.7 30.8h0m9.7 7h0m-11.3 -39.3h0m11.2 38.3h0m-6.5 -7.4h0m2.9 -30.9h0m1.9 22.6h0m4.9 17.2h0m-2.8 -17.7h0m-6.7 3.5h0m3.6 1.7h0m1.7 7.5h0m3.8 -2.6h0m-.7 -11.2h0m-4.8 -5.8h0m-6 -15.5h0m9.1 34.8h0m-10.1 -29.2h0m4.9 38.5h0m1.5 -38.6h0m1.3 11.2h0m-2.9 -6.2h0m-.1 6.5h0m6.6 -24.1h0m-1.3 20.1h0m-6.3 -6.1h0m2.3 .7h0m-1.1 -13.6h0m2.1 31.9h0m4.9 -25.5h0m-4.4 -3.5h0m2.4 30.9h0m-3.6 .6h0m1.2 -10h0m1.3 12h0m3.8 .8h0m-.3 -18.3h0m-1 -8.8h0m-10.8 -10.8h0m5.6 19.4h0m-5.4 -15.1h0m5.7 26.6h0m2.3 11.1h0m3.2 -8.8h0m-4.2 8.4h0m4.1 -10.6h0m-10.8 -25.6h0m1.7 46.7h0m9.9 -7.6h0m-3.8 -23.3h0m-4.6 -2.7h0m-4.7 15h0m10.3 -28.9h0m-4.2 -.7h0m5.2 37.5h0m-11.6 -24h0m6 -8.1h0m6.5 16.6h0m-4.9 -3h0m-5.3 4h0m-1 -20.3h0m6.9 27.2h0m-5.9 -22.8h0m.9 -5.1h0m8.8 43.2h0m-9.7 -31.9h0m-2.4 -9.3h0m5.3 -8.3h0m-4.4 37.9h0m12.4 -33.7h0m-5.5 39.3h0m2.2 4h0m2 -38.5h0m-5.6 36.5h0m4 -4h0m-3.5 -1.1h0m3.7 -8.4h0m1.6 -2.5h0m-2.7 -21h0m1.6 16.8h0m-5.8 11.5h0m-4.4 -18.7h0m6.1 .5h0m5 16.2h0m-2.6 -20.1h0m2.2 -9.7h0m-5.7 18h0m-3.6 10.1h0m.3 -21.4h0m.5 -6.7h0m.2 12h0m10 -2.3h0m-13.4 -13.8h0m2.3 37.4h0m2.6 -36.9h0m.2 32.2h0m4.7 -17.7h0m.3 23.9h0m-5.8 -25.2h0m8.4 23.6h0m-9.5 -32.8h0m7.7 37.1h0m-9.9 9.8h0m8.1 -14h0m-1.9 -36h0m5.2 1h0m-.2 31.8h0m-4.9 -23h0m1.5 29.2h0m2.3 -36.8h0m.9 22.7h0m-4.9 -16.3h0m-.1 -11.2h0m3.7 11h0m3 36.1h0m-13.6 -45.2h0m7.7 9.3h0m1.2 -3.5h0m0 12.7h0m-2.3 -10.4h0m6.4 19h0m-8 -29.5h0m-.2 10.8h0m-5.8 -10.2h0m10.2 32.2h0m4.7 7.8h0m-3.6 -6.1h0m-1.6 -29.4h0m.5 29.2h0m-4.8 -24.1h0m-4 17.1h0m-.3 -8.4h0m7.4 4.4h0m.6 29h0m.3 -32.5h0m3.7 11.6h0m-3.5 -21.6h0m2.4 31.2h0m-1.7 .7h0m.6 -20.2h0m-7.5 -18.1h0m6.9 1.9h0m0 27.4h0m3.5 -31.9h0m-11.1 26.1h0m12.1 8.7h0m-3.5 -32.7h0m-.2 22.2h0m-.2 -19h0m3.6 42h0m-5.6 -15.2h0m.9 -4.4h0m-7.2 -12.4h0m12 -10.2h0m-1.7 23.8h0m-10 21.3h0m9.5 -41.2h0m-1.7 41.1h0m-4.9 -10.8h0m-.3 -8.4h0m6.9 1.8h0m-9.9 -28.7h0m-.6 2.6h0m1.7 1.9h0m4.9 40.2h0m2.2 -23h0m-2.1 17.3h0m-6.5 -30.1h0m4 25.7h0m.3 -29.3h0m-3.4 34.5h0m-.7 .8h0" stroke="#2bb5ec" stroke-width="1.56" stroke-linecap="round" fill="none"/><path d="M99.8 228.8h0m18.1 40.5h0m2.4 -24.2h0m-24.4 -15h0m11.9 3.5h0m4.6 34.1h0m-22.3 -30.1h0m1.7 -10.1h0m19.8 43.1h0m-16.5 -45.2h0m-7.9 9.3h0m25.9 36.4h0m7.4 -23h0m-20.9 -23.3h0m-11.7 9.7h0m3.2 -1.1h0m24 29.2h0m-14.6 -29.5h0m-1.3 -1.8h0m17.7 -2.9h0m2.2 23.1h0m-30.5 -24.2h0m9.7 -2.3h0m-5.3 5.4h0m18.8 10.3h0m-1.7 -9.7h0m-17.6 6.7h0m20.3 38.1h0m-24.8 -41.9h0m33.4 39.7h0m-29.3 -46h0m24.3 32h0m-23.1 -23h0m2.1 -2.6h0m18.4 12.8h0m-25.8 -7h0m.9 -.8h0m22 -1.9h0m-1.5 1.8h0m12.1 5.1h0m-2.3 -17.1h0m-2.5 40h0m4.7 -7.8h0m-18.4 -30.9h0m-11.6 .8h0m12 6h0m18.2 31.8h0m-31.1 -33.4h0m21.3 19.8h0m-7.4 -18.8h0m-3.4 -9.8h0m.1 11.1h0m-1.4 -5.3h0m17.4 -6.6h0m-6.1 43.8h0m3 4.4h0m-4.7 -45.6h0m-1.1 35.7h0m-17.5 -27.8h0m23.7 25.3h0m-3.2 17.3h0m3.5 -26.3h0m-16.4 -18h0m1.3 4h0m10.4 12h0m-2.6 -13.8h0m-16.2 3.4h0m21.4 -12.4h0m7.3 6h0m-1.4 36.3h0m-17.8 -37.6h0m-14.5 5.7h0m29 40.7h0m-24.2 -46.8h0m21.1 11h0m6.3 -5.5h0m-28.2 -2.3h0m31.5 30.1h0m-13.8 -32.8h0m-7.7 1.3h0m7.5 36.7h0m1.2 -5.7h0m7.1 -6.3h0m-4.7 18.2h0m-17.1 -37.4h0m22.2 34.5h0m-10.3 -42.5h0m12.4 16.6h0m-27.5 -13.8h0m16.1 13.2h0m-19.7 -17h0m33.3 44.7h0m-31.4 -36.8h0m6.1 -7h0m10.3 -3.7h0m-4.5 3.4h0m-9.6 10.4h0m.9 -1.4h0m5.3 -.3h0m20 -12.6h0m2 43.5h0m-22.5 -30.7h0m-.8 -1h0m19.8 39.5h0m-6.6 -21.4h0m4.3 -3.6h0m6.5 19.2h0m.3 -13.3h0m-28.3 -30.4h0m22 45.9h0m-7.1 -20.2h0m-12.9 -15.4h0m27.7 14.9h0m-25.4 -25.3h0m20.7 44.7h0m3.2 -41.3h0m-.8 35.8h0m-9.1 -6.6h0m10.2 -23.6h0m-29.4 -9.5h0m15.8 .8h0m-3 .7h0m-13.2 5.9h0m27.8 3h0m-5.6 23.3h0m-21.1 -32h0m11 3.7h0m6.9 23.7h0m-13.4 -25.6h0m9.1 4.6h0m15.6 23.7h0m-30.2 -21.8h0m-3.3 -4.4h0m22.5 32.1h0m-23.6 -28.7h0m13.1 -9.3h0m7.7 11.1h0m12 19.2h0m-10.6 -13.6h0m-1.1 11.9h0m-6.6 -26h0m-15.2 3.7h0m17.1 -3.6h0m6.4 -1.2h0m11.4 41.2h0m-5.5 -33.7h0m-3 14.2h0m3.5 19.6h0m-15 -38.5h0m8.1 12.8h0m.5 -19h0m-16.7 2.9h0m28.6 13.6h0m-16.6 -14.6h0m14.3 9.1h0m2.3 9.9h0m-33 -16h0m11.2 -2h0m20.7 28.4h0m-11.1 -12.6h0m-8 -4.9h0m-.2 -2.5h0m6.6 40.5h0m1.8 -2.5h0m7.7 -22.4h0m-22.6 -12.2h0m13.5 21.4h0m-16.4 -24.3h0m-3.5 -.6h0m3.4 -1.6h0m-.8 -.8h0m17.3 -3h0m-.3 -3.6h0m-.8 11.7h0m9.9 25.7h0m4.1 -39.1h0m-18.5 14h0m-14.4 -2.6h0m25.7 24.8h0m-16.3 -36.7h0m-3.8 8h0m-8.3 -5.9h0m11.4 10.2h0m11.7 -3h0m-21.3 -7.1h0m18.2 10.6h0m-17.8 -3.5h0m29.9 14.5h0m-1.6 -19.9h0m-29.2 .7h0m.8 .7h0m31.4 15.2h0m-23.4 -19.5h0m11.6 25.9h0m-12.8 -17.8h0m2 5h0m14.7 32.8h0m-15 -38.2h0m24.9 33.6h0m-6 -9.2h0m-2.1 -21.5h0m-6.3 -.5h0m15.6 -7.6h0m-29.8 11.2h0m16.2 26.6h0m8.7 -33.6h0m-2.8 10h0m-4.3 -10.9h0m-1.6 4.2h0m13.7 32.6h0m-1.5 -11h0m-7.3 12h0m-7.2 -35.5h0m-8.8 6.4h0m-2.4 -11.6h0m-4.9 7.5h0m19.5 -1.3h0" stroke="#ad2742" stroke-width="1.56" stroke-linecap="round" fill="none"/><path d="M22.8 267.3h0m-8.3 -15.1h0m8.2 2.9h0m-5.6 20.4h0m-2.5 -37.3h0m4.9 -5h0m-3.2 37.5h0m-.4 -3.4h0m10.7 -21.9h0m-2.1 -19.6h0m-6.7 48h0m3.1 -1.3h0m-3.7 -45.5h0m6.3 43.8h0m2.2 -8.9h0m2.9 2h0m-3.9 -30.2h0m-10.7 15.5h0m14.3 -20.4h0m-13.4 12.8h0m12.8 30.8h0m1 3h0m-8.2 -44.9h0m-4.3 41.6h0m5.3 -36.3h0m-3.7 20.2h0m1.7 -10.2h0m9.2 2.4h0m-.4 -3.3h0m-7.5 16h0m8.9 13.2h0m-14.6 -33h0m6.8 30.1h0m7.5 -15.4h0m-1.7 6h0m-12.3 -17h0m4.3 .7h0m-6.8 7.5h0m13.7 -25.8h0m-2.6 34.5h0m2 -20.2h0m2.9 -8.3h0m-2.9 8h0m-6.1 30.6h0m6 -44h0m-1.2 49.1h0m4.4 -19h0m-5.3 -32.2h0m-3.9 20.6h0m2.6 -3h0m-2.4 5.3h0m4.9 17.6h0m2.1 -37.7h0m2.7 47.4h0m-.1 -8.1h0m-13.7 -38.1h0m1.9 16.4h0m.4 22.6h0m.3 -39.9h0m.4 36h0m6.8 -23.8h0m.6 29.7h0m-10.1 -23.7h0m8.1 16.7h0m-4.5 4.4h0m-4.8 -15.4h0m8.9 1.5h0m-4.4 5.4h0m-5.3 -9h0m5.7 22.3h0m1.8 -37.2h0m-8.8 14.8h0m6.9 9.1h0m.6 -33h0m-2.6 35.4h0m.9 -12.8h0m-3.7 12h0m.2 -21.3h0m-1 -8.2h0m9.6 26.3h0m4.3 -23.4h0m-11.3 -4.8h0m11.7 15.7h0m-1.3 20.2h0m-14.3 -24.3h0m10.6 -15.7h0m-7.5 6.8h0m-2.1 16.9h0m15.3 -17.6h0m-4.5 -6h0m1 3.1h0m-9.2 17.5h0m6.9 -17.7h0m6.5 48.4h0m-17 -23.9h0m11.5 -22h0m-6.7 13.4h0m-1.4 -16.6h0m-1.9 36.9h0m1.6 -15.3h0m6.7 -14.6h0m-9.6 10.2h0m.9 -3.9h0m5.9 1.2h0m10.1 11.8h0m-7.4 .7h0m1 19.8h0m-7.8 -13.4h0m9.7 1.1h0m-9.6 -12.2h0m2.3 11.2h0m1.9 -21.9h0m7.6 -8.7h0m.1 9.2h0m-6.4 6.5h0m3.8 -20.7h0m3.1 38.5h0m-6.2 -28.4h0m.6 24.1h0m8.2 11.4h0m-16 -38.8h0m9.9 40.8h0m-2.8 -20.6h0m4.8 -1.8h0m-2.6 -.9h0m1.5 -14.5h0m4.1 8.8h0m-16.3 19.8h0m9.6 -1.4h0m5 -12.8h0m-10.8 -10.5h0m-3 8.4h0m15.5 1.7h0m-7.1 15.9h0m-4.6 -1h0m5.9 8.8h0m-3 -26.9h0m7.8 29.2h0m-15.4 -31.3h0m9.4 12.5h0m-.1 -16.2h0m5.1 6.6h0m-1.2 -9.1h0m-1 18.9h0m-8.4 -20.5h0m-1.5 5.3h0m-2.3 .7h0m9.6 20h0m-.3 -16.9h0m1.6 26.5h0" stroke="#1f6eb0" stroke-width="1.56" stroke-linecap="round" fill="none"/><path d="M84.5 256.9h0m1 -8.5h0m-3.7 17.2h0m1.6 -35.6h0m-.2 -.8h0m-4.4 14.6h0m.2 2.6h0m-4.8 23.2h0m8.4 -19.9h0m-1.2 -5.4h0m.4 3.5h0m2.8 19.4h0m-4.4 -2.8h0m4 -29.6h0m4.2 39.8h0m-5.5 -22.7h0m-2.3 21.6h0m1.4 -15.4h0m-.2 -12.6h0m1.1 11.8h0m2.3 -2.9h0m.9 -6.1h0m.9 5.1h0m-5.8 11.7h0m-4.3 7.6h0m5.8 4.5h0m-2.3 -37.8h0m3.8 -9.9h0m-4.3 2.8h0m1.7 2.1h0m-5.9 34h0m9.3 -28.1h0m-1.8 -14.5h0m5.2 38.7h0m-13.5 7.9h0m10.9 -2h0m-10.8 1.9h0m14.1 1.9h0m-6.1 -45.6h0m2 37.3h0m-4.1 -13.9h0m7.7 16.4h0m-4.5 -41.5h0m-2.2 27.3h0m4 20.9h0m-4.9 -25h0m3.9 7.2h0m0 10.1h0m-2.1 -24.6h0m4.3 31.9h0m-3.7 -39.5h0m2.4 11.1h0m-1.8 27.9h0m-3.5 -1.9h0m5.6 -25.4h0m-3.9 2.1h0m-3 26.9h0m4.9 -14.4h0m.7 -26h0m-6.9 39.9h0m.5 -31.8h0m1.2 11.9h0m1.7 -2h0m1.6 -28.5h0m3 28.2h0m-11.6 20.2h0m12.5 .3h0m-12.6 2.5h0m2.5 -4.1h0m2.9 -19.1h0m5.3 -25.4h0m3 42.2h0m-7.9 -13.1h0m-3.6 7.8h0m4.3 -20.9h0m.5 -2.8h0m-5.4 16.9h0m7.3 18.2h0m4.8 -9.3h0m-12.7 7.9h0m12.9 -.1h0m-4.3 -12.7h0m-8.1 2.1h0m8.4 -3.4h0m2.3 3.2h0m-.2 -16.4h0m-8.6 14.9h0m1.7 -13.6h0m1.5 -16.7h0m4.3 29.2h0m2.7 0h0m-4.9 -31.3h0m-5.2 25.4h0m8.6 2.4h0m-8.5 15.5h0m5.2 -40.2h0m-3.8 42.5h0m-3.1 -3.7h0m5.7 -32.8h0m-2.4 -4.7h0m7.4 41.7h0m-3.6 -50.7h0m3.2 37.8h0m.7 13.3h0m-8.3 -25h0m8.8 25.8h0m-8.8 -12.2h0m5 -22.1h0m-1 29h0m.1 -4.8h0m.7 -17.7h0m-4.9 26.1h0m-.6 -7.5h0m5.3 -11.4h0m3.5 3.1h0m.5 -6.3h0m1.7 19.7h0m-3 -16.5h0m-3.3 13.8h0m-1.5 6.6h0m-3.2 -6.4h0m1.3 -29.4h0m1.6 34.2h0m7.2 -6.6h0m-7.8 -9.5h0m3 7.7h0m4.2 .4h0m-7.1 -40h0m1.7 -.9h0m-3.6 31.1h0m1.4 -17.7h0m-3 36.5h0m3.9 -31.8h0m-.5 21.5h0m-1.9 -24.7h0m0 -2.9h0m.3 0h0m-1.2 34.4h0m-.5 -8.6h0m6.5 -34.8h0m-2.6 18.4h0m-2.7 -.8h0m4.3 7.2h0m-3.2 -7.3h0m4.9 -6.2h0m2.4 27.5h0m-9.6 -6h0m4.6 7.6h0m.5 -38h0m-3.4 17.7h0m4.4 -1.8h0m-3.4 -1.8h0m-.1 17.4h0m.6 -13.1h0m0 18.3h0m.7 -10.4h0m.9 -21.9h0m2.1 32.4h0m-6.7 5.9h0m-.3 -14.4h0m2.4 -22.3h0m4.4 -12.6h0m-5.7 30.1h0m4.9 -23.7h0m-3.9 5.1h0m9.9 33.9h0m-10.4 -13.6h0m-.2 15.7h0m1.6 -21.7h0m1.5 12.6h0m6.5 4.1h0m-2.8 -41.1h0m-8.2 36.2h0m6.6 12.3h0m-3.5 -2.1h0m2.4 -36.9h0" stroke="#f0c93c" stroke-width="1.56" stroke-linecap="round" fill="none"/><path d="M90.4 240.7h0m10.5 -.6h0m-12.3 15.1h0m1.1 20.3h0m3.9 -13.9h0m5.9 8.6h0m-8.7 4.7h0m-.3 -20.5h0m9.2 18.1h0m.5 2h0m2.4 -16.2h0m2.9 13.9h0m.6 3.6h0m-5.4 -21.8h0m5.5 2.7h0m-2.1 -10.3h0m-7.4 -5.1h0m4 20.4h0m-2.6 5.9h0m-1.1 -2.7h0m-7.3 -.2h0m10.5 -11.9h0m-9.7 20.2h0m12.9 -13.4h0m-2.2 9h0m-10.5 -1.7h0m9.5 -4.8h0m6.6 -22h0m-3 18.8h0m.8 -3.3h0m-7.7 12.3h0m2.5 -8.6h0m-5.7 -15h0m12.9 1.5h0m-11.3 -5.7h0m-6.3 12h0m15.7 -9.3h0m-12.3 -2.2h0m6.7 25.7h0m-7.9 -11.7h0m-2.2 15.6h0m16.3 -25.9h0m-8.5 18.4h0m.5 -11h0m-4.9 7.9h0m-2.7 -6.1h0m7.7 4h0m6.4 13.6h0m.2 4.8h0m-12.7 -14.7h0m8.9 -16.3h0m3.5 9.4h0m-13.4 3h0m6.4 19.2h0m-7.8 -23.4h0m6.6 -12.7h0m4.2 22.9h0m1.2 5h0m-6.6 -15.2h0m10.4 7.8h0m-11.1 16.1h0m6.7 -25.7h0m-3 2h0m-3.7 -10.2h0m.7 13h0m-5.3 3.8h0m13.8 9.6h0m-10.7 -9.8h0m.9 5.8h0m2 -15.5h0m9 -8.6h0m-1.3 24.8h0m-7.3 -11.3h0m-1.8 -8.6h0m4.9 1.2h0m-10.1 -2.9h0m16.8 -1.6h0m-12.3 11.7h0m-1.5 -7.7h0m-3 -3.7h0m4.4 31.2h0m14.2 -.5h0m-3.2 -13.2h0m-4.3 -8h0m-.9 -10.9h0m-4.5 7.5h0m2.3 2.7h0m9.2 -3.3h0m-9.1 -3.5h0m4 5.3h0m5.9 20.6h0m-1.3 -20.4h0m-4.2 25.6h0m.7 -9.5h0m.6 -26.8h0m-5.1 25.9h0m-8.1 -14.5h0m8.7 -9.8h0m-5.2 -.8h0m-.3 33.9h0m10.7 -6h0m-8.2 -13.9h0m-4.5 -1h0m11 -7.6h0m2.5 -2.1h0m-1.8 10.2h0m1.7 18.6h0m-4.3 -1.2h0m.8 -14.7h0m2 5.6h0m3.3 -1.3h0m-13.9 -11.1h0m13.9 6.8h0m-9.1 5.5h0m9.3 -6.5h0m-15.3 16.5h0m8.5 -11.2h0m-4.8 8.9h0m10.8 -11.3h0m2 17.8h0m-14.7 -7h0m11.1 -9.3h0m3.5 -16.7h0m-3.5 -1.5h0m-5.5 15.5h0m3.3 -12.8h0m-4.9 -3.1h0m-6.9 21h0m14.2 -12.4h0m-13.5 5.4h0m7.3 .6h0m8.5 10.3h0m-.4 -22.3h0m-4.9 28.8h0m-.7 -17.1h0m-11.3 -1.8h0m8.7 1.1h0m-5.3 10h0m.4 .8h0m1.4 -26.3h0m-6.8 1.8h0m12.1 11.9h0m.8 15h0m-7.3 -8.7h0m10.2 9.9h0m-7.3 -13h0m-2.1 14.1h0m1.5 -6h0m10.4 4.4h0m-.6 -.6h0m-11.4 -12h0m13.2 8.5h0m-4.1 -.1h0m2.7 11.8h0m-13.4 -24.9h0m11.1 -1.7h0m-5.2 -6.9h0m6.1 8.9h0m-12.3 22.3h0m-2.3 -28.5h0m5 23.5h0m9.6 -13.1h0m1.4 -1.4h0m-.6 21.3h0m-10.1 -20.3h0m-4.3 12.6h0m10.7 -12.6h0m-3.1 4.7h0m-.5 6.4h0m8 5.6h0m-12.9 -22.5h0m6.8 .6h0m-2.4 -1.5h0m2 2.3h0m1.5 -.3h0m-5.2 4.6h0m9.8 13h0m1.9 6.8h0m-11 -7.2h0m5 -16.4h0m-1.9 5.6h0m6.5 -10h0m-9.7 17.7h0m-1.4 -22.9h0m-5.2 20.9h0m13.2 -3.9h0m-10 -4.4h0m7.6 21h0m4.9 -29h0m-.2 22.7h0m-10.3 -10.6h0m-2.2 -5.2h0" stroke="#ff7f0e" stroke-width="1.56" stroke-linecap="round" fill="none"/><path d="M56.7 269.3h0m-7.8 -29.6h0m-1.1 37.8h0m7.6 -14.2h0m-4.7 -2h0m3.4 -6.9h0m-6.1 18.3h0m3 -44.5h0m.8 28.9h0m5.5 -22.8h0m-1.8 43.2h0m-2.6 -38.4h0m-7.6 -14.6h0m10.3 47.5h0m-3.4 -33.6h0m1.5 11.1h0m-3.2 14.3h0m2.8 -4.9h0m-4.8 -5.6h0m3.6 9.5h0m-4.4 -17.6h0m5.2 -1.9h0m2.4 -9.1h0m-5.4 41.6h0m9 -44.2h0m-8.6 21.6h0m-3.3 -12.7h0m-.7 8.4h0m6 11.8h0m3.8 -12.1h0m-1.9 13.3h0m1.6 -2.3h0m-6.6 8.6h0m8.2 -40.5h0m-8.2 18.2h0m7.6 15.5h0m-7.9 12.3h0m-.9 -47h0m-1.6 18.3h0m-.8 -3.8h0m6.3 14h0m1.8 4.2h0m-6.8 -33.4h0m12.5 1.9h0m-6.7 14h0m3.3 -5.3h0m-8.9 10h0m10.2 -2.1h0m-2.4 -3.1h0m4.2 -9.5h0m-10.6 5.5h0m2.4 34.3h0m1.7 -17h0m5.3 -8.6h0m-7.1 25.3h0m2.5 -32.3h0m-4.8 -5.8h0m.9 31.3h0m-2.7 2.2h0m6.2 -29.1h0m3.3 -10.8h0m.7 34.8h0m-7.4 1.9h0m1.7 -16.7h0m-1.1 -6.2h0m7.5 -9.1h0m-6.8 30h0m7.1 -30.7h0m-1.8 32.8h0m-4.8 -11.1h0m-6.2 13h0m13.1 -38.9h0m-.8 30h0m-8.5 -6.6h0m-3.3 13.4h0m7.6 -16.7h0m-1.1 .1h0m-4.8 2.9h0m7 -2h0m-9.3 -10.4h0m4.6 24.1h0m0 -19.1h0m-.6 20.4h0m2.9 10h0m3.4 -41.8h0m-.9 8.2h0m-7.9 -5.6h0m.3 31.1h0m-.6 -38.7h0m4.7 27.8h0m-.4 12.5h0m7.8 -20.7h0m-.5 -.4h0m.1 -5.1h0m-1.4 37.1h0m-8.1 -14.4h0m3.1 1.8h0m-5.7 -3.6h0m6.3 -8.3h0m1.8 6.4h0m-7 11.6h0m2.9 .3h0m.4 -23.6h0m1.3 29.3h0m-3.3 -27.8h0m9.9 -4.2h0m-11.3 25.4h0m3 -15.3h0m-.4 20.5h0m-1.3 -37.6h0m6.7 30.4h0m-1.3 -26.6h0m1.1 -13.1h0m.3 33.4h0m-2 -.7h0m-2.9 -37.3h0m-2.9 39.8h0m-2.5 -15.3h0m7.4 29.2h0m4.6 -49.5h0m-11.4 15.5h0m4.4 -12h0m-1.6 31.2h0m-.4 -29.9h0m5.2 10.8h0m1.1 2.2h0m.4 -15.7h0m3.9 21.4h0m-11.4 -4.1h0m2.4 21.8h0m8.9 -17.4h0m-6.6 -15.1h0m-2.9 17.5h0m-1 -10.6h0m7.1 -10.4h0m-2.9 15.9h0m-6.9 -2.8h0m13.1 6.8h0m-3.8 -14.8h0m-8.9 1.5h0m5.2 24.4h0m3.5 10.6h0m-4.1 -45.4h0m-.5 16.4h0m-1 12.3h0m4.7 .1h0m-3.1 -30.6h0m2.7 -3.6h0m3.4 6.4h0m-1.1 -2.9h0m-6.1 37.8h0m9.3 -13.3h0m-5 22.9h0m-1.3 -40.2h0m-1.2 40.4h0m2 -1.2h0m-4.4 -29.7h0m4.8 2.9h0m-8.1 7.6h0m8.7 -7.7h0m-4.1 -9.5h0m-.2 39.8h0m7.2 -46.9h0m-11.1 44.3h0m7.7 -50.3h0m-7.1 36.8h0m1.7 -20.6h0m5 -16.3h0m1.6 26.1h0m-3 4.6h0m-1.9 -11.8h0m7.2 -14.4h0m-5.1 33.3h0m1.2 -20.7h0m-6 33.9h0m7 -50.1h0m1.7 43h0m.4 -44.3h0m-5.4 35.1h0m7.5 -25.6h0m-11.4 -5.9h0m6.2 35.7h0m-.2 .1h0m-4.6 -36.6h0m-2.6 41.4h0m9.9 5.2h0m-9.8 -49.1h0m9 41.2h0m-4.6 -5.2h0m1.3 -28.9h0m2.4 24.8h0m-6.6 5.5h0m-2.3 -4.1h0m2 -30.1h0m12.1 2.5h0m-13.1 4.1h0m1.3 28.2h0m9.3 -1.9h0m-11.5 -3.5h0m.2 -16.6h0m3.2 -8.4h0m2.2 18.4h0m-1 -17.3h0m3.4 36.4h0m-1 -45.1h0m-1.9 10.2h0m-2.7 16.7h0m4.6 25.2h0m-3.8 -50h0m6.2 27.4h0m-7.1 13.9h0m2.2 -20.3h0m-4.4 3.3h0" stroke="#bdbdbd" stroke-width="1.56" stroke-linecap="round" fill="none"/><rect x="7.8" y="221.1" width="119.7" height="59.1" fill="none" stroke="#222" stroke-width="1"/><text x="195.4" y="215.7" text-anchor="middle">GraphST</text><path d="M190.2 253.9h0m1.5 -2.8h0m-.2 -3.6h0m6 10.7h0m-13 11.1h0m-42.1 -31.1h0m40.8 25.1h0m5.7 5.5h0m4.5 -32.7h0m1.7 20.7h0m0 12h0m-.3 -28.1h0m-4.3 -15.6h0m-.1 32.3h0m6.9 5.3h0m1.1 -23.3h0m-2.6 16.9h0m-9.8 18.9h0m2.2 -7.6h0m4.7 -26.8h0m-4.4 3.2h0m10.2 -11.7h0m-2.6 32.2h0m1 -10.2h0m0 -7.4h0m-12 -12.6h0m11.7 -9.7h0m-.9 52h0m-3.9 -52.3h0m-8.7 53.2h0m13 -1.7h0m-3.9 -42.9h0m-5.6 19.2h0m-3.4 19.9h0m9.6 4.1h0m-1 .3h0m-1.4 -41.7h0m7.9 -4.3h0m-53.5 -3.4h0m42.2 30.3h0m12.8 -29.6h0m-12.8 9.9h0m1.5 29.3h0m8.5 -13.9h0m.6 11.9h0m-3 -12.2h0m-8.1 -21.1h0m6.8 4h0m5 15.9h0m-56.7 -2.3h0m57.4 -17.3h0m-7.2 43.2h0m-5.7 -2h0m12 -40.9h0m1.5 7.6h0m-16.2 19.8h0m3.8 -8.3h0m-2.8 10.1h0m-41.9 -19.8h0m53.8 24.6h0m-1 -34.8h0m-4.1 -1h0m9.3 -2.5h0m-8.8 3.5h0m.3 14.5h0m1.7 31.4h0m4.3 -30.3h0m-2.5 -1.9h0m-51.7 27h0m51.3 1.9h0m-2.8 -39.1h0m-3.6 17.3h0m2.3 11.9h0m4.9 5.1h0m1.6 5.7h0m-3.4 -39.2h0m1 -10h0m-.3 21.4h0m-.7 17.6h0m-7.1 -36.8h0m13.7 4.7h0m-11.2 44.6h0m-4.6 -32.7h0m2.4 .4h0m5.2 -12.2h0m-5.8 -.8h0m8.1 23.4h0m-2.9 1.5h0m-6.4 -10.7h0m10.5 -5.7h0m3 -3.9h0m-9.1 28.8h0m-3.5 -7.6h0m13.5 -8h0m-6.4 -3.6h0m-4.5 22.5h0m-4.5 -6.9h0m11 -16.2h0m.3 8.8h0m1.1 -28.8h0m-7.5 30.2h0m4.9 -19.3h0m-2.7 -5.7h0m-6.4 .9h0m1.8 36.3h0m3.5 -16.9h0m-.2 23h0m-1.5 1.1h0m-3.3 -44.2h0m14.8 -1.8h0m-8.9 11.7h0m-7.7 22.9h0m8.1 -39.1h0m4.3 5.9h0m-10.3 -3.8h0m4.2 27.1h0m-5 2.9h0m-41.4 -27h0m51.8 42.7h0m2.9 -19.2h0m-13.3 22.5h0m10 -24.2h0m-9.1 1.1h0m-42 -5.6h0m53.5 -2.3h0m-4.3 31.8h0m-2.7 -26.6h0m-47.7 2.8h0m50.9 -14.3h0m5.4 20.9h0m-1.4 -31.4h0m-2.5 6.5h0m-8.9 15.5h0m7.6 3.8h0m8.2 -22.7h0m-7.9 24.5h0m4 -13.7h0m-7.8 -5.4h0m2.6 29.5h0m4.8 -28.4h0m-11.8 39.5h0m4.3 -33.2h0m8 9h0m-2.5 -20.4h0m-4.3 1.2h0m8.2 14.9h0m-3.4 28.2h0m-55.6 -26.2h0m48.4 -22.2h0m-1.8 25.3h0m6.9 -3.9h0m.3 -5.3h0m3.3 5.6h0m-11.8 -4.4h0m6.5 29.7h0m-4.5 -14.7h0m13 -22.2h0m-13.1 -8.9h0m.6 1.1h0m5.4 24.8h0m-8.4 -10.2h0m4.2 -1.8h0m.5 -2.7h0m-4.6 -.6h0m4.8 9.1h0m0 -5.2h0m-6.2 33.2h0m10.6 -44.5h0m-2.3 7.9h0m-49.7 20.6h0m49.2 -9.9h0m-6.2 -6.6h0m6.1 7.5h0m-1.5 -7.1h0m-48.4 -13.4h0m49.4 40.5h0m3.1 -27.8h0m.9 6.2h0m-50.8 -20.8h0m54.6 14.2h0m-6.7 -18.1h0m-51.8 15.5h0m46 -.6h0m-42.9 -8.3h0m55 -1.9h0m-57.1 18.8h0m51.9 -4.2h0m-.1 -14.3h0m-1.4 41.3h0m0 -32.2h0m-1.9 16h0m-4.3 -4.5h0m-45.2 1.7h0m45.1 -1.4h0m5.4 -14.2h0m7.8 17.4h0m-8.4 -6.1h0m-.2 11.7h0m-46.3 -32.6h0m-1.9 36.9h0m46.8 4h0m7.4 -42.4h0m-10.7 26.6h0m12.5 -28h0m.8 29.8h0m-4.8 8.4h0m4.2 -37.7h0m-10.2 30.2h0m3 -21h0m-50.3 10.4h0m50 -20.7h0m.3 47.5h0m-4.3 -5.1h0m11.1 -28.8h0m-1.5 .1h0m-52.9 23.2h0m42.3 -9.4h0m-42.2 -1.7h0m55.4 -23.5h0m-6.3 3.1h0m1.6 -4.6h0m-5.5 1.4h0m1.9 .4h0m10.4 5.2h0m-13.4 36.9h0m13.3 -32.8h0m-12.4 35h0m1.6 -38.1h0m7.6 -.3h0m-10.5 42.9h0m2.3 -17.8h0m2.5 -4.6h0m1.8 -14.3h0m-1.6 27.3h0m-4 -6h0m.2 -15.2h0m9.3 7.9h0m-55.2 -20.5h0m53.7 .6h0m-8.4 34.3h0m2.1 -2.5h0m8 -22.2h0m-1.4 -11.2h0m-9.6 34.2h0m10.9 -10.1h0m-12.4 13.2h0m2 -11.2h0m-1.3 -4.1h0m6.4 21.2h0m-.9 -40.1h0m6.3 28.6h0m-12.3 -7.8h0m-44.5 8.7h0m45.6 -14.5h0m11.1 14.7h0m-14.8 3.7h0m4.7 -15.4h0m6.3 -6h0m-8.5 -13.4h0m10.6 15.1h0m-5.7 25.1h0m1 -9.7h0m4.1 12.4h0m-6.3 -18.3h0m-.8 -22.6h0m-46.5 12.6h0m57.9 -20.5h0m-2.1 12.6h0m-14.9 33.2h0m15.8 -31.2h0m-10.9 -2.8h0m2.9 -14.8h0m8.7 10.7h0m1.7 1.1h0m-5.9 30.6h0m-8.8 -37h0m-2.5 30.4h0m12.8 16.2h0m-5.8 -10.3h0m7.7 -37.4h0m-8.8 24.2h0m2.3 2h0m-6.8 7.7h0m4.9 -25.3h0m-49.1 5.2h0m47.5 -7h0m11.5 14.3h0m-.5 .1h0m-6.6 -22.9h0m-5.7 27.8h0m-2.2 22.2h0m15.1 -44h0m-9 41.9h0" stroke="#33e68f" stroke-width="1.56" stroke-linecap="round" fill="none"/><path d="M160.9 251.3h0m-10.3 16h0m-8.3 -15.1h0m19.2 -15.4h0m2.1 35.9h0m-3.5 -18.9h0m1.4 9.3h0m-11 -8h0m-5.6 20.4h0m2.4 -42.3h0m11.9 14.8h0m-15.1 22.7h0m16.1 -46.4h0m-16.5 43h0m10.7 -21.9h0m-2.1 -19.6h0m8.2 22.4h0m1.6 -4.2h0m-16.5 29.8h0m3.1 -1.3h0m2.6 -1.7h0m2.2 -8.9h0m2.9 2h0m6.6 -17.3h0m-2.7 -19.5h0m-7.8 6.6h0m7 30.8h0m-1.6 -32.3h0m4.7 30.9h0m-6.5 -34.3h0m-.6 43.6h0m1 3h0m-8.2 -44.9h0m14.5 27.3h0m-13.5 -22h0m-3.7 20.2h0m14.8 -24.1h0m-1 5.6h0m-12.1 8.3h0m9.2 2.4h0m-.4 -3.3h0m-7.5 16h0m8.9 13.2h0m-14.6 -33h0m6.8 30.1h0m7.5 -15.4h0m-1.7 6h0m7.6 -23h0m-19.9 6h0m4.3 .7h0m-6.8 7.5h0m13.7 -25.8h0m-2.6 34.5h0m2 -20.2h0m2.9 -8.3h0m-2.9 8h0m-6.1 30.6h0m12.2 -46.6h0m-6.2 2.6h0m6.4 1.7h0m-7.6 47.4h0m4.4 -19h0m-5.3 -32.2h0m8.8 4.9h0m1.7 46.7h0m-14.4 -31h0m2.6 -3h0m-2.4 5.3h0m15.7 -4.9h0m-4.7 15h0m-6.1 7.5h0m2.1 -37.7h0m2.7 47.4h0m-.1 -8.1h0m-11.8 -21.7h0m.4 22.6h0m.3 -39.9h0m.4 36h0m6.8 -23.8h0m.6 29.7h0m-2 -7h0m6.4 -21.1h0m-10.9 25.5h0m4.1 -13.9h0m-4.4 5.4h0m13.5 -7.5h0m-1 -20.3h0m1 4.4h0m-18.8 14.4h0m5.7 22.3h0m14 -41.8h0m-.9 11.3h0m-11.3 -6.7h0m8.9 -2.6h0m.9 29.6h0m-11.7 -3.1h0m.6 -33h0m-2.6 35.4h0m.9 -12.8h0m12.8 -6.3h0m-16.3 -3h0m8.6 18.1h0m4.3 -23.4h0m4.8 23.3h0m.3 -21.4h0m.5 -6.7h0m.2 12h0m-5.4 3.7h0m-1.3 20.2h0m3.3 -40h0m2.3 37.4h0m-9.3 -37.4h0m5.7 6.1h0m-4.5 -6h0m10.7 .4h0m.2 32.2h0m-9.9 -29.5h0m9.1 10.5h0m-1.1 -9.2h0m-17.2 16.2h0m6.9 -17.7h0m6.5 48.4h0m-5.5 -45.9h0m-6.7 13.4h0m13.8 32.5h0m-15.5 -27.5h0m6.7 -14.6h0m-8.7 6.3h0m5.9 1.2h0m10.1 11.8h0m-7.4 .7h0m1 19.8h0m1.9 -12.3h0m5.1 -36.1h0m-12.4 35.1h0m1.9 -21.9h0m15.5 -15.6h0m-7.9 6.9h0m.1 9.2h0m-6.4 6.5h0m14 -11.8h0m-5.8 -10.2h0m-4.4 1.3h0m3.1 38.5h0m-6.2 -28.4h0m12.9 -1.8h0m-12.3 25.9h0m8.3 -8.8h0m-.1 20.2h0m-.2 -28.6h0m-5.9 30.6h0m-2.8 -20.6h0m4.8 -1.8h0m-2.6 -.9h0m1.5 -14.5h0m7.3 -8.3h0m-.7 23.5h0m-2.5 -6.4h0m2.4 -4.4h0m-9.1 22.8h0m5 -12.8h0m-10.8 -10.5h0m15.2 35.4h0m2.9 -10.9h0m-5.6 -14.4h0m5.3 6h0m-3 -26.9h0m-9.4 36.8h0m8.8 -34.2h0m-13.4 33.2h0m5.9 8.8h0m-3 -26.9h0m12.2 -13.2h0m-4.4 42.4h0m-15.4 -31.3h0m9.4 12.5h0m8.9 -19.2h0m-9 3h0m5.1 6.6h0m-1.2 -9.1h0m-1 18.9h0m10.1 6.3h0m-18.5 -26.8h0m15.4 32h0m-16.9 -26.7h0m16.2 27.5h0m-8.9 -6.8h0m-.3 -16.9h0m1.6 26.5h0" stroke="#2bb5ec" stroke-width="1.56" stroke-linecap="round" fill="none"/><path d="M227.6 228.8h0m-9.4 11.9h0m27.5 28.6h0m2.4 -24.2h0m-24.4 -15h0m5 10h0m6.9 -6.5h0m4.6 34.1h0m-20.6 -40.2h0m-3.2 27.7h0m1.1 20.3h0m3.9 -13.9h0m18 9h0m-12.1 -.4h0m-4.4 -44.8h0m18 45.7h0m-22.3 3.8h0m29.7 -26.8h0m-30 6.3h0m9.1 -29.6h0m-8.5 8.6h0m8.6 39.1h0m15.4 -9.9h0m-14.9 11.9h0m2.4 -16.2h0m-2.1 -25.2h0m-1.3 -1.8h0m-10.8 43.3h0m28.5 -46.2h0m-11.4 43.8h0m.6 3.6h0m13 -24.3h0m-18.4 2.5h0m-2.4 -29h0m-5.3 5.4h0m13.2 26.3h0m5.6 -16h0m-1.7 -9.7h0m-17.6 6.7h0m11.6 8.7h0m8.7 29.4h0m8.6 -2.2h0m-24.7 -32.3h0m4 20.4h0m-2.6 5.9h0m-1.1 -2.7h0m-4.9 -37.3h0m24.3 32h0m-26.7 5.1h0m3.6 -28.1h0m2.1 -2.6h0m18.4 12.8h0m-2.9 -9.7h0m-10.7 15.7h0m9.2 -13.9h0m-18.9 34.1h0m12.9 -13.4h0m-2.2 9h0m-10.5 -1.7h0m30.8 -22.9h0m-2.3 -17.1h0m-2.5 40h0m4.7 -7.8h0m-21.2 3h0m2.8 -33.9h0m-11.6 .8h0m15.4 11.1h0m-3.4 -5.1h0m.4 23.9h0m17.8 7.9h0m-17 -11.2h0m-7.7 12.3h0m2.5 -8.6h0m12.4 -6.1h0m-7.4 -18.8h0m-10.7 9.9h0m7.3 -19.7h0m-12.6 39.9h0m18.2 -18.7h0m-11.3 -5.7h0m-6.3 12h0m12.1 -16.4h0m-1.4 -5.3h0m17.4 -6.6h0m-6.1 43.8h0m3 4.4h0m-9.3 -29.2h0m4.6 -16.4h0m-16.9 14.2h0m15.8 21.5h0m-19.1 12.1h0m1.6 -39.9h0m23.7 25.3h0m-3.2 17.3h0m3.5 -26.3h0m-16.4 -18h0m.8 33.7h0m-7.9 -11.7h0m8.4 -18h0m-11 31.8h0m.4 1.8h0m21 -21.6h0m-4.7 -4.3h0m2.1 -9.5h0m-16.2 3.4h0m5.6 24.5h0m.5 -11h0m-4.9 7.9h0m-2.7 -6.1h0m7.7 4h0m6.4 13.6h0m8.8 -45.3h0m7.3 6h0m-15.9 44.1h0m-12.7 -14.7h0m27.2 6.9h0m-18.3 -23.2h0m3.5 9.4h0m-13.4 3h0m10.4 -26.8h0m14.5 46.4h0m-18.5 -.4h0m-7.8 -23.4h0m6.6 -12.7h0m4.2 22.9h0m1.2 5h0m11.2 -27.2h0m-17.8 12h0m24.1 -17.5h0m-31.3 39.1h0m17.6 -13.8h0m-11.1 16.1h0m14.3 -46.4h0m-7.6 20.7h0m-3 2h0m2.9 -21.4h0m7.5 36.7h0m1.2 -5.7h0m7.1 -6.3h0m-22.4 -13.5h0m.7 13h0m-5.3 3.8h0m13.8 9.6h0m-10.7 -9.8h0m19.2 15.1h0m-17.1 -37.4h0m-1.2 28.1h0m23.4 6.4h0m-10.3 -42.5h0m12.4 16.6h0m-27.5 -13.8h0m4 17.8h0m12.1 -4.6h0m-3.1 -4h0m-1.3 24.8h0m-7.3 -11.3h0m-1.8 -8.6h0m27.1 26.8h0m-22.2 -25.6h0m-11.7 26.2h0m18.4 -30.7h0m-12.3 11.7h0m-1.5 -7.7h0m4 -17.7h0m10.3 -3.7h0m-4.5 3.4h0m-9.6 10.4h0m.9 -1.4h0m5.3 -.3h0m-5 36.8h0m-4.9 -4.7h0m19.1 4.2h0m10.8 -48.9h0m-14 35.7h0m-6.5 -22.9h0m2.2 14.9h0m-3 -15.9h0m2.1 5h0m-4.5 7.5h0m2.3 2.7h0m9.2 -3.3h0m10.7 27.6h0m-19.8 -31.1h0m4 5.3h0m9.2 4.4h0m-3.3 16.2h0m7.6 -19.8h0m-8.9 -.6h0m-4.2 25.6h0m-13 -9.8h0m13.7 .3h0m.6 -26.8h0m18.3 30.5h0m.3 -13.3h0m-28.3 -30.4h0m4.6 39.1h0m-8.1 -14.5h0m-.9 22.9h0m26.4 -1.6h0m-16.8 -31.1h0m9.7 10.9h0m-12.9 -15.4h0m27.7 14.9h0m-25.4 -25.3h0m-4.3 14.1h0m25 30.6h0m3.2 -41.3h0m-.8 35.8h0m-27.7 8.8h0m10.7 -6h0m-8.2 -13.9h0m-4.5 -1h0m20.6 5.5h0m-9.6 -13.1h0m2.5 -2.1h0m-1.8 10.2h0m1.7 18.6h0m-12 -46.7h0m15.8 .8h0m-8.1 44.7h0m.8 -14.7h0m4.3 -29.3h0m-2.3 34.9h0m-10.9 -29h0m27.8 3h0m-5.6 23.3h0m-8 1.4h0m-13.9 -11.1h0m.8 -22.3h0m13.1 29.1h0m-9.1 5.5h0m7 -30.9h0m2.3 24.4h0m4.6 -.7h0m-19.9 17.2h0m8.5 -11.2h0m-2 -31.6h0m-2.8 40.5h0m10.8 -11.3h0m2 17.8h0m-.9 -42.4h0m15.6 23.7h0m-30.2 -21.8h0m.8 33.5h0m-5.3 6h0m16.4 -15.3h0m3.5 -16.7h0m-3.5 -1.5h0m-16.1 33.9h0m10.6 -18.4h0m-10.1 19.2h0m13.4 -32h0m9.5 19h0m-10.5 -38h0m7.7 11.1h0m-11.6 4.8h0m-6.9 21h0m14.2 -12.4h0m16.3 5.8h0m-29.8 -.4h0m7.3 .6h0m8.5 10.3h0m-.4 -22.3h0m-4.9 28.8h0m8.7 -30.6h0m-9.4 13.5h0m8.3 -1.6h0m-6.6 -26h0m1.9 .1h0m6.4 -1.2h0m-12.6 28h0m24 13.2h0m-5.5 -33.7h0m-3 14.2h0m-20.8 16.3h0m24.3 3.3h0m-23.9 -2.5h0m1.4 -26.3h0m7.5 -9.7h0m8.1 12.8h0m-10.3 10.6h0m.8 15h0m-7.3 -8.7h0m10.2 9.9h0m-7.3 -13h0m14.4 -32.8h0m-16.5 46.9h0m-.2 -44h0m28.6 13.6h0m-16.6 -14.6h0m-10.3 39h0m24.6 -29.9h0m-14.2 34.3h0m-.6 -.6h0m-15.4 4.1h0m4 -16.1h0m13.2 8.5h0m-4.1 -.1h0m2.7 11.8h0m-13.4 -24.9h0m8.3 -25.1h0m2.8 23.4h0m-5.2 -6.9h0m6.1 8.9h0m-15.3 16.2h0m21.2 -25.8h0m-8 -4.9h0m-10.2 36.8h0m-3.6 -7.5h0m13.6 -31.8h0m6.6 40.5h0m1.8 -2.5h0m7.7 -22.4h0m-23.4 18.7h0m9.6 -13.1h0m1.4 -1.4h0m-10.2 -16.4h0m13.5 21.4h0m-3.9 16.3h0m-12.5 -40.6h0m-.1 -2.2h0m2.5 22.5h0m-3.3 -23.3h0m17.3 -3h0m-.3 -3.6h0m-.8 11.7h0m9.9 25.7h0m-14.4 -25.1h0m-12.7 30.2h0m24 -8h0m-16.3 -36.7h0m-3.8 8h0m3.1 4.3h0m3.7 19.8h0m-3.1 4.7h0m-.5 6.4h0m11.6 -33.9h0m-3.1 3.5h0m-.5 36h0m12.6 -25h0m-1.6 -19.9h0m-23.9 22.4h0m6.8 .6h0m-2.4 -1.5h0m2 2.3h0m20.5 -7.2h0m-23.4 -19.5h0m11.6 25.9h0m-7.2 .5h0m-5.2 4.6h0m-.4 -22.9h0m10.2 35.9h0m-8.2 -30.9h0m10.1 37.7h0m4.6 -4.9h0m-15 -38.2h0m-.6 35.9h0m5 -16.4h0m-1.9 5.6h0m16.4 -.7h0m-9.9 -9.3h0m7.8 -12.2h0m-23.9 34.8h0m17.6 -35.3h0m-11.2 30.4h0m-1.4 -22.9h0m-5.2 20.9h0m13.2 -3.9h0m-10 -4.4h0m7.6 21h0m-7.2 -37.5h0m-4.4 28.8h0m20.6 -2.2h0m8.7 -33.6h0m-2.8 10h0m-10 5.5h0m5.7 -16.4h0m-5.9 39.1h0m4.3 -34.9h0m12.2 21.6h0m-26.8 2.7h0m19.5 9.3h0m-7.2 -35.5h0m-8.8 6.4h0m-2.4 -11.6h0m-3.3 26.2h0m17.9 -20h0" stroke="#ff7f0e" stroke-width="1.56" stroke-linecap="round" fill="none"/><path d="M212.3 256.9h0m1 -8.5h0m-3.7 17.2h0m1.6 -35.6h0m-.2 -.8h0m-4.4 14.6h0m.2 2.6h0m11.1 -8.8h0m-11.9 1.9h0m-4 30.1h0m1.4 -38.8h0m7 18.9h0m-9.9 13.7h0m8.7 -19.1h0m-1.8 -16.2h0m7.6 6.6h0m-10.4 6.1h0m5 7h0m2.8 19.4h0m3.3 -32.7h0m-7.7 29.9h0m4 -29.6h0m-11 30.3h0m9.7 -13.2h0m-8.7 -11.4h0m1.5 -5.9h0m12.9 -7.3h0m-8 46.2h0m1.4 -15.4h0m6 -24.2h0m-6.2 11.6h0m1.1 11.8h0m2.3 -2.9h0m-5.4 -27.5h0m-5.5 12.1h0m-4.1 35.2h0m8.8 -44.3h0m7.1 18.4h0m-9.4 -2h0m-5.7 31.1h0m3.8 -21.8h0m12.2 -2.2h0m-5.8 11.7h0m6.8 -25.3h0m.9 -.8h0m-14.4 -5.7h0m2.4 39.4h0m-4 -5h0m9.8 9.5h0m-8 -28.8h0m5.7 -9h0m10.1 -6h0m-6.3 -3.9h0m-4.3 2.8h0m1.7 2.1h0m-7.3 19.5h0m4.5 -23.5h0m-3.1 38h0m9.3 -28.1h0m-9.7 -7.2h0m7.9 -7.3h0m-8.3 46.6h0m10.9 -2h0m-10.8 1.9h0m2.5 -36.2h0m5.5 -7.5h0m-9.2 29.8h0m11.2 7.5h0m-4.1 -13.9h0m-3.5 -23.5h0m2.4 -2.6h0m4.3 1h0m-2.2 27.3h0m4 20.9h0m-13 -17.8h0m8.1 -7.2h0m5.2 -13.9h0m4.8 -6.1h0m-16.1 1.4h0m10 25.8h0m0 10.1h0m-2.1 -24.6h0m-11.1 32.2h0m18.5 -41.7h0m-6.8 1.9h0m2.4 11.1h0m-1.8 27.9h0m-12.4 -3.9h0m2.1 -4.2h0m6.8 6.2h0m5.6 -25.4h0m-9.8 -7.8h0m5.9 9.9h0m-3 26.9h0m4.9 -14.4h0m.7 -26h0m-6.9 39.9h0m.5 -31.8h0m1.2 11.9h0m7.8 -27.1h0m-6.1 25.1h0m1.6 -28.5h0m3 28.2h0m-11.6 20.2h0m14.1 -28.8h0m-11.3 -10h0m12.2 1.7h0m-15.1 39.9h0m.9 -22.8h0m4.6 -23.1h0m-3 41.8h0m11.7 -28.8h0m-8.8 9.7h0m-4.7 -10.5h0m10 -14.9h0m-4.9 29.1h0m-3.6 7.8h0m-1.2 -24.9h0m5.5 4h0m.5 -2.8h0m-4.4 -8.6h0m-1 25.5h0m7.3 18.2h0m-7.9 -1.4h0m1.3 -37.8h0m-5.9 38.1h0m3.1 -16.6h0m10.1 3.5h0m-8.1 2.1h0m8.4 -3.4h0m2.3 3.2h0m-.2 -16.4h0m-8.6 14.9h0m1.7 -13.6h0m1.5 -16.7h0m-4 -2.9h0m-2.4 14h0m10.7 18.1h0m2.7 0h0m-4.9 -31.3h0m-5.2 25.4h0m8.6 2.4h0m-8.5 15.5h0m-3 -36.4h0m8.2 -3.8h0m-7.9 18.3h0m-2.9 23.2h0m7 1h0m-3.1 -3.7h0m5.7 -32.8h0m-2.4 -4.7h0m8.6 -2.2h0m-4.8 -6.8h0m3.2 37.8h0m-12.8 -7.8h0m5.2 -3.9h0m0 13.6h0m8.1 -29.5h0m-7.7 -8.8h0m4.6 16.2h0m-1 29h0m.1 -4.8h0m.7 -17.7h0m2.6 -16.9h0m2.2 22.1h0m-13.7 -15.6h0m4 36.5h0m-.6 -7.5h0m-3.3 -28.4h0m12 2.4h0m-12.2 -10.3h0m8.8 24.9h0m-8.4 -28.6h0m11.9 31.7h0m.5 -6.3h0m-1.3 3.2h0m-3.3 13.8h0m-1.5 6.6h0m7.3 -47.8h0m-10.5 41.4h0m1 -39.4h0m.3 10h0m-8.9 32.5h0m10.5 1.7h0m-.6 -16.1h0m8.5 -12.9h0m-5.5 20.6h0m-2.9 -39.6h0m-5.3 .1h0m.1 18.4h0m6.9 -19.4h0m-4.6 11.4h0m-3.5 8.1h0m-1.3 5.8h0m.7 8.6h0m5.1 -2.8h0m1.4 -17.7h0m8.3 -4.4h0m-11.3 40.9h0m-4 -11.1h0m7.9 -20.7h0m-.5 21.5h0m-7.4 -6.3h0m5.5 -18.4h0m0 -2.9h0m.3 0h0m-1.2 34.4h0m10.6 -36.7h0m-11.1 28.1h0m6.5 -34.8h0m-2.6 18.4h0m-6.6 -8.7h0m3.9 7.9h0m7.2 -20.7h0m-2.9 27.9h0m-3.2 -7.3h0m4.9 -6.2h0m2.4 27.5h0m-9.6 -6h0m-3.8 -6.1h0m14 -29.7h0m-5.6 43.4h0m6 -36.3h0m-5.5 -1.7h0m4.6 -3h0m-8 20.7h0m4.4 -1.8h0m-10.7 26.8h0m15.1 -45h0m-7.8 16.4h0m-.1 17.4h0m.6 -13.1h0m0 18.3h0m.7 -10.4h0m.9 -21.9h0m-7 -7.8h0m9.1 40.2h0m-6.7 5.9h0m-.3 -14.4h0m2.4 -22.3h0m4.4 -12.6h0m-5.7 30.1h0m4.9 -23.7h0m-3.9 5.1h0m-.5 20.3h0m-.2 15.7h0m-5.3 -20.1h0m6.9 -1.6h0m1.5 12.6h0m-10.1 3.9h0m13.8 -40.9h0m-8.2 36.2h0m6.6 12.3h0m-3.5 -2.1h0m-5.8 -37.1h0m8.2 .2h0m7.7 -.5h0" stroke="#f0c93c" stroke-width="1.56" stroke-linecap="round" fill="none"/><path d="M172.3 227.5h0m4.4 12.2h0m-5.3 33.4h0m4.2 4.4h0m-6.9 -53.1h0m-4.6 21.6h0m2.6 -14.7h0m11.8 30h0m3.4 -6.9h0m-6.1 18.3h0m3 -44.5h0m-8.7 21h0m-4.6 11.5h0m14.1 -3.6h0m-11.5 -22.7h0m-2 29.2h0m2.8 9.2h0m-.1 -27.4h0m-.7 27.1h0m12.6 -33.4h0m-7.6 -14.6h0m6.9 13.9h0m1.5 11.1h0m-3.2 14.3h0m2.8 -4.9h0m-4.8 -5.6h0m3.6 9.5h0m-4.4 -17.6h0m5.2 -1.9h0m2.4 -9.1h0m-15.6 1.4h0m10.2 40.2h0m-11.3 -13.5h0m-1.2 -28.6h0m4 37.8h0m8.9 -18.3h0m-9 17.3h0m5.7 -30h0m-.7 8.4h0m6 11.8h0m3.8 -12.1h0m-1.9 13.3h0m-5 6.3h0m-11.5 -36h0m19.7 -4.5h0m-8.2 18.2h0m-9.6 8.9h0m9.3 18.9h0m-4.4 -1.7h0m-2.8 -17.7h0m6.3 -27.6h0m-1.6 18.3h0m-.8 -3.8h0m6.3 14h0m-13.3 4.3h0m15.1 -.1h0m-13.4 7.6h0m3.8 -2.6h0m-.7 -11.2h0m-4.8 -5.8h0m3.1 19.3h0m5.2 -40.7h0m-10.4 50h0m1.5 -38.6h0m1.3 11.2h0m13.4 -6.7h0m-16.3 .5h0m-.1 6.5h0m6.6 -24.1h0m-1.3 20.1h0m14.4 -8.3h0m-8.9 10h0m-9.5 -7.1h0m-1.1 -13.6h0m2.1 31.9h0m16.3 -16.4h0m-11.4 -9.1h0m-4.4 -3.5h0m9.4 8.6h0m2.4 34.3h0m-9.4 -12h0m11.1 -5h0m-14.7 5.6h0m1.2 -10h0m11.7 21.1h0m2.5 -32.3h0m-4.8 -5.8h0m-8.1 29h0m9 2.3h0m-5.2 -1.5h0m2.5 3.7h0m-2.8 -22h0m-1 -8.8h0m10 1.7h0m3.3 -10.8h0m-18.5 17.7h0m11.8 19h0m1.7 -16.7h0m-13.2 9.2h0m2.3 11.1h0m3.2 -8.8h0m-4.2 8.4h0m10.8 -26.1h0m-6.7 15.5h0m7.4 5.4h0m-6.6 8.1h0m-3.8 -23.3h0m10.9 6.2h0m-6.2 13h0m-3.7 -35.8h0m7.5 20.3h0m-3.3 13.4h0m7.6 -16.7h0m-1.1 .1h0m-14.9 -17.8h0m10.1 20.7h0m-4.9 16.8h0m11.9 -18.8h0m-17.5 -13.3h0m8.2 2.9h0m-1.7 13.7h0m-4.9 -3h0m11.2 13.4h0m0 -19.1h0m-10.6 16.6h0m10 3.8h0m2.9 10h0m3.4 -41.8h0m-.9 8.2h0m-11.6 35.1h0m3.7 -40.7h0m.3 31.1h0m-10.8 -39.9h0m10.2 1.2h0m-2.2 3h0m6.9 24.8h0m-12.4 14.5h0m2.2 4h0m9.8 -6h0m-7.8 -32.5h0m-5.6 36.5h0m4 -4h0m-3.5 -1.1h0m3.7 -8.4h0m7.1 6h0m-5.5 -8.5h0m8.6 10.3h0m-5.7 -3.6h0m6.3 -8.3h0m1.8 6.4h0m-7 11.6h0m-6.7 -37.4h0m1.6 16.8h0m-5.8 11.5h0m13.8 9.4h0m.4 -23.6h0m-12.5 -4h0m13.8 33.3h0m-8.8 -17.1h0m5.5 -10.7h0m-8.1 -9.4h0m2.2 -9.7h0m4.5 40.3h0m-10.2 -22.3h0m13.2 7h0m-.4 20.5h0m-1.3 -37.6h0m6.7 30.4h0m-1.3 -26.6h0m1.1 -13.1h0m.3 33.4h0m-10.9 -22.3h0m8.9 21.6h0m-2.9 -37.3h0m-2.9 39.8h0m-2.5 -15.3h0m7.4 29.2h0m4.6 -49.5h0m-11.4 15.5h0m4.4 -12h0m-1.6 31.2h0m-.4 -29.9h0m5.2 10.8h0m1.1 2.2h0m-13.5 -5.1h0m13.9 -10.6h0m-13.6 34.5h0m2.6 -1.6h0m3.5 -15.6h0m2.4 21.8h0m2.3 -32.5h0m-2.9 17.5h0m-1 -10.6h0m7.1 -10.4h0m-2.9 15.9h0m-10.3 18.2h0m3.4 -21h0m-5.2 16.8h0m-1.9 -36h0m16.4 11.2h0m-8.9 1.5h0m5.2 24.4h0m3.5 10.6h0m-11 -46.7h0m6.9 1.3h0m-7.1 30.5h0m6.6 -14.1h0m-11.5 -8.9h0m1.5 29.2h0m2.3 -36.8h0m.9 22.7h0m5.8 6.1h0m4.7 .1h0m-15.4 -22.5h0m12.3 -8.1h0m2.7 -3.6h0m3.4 6.4h0m-18.5 -5.9h0m17.4 3h0m-13.7 8h0m7.6 29.8h0m-4.6 6.3h0m-5.9 -35.9h0m14.8 39.2h0m-13.6 -42.7h0m12.3 2.5h0m-12.3 10.2h0m-2.3 -10.4h0m6.4 19h0m-3.8 3.3h0m4.7 7.8h0m6.1 10.5h0m-9.7 -16.6h0m-1.6 -29.4h0m13.3 44.8h0m-4.4 -29.7h0m-8.4 14.1h0m13.2 -11.2h0m-8.1 7.6h0m8.7 -7.7h0m-15.5 .3h0m.6 29h0m10.8 -38.8h0m-10.5 6.3h0m3.7 11.6h0m-3.5 -21.6h0m10.1 43.5h0m-7.7 -12.3h0m-1.7 .7h0m16.6 -35.3h0m-16 15.1h0m4.9 29.2h0m7.7 -50.3h0m-13.2 4.9h0m0 27.4h0m6.1 4.5h0m1.7 -20.6h0m5 -16.3h0m-9.3 .5h0m10.9 25.6h0m-9.9 9.2h0m-3.5 -32.7h0m-.2 22.2h0m10.6 5.9h0m-10.8 -24.9h0m3.6 42h0m5.3 -28.9h0m7.2 -14.4h0m-5.1 33.3h0m1.2 -20.7h0m-14.2 15.5h0m8.2 18.4h0m-7.3 -22.8h0m4.8 -22.6h0m9.5 -4.7h0m2.1 -1.3h0m-5.4 35.1h0m-7.9 -5.3h0m-.5 -19.9h0m-1.7 41.1h0m6.2 -47.4h0m6.2 35.7h0m-.2 .1h0m-4.6 -36.6h0m-2.6 41.4h0m-3.3 -10.6h0m3.4 -33.3h0m9 41.2h0m-4.6 -5.2h0m1.3 -28.9h0m2.4 24.8h0m-6.6 5.5h0m-2.3 -4.1h0m2 -30.1h0m-8.5 46.1h0m2.2 -23h0m5.3 -16.5h0m1.3 28.2h0m-8.7 5.6h0m6.5 -11h0m.2 -16.6h0m3.2 -8.4h0m2.2 18.4h0m-1 -17.3h0m3.4 36.4h0m-1 -45.1h0m-15.7 9.9h0m13.8 .3h0m-2.7 16.7h0m4.6 25.2h0m-3.8 -50h0m6.2 27.4h0m-7.1 13.9h0m2.2 -20.3h0m-4.4 3.3h0" stroke="#1f6eb0" stroke-width="1.56" stroke-linecap="round" fill="none"/><path d="M249.5 263.4h0m-1.9 5.2h0m1.2 -32.8h0m.6 9.2h0m-1.1 10.4h0m.6 -30.8h0m-.1 41.8h0m1.2 -38.8h0m.1 40.1h0" stroke="#ad2742" stroke-width="1.56" stroke-linecap="round" fill="none"/><rect x="135.6" y="221.1" width="119.7" height="59.1" fill="none" stroke="#222" stroke-width="1"/><text x="323.2" y="215.7" text-anchor="middle">SpaceFlow</text><path d="M317.9 253.9h0m1.5 -2.8h0m-.2 -3.6h0m-7 21.8h0m4.4 -.5h0m4.5 -32.7h0m-24.7 -11.7h0m-4.6 21.6h0m26.4 -20.9h0m-23.8 6.2h0m23.7 26.1h0m-4.4 17.8h0m2.2 -7.6h0m4.7 -26.8h0m-27.4 19.9h0m2.6 -26.3h0m20.4 9.6h0m-22.4 19.6h0m2.8 9.2h0m23.1 -48.5h0m-23.2 21.1h0m-.7 27.1h0m24.3 -39.6h0m-5.6 19.2h0m5.2 24.3h0m-1.4 -41.7h0m-3.4 22.6h0m0 -19.7h0m1.5 29.3h0m-21.2 -31.3h0m-1.1 26.7h0m-1.2 -28.6h0m28.3 1.9h0m-24.4 34.9h0m22.9 4.6h0m-5.7 -2h0m-20.8 -40.9h0m21.9 19.1h0m-20 3.5h0m24 -24.4h0m.5 1h0m.3 14.5h0m.3 -11h0m-26.1 24.6h0m22.5 -7.3h0m-20.8 14.8h0m23.1 -2.9h0m-24.8 -16.7h0m27.9 -11.7h0m-30 40.3h0m1.5 -38.6h0m1.3 11.2h0m-2.9 -6.2h0m-.1 6.5h0m25.6 28.3h0m-24.3 -37.7h0m-1.1 -13.6h0m2.1 31.9h0m21.1 -12.9h0m5.2 -12.2h0m-25.8 -3.9h0m25.2 28h0m-26.4 3.5h0m1.2 -10h0m23.2 15h0m-21.9 -3h0m18.4 -4.6h0m7.1 -11.6h0m-4.5 22.5h0m-4.5 -6.9h0m-19.2 -17.1h0m.3 11.5h0m23.8 -.4h0m4.9 -19.3h0m-26.4 30.8h0m-1 -.4h0m24.7 -36.1h0m-4.6 37.2h0m3.5 -16.9h0m-.2 23h0m-1.5 1.1h0m-20.8 -28.7h0m23.4 -5.6h0m.4 -16.2h0m-1.8 29.2h0m-5 2.9h0m-20.2 -27.6h0m20.2 46.6h0m.9 -23.1h0m4.5 -2.7h0m-26 -15.4h0m29.2 3.9h0m-27.6 9.7h0m20.2 1.8h0m4.1 -13.5h0m-23.7 22.6h0m19.3 18h0m4.3 -33.2h0m-26.6 -19h0m27.8 8.8h0m-2.4 -5.3h0m-22.9 40h0m2.2 4h0m18.9 -18.7h0m-1.3 -8h0m2 15h0m-.1 -31.1h0m.6 1.1h0m-23.7 39.7h0m4 -4h0m20.9 -22.9h0m.5 -2.7h0m.2 8.5h0m0 -5.2h0m-25.1 21.2h0m3.7 -8.4h0m15.2 20.4h0m-16.3 -43.9h0m-4.2 28.3h0m28.8 -21h0m-27.1 2.8h0m2.4 -3.9h0m24.2 11.8h0m-.1 .9h0m-1.5 -7.1h0m1 27.1h0m-27.1 -24.4h0m28.2 -21.9h0m-5.8 14.9h0m6.9 4.4h0m-.1 -14.3h0m-1.4 41.3h0m0 -32.2h0m-24 .7h0m.3 23.9h0m21.8 -8.6h0m-4.3 -4.5h0m-.1 .3h0m5.4 -14.2h0m-.6 11.3h0m-.2 11.7h0m-1.4 8.3h0m-21.6 -5.8h0m-1.9 -36h0m20.2 26h0m2.5 2.7h0m-22.6 -18.9h0m1.5 29.2h0m24.1 -31.3h0m-25.8 .9h0m25.5 -11.2h0m.3 47.5h0m-4.3 -5.1h0m-21.6 -42.4h0m3.7 11h0m16.9 16.5h0m-19.8 -16.3h0m1.2 -3.5h0m0 12.7h0m-2.3 -10.4h0m27.8 -4.6h0m1.6 -4.6h0m-5.5 1.4h0m1.9 .4h0m-3 42.1h0m-20.2 -12.4h0m1.1 1.7h0m-1.6 -29.4h0m.5 29.2h0m21.1 13.1h0m1.6 -38.1h0m-2.9 42.6h0m2.3 -17.8h0m2.5 -4.6h0m1.8 -14.3h0m-28.1 8.1h0m26.5 19.2h0m-25.9 9.8h0m21.9 -15.8h0m.2 -15.2h0m-21.8 -1.5h0m.2 -10h0m.7 31.9h0m20.3 1.9h0m2.1 -2.5h0m-21.8 -19.6h0m18.8 20.4h0m-1.5 3.1h0m-17.9 -39.7h0m0 27.4h0m19.9 1.1h0m-1.3 -4.1h0m-17.6 -26.8h0m23.1 7.9h0m-23.3 14.3h0m-.2 -19h0m17.5 25.5h0m1.1 -5.8h0m-20.6 7.1h0m.9 -4.4h0m20.7 .3h0m-19.8 22.1h0m22.5 -1.3h0m1 -9.7h0m-2.2 -5.9h0m-.8 -22.6h0m-.7 3.9h0m2.9 -14.8h0m-24.9 49h0m2.2 -23h0m-2.1 17.3h0m25 -1.6h0m-1.1 -13.2h0m-26.1 -18.9h0m28.4 20.9h0m-6.8 7.7h0m4.9 -25.3h0m-1.6 -1.8h0m4.4 -8.5h0m-5.7 27.8h0m-2.2 22.2h0m6.1 -2.1h0" stroke="#33e68f" stroke-width="1.56" stroke-linecap="round" fill="none"/><path d="M288.6 251.3h0m-10.3 16h0m-8.3 -15.1h0m19.2 -15.4h0m2.1 35.9h0m-3.5 -18.9h0m1.4 9.3h0m-11 -8h0m-5.6 20.4h0m-2.5 -37.3h0m4.9 -5h0m11.9 14.8h0m-15.1 22.7h0m16.1 -46.4h0m-16.5 43h0m10.7 -21.9h0m-2.1 -19.6h0m8.2 22.4h0m1.6 -4.2h0m-16.5 29.8h0m3.1 -1.3h0m-3.7 -45.5h0m6.3 43.8h0m2.2 -8.9h0m2.9 2h0m6.6 -17.3h0m-2.7 -19.5h0m-7.8 6.6h0m7 30.8h0m-17.7 -15.3h0m16.1 -17h0m4.7 30.9h0m-6.5 -34.3h0m-13.4 12.8h0m12.8 30.8h0m1 3h0m-8.2 -44.9h0m-4.3 41.6h0m18.8 -14.3h0m-13.5 -22h0m-3.7 20.2h0m14.8 -24.1h0m-1 5.6h0m-12.1 8.3h0m9.2 2.4h0m-.4 -3.3h0m-7.5 16h0m8.9 13.2h0m-14.6 -33h0m6.8 30.1h0m7.5 -15.4h0m-1.7 6h0m7.6 -23h0m-19.9 6h0m4.3 .7h0m-6.8 7.5h0m13.7 -25.8h0m-2.6 34.5h0m2 -20.2h0m2.9 -8.3h0m-2.9 8h0m-6.1 30.6h0m12.2 -46.6h0m-6.2 2.6h0m6.4 1.7h0m-7.6 47.4h0m4.4 -19h0m-5.3 -32.2h0m8.8 4.9h0m1.7 46.7h0m-14.4 -31h0m2.6 -3h0m-2.4 5.3h0m15.7 -4.9h0m-4.7 15h0m-6.1 7.5h0m2.1 -37.7h0m2.7 47.4h0m-.1 -8.1h0m-13.7 -38.1h0m1.9 16.4h0m.4 22.6h0m.3 -39.9h0m.4 36h0m6.8 -23.8h0m.6 29.7h0m-10.1 -23.7h0m8.1 16.7h0m6.4 -21.1h0m-10.9 25.5h0m-4.8 -15.4h0m8.9 1.5h0m-4.4 5.4h0m13.5 -7.5h0m-1 -20.3h0m1 4.4h0m-18.8 14.4h0m5.7 22.3h0m14 -41.8h0m-.9 11.3h0m-11.3 -6.7h0m8.9 -2.6h0m.9 29.6h0m-18.6 -12.2h0m6.9 9.1h0m.6 -33h0m-2.6 35.4h0m.9 -12.8h0m12.8 -6.3h0m-16.5 18.3h0m.2 -21.3h0m-1 -8.2h0m9.6 26.3h0m4.3 -23.4h0m4.8 23.3h0m.3 -21.4h0m-16.4 -6.7h0m16.9 0h0m.2 12h0m-5.4 3.7h0m-1.3 20.2h0m-14.3 -24.3h0m17.6 -15.7h0m2.3 37.4h0m-9.3 -37.4h0m-7.5 6.8h0m-2.1 16.9h0m15.3 -17.6h0m-4.5 -6h0m10.7 .4h0m.2 32.2h0m-9.9 -29.5h0m9.1 10.5h0m-1.1 -9.2h0m-17.2 16.2h0m6.9 -17.7h0m6.5 48.4h0m-17 -23.9h0m11.5 -22h0m-6.7 13.4h0m-1.4 -16.6h0m-1.9 36.9h0m17.1 12.2h0m-15.5 -27.5h0m6.7 -14.6h0m-9.6 10.2h0m.9 -3.9h0m5.9 1.2h0m10.1 11.8h0m-7.4 .7h0m1 19.8h0m-7.8 -13.4h0m9.7 1.1h0m5.1 -36.1h0m-14.7 23.9h0m2.3 11.2h0m1.9 -21.9h0m15.5 -15.6h0m-7.9 6.9h0m.1 9.2h0m-6.4 6.5h0m14 -11.8h0m-5.8 -10.2h0m-4.4 1.3h0m3.1 38.5h0m-6.2 -28.4h0m12.9 -1.8h0m-12.3 25.9h0m8.3 -8.8h0m-.1 20.2h0m-.2 -28.6h0m-15.8 -10.2h0m9.9 40.8h0m-2.8 -20.6h0m4.8 -1.8h0m-2.6 -.9h0m1.5 -14.5h0m7.3 -8.3h0m-.7 23.5h0m-2.5 -6.4h0m-16.3 19.8h0m18.7 -24.2h0m-9.1 22.8h0m5 -12.8h0m-10.8 -10.5h0m15.2 35.4h0m2.9 -10.9h0m-21.1 -16.1h0m15.5 1.7h0m5.3 6h0m-3 -26.9h0m-9.4 36.8h0m8.8 -34.2h0m-13.4 33.2h0m5.9 8.8h0m-3 -26.9h0m12.2 -13.2h0m-4.4 42.4h0m-15.4 -31.3h0m9.4 12.5h0m8.9 -19.2h0m-9 3h0m5.1 6.6h0m-1.2 -9.1h0m-1 18.9h0m10.1 6.3h0m-18.5 -26.8h0m15.4 32h0m-16.9 -26.7h0m-2.3 .7h0m18.5 26.8h0m-8.9 -6.8h0m-.3 -16.9h0m1.6 26.5h0" stroke="#2bb5ec" stroke-width="1.56" stroke-linecap="round" fill="none"/><path d="M355.3 228.8h0m-9.4 11.9h0m5.5 -10.6h0m5 10h0m6.9 -6.5h0m-16 -6.1h0m-3.2 27.7h0m1.1 20.3h0m3.9 -13.9h0m1.5 -36.2h0m-4.3 49.5h0m-.3 -20.5h0m9.1 -29.6h0m-8.5 8.6h0m9.4 -.3h0m-1.3 -1.8h0m-10.8 43.3h0m9.9 -49.6h0m-5.3 5.4h0m18.8 10.3h0m-1.7 -9.7h0m-17.6 6.7h0m11.6 8.7h0m-7.4 -5.1h0m-4.6 -13.7h0m-2.4 37.1h0m3.6 -28.1h0m2.1 -2.6h0m18.4 12.8h0m-2.9 -9.7h0m-1.5 1.8h0m-18.9 34.1h0m.2 -6.1h0m12.3 -38.7h0m-11.6 .8h0m15.4 11.1h0m-3.4 -5.1h0m1 -.6h0m-10.7 9.9h0m7.3 -19.7h0m-12.6 39.9h0m18.2 -18.7h0m-11.3 -5.7h0m-6.3 12h0m12.1 -16.4h0m-1.4 -5.3h0m5 12.4h0m4.6 -16.4h0m-16.9 14.2h0m-3.3 33.6h0m1.6 -39.9h0m24 16.3h0m-16.4 -18h0m-7.1 22h0m8.4 -18h0m-11 31.8h0m.4 1.8h0m21 -21.6h0m-4.7 -4.3h0m2.1 -9.5h0m-16.2 3.4h0m1.2 21.4h0m-2.7 -6.1h0m22.9 -27.7h0m-21.3 35.4h0m8.9 -16.3h0m-9.9 12.4h0m10.4 -26.8h0m-11.8 22.6h0m6.6 -12.7h0m16.6 .7h0m-25 33.6h0m6.5 2.3h0m14.3 -46.4h0m-7.7 1.3h0m-6.6 11.2h0m-4.6 16.8h0m3.1 -.2h0m2.1 -22.3h0m-1.2 28.1h0m13.1 -36.1h0m-15.1 2.8h0m4 17.8h0m12.1 -4.6h0m-3.1 -4h0m-10.4 4.9h0m4.9 1.2h0m-11.7 26.2h0m18.4 -30.7h0m-12.3 11.7h0m-1.5 -7.7h0m4 -17.7h0m10.3 -3.7h0m-4.5 3.4h0m-9.6 10.4h0m.9 -1.4h0m5.3 -.3h0m-5 36.8h0m-4.9 -4.7h0m9.4 -31.9h0m-.8 -1h0m2.1 5h0m-4.5 7.5h0m11.5 -.6h0m-9.1 -3.5h0m4 5.3h0m-12.6 16h0m14.3 -26.5h0m-9.7 -13.2h0m-3.5 24.6h0m-.9 22.9h0m9.6 -32.7h0m-3.2 -4.5h0m2.3 -10.4h0m-4.3 14.1h0m-.3 33.9h0m-2 -20.9h0m11 -7.6h0m2.5 -2.1h0m-12.1 -17.9h0m15.8 .8h0m-3 .7h0m-13.2 5.9h0m.3 16.6h0m.8 -22.3h0m11 3.7h0m-13 40.9h0m6.5 -42.8h0m9.1 4.6h0m-14.6 1.9h0m.8 33.5h0m-5.3 6h0m19.9 -32h0m-3.5 -1.5h0m-16.1 33.9h0m.5 .8h0m13.4 -32h0m-1 -19h0m7.7 11.1h0m-11.6 4.8h0m-6.9 21h0m14.2 -12.4h0m-13.5 5.4h0m15.4 -11.4h0m3.8 -1.8h0m-7.7 -14.1h0m1.9 .1h0m6.4 -1.2h0m2.9 21.7h0m-20.8 16.3h0m.4 .8h0m1.4 -26.3h0m7.5 -9.7h0m8.1 12.8h0m-16.8 16.9h0m17.3 -35.9h0m-16.5 46.9h0m-.2 -44h0m12 -1h0m-15.9 46.9h0m4 -16.1h0m-1.6 -4.7h0m8.3 -25.1h0m2.8 23.4h0m-5.2 -6.9h0m-9.2 25.1h0m21.2 -25.8h0m-8 -4.9h0m-10.2 36.8h0m-3.6 -7.5h0m13.6 -31.8h0m-7.3 34.3h0m.8 -30.9h0m-2.9 -2.9h0m-.1 -2.2h0m-.8 -.8h0m17.3 -3h0m-.3 -3.6h0m-.8 11.7h0m-4.5 .6h0m-12.7 30.2h0m7.7 -44.7h0m-3.8 8h0m3.1 4.3h0m11.7 -3h0m-3.1 3.5h0m-13.4 13.5h0m4.4 -.9h0m-.9 -24.4h0m-1.2 8.1h0m2 5h0m-.3 -5.4h0m9 15.1h0m7.8 -12.2h0m-23.9 34.8h0m17.6 -35.3h0m-12.6 7.5h0m-5.2 20.9h0m3.2 -8.3h0m.4 -16.5h0m-4.4 28.8h0m26.5 -25.8h0m-10 5.5h0m5.7 -16.4h0m-1.6 4.2h0m-2.3 -1.9h0m-8.8 6.4h0m-2.4 -11.6h0m-3.3 26.2h0m17.9 -20h0" stroke="#ff7f0e" stroke-width="1.56" stroke-linecap="round" fill="none"/><path d="M340 256.9h0m1 -8.5h0m-3.7 17.2h0m1.6 -35.6h0m-.2 -.8h0m-4.4 14.6h0m.2 2.6h0m11.1 -8.8h0m-11.9 1.9h0m-4 30.1h0m8.4 -19.9h0m-1.2 -5.4h0m-1.8 -16.2h0m7.6 6.6h0m-10.4 6.1h0m5 7h0m2.8 19.4h0m3.3 -32.7h0m-7.7 29.9h0m4 -29.6h0m-11 30.3h0m9.7 -13.2h0m-7.2 -17.3h0m12.9 -7.3h0m-8 46.2h0m1.4 -15.4h0m6 -24.2h0m-6.2 11.6h0m1.1 11.8h0m2.3 -2.9h0m-5.4 -27.5h0m-.8 3h0m7.1 18.4h0m-9.4 -2h0m-1.9 9.3h0m12.2 -2.2h0m-5.8 11.7h0m6.8 -25.3h0m.9 -.8h0m-12 33.7h0m-4 -5h0m9.8 9.5h0m-8 -28.8h0m5.7 -9h0m10.1 -6h0m-6.3 -3.9h0m-4.3 2.8h0m1.7 2.1h0m-7.3 19.5h0m4.5 -23.5h0m-3.1 38h0m9.3 -28.1h0m-1.8 -14.5h0m-8.3 46.6h0m10.9 -2h0m-10.8 1.9h0m2.5 -36.2h0m5.5 -7.5h0m-9.2 29.8h0m11.2 7.5h0m-4.1 -13.9h0m-3.5 -23.5h0m2.4 -2.6h0m4.3 1h0m-2.2 27.3h0m4 20.9h0m-4.9 -25h0m5.2 -13.9h0m4.8 -6.1h0m-6.1 27.2h0m0 10.1h0m-2.1 -24.6h0m7.4 -9.5h0m-6.8 1.9h0m2.4 11.1h0m-1.8 27.9h0m-10.3 -8.1h0m6.8 6.2h0m5.6 -25.4h0m-9.8 -7.8h0m5.9 9.9h0m-3 26.9h0m4.9 -14.4h0m.7 -26h0m-6.9 39.9h0m.5 -31.8h0m1.2 11.9h0m7.8 -27.1h0m-6.1 25.1h0m1.6 -28.5h0m3 28.2h0m-11.6 20.2h0m14.1 -28.8h0m-11.3 -10h0m12.2 1.7h0m-15.1 39.9h0m.9 -22.8h0m4.6 -23.1h0m-3 41.8h0m11.7 -28.8h0m-8.8 9.7h0m5.3 -25.4h0m-4.9 29.1h0m-3.6 7.8h0m-1.2 -24.9h0m5.5 4h0m.5 -2.8h0m-4.4 -8.6h0m-1 25.5h0m7.3 18.2h0m-7.9 -1.4h0m1.3 -37.8h0m-2.8 21.5h0m10.1 3.5h0m-8.1 2.1h0m8.4 -3.4h0m2.3 3.2h0m-.2 -16.4h0m-8.6 14.9h0m1.7 -13.6h0m1.5 -16.7h0m-4 -2.9h0m8.3 32.1h0m2.7 0h0m-4.9 -31.3h0m-5.2 25.4h0m8.6 2.4h0m-8.5 15.5h0m5.2 -40.2h0m-7.9 18.3h0m4.1 24.2h0m-3.1 -3.7h0m5.7 -32.8h0m-2.4 -4.7h0m8.6 -2.2h0m-4.8 -6.8h0m3.2 37.8h0m-7.6 -11.7h0m0 13.6h0m8.1 -29.5h0m-7.7 -8.8h0m4.6 16.2h0m-1 29h0m.1 -4.8h0m.7 -17.7h0m2.6 -16.9h0m2.2 22.1h0m-9.7 20.9h0m-.6 -7.5h0m8.7 -26h0m-3.4 14.6h0m3.5 3.1h0m.5 -6.3h0m-1.3 3.2h0m-3.3 13.8h0m-1.5 6.6h0m7.3 -47.8h0m-10.5 41.4h0m1 -39.4h0m.3 10h0m1.6 34.2h0m-.6 -16.1h0m8.5 -12.9h0m-5.5 20.6h0m-2.9 -39.6h0m-5.2 18.5h0m6.9 -19.4h0m-4.6 11.4h0m-4.1 22.5h0m5.1 -2.8h0m1.4 -17.7h0m8.3 -4.4h0m-11.3 40.9h0m3.9 -31.8h0m-.5 21.5h0m-1.9 -24.7h0m0 -2.9h0m.3 0h0m-1.2 34.4h0m10.6 -36.7h0m-11.1 28.1h0m6.5 -34.8h0m-2.6 18.4h0m-2.7 -.8h0m7.2 -20.7h0m-2.9 27.9h0m-3.2 -7.3h0m4.9 -6.2h0m2.4 27.5h0m-9.6 -6h0m10.2 -35.8h0m-5.6 43.4h0m6 -36.3h0m-5.5 -1.7h0m4.6 -3h0m-8 20.7h0m4.4 -1.8h0m-10.7 26.8h0m15.1 -45h0m-7.8 16.4h0m-.1 17.4h0m.6 -13.1h0m0 18.3h0m.7 -10.4h0m.9 -21.9h0m2.1 32.4h0m-6.7 5.9h0m-.3 -14.4h0m2.4 -22.3h0m4.4 -12.6h0m-5.7 30.1h0m4.9 -23.7h0m-3.9 5.1h0m-.5 20.3h0m-.2 15.7h0m1.6 -21.7h0m1.5 12.6h0m3.7 -37h0m-8.2 36.2h0m6.6 12.3h0m-3.5 -2.1h0m2.4 -36.9h0m7.7 -.5h0" stroke="#f0c93c" stroke-width="1.56" stroke-linecap="round" fill="none"/><path d="M325.2 258.2h0m5.9 -27.4h0m-2.9 32.6h0m-5.4 -6.6h0m0 12h0m-.3 -28.1h0m2.5 22h0m1.1 -23.3h0m3.6 1.1h0m-6.2 15.8h0m2.9 -24h0m-2.6 32.2h0m1 -10.2h0m0 -7.4h0m-.3 -22.3h0m-.9 52h0m.4 -.8h0m5.8 -36.8h0m-9.1 37.1h0m5 -1.9h0m.5 -43.8h0m.3 47h0m1.2 -49.7h0m2.3 5.6h0m-5.1 19.7h0m.6 11.9h0m-3 -12.2h0m3.7 -1.2h0m.7 -19.6h0m-.9 .3h0m1.5 7.6h0m-3.3 26.4h0m-1 -34.8h0m5.2 -3.5h0m2.4 5.2h0m-9.2 44.2h0m4.3 -30.3h0m-2.5 -1.9h0m-.4 28.9h0m.8 -4.8h0m1.6 5.7h0m-2.4 -49.2h0m-.3 21.4h0m-.7 17.6h0m6.6 -32.1h0m-5.9 22.7h0m1.2 -14.9h0m4.5 16.9h0m-1.5 -20.8h0m.9 13.2h0m2.6 -18.2h0m-7 14h0m3.8 29.5h0m-3.5 -20.7h0m1.1 -28.8h0m2.3 44.8h0m1.1 -41.2h0m-4.2 1.4h0m-.7 41.9h0m2.9 -19.2h0m-3.3 -1.7h0m2.4 -6.8h0m-4.3 31.8h0m5.9 -17.2h0m3.5 -16.8h0m-4.9 -14.6h0m-2.5 6.5h0m-1.3 19.3h0m8.2 -22.7h0m-7.9 24.5h0m4 -13.7h0m-5.2 24.1h0m4.8 -28.4h0m.5 15.3h0m-2.5 -20.4h0m3.9 16.1h0m-3.4 28.2h0m-2.1 -27h0m.3 -5.3h0m3.3 5.6h0m.5 24.8h0m-5.8 .5h0m8.5 -36.9h0m-7.1 17h0m.9 -22.7h0m7.3 10.2h0m-7.6 1.5h0m.9 6.2h0m7.1 -14h0m-3.3 7.4h0m.7 30.3h0m-1.1 -43.7h0m2.5 24.5h0m1.1 -16.3h0m-3.4 16.2h0m-2.6 -28.5h0m6.1 12.9h0m-4.3 -14.3h0m.8 29.8h0m3.3 -23.4h0m-8.1 31.8h0m4.2 -37.7h0m4.3 2.2h0m-4.7 10.3h0m-1.5 .1h0m1.7 35.3h0m.9 -46.7h0m3.8 .5h0m-1.7 5h0m.6 13.5h0m-1.3 5.8h0m.6 -15.2h0m-3.2 -3.4h0m2.8 32.1h0m0 -5.5h0m-2.8 -6.4h0m-1.5 -19.9h0m5.7 5.7h0m-4 3.9h0m-1.4 -11.2h0m1.3 24.1h0m-5.3 19.1h0m8.3 -18.9h0m-2.9 7.4h0m-.1 1.1h0m-3.8 -17.7h0m2.1 1.7h0m6.3 -20.2h0m-6.9 48h0m4.3 -48.8h0m-2.1 12.6h0m.9 2h0m.7 -6.9h0m1.7 1.1h0m-5.9 30.6h0m5.5 -14.4h0m-4 24h0m2.3 -9.1h0m2.9 -31.6h0m-3.3 -7h0m1.5 21.1h0m-.5 .1h0m.6 -16.9h0" stroke="#1f6eb0" stroke-width="1.56" stroke-linecap="round" fill="none"/><path d="M300 227.5h0m4.4 12.2h0m-5.3 33.4h0m4.2 4.4h0m7.6 -14.2h0m-4.7 -2h0m3.4 -6.9h0m-6.1 18.3h0m3 -44.5h0m-8.7 21h0m9.5 7.9h0m5.5 -22.8h0m-1.8 43.2h0m-2.6 -38.4h0m-7.6 -14.6h0m10.3 47.5h0m-3.4 -33.6h0m1.5 11.1h0m-3.2 14.3h0m2.8 -4.9h0m-4.8 -5.6h0m3.6 9.5h0m-4.4 -17.6h0m5.2 -1.9h0m2.4 -9.1h0m-5.4 41.6h0m9 -44.2h0m-17.5 39.9h0m8.9 -18.3h0m-3.3 -12.7h0m-.7 8.4h0m6 11.8h0m3.8 -12.1h0m-1.9 13.3h0m1.6 -2.3h0m-6.6 8.6h0m8.2 -40.5h0m-8.2 18.2h0m7.6 15.5h0m-7.9 12.3h0m-4.4 -1.7h0m-2.8 -17.7h0m6.3 -27.6h0m-1.6 18.3h0m-.8 -3.8h0m6.3 14h0m1.8 4.2h0m-9.6 5h0m-.7 -11.2h0m-1.7 13.5h0m5.2 -40.7h0m12.5 1.9h0m-6.7 14h0m-9.8 -17.1h0m-1.3 20.1h0m14.4 -8.3h0m-8.9 10h0m10.2 -2.1h0m-2.4 -3.1h0m-11.4 -9.1h0m15.6 -.4h0m-10.6 5.5h0m2.4 34.3h0m-9.4 -12h0m11.1 -5h0m5.3 -8.6h0m-7.1 25.3h0m2.5 -32.3h0m-4.8 -5.8h0m.9 31.3h0m-5.2 -1.5h0m2.5 3.7h0m-2.8 -22h0m-1 -8.8h0m10 1.7h0m3.3 -10.8h0m-6.7 36.7h0m1.7 -16.7h0m-7.7 11.5h0m6.6 -17.7h0m-6.7 15.5h0m14.2 -24.6h0m-6.8 30h0m-6.6 8.1h0m13.7 -38.8h0m-1.8 32.8h0m-4.8 -11.1h0m-6.2 13h0m13.1 -38.9h0m-16.8 3.1h0m7.5 20.3h0m-3.3 13.4h0m7.6 -16.7h0m-1.1 .1h0m-4.8 2.9h0m-4.9 16.8h0m11.9 -18.8h0m-9.3 -10.4h0m-1.7 13.7h0m6.3 10.4h0m0 -19.1h0m-.6 20.4h0m2.9 10h0m3.4 -41.8h0m-.9 8.2h0m-11.6 35.1h0m3.7 -40.7h0m.3 31.1h0m-.6 -38.7h0m-2.2 3h0m6.9 24.8h0m-.4 12.5h0m-7.8 -32.5h0m15.1 11.4h0m.1 -5.1h0m-9.5 22.7h0m-5.5 -8.5h0m8.6 10.3h0m-5.7 -3.6h0m6.3 -8.3h0m1.8 6.4h0m-7 11.6h0m-5.1 -20.6h0m8 20.9h0m.4 -23.6h0m1.3 29.3h0m-8.8 -17.1h0m5.5 -10.7h0m-5.9 -19.1h0m15.8 14.9h0m-11.3 25.4h0m3 -15.3h0m-.4 20.5h0m-1.3 -37.6h0m6.7 30.4h0m-1.3 -26.6h0m1.1 -13.1h0m.3 33.4h0m-10.9 -22.3h0m8.9 21.6h0m-2.9 -37.3h0m-2.9 39.8h0m-2.5 -15.3h0m7.4 29.2h0m4.6 -49.5h0m-11.4 15.5h0m4.4 -12h0m-1.6 31.2h0m-.4 -29.9h0m5.2 10.8h0m1.1 2.2h0m.4 -15.7h0m-11 32.9h0m3.5 -15.6h0m2.4 21.8h0m2.3 -32.5h0m-2.9 17.5h0m-1 -10.6h0m7.1 -10.4h0m-2.9 15.9h0m-10.3 18.2h0m3.4 -21h0m9.3 -8h0m-8.9 1.5h0m5.2 24.4h0m3.5 10.6h0m-11 -46.7h0m6.9 1.3h0m-7.1 30.5h0m6.6 -14.1h0m-7.7 -16.5h0m.9 22.7h0m5.8 6.1h0m4.7 .1h0m-3.1 -30.6h0m2.7 -3.6h0m3.4 6.4h0m-1.1 -2.9h0m-6.1 37.8h0m-4.6 6.3h0m8.9 3.3h0m-1.3 -40.2h0m-8.2 18.8h0m.9 11.1h0m6.1 10.5h0m2 -1.2h0m-4.4 -29.7h0m4.8 2.9h0m-8.1 7.6h0m8.7 -7.7h0m-4.1 -9.5h0m-6.8 17.9h0m6.6 21.9h0m-7.7 -12.3h0m14.9 -34.6h0m-11.1 44.3h0m7.7 -50.3h0m-7.1 36.8h0m1.7 -20.6h0m5 -16.3h0m-9.3 .5h0m10.9 25.6h0m-9.9 9.2h0m6.9 -4.6h0m-7.2 17.1h0m5.3 -28.9h0m7.2 -14.4h0m-5.1 33.3h0m1.2 -20.7h0m-6 33.9h0m-2.5 -45.4h0m9.5 -4.7h0m1.7 43h0m.4 -44.3h0m-5.4 35.1h0m-7.9 -5.3h0m15.4 -20.3h0m-15.9 .4h0m4.5 -6.3h0m6.2 35.7h0m-.2 .1h0m-4.6 -36.6h0m-2.6 41.4h0m-3.3 -10.6h0m13.2 15.8h0m-9.8 -49.1h0m9 41.2h0m-4.6 -5.2h0m1.3 -28.9h0m2.4 24.8h0m-6.6 5.5h0m-2.3 -4.1h0m2 -30.1h0m12.1 2.5h0m-13.1 4.1h0m1.3 28.2h0m9.3 -1.9h0m-11.5 -3.5h0m.2 -16.6h0m3.2 -8.4h0m2.2 18.4h0m-1 -17.3h0m3.4 36.4h0m-1 -45.1h0m-1.9 10.2h0m-2.7 16.7h0m4.6 25.2h0m-3.8 -50h0m6.2 27.4h0m-7.1 13.9h0m2.2 -20.3h0m-4.4 3.3h0" stroke="#bdbdbd" stroke-width="1.56" stroke-linecap="round" fill="none"/><path d="M373.4 269.3h0m2.4 -24.2h0m-7.9 22.6h0m-.8 2.9h0m-12.1 -.4h0m13.6 .9h0m7.4 -23h0m-20.8 24.4h0m15.4 -9.9h0m-14.9 11.9h0m2.4 -16.2h0m14.3 -29.9h0m-11.4 43.8h0m.6 3.6h0m13 -24.3h0m-18.4 2.5h0m5.5 2.7h0m6.6 19.1h0m8.6 -2.2h0m-20.7 -11.9h0m-2.6 5.9h0m-1.1 -2.7h0m19.4 -5.3h0m-16.2 -6.8h0m3.2 6.8h0m-2.2 9h0m20.3 -24.6h0m-2.3 -17.1h0m-2.5 40h0m4.7 -7.8h0m-21.2 3h0m3.6 -3.2h0m17.8 7.9h0m-17 -11.2h0m-7.7 12.3h0m2.5 -8.6h0m12.4 -6.1h0m5.3 -29.4h0m-6.1 43.8h0m3 4.4h0m-5.8 -9.9h0m6.2 -2.5h0m-3.2 17.3h0m-12.1 -10.6h0m-2.3 -3.6h0m.5 -11h0m.1 5.8h0m6.4 13.6h0m16.1 -39.3h0m-15.9 44.1h0m14.5 -7.8h0m-14.8 -13.8h0m11.5 22.6h0m-18.5 -.4h0m3 -13.2h0m1.2 5h0m-6.6 -15.2h0m24.1 -17.5h0m-13.7 25.3h0m17 2.5h0m-21.4 -12.1h0m-3 2h0m10.4 15.3h0m1.2 -5.7h0m7.1 -6.3h0m-21.7 -.5h0m8.5 13.4h0m8.5 5.3h0m5.1 -2.9h0m2.1 -25.9h0m-15.8 20.2h0m-7.3 -11.3h0m25.3 18.2h0m-13.7 .9h0m10.8 -48.9h0m-14 35.7h0m16 7.8h0m-20.3 -15.8h0m-3.1 -.7h0m19.9 24.3h0m-6.6 -21.4h0m-3.3 16.2h0m7.6 -19.8h0m-8.9 -.6h0m-4.2 25.6h0m.7 -9.5h0m18.9 3.7h0m.3 -13.3h0m-23.7 8.7h0m17.4 6.8h0m-7.1 -20.2h0m14.8 -.5h0m-4.7 19.4h0m3.2 -41.3h0m-.8 35.8h0m-17 2.8h0m-8.2 -13.9h0m16.1 4.5h0m-8.9 -5h0m19.1 -18.6h0m-17.4 37.2h0m-4.3 -1.2h0m.8 -14.7h0m2 5.6h0m16.9 -26h0m-5.6 23.3h0m-8 1.4h0m0 -4.3h0m-9.1 5.5h0m9.3 -6.5h0m4.6 -.7h0m-11.4 6h0m-4.8 8.9h0m10.8 -11.3h0m2 17.8h0m14.7 -18.7h0m-18.3 2.4h0m-5.5 -2.7h0m12.8 6.2h0m9.2 -7.7h0m-22.5 .2h0m8.5 10.3h0m-5.3 6.5h0m-.7 -17.1h0m8.3 -1.6h0m-10.9 .9h0m24 13.2h0m-5.5 -33.7h0m.5 33.8h0m-17.2 -15.1h0m.8 15h0m2.9 1.2h0m-7.3 -13h0m26.3 -16.3h0m-26.9 24.4h0m24.6 -29.9h0m-14.2 34.3h0m-.6 -.6h0m1.8 -3.5h0m15.3 -20.3h0m-19.4 20.2h0m2.7 11.8h0m15.6 -21.6h0m-17 -3h0m4.3 23.5h0m1.8 -2.5h0m7.7 -22.4h0m-13.8 5.6h0m1.4 -1.4h0m3.3 5h0m-3.9 16.3h0m-10.1 -20.3h0m22.8 7.5h0m4.1 -39.1h0m-7.2 36.2h0m-13.3 -4.6h0m-3.1 4.7h0m-.5 6.4h0m8 5.6h0m12.6 -25h0m-1.6 -19.9h0m-17.1 23h0m-.4 .8h0m20.5 -7.2h0m-11.8 6.4h0m-7.2 .5h0m-5.2 4.6h0m9.8 13h0m1.9 6.8h0m4.6 -4.9h0m-15.6 -2.3h0m5 -16.4h0m20.5 14.1h0m-22.4 -8.5h0m16.4 -.7h0m-19.6 8.4h0m6.6 -5.9h0m20.2 -32.1h0m-22.6 48.7h0m9 -10.9h0m8.7 -33.6h0m-13 38.2h0m18 -2.3h0m-1.5 -11h0m-26.8 2.7h0m19.5 9.3h0" stroke="#ad2742" stroke-width="1.56" stroke-linecap="round" fill="none"/><rect x="263.3" y="221.1" width="119.7" height="59.1" fill="none" stroke="#222" stroke-width="1"/><text x="451.1" y="215.7" text-anchor="middle">CellCharter</text><path d="M445.8 253.9h0m1.5 -2.8h0m-.2 -3.6h0m-20.1 25.6h0m11.8 -9.8h0m10.2 -27.2h0m1.7 20.7h0m-.3 -16.1h0m-28.1 -9.4h0m11.8 30h0m11.9 -3.9h0m-14.6 15.3h0m3 -44.5h0m18.5 34.5h0m1.1 -23.3h0m-12.4 35.8h0m2.2 -7.6h0m4.7 -26.8h0m-27.4 19.9h0m23 -16.7h0m8.6 2.9h0m-12 -12.6h0m11.7 -9.7h0m-.9 52h0m-27 -3.8h0m23.1 -48.5h0m-23.9 48.2h0m28.2 3.3h0m-3.9 -42.9h0m-11.7 6.2h0m-7.6 -14.6h0m18.9 51.9h0m6.5 -46h0m-18.5 8h0m7.2 18.9h0m-5.7 -7.8h0m-.4 9.4h0m-4.8 -5.6h0m-.8 -8.1h0m7.6 -11h0m14.1 18.8h0m-19.5 22.8h0m17.1 -23.1h0m3.7 -1.2h0m-29.4 19h0m30.1 -38.6h0m-7.2 43.2h0m6.3 -42.9h0m-23.5 8.3h0m5.3 20.2h0m3.8 -12.1h0m15.9 -8.8h0m-22.8 28.4h0m-11.5 -36h0m21.9 19.1h0m-10.4 -5.4h0m19.5 20.3h0m-1 -34.8h0m-18.8 42.3h0m-4.4 -1.7h0m28.4 -44.1h0m-8.8 3.5h0m2 45.9h0m4.3 -30.3h0m-2.5 -1.9h0m-21.5 -.1h0m-.8 -3.8h0m6.3 14h0m15.6 18.8h0m-2.8 -39.1h0m-26.1 24.6h0m1.7 7.5h0m3.1 -13.8h0m24.9 16h0m-21.4 -43.2h0m-10.4 50h0m22.9 -48.1h0m-23 14.5h0m6.5 -17.6h0m-1.3 20.1h0m5.5 1.7h0m-9.5 -7.1h0m-1.1 -13.6h0m2.1 31.9h0m21.1 -12.9h0m-4.8 -3.5h0m-11.4 -9.1h0m21.4 .4h0m-25.8 -3.9h0m20 3.1h0m8.1 23.4h0m-18.7 -17.9h0m-7 22.3h0m22.8 -2.9h0m-11.7 -2.1h0m15.8 -14.3h0m-30.5 19.9h0m1.2 -10h0m14.2 -11.2h0m-4.8 -5.8h0m10.3 24.4h0m-14.6 5.4h0m2.5 3.7h0m-3.8 -30.8h0m14 25.7h0m-19.2 -17.1h0m13.5 2.3h0m17 7.4h0m-30.2 1.8h0m23.8 -.4h0m4.9 -19.3h0m-26.4 30.8h0m3.2 -8.8h0m14.1 -26.8h0m-6.8 30h0m-6.6 8.1h0m18.5 4.3h0m-1.5 1.1h0m11.5 -46h0m-8.9 11.7h0m-7.7 22.9h0m-4.8 -11.1h0m-6.2 13h0m13.1 -38.9h0m9.6 45.7h0m-22.2 -8.9h0m7.6 -16.7h0m17.5 6.4h0m-33.5 -24.1h0m10.1 20.7h0m7 -2h0m-9.3 -10.4h0m21 1h0m-27.6 9.7h0m31.6 -20.2h0m-3.8 25.8h0m4.3 -11.9h0m-7.8 -5.4h0m7.9 16.4h0m-34.6 -28h0m36 23.7h0m-28 -19.5h0m6.9 24.8h0m10.5 -25.5h0m-22.9 40h0m2.2 4h0m9.8 -6h0m-7.8 -32.5h0m15.6 11.8h0m6.5 29.7h0m-4.5 -14.7h0m13 -22.2h0m-7.1 17h0m-29.1 14.9h0m20.7 -25.1h0m4.2 -1.8h0m-4.1 -3.3h0m4.8 3.9h0m-25.1 21.2h0m18.9 12h0m-13.6 -22.9h0m8.6 10.3h0m-5.7 -3.6h0m1.1 9.7h0m-10.9 -9.1h0m6.7 -2h0m5.5 -10.7h0m-8.1 -9.4h0m2.2 -9.7h0m22 21.5h0m-6.2 -6.6h0m6.1 7.5h0m-1.5 -7.1h0m1 27.1h0m-27.1 -24.4h0m12.8 27.5h0m-1.3 -37.6h0m18.7 6.7h0m.9 6.2h0m-2.9 -24.7h0m-5.8 14.9h0m-11.9 22.8h0m24 -33h0m-26.5 17.7h0m21.3 -3.1h0m-13.9 32.3h0m4.6 -49.5h0m-11.4 15.5h0m4.4 -12h0m14.8 8.5h0m-16.8 -7.2h0m6.3 13h0m-13.5 -5.1h0m17.8 10.8h0m-11.4 -4.1h0m11.3 4.4h0m13.2 3.2h0m-8.4 -6.1h0m-15.3 -5.3h0m7.1 -10.4h0m-2.9 15.9h0m-10.3 18.2h0m27.2 -40.8h0m-23.8 19.8h0m13.1 6.8h0m-3.8 -14.8h0m-3.7 25.9h0m20.8 -9.3h0m-4.8 8.4h0m4.2 -37.7h0m-27.9 34.3h0m6.6 -14.1h0m11.1 10h0m-22.6 -18.9h0m1.5 29.2h0m13.7 -7.9h0m10.4 -23.4h0m-25.8 .9h0m25.5 -11.2h0m-7.1 5.9h0m3.1 36.5h0m-21.6 -42.4h0m32.7 13.6h0m-29 -2.6h0m3 36.1h0m-5.9 -35.9h0m14.8 39.2h0m-13.6 -42.7h0m31.8 -5.4h0m-31.8 18.1h0m27.1 -19.6h0m-5.5 1.4h0m12.3 5.6h0m-13.4 36.9h0m-20.2 -12.4h0m1.1 1.7h0m11.7 15.4h0m-12.8 -15.6h0m21.1 13.1h0m1.6 -38.1h0m-8.9 13.7h0m6 28.9h0m2.3 -17.8h0m2.5 -4.6h0m1.8 -14.3h0m-28.1 8.1h0m26.5 19.2h0m-15.1 -29h0m11.3 7.8h0m-21.8 -1.5h0m.2 -10h0m29.4 -.5h0m-28.7 32.4h0m22.4 -.6h0m8 -22.2h0m-1.4 -11.2h0m-9.6 34.2h0m-13.9 8.8h0m7.7 -50.3h0m-13.2 4.9h0m25 45.6h0m-21.5 -50.1h0m1 34.8h0m-3.7 -10.5h0m-.2 -19h0m29.8 33.3h0m-20.9 -20.2h0m8.6 12.4h0m-5.3 -14.2h0m6.4 8.4h0m-12.4 25.5h0m23.5 -10.8h0m-16.5 -39.3h0m1.7 43h0m4.7 -15.4h0m-4.3 -28.9h0m-5.4 35.1h0m-7.9 -5.3h0m-2.2 21.2h0m23.5 -11h0m-17.3 -36.4h0m6.2 35.7h0m15.2 13.1h0m-6.3 -18.3h0m-.8 -22.6h0m-8.3 27.9h0m-4.6 -36.6h0m22.2 13.4h0m-28.1 17.4h0m13.2 15.8h0m-9.8 -49.1h0m14.7 15.1h0m-9 -8h0m11.9 -6.8h0m8.7 10.7h0m-24.8 26.4h0m-.3 -34.2h0m-8.5 46.1h0m20.6 -43.6h0m-11.8 32.3h0m-8.7 5.6h0m6.5 -11h0m.2 -16.6h0m5.4 10h0m12.9 16h0m-13.9 -33.3h0m21.6 -4.1h0m-8.8 24.2h0m.4 -15.6h0m-12.7 -3h0m11.1 1.2h0m11 14.4h0m-24 -23.7h0m-.9 41.3h0" stroke="#bdbdbd" stroke-width="1.56" stroke-linecap="round" fill="none"/><path d="M416.5 251.3h0m.6 -14.5h0m2.1 35.9h0m-3.5 -18.9h0m1.4 9.3h0m-19.1 -24.9h0m4.9 -5h0m11.9 14.8h0m-15.1 22.7h0m16.1 -46.4h0m-16.5 43h0m10.7 -21.9h0m-2.1 -19.6h0m8.2 22.4h0m1.6 -4.2h0m-8.6 17.9h0m2.9 2h0m6.6 -17.3h0m-2.7 -19.5h0m-7.8 6.6h0m7 30.8h0m-1.6 -32.3h0m4.7 30.9h0m-6.5 -34.3h0m-13.4 12.8h0m12.8 30.8h0m1 3h0m-12.5 -3.3h0m18.8 -14.3h0m-17.2 -1.8h0m14.8 -24.1h0m-1 5.6h0m-12.1 8.3h0m9.2 2.4h0m-.4 -3.3h0m-7.5 16h0m8.9 13.2h0m-7.8 -2.9h0m7.5 -15.4h0m-1.7 6h0m7.6 -23h0m-22.4 14.2h0m13.7 -25.8h0m-2.6 34.5h0m2 -20.2h0m2.9 -8.3h0m-2.9 8h0m6.1 -16h0m-6.2 2.6h0m6.4 1.7h0m-7.6 47.4h0m4.4 -19h0m-5.3 -32.2h0m8.8 4.9h0m1.7 46.7h0m1.5 -33.6h0m-4.7 15h0m-6.1 7.5h0m2.1 -37.7h0m2.7 47.4h0m-.1 -8.1h0m-13.7 -38.1h0m1.9 16.4h0m7.9 -5.1h0m.6 29.7h0m-2 -7h0m6.4 -21.1h0m-15.7 10.1h0m8.9 1.5h0m9.1 -2.1h0m-1 -20.3h0m1 4.4h0m-18.8 14.4h0m19.7 -19.5h0m-.9 11.3h0m-2.4 -9.3h0m.9 29.6h0m-11.1 -36.1h0m11.1 16.3h0m-17.3 -11.2h0m9.6 26.3h0m4.3 -23.4h0m4.8 23.3h0m.3 -21.4h0m.5 -6.7h0m.2 12h0m-5.4 3.7h0m-1.3 20.2h0m3.3 -40h0m2.3 37.4h0m-16.8 -30.6h0m13.2 -.7h0m-4.5 -6h0m10.7 .4h0m.2 32.2h0m-9.9 -29.5h0m9.1 10.5h0m-1.1 -9.2h0m-17.2 16.2h0m13.4 30.7h0m-5.5 -45.9h0m-6.7 13.4h0m-1.4 -16.6h0m-1.9 36.9h0m17.1 12.2h0m-1.5 -22.8h0m-7.4 .7h0m2.9 7.5h0m5.1 -36.1h0m-14.7 23.9h0m4.2 -10.7h0m15.5 -15.6h0m-7.9 6.9h0m.1 9.2h0m7.6 -5.3h0m-5.8 -10.2h0m-4.4 1.3h0m3.1 38.5h0m-6.2 -28.4h0m12.9 -1.8h0m-4 17.1h0m-.1 20.2h0m-.2 -28.6h0m-5.9 30.6h0m2 -22.4h0m-2.6 -.9h0m1.5 -14.5h0m7.3 -8.3h0m-.7 23.5h0m-2.5 -6.4h0m2.4 -4.4h0m-4.1 10h0m4.4 24.9h0m2.9 -10.9h0m-5.6 -14.4h0m5.3 6h0m-3 -26.9h0m-.6 2.6h0m-7.5 42h0m9.2 -40.1h0m-4.4 42.4h0m2.9 -38h0m-3.9 9.6h0m-1.2 -9.1h0m-1 18.9h0m10.1 6.3h0m-3.1 5.2h0m-.7 .8h0m-7.6 2.8h0" stroke="#2bb5ec" stroke-width="1.56" stroke-linecap="round" fill="none"/><path d="M483.2 228.8h0m-14.3 19.6h0m4.9 -7.7h0m17.4 -7.1h0m-14.2 28h0m-6.4 -26.9h0m-7 29.7h0m19.5 8.1h0m-15.5 -37.7h0m16.3 -1.7h0m5 39.1h0m-7.2 -47.2h0m13.5 15.7h0m-23.8 -6.8h0m-6.2 11.6h0m3.4 8.9h0m-10.9 -15.4h0m4.7 -9.1h0m8 23.5h0m1 -13.6h0m12.2 13h0m-25.7 -19.5h0m.2 15.1h0m29.9 7.2h0m-7.7 12.3h0m-12.7 -38.4h0m20.2 4.9h0m-29.1 -1.3h0m31.3 12.7h0m-11.3 -5.7h0m-12.3 -11.5h0m8.2 26h0m-13.8 -26.1h0m27.9 15.8h0m2.1 -9.5h0m-21.5 40.3h0m3.8 -21.6h0m22.9 -27.7h0m-11.9 4.7h0m-4 46h0m-25 -1.5h0m21.9 2h0m-9.6 -2.8h0m24.9 -11.3h0m-6.1 6.6h0m-20.6 -20.5h0m12 -11.6h0m-1.2 28.1h0m-14.6 -21.9h0m7.5 9.6h0m-11.6 20.2h0m30.9 -30.4h0m-12.3 11.7h0m-1.5 -7.7h0m-17.2 29.2h0m31.5 -50.6h0m-30.6 27.8h0m26.1 -24.4h0m-8.4 45.5h0m-12.8 -17.8h0m14.1 -7.3h0m6.4 1.2h0m9.2 4.4h0m-3.3 16.2h0m-1.3 -20.4h0m-4.2 25.6h0m-13 -9.8h0m9.2 -.6h0m-4.6 -25.1h0m-8.7 20.8h0m.3 -1.3h0m7.5 -34.1h0m-14.8 2.6h0m11 32.1h0m-10.1 -5.9h0m13.5 -21.4h0m14.2 23.4h0m-9.1 5.5h0m-21.2 -11.5h0m31.7 25.7h0m-14.7 -7h0m11.1 -9.3h0m-20 -35.4h0m3.2 37.8h0m.5 -27.6h0m20.8 1.8h0m-2 29.7h0m-6 -10.6h0m-13.5 -23.9h0m17.1 -3.6h0m6.4 -1.2h0m-16.1 12.5h0m-15.5 27.8h0m8.7 -26h0m6.4 29.2h0m-.1 -14.2h0m13.2 8.5h0m-4.1 -.1h0m-2.4 -38.2h0m2.8 23.4h0m-5.2 -6.9h0m-16.4 31.7h0m28.4 -32.4h0m-8.2 -7.4h0m7 24.8h0m-16.4 -24.3h0m-13.2 21.5h0m-1.6 18.8h0m1.5 -37.9h0m-.9 34.4h0m3.4 -25h0m-2.7 -.8h0m3.9 -15.2h0m-9.7 42.7h0m7.8 -24.3h0m14.5 6h0m-.4 -22.9h0m-16.3 22h0m1 -18.6h0m-.5 20.3h0m-5.5 -4.4h0m6.9 -1.6h0m8 16.7h0m-7.9 5.3h0m24.4 -25.6h0m5.7 -16.4h0m-3.9 2.3h0" stroke="#ad2742" stroke-width="1.56" stroke-linecap="round" fill="none"/><path d="M406.2 267.3h0m-8.3 -15.1h0m103.4 17.1h0m2.4 -24.2h0m-97.6 10h0m-5.6 20.4h0m103.4 -27.4h0m-5.4 14.5h0m1.8 -34.2h0m2.2 23.1h0m2.3 22.1h0m-5 -14h0m-98.6 14.2h0m3.1 -1.3h0m-3.7 -45.5h0m96.6 19.8h0m-90.3 24h0m98 -26.8h0m-2.3 -17.1h0m-2.5 40h0m4.7 -7.8h0m-107.4 -9.9h0m107.6 17.6h0m-101.1 -36.3h0m96.6 -6.7h0m-3.1 48.2h0m-92.5 -36.2h0m92.9 23.8h0m.3 -9h0m-99.6 -9.5h0m.3 3.7h0m4.3 .7h0m100.2 -13.7h0m-1.4 36.3h0m-3.3 8.8h0m-95.3 -5.1h0m98.5 -36.2h0m3.3 27.8h0m-5.7 -6.8h0m-96.1 -10.3h0m2.6 -3h0m-2.4 5.3h0m96.3 23.3h0m2.1 -25.9h0m-100.2 22.7h0m.3 -39.9h0m.4 36h0m101.7 8.3h0m-104.4 -26.1h0m3.6 21.1h0m-.3 -8.5h0m98.2 -34.5h0m2 43.5h0m-99.8 4.3h0m1.8 -37.2h0m94.5 40.7h0m-2.3 -25h0m-101 -.9h0m6.9 9.1h0m100.6 11h0m.3 -13.3h0m-6.3 15.5h0m7.7 -20.7h0m-4.7 19.4h0m-99.6 -9.5h0m.9 -12.8h0m101.9 -19h0m-.8 35.8h0m1.1 -30.2h0m-105.9 25.4h0m.2 -21.3h0m103.7 -3.2h0m-102.1 -6.9h0m-3.9 11.6h0m108.5 16.7h0m-97.9 -32.4h0m-9.6 23.7h0m105.7 6.9h0m-96.2 -27.6h0m-10.5 24.5h0m108.1 15.5h0m-5.5 -33.7h0m.5 33.8h0m-100 -19.2h0m105.5 -9h0m-98.8 -5.6h0m96.5 .1h0m-106.1 10.1h0m.9 -3.9h0m107.5 3.7h0m-101.6 -2.5h0m3.7 32.3h0m-7.8 -13.4h0m104.6 -6h0m-102.2 6.1h0m99 -10.5h0m-95.8 -4.4h0m1.3 13.5h0m94.2 3.6h0m4.1 -39.1h0m-106.1 8.1h0m7.1 20.2h0m91.8 7.9h0m-100.3 3.5h0m104 -16.4h0m-1.6 -19.9h0m-92.8 34.9h0m-5.8 -23.3h0m101.6 5h0m-104.6 3.4h0m106.6 18.4h0m-98.2 -.8h0m-4.6 -1h0m2.9 -18.1h0m93.9 10.7h0m-101.5 -12.8h0m9.4 12.5h0m99.3 -29.3h0m-4.9 4.2h0m-94.5 8.9h0m91.7 1.1h0m-97.2 -5.2h0m-1.5 5.3h0m-2.3 .7h0m108.8 25.1h0m-1.5 -11h0m-97.7 5.9h0m-.3 -16.9h0" stroke="#1f6eb0" stroke-width="1.56" stroke-linecap="round" fill="none"/><path d="M467.9 256.9h0m-2.7 8.7h0m1.6 -35.6h0m-.2 -.8h0m-4.4 14.6h0m.2 2.6h0m11.1 -8.8h0m-11.9 1.9h0m-4 30.1h0m1.4 -38.8h0m13 24.4h0m-6 -5.5h0m-9.9 13.7h0m8.7 -19.1h0m-1.8 -16.2h0m-2.8 12.7h0m5 7h0m2.8 19.4h0m3.3 -32.7h0m-14.7 30.6h0m15.2 9.5h0m-5.5 -22.7h0m-8.7 -11.4h0m1.5 -5.9h0m12.9 -7.3h0m-8 46.2h0m1.4 -15.4h0m.9 -.8h0m-3.1 -30.4h0m6.3 21.4h0m-9.4 -2h0m-5.7 31.1h0m3.8 -21.8h0m6.4 9.5h0m7.7 -26.1h0m-12 33.7h0m-4 -5h0m9.8 9.5h0m-2.3 -37.8h0m-.5 -7.1h0m1.7 2.1h0m-7.3 19.5h0m4.5 -23.5h0m-3.1 38h0m9.3 -28.1h0m-1.8 -14.5h0m5.2 38.7h0m-13.5 7.9h0m14.1 -20.3h0m-3.2 18.3h0m-10.8 1.9h0m2.5 -36.2h0m-3.7 22.3h0m11.2 7.5h0m-4.1 -13.9h0m7.7 16.4h0m-8.8 -42.5h0m4.3 1h0m-2.2 27.3h0m-9 3.1h0m8.1 -7.2h0m5.2 -13.9h0m2.7 16.9h0m-14 -21.6h0m10 25.8h0m0 10.1h0m-2.1 -24.6h0m7.4 -9.5h0m-3.1 41.4h0m-3.7 -39.5h0m2.4 11.1h0m-14.2 24h0m2.1 -4.2h0m6.8 6.2h0m5.6 -25.4h0m-9.8 -7.8h0m12.7 20.8h0m-9.8 16h0m4.9 -14.4h0m.7 -26h0m-6.9 39.9h0m1.7 -19.9h0m7.8 -27.1h0m-6.1 25.1h0m1.6 -28.5h0m3.9 48.7h0m1.6 -29.1h0m-11.3 -10h0m12.2 1.7h0m-9.6 -6h0m-3 41.8h0m11.7 -28.8h0m-8.8 9.7h0m-4.7 -10.5h0m10 -14.9h0m3 42.2h0m-13.5 -38.8h0m2 33.5h0m-1.2 -24.9h0m5.5 4h0m.5 -2.8h0m-4.4 -8.6h0m-1 25.5h0m7.3 18.2h0m-7.9 -1.4h0m13.8 -23h0m-.9 22.9h0m-11.6 -37.7h0m-2.8 21.5h0m2 5.6h0m10.7 -.2h0m-.2 -16.4h0m-8.6 14.9h0m1.7 -13.6h0m1.5 -16.7h0m-6.4 11.1h0m10.7 18.1h0m-2.2 -31.3h0m3.4 27.8h0m-8.5 15.5h0m-3 -36.4h0m8.2 -3.8h0m-10.8 41.5h0m7 1h0m-3.1 -3.7h0m5.7 -32.8h0m-2.4 -4.7h0m8.6 -2.2h0m-1.2 43.9h0m-13.2 -20.7h0m13.5 21.1h0m-8.3 -25h0m8.8 25.8h0m-8.8 -12.2h0m.4 -38.3h0m4.6 16.2h0m-1 29h0m.1 -4.8h0m.7 -17.7h0m4.8 5.2h0m-13.7 -15.6h0m4 36.5h0m-3.9 -35.9h0m-.2 -7.9h0m8.8 24.9h0m-8.4 -28.6h0m11.9 31.7h0m.5 -6.3h0m-1.3 3.2h0m-3.3 13.8h0m-1.5 6.6h0m7.3 -47.8h0m-10.5 41.4h0m1 -39.4h0m.3 10h0m8.8 27.6h0m-7.8 -9.5h0m8.5 -12.9h0m-5.5 20.6h0m4.2 .4h0m-7.1 -40h0m-5.3 .1h0m.1 18.4h0m6.9 -19.4h0m-4.6 11.4h0m-3.5 8.1h0m-1.3 5.8h0m.7 8.6h0m6.5 -20.5h0m8.3 -4.4h0m-15.3 29.8h0m7.9 -20.7h0m-.5 21.5h0m-7.4 -6.3h0m5.5 -18.4h0m.3 -2.9h0m9.4 -2.3h0m-11.1 28.1h0m6.5 -34.8h0m-9.2 9.7h0m11.1 -12.8h0m-2.9 27.9h0m-3.2 -7.3h0m4.9 -6.2h0m2.4 27.5h0m-9.6 -6h0m-3.8 -6.1h0m14 -29.7h0m-5.6 43.4h0m6 -36.3h0m-.9 -4.7h0m-8 20.7h0m4.4 -1.8h0m4.4 -18.2h0m-7.8 16.4h0m-.1 17.4h0m.6 5.2h0m.7 -10.4h0m.9 -21.9h0m-7 -7.8h0m9.1 40.2h0m-6.7 5.9h0m-.3 -14.4h0m2.4 -22.3h0m4.4 -12.6h0m-.8 6.4h0m-9.5 4.8h0m4.9 36.3h0m10.4 -9h0m-7.3 -.1h0m3.7 -37h0m-8.2 36.2h0m6.6 12.3h0m-9.3 -39.2h0m8.2 .2h0" stroke="#f0c93c" stroke-width="1.56" stroke-linecap="round" fill="none"/><path d="M453.1 258.2h0m-25.2 -30.7h0m12.2 41.8h0m-7.8 -29.6h0m-1.1 37.8h0m13.3 -8.7h0m-20.2 -44.4h0m26.4 44.4h0m-31 -22.8h0m26.4 -20.9h0m-8.6 29.3h0m13.9 1.9h0m-25.7 -7.1h0m9.5 7.9h0m-11.5 -22.7h0m30.6 -2.1h0m-32.6 31.3h0m30 .9h0m1 -10.2h0m-13.8 23.2h0m-14.5 -32.1h0m18 6.7h0m-3.4 19.9h0m9.6 4.1h0m5 -1.9h0m-7.4 -39.5h0m9.4 -7h0m-21.7 36.1h0m8.9 -26.2h0m-7.3 25.2h0m8.8 4.1h0m-8 -23.6h0m-13.2 -7.7h0m30.3 29.3h0m-11.1 -33.3h0m-20.3 30.7h0m-1.2 -28.6h0m4 37.8h0m8.9 -18.3h0m15.4 -17.6h0m-7.2 37.5h0m-12.2 -24.2h0m7.9 13h0m1.6 -2.3h0m1.6 -31.9h0m-.6 33.7h0m-17.2 -6.6h0m24 -24.4h0m-21.9 23.9h0m22.7 -8.4h0m-16.4 -19.2h0m5.7 32.7h0m7.4 -7.2h0m-17 12.2h0m19.3 -.3h0m6.5 10.8h0m-31.3 -27.5h0m27.9 -11.7h0m1 -10h0m-.3 21.4h0m-25.5 19.6h0m24.8 -2h0m-28.5 -27.3h0m1.3 11.2h0m13.4 -6.7h0m20.4 -9.3h0m-36.8 16.3h0m25.6 28.3h0m-5.9 -40.6h0m1.3 7.9h0m-6.4 27.2h0m7 -25.6h0m-7.1 25.3h0m20.6 -34.9h0m-9.1 28.8h0m-21.9 -3h0m9 2.3h0m22.9 -14.9h0m-28.4 -4.9h0m9 -7.1h0m13 8.4h0m-9.7 -19.2h0m5.2 41.7h0m-11.9 -5h0m18.4 -18.1h0m1.4 -20h0m-30 41.3h0m10.8 -26.1h0m-6.7 15.5h0m20.6 -25.5h0m-4.6 37.2h0m3.5 -16.9h0m-5 -20.1h0m-17.5 15.5h0m23.8 -21.8h0m4.3 5.9h0m-6.1 23.3h0m-5 2.9h0m-16 -26.9h0m7.5 20.3h0m3.2 -3.2h0m5.3 28.8h0m10 -24.2h0m-25 15.1h0m15.9 -14h0m11.5 -7.9h0m-4.3 31.8h0m-2.7 -26.6h0m-26 -15.4h0m6.5 16.6h0m28.1 8.2h0m-3.9 -24.9h0m-8.9 15.5h0m-9 11.6h0m16.9 -6h0m-16.9 -13.1h0m15.7 23.5h0m-26.3 -6.9h0m31.1 -21.5h0m-21.1 25.3h0m9.3 14.2h0m-6.4 -4.2h0m3.4 -41.8h0m-.9 8.2h0m8.2 4.6h0m-19.8 30.5h0m3.7 -40.7h0m.3 31.1h0m21.3 -32.3h0m-4.3 1.2h0m-17.6 -7.6h0m22.4 50.7h0m-9 -23.1h0m6.9 -3.9h0m.3 -5.3h0m3.3 5.6h0m.5 24.8h0m-10.4 -45.3h0m.6 1.1h0m-19.7 35.7h0m21.4 -25.6h0m.2 8.5h0m-21.4 7.6h0m7.1 6h0m18.7 -30.1h0m-15 20h0m1.8 6.4h0m-13.7 -25.8h0m1.6 16.8h0m8 20.9h0m15 -30.4h0m-14.6 6.8h0m-12.5 -4h0m13.8 33.3h0m-4.7 -6.6h0m3 -15.3h0m5 13.3h0m-1.3 -26.6h0m1.1 -13.1h0m16.9 15.6h0m-16.6 17.8h0m-10.9 -22.3h0m8.9 21.6h0m-2.9 -37.3h0m15.8 7.1h0m-1.4 41.3h0m-16.4 -9.5h0m4.8 -19.1h0m1.5 -13.5h0m-13.6 34.5h0m2.6 -1.6h0m19.2 -7h0m-13.3 13.2h0m14.3 -31.6h0m-12 -.9h0m11.2 23.9h0m-14.1 -6.4h0m12.7 14.7h0m-21.6 -5.8h0m-1.9 -36h0m7.5 12.7h0m25.2 -14.7h0m-16.5 49.7h0m-11 -46.7h0m6.9 1.3h0m-8.2 -.1h0m.9 22.7h0m5.8 6.1h0m1.6 -30.5h0m2.7 -3.6h0m10.8 48h0m5.3 -33.8h0m-13.8 -10.7h0m15.5 46h0m-21.6 -8.2h0m9.3 -13.3h0m-6.3 -17.3h0m-14.6 -.2h0m6.4 19h0m21.4 -23.6h0m-2 -2.8h0m-18.5 37.5h0m6.1 10.5h0m-11.3 -46h0m8.9 15.1h0m4.8 2.9h0m20.3 -10.7h0m-28.4 18.3h0m25.2 -21.7h0m-31.4 43.3h0m21.9 -15.8h0m9.5 -7.3h0m-27.4 2.2h0m6.6 21.9h0m-7.7 -12.3h0m18.6 2.6h0m-3.7 -37.2h0m-16 15.1h0m29.7 10.3h0m-12.4 13.2h0m-17.9 -12.3h0m6.1 4.5h0m1.7 -20.6h0m12.1 17.2h0m-1.3 -4.1h0m-5.8 -29.4h0m1.6 26.1h0m-13.4 -23.5h0m23.1 7.9h0m-12.7 20.2h0m-7.2 17.1h0m12.5 -43.3h0m-5.1 33.3h0m-13 -5.2h0m.9 -4.4h0m4.8 -22.6h0m22.2 16.9h0m-8.5 -13.4h0m10.6 15.1h0m-26.5 -14.7h0m20.8 39.8h0m-17.5 -5.5h0m26.9 -40.6h0m-1.2 14.6h0m-16.6 23.3h0m-4.6 -5.2h0m3.7 -4.1h0m-8.9 1.4h0m22.9 9.4h0m-27.2 -16.4h0m5.3 -16.5h0m10.6 26.3h0m-8.1 -28.5h0m20.9 44.7h0m2.3 -9.1h0m-18.6 1.9h0m-1 -45.1h0m-15.7 9.9h0m28.4 20.9h0m-6.8 7.7h0m-10.5 -11.6h0m4.6 25.2h0m20.7 -26.4h0m-7.1 -22.8h0m-5.7 27.8h0m-5.5 -1.2h0m3.3 23.4h0m15.1 -44h0m-23.3 14.2h0m14.3 27.7h0m-18.7 -24.4h0" stroke="#33e68f" stroke-width="1.56" stroke-linecap="round" fill="none"/><path d="M479.3 230.1h0m5 10h0m11.5 27.6h0m-20.6 -40.2h0m-2.1 48h0m21.9 -4.9h0m-12.1 -.4h0m-4.4 -44.8h0m18 45.7h0m-22.3 3.8h0m-.3 -20.5h0m9.1 -29.6h0m-8.5 8.6h0m9.1 41.1h0m2.4 -16.2h0m-3.4 -27h0m6.9 44.5h0m-5.4 -21.8h0m-7.7 -23.6h0m13.2 26.3h0m3.9 -25.7h0m-17.6 6.7h0m11.6 8.7h0m8.7 29.4h0m-16.1 -34.5h0m4 20.4h0m-2.6 5.9h0m-1.1 -2.7h0m-4.9 -37.3h0m-2.4 37.1h0m3.6 -28.1h0m2.1 -2.6h0m15.5 3.1h0m-1.5 1.8h0m-18.9 34.1h0m12.9 -13.4h0m-2.2 9h0m-10.5 -1.7h0m9.5 -4.8h0m2.8 -33.9h0m-11.6 .8h0m15.4 11.1h0m-3.4 -5.1h0m.4 23.9h0m-13.3 -25.5h0m8.9 25.9h0m12.4 -6.1h0m-18.1 -8.9h0m7.3 -19.7h0m.1 11.1h0m-1.4 -5.3h0m11.3 37.2h0m-6.3 -24.8h0m4.6 -16.4h0m-16.9 14.2h0m15.8 21.5h0m-19.1 12.1h0m1.6 -39.9h0m20.5 42.6h0m-12.9 -44.3h0m.8 33.7h0m.5 -29.7h0m-10.6 33.6h0m21 -21.6h0m-18.8 -10.4h0m5.6 24.5h0m.5 -11h0m-4.9 7.9h0m5 -2.1h0m6.4 13.6h0m.2 4.8h0m-12.7 -14.7h0m8.9 -16.3h0m3.5 9.4h0m-13.4 3h0m.7 -27.2h0m4.5 10.3h0m4.2 22.9h0m1.2 5h0m11.2 -27.2h0m-17.8 12h0m10.4 7.8h0m3.2 -30.3h0m-7.6 20.7h0m-3 2h0m2.9 -21.4h0m7.5 36.7h0m-14.1 -25.5h0m.7 13h0m-2.2 3.6h0m19.2 15.1h0m-5.2 -45.4h0m-15.1 2.8h0m4 17.8h0m12.1 -4.6h0m-3.1 -4h0m-1.3 24.8h0m-7.3 -11.3h0m-1.8 -8.6h0m4.9 1.2h0m-3.1 -18.2h0m-3.8 10.1h0m.9 -1.4h0m5.3 -.3h0m9.2 36.3h0m-3.2 -13.2h0m-6.5 -22.9h0m2.2 14.9h0m-3 -15.9h0m2.1 5h0m-2.2 10.2h0m9.2 -3.3h0m-9.1 -3.5h0m5.1 21.6h0m.6 -26.8h0m-9.7 -13.2h0m5.2 14.8h0m9.7 10.9h0m-12.9 -15.4h0m2.3 -10.4h0m-4.6 48h0m10.7 -6h0m-8.2 -13.9h0m-4.5 -1h0m20.6 5.5h0m-9.6 -13.1h0m2.5 -2.1h0m-1.8 10.2h0m1.7 18.6h0m3.8 -45.9h0m-8.1 44.7h0m.8 -14.7h0m4.3 -29.3h0m-2.3 34.9h0m11.3 -2.7h0m-8 1.4h0m-13.9 -11.1h0m.8 -22.3h0m11 3.7h0m2.3 24.4h0m4.6 -.7h0m-19.9 17.2h0m8.5 -11.2h0m-2 -31.6h0m-2.8 40.5h0m10.8 -11.3h0m1.1 -24.6h0m-14.6 1.9h0m15.4 7.5h0m-3.5 -1.5h0m-5.5 15.5h0m3.3 -12.8h0m9.5 19h0m-10.5 -38h0m-3.9 15.9h0m-6.9 21h0m14.2 -12.4h0m-13.5 5.4h0m7.3 .6h0m8.1 -12h0m-4.9 28.8h0m8.7 -30.6h0m-1.1 11.9h0m-6.6 -26h0m-4.3 26.9h0m15.5 -6.3h0m-20.8 16.3h0m.4 .8h0m8.9 -36h0m8.1 12.8h0m-10.3 10.6h0m.8 15h0m-7.3 -8.7h0m10.2 9.9h0m-7.3 -13h0m14.4 -32.8h0m-16.7 2.9h0m12 -1h0m-10.3 39h0m10.4 4.4h0m-.6 -.6h0m-15.4 4.1h0m15.8 4.1h0m-13.4 -24.9h0m12 .3h0m-2.1 -14.5h0m-10.2 36.8h0m16.6 1.2h0m1.8 -2.5h0m-15.7 -3.7h0m9.6 -13.1h0m1.4 -1.4h0m-10.2 -16.4h0m9.6 37.7h0m-12.6 -42.8h0m2.5 22.5h0m-3.3 -23.3h0m17.3 -3h0m-.3 -3.6h0m-.8 11.7h0m-4.5 .6h0m-12.7 30.2h0m7.7 -44.7h0m-3.8 8h0m3.1 4.3h0m3.7 19.8h0m-3.1 4.7h0m-.5 6.4h0m11.6 -33.9h0m-3.1 3.5h0m-.5 36h0m-12.9 -22.5h0m6.8 .6h0m-2.4 -1.5h0m2 2.3h0m-2.9 -26.7h0m11.6 25.9h0m-7.2 .5h0m4.6 17.6h0m-8.2 -30.9h0m10.1 37.7h0m4.6 -4.9h0m-15 -38.2h0m-.6 35.9h0m5 -16.4h0m-1.9 5.6h0m6.5 -10h0m7.8 -12.2h0m-23.9 34.8h0m17.6 -35.3h0m-11.2 30.4h0m-1.4 -22.9h0m8 17h0m-10 -4.4h0m7.6 21h0m-7.2 -37.5h0m16.2 26.6h0m-4.3 4.6h0m4.3 -34.9h0m-14.6 24.3h0m19.5 9.3h0m-16 -29.1h0m-2.4 -11.6h0m-3.3 26.2h0m-1.6 -18.7h0m19.5 -1.3h0" stroke="#ff7f0e" stroke-width="1.56" stroke-linecap="round" fill="none"/><rect x="391.2" y="221.1" width="119.7" height="59.1" fill="none" stroke="#222" stroke-width="1"/><text x="67.7" y="297.7" text-anchor="middle">SpaGCN</text><path d="M62.4 335.9h0m1.5 -2.8h0m35.9 -22.3h0m8 4.8h0m-17.7 4h0m-14.5 -6.8h0m14.9 23.6h0m-2.6 -19.9h0m11.8 38h0m15.4 -9.9h0m-99.2 4.7h0m83.3 -36h0m-29.7 31.4h0m1.1 -23.3h0m39.5 -8.4h0m-69 41.8h0m17.9 -20.7h0m6.2 24h0m30.2 -42.1h0m-36 23.3h0m15.1 -24h0m-4.5 31.6h0m-3 -12.2h0m54.5 -8.7h0m-2.3 -17.1h0m-2.5 40h0m4.9 -.1h0m-64.8 -5.4h0m23.1 -29.1h0m24.5 2.1h0m-22.8 0h0m-15.5 42.9h0m40.5 -31.5h0m-38.7 -.7h0m31.8 -14.7h0m-9 3.9h0m-10.9 -8.4h0m-64.4 18.9h0m4.3 .7h0m100.2 -13.7h0m-1.4 36.3h0m-43.6 -36.6h0m37.2 9.6h0m6.3 -5.5h0m-28.2 -2.3h0m31.5 30.1h0m-54.3 -11.9h0m-48.8 -22.7h0m102.1 44.3h0m-31.4 -36.8h0m-44.3 1.1h0m29.4 -6.4h0m-3.8 21.8h0m-2.5 -20.4h0m48.2 44h0m-19.8 -31.1h0m-19.7 -13.1h0m6.3 43.7h0m-16.6 -26.2h0m54 20.9h0m-6 2.2h0m-54.2 -12.2h0m57.2 10.9h0m-56.7 -40.9h0m41.1 23.8h0m19.1 -18.6h0m-35.9 25.2h0m6.1 -27.3h0m-11.8 .4h0m42.1 24h0m-30.2 -21.8h0m28.4 20h0m-29.8 -.4h0m-36 -10.1h0m17.4 9.2h0m49.8 13.7h0m-29.3 -3.2h0m-21.3 -40.4h0m4.1 6.4h0m30.4 -5.5h0m16.6 19h0m-42.5 -14h0m38.2 20h0m-23.4 18.7h0m-20.4 -37.4h0m31.4 22.9h0m3.3 5h0m-47.2 11.2h0m1.6 -38.1h0m7.6 -.3h0m2.8 26.6h0m17.9 -26.7h0m-41.3 4.6h0m67.4 26.2h0m4.1 -39.1h0m-81.1 41.1h0m20.3 1.9h0m10.1 -24.7h0m-37.3 -15.5h0m39.4 47h0m21.9 -41.2h0m2 5h0m-34.7 19.8h0m34.4 -25.2h0m18.9 24.4h0m-51.9 -32.7h0m15.5 32.4h0m-22.3 3.4h0m61 -28.5h0m-54.7 5.6h0m59.7 30.3h0m-28.3 -8.3h0" stroke="#ad2742" stroke-width="1.56" stroke-linecap="round" fill="none"/><path d="M33.1 333.3h0m-10.3 16h0m13 5.4h0m84.5 -27.6h0m-88 8.7h0m-9.6 1.3h0m89.7 12.6h0m-32.8 -39.6h0m-18.5 40.7h0m6.2 0h0m-35.9 -20.8h0m89.1 .1h0m-104.2 22.6h0m46.4 -45.6h0m-8.6 29.3h0m65 -2.9h0m-60.9 23.7h0m12.7 -42.9h0m-1.6 22h0m52.1 19.3h0m-88.7 -25.4h0m68 13.5h0m-32.6 14.9h0m48.3 -17h0m-60.9 17.9h0m13 -1.7h0m1.7 -1.6h0m-53 -47.2h0m52.2 26h0m-44.7 -19.3h0m46 17.8h0m50.7 7.6h0m-107.4 -9.9h0m16.1 -17h0m4.7 30.9h0m32.9 -31.7h0m5.2 -3.5h0m-44.2 47.5h0m-8.2 -44.9h0m96.6 -6.7h0m-82.1 34h0m54.1 16.4h0m-67.6 -38.4h0m48.4 39.1h0m-2.4 -49.2h0m32.1 10.9h0m-80.1 9.2h0m42.4 31.4h0m-32.2 -3.1h0m-14.6 -33h0m14.3 14.7h0m-1.7 6h0m37.2 -29.1h0m-.6 24.1h0m-6.4 -10.7h0m-31.9 -4.6h0m46.3 8.2h0m-46.3 -8.5h0m6.1 -16h0m-6.2 2.6h0m69.6 12.6h0m-63.2 -10.9h0m35.6 16h0m36.8 15.4h0m-80.9 -35.2h0m83.9 42.9h0m-43.7 -37.9h0m-6.4 .9h0m-37.7 14.7h0m41.3 28.8h0m27.8 -15.2h0m13.8 9.6h0m-67 -25.8h0m-8.7 -15.2h0m31.1 -1.8h0m-.8 30h0m61.1 -10.7h0m-88.8 21.8h0m11.7 -38h0m29.3 23.4h0m-13.3 22.5h0m-31.6 -34.7h0m-6.2 18.6h0m50.4 -31.7h0m-36.9 24.2h0m84.7 -27h0m-85.7 6.7h0m6.9 27.2h0m-24.7 -8.4h0m5.7 22.3h0m14 -41.8h0m-12.2 4.6h0m9.8 27h0m-18.6 -12.2h0m48.4 -22.2h0m59.4 29h0m-50.2 17.5h0m51.6 -22.7h0m-103.4 -2.9h0m101.9 -19h0m-58.2 10.5h0m57.4 25.3h0m-63.4 11.2h0m38.2 -22.3h0m9 -10.7h0m-72.1 -1.3h0m19.9 33.8h0m12.8 -25.4h0m-6.2 -6.6h0m-25.1 13.2h0m86 -21.2h0m-85.7 -.2h0m-16.4 -6.7h0m54.6 14.2h0m-58.5 -2.6h0m51.4 -1.4h0m-28.7 18.4h0m48.1 -15.7h0m25.3 0h0m-92.5 3.7h0m13.4 30.7h0m33.5 -39.5h0m52.1 -2.6h0m-97.8 9.6h0m98.3 24.2h0m-101.6 -3.9h0m37.3 -15.8h0m-6.9 -2.8h0m48.3 24.7h0m-70.4 -36h0m96.5 .1h0m-106.1 10.1h0m79.9 11.6h0m-63 -2.5h0m38.7 -16.1h0m-45.1 36.6h0m-7.8 -13.4h0m104.6 -6h0m-89.8 -29h0m-14.7 23.9h0m49.1 -20.4h0m-37.2 10.2h0m-6.4 6.5h0m14 -11.8h0m-5.8 -10.2h0m5.4 9.6h0m37.9 30.9h0m-8.3 1.4h0m-4 -6h0m-38.6 -7.6h0m67.8 15.9h0m-64.1 -33.1h0m39.2 39.2h0m8.3 -18.9h0m-9.2 -21.2h0m53.5 13.1h0m-1.6 -19.9h0m-83.7 12.1h0m38 24.4h0m-52.9 -24.9h0m49.1 7.2h0m52.5 -2.2h0m-86.4 30.4h0m2.9 -10.9h0m32.5 12.2h0m53 -9.9h0m-98.2 -.8h0m8.8 -34.2h0m-13.4 33.2h0m15.1 -31.3h0m-4.4 42.4h0m-15.4 -31.3h0m9.4 12.5h0m-.1 -16.2h0m3.9 -2.5h0m35.5 14.8h0m-26.4 10.4h0m28.7 -8.4h0m-31.8 13.6h0m-16.9 -26.7h0m-2.3 .7h0m18.5 26.8h0m40.5 -19.5h0m48.3 6.8h0m-55.4 -29.6h0m32.1 12.5h0m-5.7 14.6h0m-44.7 13.4h0m-24 -5h0m1.3 9.6h0" stroke="#1f6eb0" stroke-width="1.56" stroke-linecap="round" fill="none"/><path d="M84.5 338.9h0m1 -8.5h0m4.9 -7.7h0m-8.6 24.9h0m1.6 -35.6h0m-.2 -.8h0m-4.4 14.6h0m.2 2.6h0m-.8 -6.9h0m-4 30.1h0m14.4 -14.4h0m-6 -5.5h0m-1.2 -5.4h0m5.8 -9.6h0m-10.4 6.1h0m5 7h0m2.8 19.4h0m6.5 -33.8h0m-10.9 31h0m-7 .7h0m15.2 9.5h0m-5.5 -22.7h0m-8.7 -11.4h0m1.5 -5.9h0m12.9 -7.3h0m-8 46.2h0m1.4 -15.4h0m6 -24.2h0m-6.2 11.6h0m1.1 11.8h0m2.3 -2.9h0m-5.4 -27.5h0m-5.5 12.1h0m4.7 -9.1h0m7.1 18.4h0m-9.4 -2h0m-1.9 9.3h0m12.2 -2.2h0m-5.8 11.7h0m6.8 -25.3h0m.9 -.8h0m-12 33.7h0m5.8 4.5h0m8.7 -48.2h0m-16.7 19.4h0m5.7 -9h0m10.1 -6h0m-6.3 -3.9h0m-9.9 24.4h0m4.5 -23.5h0m-3.1 38h0m9.3 -28.1h0m-9.7 -7.2h0m7.9 -7.3h0m5.2 38.7h0m-13.5 7.9h0m14.1 -20.3h0m-3.2 18.3h0m-10.8 1.9h0m2.5 -36.2h0m5.5 -7.5h0m-9.2 29.8h0m11.2 7.5h0m-4.1 -13.9h0m-3.5 -23.5h0m11.2 39.9h0m-4.5 -41.5h0m-2.2 27.3h0m4 20.9h0m3.8 -21.6h0m-8.7 -3.4h0m5.2 -13.9h0m4.8 -6.1h0m-2.1 23h0m-4 4.2h0m0 10.1h0m-2.1 -24.6h0m4.3 31.9h0m-3.7 -39.5h0m2.4 11.1h0m-1.8 27.9h0m-10.3 -8.1h0m6.8 6.2h0m5.6 -25.4h0m-9.8 -7.8h0m5.9 9.9h0m-3 26.9h0m4.9 -14.4h0m.7 -26h0m6.2 -3.3h0m-13.1 43.2h0m.5 -31.8h0m1.2 11.9h0m7.8 -27.1h0m-6.1 25.1h0m1.6 -28.5h0m3 28.2h0m-11.6 20.2h0m12.5 .3h0m1.6 -29.1h0m-11.3 -10h0m-2.9 41.6h0m.9 -22.8h0m4.6 -23.1h0m-3 41.8h0m11.7 -28.8h0m-8.8 9.7h0m-4.7 -10.5h0m10 -14.9h0m3 42.2h0m-7.9 -13.1h0m-3.6 7.8h0m-1.2 -24.9h0m5.5 4h0m.5 -2.8h0m-5.4 16.9h0m12.1 8.9h0m-12.7 7.9h0m13.8 -23h0m-.9 22.9h0m-11.6 -37.7h0m-2.8 21.5h0m-.4 -19.8h0m10.5 23.3h0m-8.1 2.1h0m8.4 -3.4h0m2.3 3.2h0m-.2 -16.4h0m-8.6 14.9h0m1.7 -13.6h0m1.5 -16.7h0m10.8 -5.5h0m-14.8 2.6h0m-2.4 14h0m13.4 18.1h0m-4.9 -31.3h0m-5.2 25.4h0m8.6 2.4h0m-8.5 15.5h0m-3 -36.4h0m8.2 -3.8h0m-7.9 18.3h0m4.1 24.2h0m-3.1 -3.7h0m5.7 -32.8h0m6.2 -6.9h0m-1.2 43.9h0m-3.6 -50.7h0m3.2 37.8h0m-12.8 -7.8h0m13.5 21.1h0m-8.3 -25h0m8.8 25.8h0m-8.8 -12.2h0m8.1 -29.5h0m-7.7 -8.8h0m10 36.4h0m-6.4 8.8h0m.1 -4.8h0m.7 -17.7h0m2.6 -16.9h0m2.2 22.1h0m-13.7 -15.6h0m4 36.5h0m-.6 -7.5h0m-3.3 -28.4h0m12 2.4h0m-3.4 14.6h0m-8.4 -28.6h0m11.9 31.7h0m.5 -6.3h0m-1.3 3.2h0m-4.8 20.4h0m7.3 -47.8h0m-10.5 41.4h0m1.3 -29.4h0m1.6 34.2h0m7.2 -6.6h0m-7.8 -9.5h0m8.5 -12.9h0m-5.5 20.6h0m4.2 .4h0m-7.1 -40h0m-5.3 .1h0m.1 18.4h0m6.9 -19.4h0m-4.6 11.4h0m-3.5 8.1h0m-.6 14.4h0m-.1 -23.8h0m5.2 21h0m1.4 -17.7h0m8.3 -4.4h0m-11.3 40.9h0m3.9 -31.8h0m-.5 21.5h0m-1.9 -24.7h0m0 -2.9h0m.3 0h0m-1.2 34.4h0m10.6 -36.7h0m-11.1 28.1h0m6.5 -34.8h0m-2.6 18.4h0m-2.7 -.8h0m7.2 -20.7h0m-2.9 27.9h0m-3.2 -7.3h0m4.9 -6.2h0m2.4 27.5h0m-9.6 -6h0m10.2 -35.8h0m-5.6 43.4h0m6 -36.3h0m-5.5 -1.7h0m4.6 -3h0m-8 20.7h0m4.4 -1.8h0m4.4 -18.2h0m-7.8 16.4h0m-.1 17.4h0m.6 -13.1h0m0 18.3h0m.7 -10.4h0m.9 -21.9h0m-7 -7.8h0m9.1 40.2h0m-6.7 5.9h0m-.3 -14.4h0m2.4 -22.3h0m4.4 -12.6h0m-5.7 30.1h0m4.9 -23.7h0m-3.9 5.1h0m-5.6 -.3h0m4.9 36.3h0m10.4 -9h0m-8.8 -12.7h0m1.5 12.6h0m6.5 4.1h0m-2.8 -41.1h0m-8.2 36.2h0m6.6 12.3h0m-3.5 -2.1h0m-5.8 -37.1h0m8.2 .2h0m7.7 -.5h0" stroke="#f0c93c" stroke-width="1.56" stroke-linecap="round" fill="none"/><path d="M14.5 334.2h0m19.2 -15.4h0m-16.6 38.7h0m-2.5 -37.3h0m4.9 -5h0m12.9 -8.9h0m28.3 19.7h0m-34.1 1.4h0m-2.1 -19.6h0m9.8 18.2h0m-16.5 29.8h0m3.1 -1.3h0m43.3 3.9h0m-40.7 -5.6h0m2.2 -8.9h0m2.9 2h0m6.6 -17.3h0m-2.7 -19.5h0m-.8 37.4h0m38.8 -32.3h0m-42.2 -3.4h0m-13.4 12.8h0m53.8 24.6h0m-41 6.2h0m-11.5 -.3h0m1.6 -16.1h0m48.7 -20.3h0m-33.9 -3.8h0m-1 5.6h0m-2.9 10.7h0m-.4 -3.3h0m-7.5 16h0m1.1 10.3h0m13.4 -32.4h0m31.9 16.5h0m1.2 -14.9h0m-55.5 12.6h0m58.5 -16.5h0m-44.8 -9.3h0m-2.6 34.5h0m4.9 -28.5h0m-9 38.6h0m46 -25.7h0m-9 15.6h0m-27.8 -3.8h0m39.1 -3.6h0m-1.5 -17.9h0m-34.1 -5.8h0m1.7 46.7h0m25.1 -9.4h0m13.3 -38.8h0m-50.2 14.2h0m41.3 -2.5h0m-43.7 7.8h0m4.9 17.6h0m4.8 9.7h0m-13.8 -46.2h0m1.9 16.4h0m.4 22.6h0m.7 -3.9h0m7.4 5.9h0m-10.1 -23.7h0m8.1 16.7h0m-4.5 4.4h0m-4.8 -15.4h0m8.9 1.5h0m43.5 -19.8h0m-2.2 31.5h0m-32.2 -23.5h0m-2.4 -9.3h0m33.1 .5h0m-43.9 26h0m.6 -33h0m39.7 2.9h0m-42.3 32.5h0m44.1 -18.6h0m.7 .6h0m-47.6 17.2h0m.2 -21.3h0m47.4 5.2h0m-48.4 -13.4h0m9.6 26.3h0m4.3 -23.4h0m5.6 -4.8h0m-5.2 15.7h0m-1.3 20.2h0m3.3 -40h0m2.3 37.4h0m-9.3 -37.4h0m-7.5 6.8h0m13.2 -.7h0m36.5 -.9h0m-41 -5.1h0m1 3.1h0m9.1 10.5h0m-1.1 -9.2h0m28.7 25.8h0m-39 -27.3h0m-10.5 24.5h0m45.1 -1.4h0m-33.6 -20.6h0m-8.1 -3.2h0m15.2 49.1h0m26.4 -24h0m-41.9 -3.5h0m-2 -8.3h0m5.9 1.2h0m2.7 12.5h0m2.9 7.5h0m32.6 -10.5h0m-22.5 -28h0m-7.9 6.9h0m32.3 38.3h0m-34.8 -43.3h0m3.1 38.5h0m-6.2 -28.4h0m.6 24.1h0m8.3 -8.8h0m-.1 20.2h0m-.2 -28.6h0m-15.8 -10.2h0m9.9 40.8h0m43.8 -40.2h0m-6.3 31.8h0m-38.1 -14.9h0m46 5.6h0m-37.9 -4.9h0m-2.5 -6.4h0m-16.3 19.8h0m9.6 -1.4h0m5 -12.8h0m32 2.7h0m3.7 11.1h0m-49.5 -15.9h0m20.8 7.7h0m-3 -26.9h0m28 10.5h0m-39.1 7.2h0m52 6h0m-41.3 -14.8h0m39.6 29.7h0m-43.5 -20.1h0m-2.2 9.8h0m-8.4 -20.5h0m42.4 18.3h0m-36.9 -9.2h0" stroke="#2bb5ec" stroke-width="1.56" stroke-linecap="round" fill="none"/><path d="M63.7 329.5h0m6 10.7h0m-25.2 -30.7h0m4.4 12.2h0m-5.3 33.4h0m4.2 4.4h0m24.9 -14.1h0m-17.3 -.1h0m-14.5 -38.9h0m-4.6 21.6h0m30.7 -5.3h0m-28.1 -9.4h0m11.8 30h0m11.9 -3.9h0m-14.6 15.3h0m3 -44.5h0m-8.7 21h0m22.8 -8.4h0m-13.3 16.3h0m-11.5 -22.7h0m-2 29.2h0m30 .9h0m1 -17.6h0m-12 -12.6h0m11.7 -9.7h0m-28 20.8h0m-.7 27.1h0m12.6 -33.4h0m-7.6 -14.6h0m10.3 47.5h0m15.4 5.4h0m-18.8 -39h0m20 -10.7h0m-18.5 21.8h0m-3.2 14.3h0m8.9 -26.2h0m-6.1 21.3h0m-4.8 -5.6h0m3.6 9.5h0m8.8 4.1h0m-13.2 -21.7h0m5.2 -1.9h0m2.4 -9.1h0m-15.6 1.4h0m10.2 40.2h0m-11.3 -13.5h0m-1.2 -28.6h0m4 37.8h0m8.9 -18.3h0m-9 17.3h0m30.1 -38.6h0m-12.9 41.2h0m-11.5 -32.6h0m-.7 8.4h0m6 11.8h0m3.8 -12.1h0m-1.9 13.3h0m17.8 -22.1h0m-16.2 19.8h0m-6.6 8.6h0m-11.5 -36h0m19.7 -4.5h0m-8.2 18.2h0m-9.6 8.9h0m9.3 18.9h0m14.7 -43.3h0m-19.1 41.6h0m-2.8 -17.7h0m22.7 -8.4h0m-16.4 -19.2h0m-1.6 18.3h0m-.8 -3.8h0m6.3 14h0m15.6 18.8h0m-28.9 -14.5h0m15.1 -.1h0m-13.4 7.6h0m3.8 -2.6h0m-.7 -11.2h0m20 10.9h0m-24.8 -16.7h0m28.6 -.3h0m-25.5 19.6h0m5.2 -40.7h0m-10.4 50h0m30 -11.3h0m-28.5 -27.3h0m1.3 11.2h0m13.4 -6.7h0m-16.3 .5h0m36.7 -9.8h0m-36.8 16.3h0m6.6 -24.1h0m-1.3 20.1h0m14.4 -8.3h0m1.3 7.9h0m-19.7 -5h0m-1.1 -13.6h0m2.1 31.9h0m21.1 -12.9h0m-4.8 -3.5h0m-15.8 -12.6h0m20 3.1h0m-10.6 5.5h0m2.4 34.3h0m-9.4 -12h0m11.1 -5h0m-14.7 5.6h0m1.2 -10h0m33.8 7h0m-22.1 14.1h0m2.5 -32.3h0m-4.8 -5.8h0m-8.1 29h0m9 2.3h0m9.4 -6.9h0m-14.6 5.4h0m2.5 3.7h0m-2.8 -22h0m-1 -8.8h0m10 1.7h0m3.3 -10.8h0m-18.5 17.7h0m11.8 19h0m1.7 -16.7h0m-13.2 9.2h0m2.3 11.1h0m31.3 3.1h0m-28.1 -11.9h0m-4.2 8.4h0m10.8 -26.1h0m-6.7 15.5h0m19.5 -5.2h0m-12.1 10.6h0m-6.6 8.1h0m18.5 4.3h0m-4.8 -43.1h0m-17.5 15.5h0m15.7 17.3h0m8.1 -39.1h0m-12.9 28h0m17.2 -22.1h0m-23.4 35.1h0m3.8 -15.5h0m18.9 22.3h0m-22.2 -8.9h0m7.6 -16.7h0m-1.1 .1h0m-14.9 -17.8h0m10.1 20.7h0m-4.9 16.8h0m11.9 -18.8h0m4 4.8h0m11.5 -7.9h0m-4.3 31.8h0m-2.7 -26.6h0m-26 -15.4h0m6.5 16.6h0m-4.9 -3h0m20.2 1.8h0m7.6 3.8h0m-16.6 7.8h0m16.9 -6h0m-16.9 -13.1h0m20.9 -.6h0m-.4 -4.3h0m-21.1 25.3h0m9.3 14.2h0m-6.4 -4.2h0m3.4 -41.8h0m-.9 8.2h0m8.2 4.6h0m-19.8 30.5h0m3.7 -40.7h0m.3 31.1h0m-10.8 -39.9h0m10.2 1.2h0m25.8 22.5h0m-3.4 28.2h0m-24.6 -47.7h0m6.9 24.8h0m-12.4 14.5h0m2.2 4h0m18.9 -18.7h0m-9.1 12.7h0m-7.8 -32.5h0m27.4 16.2h0m-5.3 25.3h0m1.4 -19.9h0m-29.1 14.9h0m20.7 -25.1h0m-16.7 21.1h0m-3.5 -1.1h0m3.7 -8.4h0m7.1 6h0m-5.5 -8.5h0m24.2 -21.6h0m-15.6 31.9h0m-5.7 -3.6h0m6.3 -8.3h0m1.8 6.4h0m-7 11.6h0m-5.1 -20.6h0m-5.8 11.5h0m13.8 9.4h0m.4 -23.6h0m-12.5 -4h0m5 16.2h0m5.5 -10.7h0m-8.1 -9.4h0m2.2 -9.7h0m21.9 22.4h0m-17.4 17.9h0m16.9 2.1h0m-27.1 -24.4h0m13.2 7h0m-.4 20.5h0m-1.3 -37.6h0m6.7 30.4h0m12 -23.7h0m-13.3 -2.9h0m14.2 9.1h0m-13.1 -22.2h0m10.2 -2.5h0m7.4 48.4h0m-17.3 -12.5h0m-10.9 -22.3h0m8.9 21.6h0m6.1 -20.3h0m-14.4 7.5h0m21.3 -3.1h0m-13.9 32.3h0m4.6 -49.5h0m-11.4 15.5h0m4.4 -12h0m-1.6 31.2h0m-.4 -29.9h0m5.2 10.8h0m-12.4 -2.9h0m13.9 -10.6h0m-13.6 34.5h0m2.6 -1.6h0m14.9 -11.5h0m-11.4 -4.1h0m2.4 21.8h0m2.3 -32.5h0m11.4 12.2h0m-.2 11.7h0m-14.1 -6.4h0m-1 -10.6h0m7.1 -10.4h0m-13.2 34.1h0m-1.8 -4.2h0m-1.9 -36h0m16.4 11.2h0m-8.9 1.5h0m5.2 24.4h0m20.8 -9.3h0m-17.3 19.9h0m12.5 -11.5h0m-23.5 -35.2h0m27.7 -2.5h0m-20.8 3.8h0m-7.1 30.5h0m6.6 -14.1h0m-11.5 -8.9h0m1.5 29.2h0m2.3 -36.8h0m.9 22.7h0m5.8 6.1h0m4.7 .1h0m10.4 -23.4h0m-25.8 .9h0m15 -11.7h0m10.8 48h0m-7.4 -41.6h0m3.1 36.5h0m-21.6 -42.4h0m3.7 11h0m29.2 38h0m-21.6 -8.2h0m-4.6 6.3h0m-5.9 -35.9h0m14.8 39.2h0m-13.6 -42.7h0m12.3 2.5h0m-12.3 10.2h0m-2.3 -10.4h0m6.4 19h0m17.5 -26.8h0m1.9 .4h0m-23.2 29.7h0m4.7 7.8h0m6.1 10.5h0m-9.7 -16.6h0m-1.6 -29.4h0m13.3 44.8h0m-4.4 -29.7h0m-8.4 14.1h0m13.2 -11.2h0m-8.1 7.6h0m8.7 -7.7h0m8.3 11.1h0m-23.8 -10.8h0m.6 29h0m22.1 -31h0m9.3 7.9h0m-31.1 -9.4h0m3.7 11.6h0m-3.5 -21.6h0m10.1 43.5h0m-7.7 -12.3h0m14.9 -34.6h0m12.4 1.3h0m-28.4 13.8h0m18.8 20.4h0m-13.9 8.8h0m7.7 -50.3h0m-13.2 4.9h0m0 27.4h0m7.8 -16.1h0m12.1 17.2h0m-1.3 -4.1h0m-5.8 -29.4h0m1.6 26.1h0m-13.4 -23.5h0m-.2 22.2h0m10.6 5.9h0m-10.8 -24.9h0m3.6 42h0m5.3 -28.9h0m7.2 -14.4h0m-5.1 33.3h0m1.2 -20.7h0m6.4 8.4h0m-20.6 7.1h0m8.2 18.4h0m-7.3 -22.8h0m4.8 -22.6h0m9.5 -4.7h0m1.7 43h0m.4 -44.3h0m-5.4 35.1h0m-7.9 -5.3h0m15.4 -20.3h0m10.6 15.1h0m-26.5 -14.7h0m-1.7 41.1h0m22.5 -1.3h0m-16.3 -46.1h0m6.2 35.7h0m-.2 .1h0m-4.6 -36.6h0m-2.6 41.4h0m26.9 -40.6h0m-2.1 12.6h0m-28.1 17.4h0m13.2 15.8h0m-9.8 -49.1h0m9 41.2h0m-4.6 -5.2h0m1.3 -28.9h0m2.4 24.8h0m18.2 -20.9h0m-24.8 26.4h0m-2.3 -4.1h0m2 -30.1h0m-8.5 46.1h0m29.4 -6.6h0m-27.2 -16.4h0m5.3 -16.5h0m1.3 28.2h0m-8.7 5.6h0m6.5 -11h0m.2 -16.6h0m3.2 -8.4h0m20.9 44.7h0m-18.7 -26.3h0m12.9 16h0m-27.2 -32.1h0m21.6 28.6h0m-7.8 -28.3h0m-2.7 16.7h0m13.8 -15.5h0m-9.2 40.7h0m20.2 -26.3h0m-24 -23.7h0m6.2 27.4h0m3.3 23.4h0m-8.2 -29.8h0m14.3 27.7h0m-18.7 -24.4h0" stroke="#bdbdbd" stroke-width="1.56" stroke-linecap="round" fill="none"/><path d="M56.7 351.3h0m61.2 0h0m-22 -39.2h0m5 10h0m-9.1 -12.6h0m1.8 34.1h0m18 9h0m-12.1 -.4h0m-4.4 -44.8h0m-27.8 31.4h0m45.8 14.3h0m-22.3 3.8h0m8.8 -50.1h0m.6 49.7h0m2.4 -16.2h0m-2.1 -25.2h0m16.4 -4.7h0m-10.8 47.4h0m-38.1 -19.5h0m32.7 -2.3h0m-2.4 -29h0m-60.6 35.7h0m55.3 -30.3h0m13.2 26.3h0m5.6 -16h0m-19.3 -3h0m11.6 8.7h0m8.7 29.4h0m-16.1 -34.5h0m1.4 26.3h0m-1.1 -2.7h0m-4.9 -37.3h0m-27.9 -3.3h0m25.5 40.4h0m-25.1 -31.8h0m28.7 3.7h0m20.5 10.2h0m-2.9 -9.7h0m-10.7 15.7h0m9.2 -13.9h0m-18.9 34.1h0m12.9 -13.4h0m-2.2 9h0m-10.5 -1.7h0m-31.8 -35.3h0m41.3 30.5h0m2.8 -33.9h0m-38.8 46.9h0m42.6 -35h0m-3.4 -5.1h0m.4 23.9h0m.8 -3.3h0m-45 -4.3h0m37.3 16.6h0m2.5 -8.6h0m12.4 -6.1h0m-18.1 -8.9h0m7.3 -19.7h0m-5.7 15.5h0m5.8 -4.4h0m9.9 31.9h0m3 4.4h0m-9.3 -29.2h0m4.6 -16.4h0m-16.9 14.2h0m15.8 21.5h0m6.2 -2.5h0m-3.2 17.3h0m3.5 -26.3h0m-16.4 -18h0m.8 33.7h0m-7.9 -11.7h0m-31.8 -26.7h0m29.6 42.3h0m21 -21.6h0m-4.7 -4.3h0m2.1 -9.5h0m-10.6 27.9h0m.5 -11h0m-50.2 -5.1h0m45.3 13h0m-48.9 -27.3h0m53.9 25.2h0m6.4 13.6h0m8.8 -45.3h0m-8.6 50.1h0m-12.7 -14.7h0m8.9 -16.3h0m3.5 9.4h0m-13.4 3h0m10.4 -26.8h0m14.5 46.4h0m-18.5 -.4h0m-35.3 -7.9h0m38.3 -5.3h0m1.2 5h0m-6.6 -15.2h0m-22.6 21.9h0m21.9 2h0m14.3 -46.4h0m-7.6 20.7h0m-3 2h0m2.9 -21.4h0m8.7 31h0m7.1 -6.3h0m-22.4 -13.5h0m.7 13h0m-2.2 3.6h0m19.2 15.1h0m-17.1 -37.4h0m-1.2 28.1h0m23.4 6.4h0m-10.3 -42.5h0m-11.1 20.6h0m12.1 -4.6h0m-3.1 -4h0m-1.3 24.8h0m-7.3 -11.3h0m-1.8 -8.6h0m4.9 1.2h0m-67.7 -4.9h0m74.4 .4h0m-12.3 11.7h0m-1.5 -7.7h0m4 -17.7h0m10.3 -3.7h0m-4.5 3.4h0m-9.6 10.4h0m.9 -1.4h0m-21.1 21.3h0m26.4 -21.6h0m-5 36.8h0m14.2 -.5h0m-3.2 -13.2h0m16 7.8h0m-22.5 -30.7h0m2.2 14.9h0m-3 -15.9h0m2.1 5h0m-4.5 7.5h0m2.3 2.7h0m9.2 -3.3h0m-5.1 1.8h0m9.2 4.4h0m4.3 -3.6h0m-13.1 25h0m.7 -9.5h0m.6 -26.8h0m-9.7 -13.2h0m4.6 39.1h0m.6 -24.3h0m9.7 10.9h0m-12.9 -15.4h0m2.3 -10.4h0m-4.3 14.1h0m-.3 33.9h0m10.7 -6h0m-12.7 -14.9h0m20.6 5.5h0m-9.6 -13.1h0m-61 -13h0m67.2 -6.2h0m-7.3 30h0m4.3 -29.3h0m-2.3 34.9h0m11.3 -2.7h0m-8 1.4h0m-13.9 -11.1h0m.8 -22.3h0m13.1 29.1h0m-9.1 5.5h0m7 -30.9h0m2.3 24.4h0m-71.6 -14.3h0m76.2 13.6h0m-19.9 17.2h0m8.5 -11.2h0m-2 -31.6h0m-2.8 40.5h0m10.8 -11.3h0m2 17.8h0m-.9 -42.4h0m-55.9 -10.6h0m42.1 46h0m-45 -6.2h0m56.1 -3.1h0m3.5 -16.7h0m-3.5 -1.5h0m-5.5 15.5h0m-83.7 -8.4h0m87 -4.4h0m9.5 19h0m-10.5 -38h0m7.7 11.1h0m-11.6 4.8h0m7.3 8.6h0m-6.2 6h0m8.5 10.3h0m-.4 -22.3h0m-4.9 28.8h0m-.7 -17.1h0m8.3 -1.6h0m-6.6 -26h0m1.9 .1h0m6.4 -1.2h0m-12.6 28h0m15.5 -6.3h0m-20.4 17.1h0m8.9 -36h0m8.1 12.8h0m-10.3 10.6h0m.8 15h0m-7.3 -8.7h0m10.2 9.9h0m7.1 -45.8h0m-16.7 2.9h0m-32.5 28.8h0m61.1 -15.2h0m-26.9 24.4h0m10.4 4.4h0m-.6 -.6h0m-15.4 4.1h0m-39.1 -45.3h0m56.3 37.7h0m-36 -27.2h0m31.9 27.1h0m2.7 11.8h0m-49.9 -49.5h0m36.5 24.6h0m8.3 -25.1h0m2.8 23.4h0m-5.2 -6.9h0m6.1 8.9h0m5.9 -9.6h0m-8 -4.9h0m-10.2 36.8h0m10 -39.3h0m8.4 38h0m-6.1 -16.8h0m-8.8 -17.8h0m9.6 37.7h0m-12.5 -40.6h0m-.1 -2.2h0m2.5 22.5h0m14 -26.3h0m-43.7 23.6h0m43.4 -27.2h0m-.8 11.7h0m-4.5 .6h0m11.3 22.2h0m-16.3 -36.7h0m-3.8 8h0m3.1 4.3h0m3.7 19.8h0m-3.1 4.7h0m-51.4 .3h0m50.9 6.1h0m-53.5 -42.5h0m1 34.8h0m64.1 -26.2h0m-3.1 3.5h0m-.5 36h0m-46.9 -17.3h0m34 -5.2h0m6.8 .6h0m-2.4 -1.5h0m2 2.3h0m-2.9 -26.7h0m11.6 25.9h0m-7.2 .5h0m-5.2 4.6h0m9.8 13h0m1.9 6.8h0m4.6 -4.9h0m-50.2 -35.6h0m34.6 33.3h0m5 -16.4h0m-29.4 -10.2h0m27.5 15.8h0m-74.5 15.5h0m81 -25.5h0m7.8 -12.2h0m-23.9 34.8h0m17.6 -35.3h0m-11.2 30.4h0m-1.4 -22.9h0m-35.2 -12.8h0m43.2 29.8h0m20.2 -32.1h0m-30.2 27.7h0m7.6 21h0m-7.2 -37.5h0m16.2 26.6h0m-59.2 -32.5h0m3.4 36.4h0m-1 -45.1h0m19.2 4.6h0m43.5 13h0m-10 5.5h0m5.7 -16.4h0m-5.9 39.1h0m4.3 -34.9h0m4.9 33.6h0m-7.2 -35.5h0m-11.2 -5.2h0m14.6 6.2h0" stroke="#ff7f0e" stroke-width="1.56" stroke-linecap="round" fill="none"/><path d="M33.7 345.1h0m56 12.4h0m-24.1 -39.4h0m18.6 -1.3h0m21.3 37.4h0m-45.1 -4.6h0m2.4 -32.9h0m7.9 -4.3h0m2.2 37.3h0m-7.2 -32.1h0m-1.6 -4.2h0m6.3 15.6h0m-5.7 -12.1h0m-3.6 17.3h0m7.2 17h0m22.9 -31h0m-28.9 27.1h0m-37.6 11.6h0m44.6 -51.4h0m-7.5 30.2h0m-30.7 3h0m31.3 -4.9h0m3.6 -15.4h0m-3.3 -2h0m-29.6 -.2h0m73.3 35h0m-1.3 -20.4h0m-38.3 -6.4h0m-8.5 1.2h0m-.4 -5.5h0m4.8 9.1h0m2.1 -8.6h0m38.8 32.4h0m-4.3 -1.2h0m-28.2 -41.2h0m-6.7 41.6h0m-28.9 -46h0m58.1 13.8h0m-32.3 28.9h0m7.4 -42.4h0m26.6 30.4h0m-32.1 -32.4h0m19.6 45.7h0m-64.5 -8.7h0m1.9 -21.9h0m51.2 -12.8h0m-4.7 -1.5h0m41.1 50.6h0m-35 -24.3h0m-13.1 24.3h0m6.6 -36.7h0m-39.4 11.9h0m47.5 -12.1h0m-16.5 30h0m12.5 -5.6h0m-40.5 -13.7h0m42.7 -16.6h0" stroke="#33e68f" stroke-width="1.56" stroke-linecap="round" fill="none"/><rect x="7.8" y="303.1" width="119.7" height="59.1" fill="none" stroke="#222" stroke-width="1"/><text x="195.4" y="297.7" text-anchor="middle">UTAG</text><path d="M190.2 335.9h0m23.1 -5.5h0m-2.3 -19.2h0m-34.3 10.5h0m29.3 -.2h0m-4 30.1h0m1.4 -38.8h0m13 24.4h0m-40.8 22.3h0m13.3 -8.7h0m29.4 -14.4h0m-51.6 -23.1h0m11.8 30h0m49.8 -28.2h0m16.4 -4.7h0m-10.8 47.4h0m-7.8 -50.8h0m-46.5 32.1h0m41.2 -26.7h0m19.8 45.4h0m-44.5 -11.3h0m28.4 -23.2h0m-27.4 5.6h0m-29 25.6h0m5 -48h0m10.3 47.5h0m9.6 4.1h0m13.8 -46.2h0m-8 47.5h0m-53.8 -50.4h0m36.1 31.9h0m-4.8 -5.6h0m-.8 -8.1h0m26.8 -11.9h0m26.7 35.3h0m-35.5 -33h0m-35.6 -3.4h0m52.6 45h0m20.3 -49h0m-32.5 4h0m-23.5 8.3h0m5.3 20.2h0m52.3 -5.1h0m-5.2 3.7h0m-84.5 -17.7h0m69.3 -12.1h0m-15.5 36.7h0m35.7 -31.8h0m-40.8 -4h0m10.7 23.5h0m10.7 -13.6h0m-1.8 -14.5h0m-8.3 46.6h0m-4.5 -25.4h0m24.9 -6.9h0m-48.9 4.9h0m54.7 -9.3h0m-33.6 38.3h0m-2.8 -39.1h0m40 7.9h0m-15.6 31.4h0m-45 -9.8h0m67.1 12.5h0m-26.2 -11h0m-16.7 3.3h0m-.8 -43.5h0m9.9 2.8h0m11.2 39.9h0m-4.5 -41.5h0m23.3 7.9h0m-65.8 10.1h0m49.6 -6.7h0m-36.3 3.2h0m-6.4 -4h0m4.1 17.3h0m5.3 -8.6h0m-9.4 -12.8h0m52.2 -2.8h0m-11.8 22.6h0m-46 -17.1h0m23 10.1h0m19 11.2h0m-59 -29.5h0m69.6 12.6h0m-12.1 -5.2h0m-15.2 19.1h0m-6.4 1.4h0m22.2 18.5h0m-12.4 -3.9h0m2.1 -4.2h0m-34.4 .7h0m68.4 1.8h0m-27.2 3.7h0m28.4 -9.4h0m-74.6 14.4h0m26.9 -2.2h0m-5.1 -11.4h0m8.1 -39.1h0m52.2 47.3h0m-47.9 -41.4h0m-10.3 -3.8h0m-16.8 3.1h0m7.5 20.3h0m18.9 22.3h0m-14.6 -25.6h0m-1.1 .1h0m-4.8 2.9h0m32.3 5.7h0m-12.2 -4h0m39.7 -6.1h0m-52.8 2.4h0m20 25.6h0m2.8 -38.8h0m-7.3 10.1h0m21.6 2.3h0m-17.2 29.2h0m-11.4 -26.3h0m32.6 -20.6h0m-18.7 42.8h0m-31.7 -34.7h0m34.6 15.6h0m13.2 21.5h0m-18.4 -43.5h0m29.4 29.8h0m-54.2 -18.4h0m4.8 -3.2h0m39.7 10.2h0m-47.6 -15.8h0m24.1 19.2h0m35 -4h0m10.7 27.6h0m-19.8 -31.1h0m-20.7 12.4h0m-16.2 -4.1h0m42 13.3h0m-9.1 -40h0m-25.7 17.5h0m40.6 8.2h0m-34.1 -14.2h0m19.2 2.5h0m-8.4 19.5h0m-26.3 -15.2h0m4.9 4h0m29.5 25.6h0m-6 -27.6h0m-44.9 9.6h0m48.9 -2.9h0m-41.8 8.9h0m55.2 10.2h0m-12 -46.7h0m-48.9 33.3h0m-.4 -29.8h0m21.9 22.4h0m23.6 8.8h0m-24.1 11.2h0m38.4 -9.5h0m-47.3 5.4h0m36.4 -34.4h0m-4.9 23.8h0m5.2 -7.2h0m-13.7 22.7h0m-10.1 -22.4h0m28.6 12h0m13.9 -7.2h0m-19.9 17.2h0m14.5 -13.6h0m-25.4 -24.9h0m-29.4 -10.3h0m56.7 20h0m-19.1 33.2h0m13.4 -32h0m-35.1 .2h0m-13.9 32.3h0m-6.8 -34h0m19.2 -3.5h0m31.7 1.9h0m-6.2 14h0m-6.1 -13.2h0m21.9 24.1h0m-.4 -22.3h0m-64.9 -3.8h0m2.9 22.3h0m56.4 -6.8h0m3.6 -27.5h0m-45.2 23.1h0m57.5 -16.8h0m-52.9 25.6h0m38.4 -30.3h0m-14.3 11.5h0m-41.5 -2h0m25.2 -14.7h0m21.9 34.9h0m-42.5 -30.6h0m-.5 16.4h0m-7.7 -16.5h0m6.7 28.8h0m56.7 11.3h0m-52 -11.2h0m36 14.7h0m-6.3 -2.7h0m-1.5 6.6h0m25 -11.5h0m-42.8 6.7h0m-7.4 -41.6h0m3.1 36.5h0m11.1 -28.8h0m31.9 27.1h0m.4 -14.8h0m-58.3 21.2h0m39.1 -4.8h0m-8.2 -39.5h0m28.3 29.3h0m-8.8 -17.8h0m13.5 21.4h0m-16.4 -24.3h0m-30.8 35.5h0m17.6 -14h0m-24.9 -10.4h0m27.2 -2.6h0m27 -18.1h0m-41.6 12.9h0m-1.6 27.3h0m-25.9 9.8h0m68.3 -38.3h0m-36.9 15.2h0m32.4 -14.6h0m-19 -9.3h0m6.3 39.5h0m-20.9 -37.1h0m9.3 15.2h0m-20.4 22.1h0m2 -11.2h0m26.8 10.3h0m-42.2 -8.5h0m32.6 2.5h0m-3.8 -6.1h0m14 -29.7h0m17.7 46.6h0m-46.9 -17.3h0m-5.3 -14.2h0m-39.2 22.9h0m68.6 -32.6h0m-37.9 -1.8h0m11.2 38.3h0m27.7 -20.6h0m15.3 4.2h0m-42.6 -27.9h0m44.1 27.6h0m-37.1 22.1h0m-10.1 -10.4h0m15.2 13.1h0m-6.3 -18.3h0m33.8 10.7h0m-23.2 -41.2h0m-2.1 12.6h0m13.6 -15h0m-5.2 31.8h0m15.4 -14.2h0m-15.6 29.9h0m10.4 -9h0m-15.7 -11.1h0m6.9 -1.6h0m-35 -10.7h0m3.2 -8.4h0m37 -5.3h0m-35.8 6.4h0m3.4 36.4h0m21.5 -33.5h0m30.2 11.5h0m-40 7.7h0m44.1 -19.9h0m-43.2 -8h0m29.7 .9h0m-31.5 47h0m46.1 -40.8h0" stroke="#33e68f" stroke-width="1.56" stroke-linecap="round" fill="none"/><path d="M191.7 333.1h0m-19.4 -23.6h0m12.2 41.8h0m-1.3 -6h0m7.3 -38.2h0m-8.6 29.3h0m-6.1 18.3h0m3 -44.5h0m17 28.1h0m-9.8 18.9h0m6.9 -34.4h0m5.8 -8.5h0m-1.9 -7.7h0m-13.5 52.9h0m-14.5 -32.1h0m23.6 -12.5h0m-5.6 19.2h0m11.2 22.1h0m-18 -35.8h0m1.5 11.1h0m5.7 -11.9h0m-7.3 25.2h0m-2.2 13h0m-8.5 -4.3h0m-.1 -1h0m30.1 -38.6h0m-25.1 17h0m7.9 13h0m1.6 -2.3h0m-6.9 14.1h0m-4.4 -1.7h0m28.4 -44.1h0m-8.5 18h0m1.7 31.4h0m1.8 -32.2h0m-16 10.1h0m1.8 4.2h0m-13.4 7.6h0m3.1 -13.8h0m20 10.9h0m3.8 -17h0m-25.5 19.6h0m24.8 -2h0m-7.1 -36.8h0m13.7 4.7h0m-11.2 44.6h0m-14.8 -30.6h0m20.1 8.7h0m-2.9 1.5h0m7.1 -20.3h0m.9 13.2h0m-28.4 -4.9h0m13 16.9h0m14.8 13.3h0m-2.4 -49.5h0m-29 41.7h0m-7.7 -36.6h0m31.4 .1h0m-4.6 37.2h0m3.5 -16.9h0m-18.7 18.7h0m18.5 4.3h0m-4.8 -43.1h0m-12.8 34.7h0m12.3 -8.9h0m-11.8 6.8h0m-27.3 5.2h0m52.4 -15.5h0m-28.3 13.4h0m.9 -15.5h0m-19.3 3.1h0m38.7 -17.8h0m-30.6 -4.6h0m16.9 31h0m2.9 10h0m3.4 -41.8h0m-21.3 .1h0m28.6 12.7h0m-19.8 30.5h0m29.2 -25.8h0m-10.6 -20.2h0m-10.9 38h0m-7.8 -32.5h0m15.6 11.8h0m2 15h0m-19.2 5.7h0m21.4 -25.6h0m.2 3.3h0m-6.2 33.2h0m-13.6 -22.9h0m9.2 -1.6h0m1.8 6.4h0m-12.1 -9h0m8.4 -2.7h0m-35.1 13.8h0m31.7 8.9h0m2.6 5.2h0m4.1 -33.8h0m18 2.5h0m-16.6 17.8h0m-31.3 -36.1h0m17.1 38.9h0m8.5 4.6h0m14.3 -31.6h0m-12 -.9h0m-37 28.2h0m30.4 -18.6h0m-1.9 -18.2h0m-.4 23.9h0m12.4 -24.5h0m-13.7 8h0m-21.1 4.1h0m51.2 -12.8h0m-27.7 26.7h0m7 21.6h0m-2.4 -30.9h0m24.5 7.4h0m-10.2 -18.3h0m10.4 26.3h0m-11 -1.5h0m2.5 -4.6h0m-26.3 -6.2h0m11.4 -9.8h0m11.1 23h0m8 -27.2h0m-27 31.7h0m17.7 .9h0m10.9 -10.1h0m-24.2 5.4h0m1.7 -20.6h0m-4.3 -15.8h0m10.9 25.6h0m-13.8 -20.3h0m8.9 13.1h0m2.1 18.9h0m7.6 -12.3h0m-12.4 25.5h0m23.5 -10.8h0m-10.1 -11.7h0m-9.7 6.2h0m16 -12.2h0m-24.4 -13h0m21.8 30.1h0m-15.9 -37.2h0m-2.6 41.4h0m9.1 -2.7h0m-4.6 -5.2h0m-27.1 5.4h0m30.8 -9.5h0m-8.9 1.4h0m22.9 9.4h0m-8.8 -37h0m-2.5 30.4h0m-11.5 -3.5h0m17.4 -3.8h0m-26.4 10.4h0m26.8 -26h0m-15.4 13.7h0m4.6 25.2h0m20.7 -26.4h0m-.5 .1h0m-12.3 4.9h0m12.9 -21.8h0m-23.3 14.2h0m-4.4 3.3h0" stroke="#bdbdbd" stroke-width="1.56" stroke-linecap="round" fill="none"/><path d="M160.9 333.3h0m84.8 18h0m-22 -39.2h0m-62.2 33h0m49.7 -33.1h0m17.5 10.1h0m-21.9 6.3h0m-61.9 29.1h0m26.5 -2.4h0m-29 -34.9h0m4.9 -5h0m53.2 30.2h0m-5.4 -6.6h0m-26.4 -32.4h0m79.6 23.7h0m-32.6 -13.6h0m3.2 -1.1h0m8.6 39.1h0m-11.3 2.1h0m-17.8 -35.2h0m-32.9 21.3h0m72.4 -29.7h0m-22.1 2.9h0m-18.7 20.4h0m52.1 19.3h0m-88.7 -25.4h0m35.4 28.4h0m-27 -3.8h0m57 -5.2h0m-1.1 -2.7h0m-32.8 -40.6h0m4.3 51.5h0m-50.7 -2h0m35.1 -34.7h0m9.9 -4.4h0m32.6 -.7h0m-44.9 29.8h0m63.3 -17h0m-25.8 -7h0m.9 -.8h0m-63.2 22.9h0m43.7 -8.9h0m-40.8 10.9h0m38.4 -11.2h0m52.2 -25.8h0m-80.6 35.4h0m82.8 -3.2h0m-107.4 -9.9h0m92.8 -9.1h0m-48.3 33h0m44.9 -38.1h0m-47.3 13.6h0m65.5 18.2h0m-49.6 -27h0m-43.7 -11h0m9.4 3.4h0m19.7 -4.5h0m-.6 33.7h0m-29.1 11h0m66 -28.1h0m-29.6 -12.9h0m-43.6 -.9h0m25.1 10.7h0m45.1 -6.9h0m-13.2 1.8h0m-3.7 22.3h0m-42.2 -20.9h0m21.1 4.4h0m-9.8 -17.1h0m-13.2 49.3h0m26.3 -37.5h0m-26.6 19.2h0m56.5 19.3h0m-47.3 -17.3h0m4.9 -25.5h0m7.4 39.4h0m-9.4 -12h0m55.9 -2.2h0m-29 -17.1h0m51.5 -8.6h0m-80.8 18.5h0m64.9 25.6h0m14.5 -7.8h0m-37.5 -18h0m-27.7 -11h0m-12.9 23.2h0m18.4 -4.6h0m2.6 10.9h0m38.3 -5.3h0m-14.8 4.1h0m-33.7 -20.5h0m16.7 -1.4h0m50.5 -9.9h0m-32.6 10.7h0m35.9 17.1h0m-21.4 -12.1h0m-.1 -19.4h0m-56.8 24.3h0m7.4 5.4h0m25.5 -22.5h0m-35.9 7.3h0m51.7 13.3h0m-61 -1h0m20.2 -6.1h0m-24.2 -24.1h0m79 .9h0m12.4 16.6h0m-27.5 -13.8h0m29.7 40.9h0m-34.8 -19.9h0m-27.6 -.6h0m7.2 23.9h0m40.2 -50.9h0m-13.2 12.4h0m-26.5 .4h0m5.4 20.9h0m-1.4 -31.4h0m-11.4 22h0m-9 11.6h0m30.4 -4.8h0m37.8 -31.6h0m2 43.5h0m-22.5 -30.7h0m-32 28h0m-45.3 7h0m1.8 -37.2h0m46.3 -3.3h0m-4.3 1.2h0m4.8 43.1h0m-37 -14h0m6.9 5.6h0m2.2 4h0m25.8 -22.6h0m38.6 1.1h0m-2.9 -10.7h0m-82.3 19.5h0m100.6 11h0m-45.3 3.9h0m-54.7 -47.9h0m50.1 48.2h0m51.6 -22.7h0m-62 -22.6h0m57.3 42h0m-99.6 -9.5h0m.9 -12.8h0m47.4 6.2h0m53.7 10.6h0m-42.3 -3.9h0m-10.5 -29.4h0m34.1 13.6h0m-49.7 18.3h0m13.3 -24h0m16 -8.8h0m-49.2 11.1h0m6.1 .5h0m39.1 -14.5h0m-18.7 15.8h0m42 12.4h0m-52 -19.4h0m70.9 -1h0m-44.2 -.1h0m17.5 -8.6h0m13.1 29.1h0m-22.4 -24.3h0m-7.9 18.3h0m-10.3 -25.2h0m-20.8 13.6h0m37.8 -.7h0m25 38h0m-53.9 -15.7h0m53 -26.7h0m15.6 23.7h0m-74.4 5.5h0m-14.2 -.5h0m70.3 -2.6h0m-32.1 -29.9h0m26.6 27.2h0m-53.1 -9.5h0m34.2 16.5h0m31.7 -.8h0m-46.1 8.2h0m-28.7 -13.8h0m64.3 -32.4h0m-10.8 36.9h0m-63.4 -34h0m71.4 27.6h0m-14.3 10.4h0m-49.1 -36.7h0m24.4 21.3h0m-11.4 -4.1h0m62.9 -19.9h0m-85.2 3.7h0m96.6 37.5h0m-58.2 -19.8h0m-14.3 5.3h0m-1 -10.6h0m21.1 -17.1h0m-52.6 23.1h0m83.6 19.1h0m-45.7 6.1h0m55.7 -50.7h0m-16.5 46.9h0m-50.4 -11.1h0m17.7 -4.1h0m22.9 .6h0m-44 9.7h0m79.9 -31h0m-55.8 -.3h0m-43.5 7.7h0m48.8 -4.3h0m-52.9 23.2h0m54.6 12.1h0m-21.6 -8.2h0m-18.2 -38.9h0m50.3 48.8h0m-42.6 -39.5h0m-22.4 14.6h0m87.5 2.1h0m-12.3 22.3h0m-53.9 -40.2h0m-1.6 -10.5h0m-7.9 6.9h0m38.9 -5.6h0m20.9 41.9h0m13.6 -31.8h0m-40 -8.7h0m1.9 .4h0m-41.6 19.5h0m3.8 -20.7h0m14.6 32.4h0m13.2 -11.2h0m20.4 13.1h0m14.8 -24.9h0m3.4 -1.6h0m-32 42.2h0m1.2 -30.6h0m-45.9 -12.6h0m9.9 40.8h0m52.2 -9.4h0m-27.7 13.2h0m31.6 -29.6h0m-41 18h0m22.4 -.6h0m-38.1 -14.9h0m21.2 24.5h0m-12.4 -47.3h0m49.5 26.7h0m14.9 6.8h0m-57.5 -31.6h0m0 27.4h0m44.3 -16.1h0m-31.5 -16.3h0m12.2 50.6h0m-.9 -40.1h0m28 15.6h0m6.8 .6h0m-20.1 -1.6h0m17.7 .1h0m-24 24.9h0m7.3 -28.6h0m-37.2 7.9h0m37.7 -3.6h0m-22.3 -16.7h0m-22.5 30.7h0m-21.1 -16.1h0m15.5 1.7h0m47.1 10.3h0m-34.9 -2.5h0m29 -15.4h0m-25.6 -17.9h0m53.1 33.7h0m-67 -26.5h0m28.6 7.9h0m-36.1 34.1h0m27.1 -42.1h0m61.7 4.4h0m-29.9 -4.2h0m-3.9 5.1h0m9.9 33.9h0m17.6 -35.3h0m15.6 -7.6h0m-34.2 40h0m-16.6 -.2h0m37.2 -2h0m8.7 -33.6h0m-54 34.4h0m-40.5 -25.5h0m29 -16.5h0m-15.7 9.9h0m21.6 28.6h0m-25 5.9h0m71.6 1.4h0m-43.3 -34.4h0m21.5 .4h0m39.8 31.7h0m-64.8 9.4h0m34.3 -22.9h0m-68.7 8.4h0" stroke="#ad2742" stroke-width="1.56" stroke-linecap="round" fill="none"/><path d="M227.6 310.8h0m-30.1 29.4h0m20.7 -17.5h0m-54.6 32h0m72 -39.1h0m4.6 34.1h0m-20.6 -40.2h0m-9.2 22.2h0m11 11.9h0m-6.4 -26.9h0m3.6 40.2h0m-59.4 -26.9h0m35.6 -7.3h0m35.6 17.6h0m-33.1 4.4h0m13.4 -10.8h0m22.6 20.3h0m13.6 -20.7h0m-18.4 2.5h0m-58.4 -4.8h0m18.1 18.4h0m.3 -23.6h0m21.3 14.1h0m22.1 -11.7h0m-77.5 -1h0m-2.1 -19.6h0m32.8 8.5h0m43.4 27.4h0m15.7 -2.1h0m-95.5 12.9h0m43.3 3.9h0m-4.8 -19.1h0m12.8 -29.6h0m9 37.4h0m-57.7 5.7h0m37.4 -3.9h0m-8 -23.6h0m2.4 -9.1h0m-15.6 1.4h0m30.3 29.3h0m-11.1 -33.3h0m-23.7 15h0m2.2 -12.9h0m62.8 28.4h0m-36 13h0m10.5 -26.7h0m5.7 -9h0m-31.2 28.8h0m10.4 -16.9h0m8.1 -19.9h0m33.3 -6.8h0m-72.3 50.8h0m19.3 -48.7h0m41 25.4h0m-14 20.2h0m42.1 -48.5h0m-82.1 34h0m26.1 -5.6h0m8.8 22.7h0m-3.4 -39.2h0m-47 10.1h0m16.9 -3.4h0m60.4 20.3h0m-74.9 8.5h0m35.4 -26.7h0m2.4 .4h0m-40 .6h0m18.2 14.8h0m35 -3h0m-22.1 14.1h0m-26.8 -9.7h0m38.3 3.6h0m-12.9 -.7h0m-5.2 -1.5h0m2.5 3.7h0m50 9.7h0m-70.7 -35.3h0m86.1 -.1h0m-62.6 22.5h0m40.7 -30.3h0m-61.1 24.6h0m14.4 .5h0m42.6 -11.5h0m-63.6 -3.6h0m88.8 31.5h0m-29.1 -25.8h0m-18.4 -8.2h0m-1.4 13h0m-32.7 14h0m7.5 -38.7h0m20.2 46.6h0m-38.8 -46.9h0m76.8 26.1h0m-1.8 -8.6h0m-4.3 -10h0m-52.5 -1.8h0m-21.7 18.2h0m82.7 -15h0m-59.4 10.4h0m27.8 5.6h0m.3 1.8h0m3.6 -18h0m-11.8 39.5h0m-14.3 -48h0m-31 21.5h0m84.1 15.5h0m.6 -24.3h0m-27.6 8.3h0m6.4 -13.3h0m20.3 -9.9h0m-36 3.8h0m14.9 33.2h0m-38.6 6.5h0m20.8 -30.2h0m45 28.7h0m7.9 -9.4h0m-31.5 -10.9h0m-33.5 12.5h0m1.1 9.7h0m-6.7 -37.4h0m9.6 37.7h0m1.7 5.7h0m-3.3 -27.8h0m36.9 12.1h0m-22.4 -15.9h0m-12.9 9.7h0m-16.8 3.1h0m.3 -21.4h0m33.5 7.9h0m-12.2 -16h0m-20.6 13.4h0m38.2 32.5h0m24.6 -44.5h0m-68.2 15.7h0m62.7 -9.2h0m-32.3 4.5h0m29 -8.9h0m-57.4 -6.2h0m72.6 16.6h0m-89.2 7.1h0m64.8 1.8h0m-22.2 -23.2h0m9.2 2.9h0m-16.2 .6h0m-1.6 31.2h0m-.4 -29.9h0m5.2 10.8h0m66.9 12.7h0m-65.4 -26.2h0m-19.4 9.3h0m27.6 16.6h0m21.1 -6.8h0m-52 27.9h0m6.2 -50h0m20.2 26h0m-3.8 -14.8h0m41.1 18.6h0m-24.6 -31.3h0m50.9 15h0m-98.8 -5.6h0m40.4 -10.5h0m-10.5 -.5h0m-15.1 .5h0m67.3 52.5h0m-74.8 -22.7h0m49.3 -13.3h0m-56.7 14h0m77.1 -28h0m20.7 28.4h0m-67.3 19.5h0m-1.3 -40.2h0m42 35h0m-20.4 -37.4h0m-13.4 36.9h0m-24.6 -34.4h0m4.4 22h0m4.7 7.8h0m8.1 9.3h0m20.7 -37.5h0m-3.2 -3.4h0m2.8 32.1h0m7.4 .8h0m13.8 -9.7h0m-71.4 3.9h0m16.3 -16.3h0m3.7 11.6h0m17.5 12.2h0m-19.7 -22.1h0m-14.8 -9.8h0m27.4 -11.3h0m-12.2 2.5h0m40.7 42.8h0m-37.5 2.4h0m61.3 -35.2h0m-75.6 7.6h0m8.7 12.4h0m79 -9h0m-78.1 4.6h0m47.3 -23.8h0m-63.6 34.2h0m5 -12.8h0m90.8 -5.5h0m-72.4 -17.1h0m28.3 .8h0m9.1 40.2h0m-23.1 -33.1h0m-25.7 20.3h0m65.3 -3.4h0m20.5 14.1h0m-102.8 -1.8h0m2.9 -18.1h0m50.7 -11.3h0m-24.8 26.4h0m58.1 -13.7h0m-71.8 -14.6h0m40.2 3h0m-60 8.1h0m33.2 -17h0m48.7 38.2h0m-55 -15.1h0m5.3 -16.5h0m1.3 28.2h0m-24.1 -5.3h0m15.4 10.9h0m30.8 8.7h0m11 -3.6h0m-30.2 -38.5h0m60.3 -3.5h0m-78.2 38.5h0m16 -43.1h0m6.2 27.4h0m-7.1 13.9h0m43.1 -32.1h0m-65.8 36.7h0" stroke="#1f6eb0" stroke-width="1.56" stroke-linecap="round" fill="none"/><path d="M150.6 349.3h0m-8.3 -15.1h0m19.2 -15.4h0m30 10.7h0m-31.4 6.3h0m-9.6 1.3h0m42.9 -19h0m1.7 32.7h0m-31 -22.8h0m-20 24.7h0m16.1 -46.4h0m30.2 33.1h0m-46.7 9.9h0m24.4 -32.9h0m-2 29.2h0m-4 -19.6h0m36.4 -13.6h0m-38.2 -3.3h0m-7.8 6.6h0m7 30.8h0m41.2 3.2h0m-22.6 -14.5h0m20.4 -1.7h0m-35.9 11.6h0m14.4 -17.2h0m-9.6 8.9h0m2.1 -.5h0m-25.5 17.8h0m5.3 -36.3h0m17.1 23.7h0m-20.8 -3.5h0m20.8 -8.6h0m-6 -15.5h0m14.3 -5.9h0m-10.4 50h0m-7.8 -27.8h0m-.4 -3.3h0m9.7 -7.5h0m1.3 11.2h0m-3 .3h0m-15.5 12h0m-5.7 -19.8h0m12.6 20.7h0m7.6 -23h0m2.3 .7h0m-1.1 -13.6h0m28.4 6.8h0m-25.8 -3.9h0m20 3.1h0m-43.7 12.9h0m-2.5 8.2h0m13.7 -25.8h0m-.6 14.3h0m2.9 -8.3h0m24 4.5h0m-33 34.1h0m36.3 -44.9h0m-24.1 -1.7h0m5.6 19.4h0m-5.4 -15.1h0m-7.6 47.4h0m13.3 -20.8h0m28.7 -19.7h0m-42.9 -10.7h0m26.3 15h0m7.5 -9.1h0m-37.7 14.7h0m52.8 -17.2h0m-52.6 19.5h0m15.7 -4.9h0m-10.8 22.5h0m4.8 9.7h0m-13.8 -46.2h0m1.9 16.4h0m1.1 18.7h0m6.8 -23.8h0m.6 29.7h0m-10.1 -23.7h0m8.1 16.7h0m6.4 -21.1h0m-10.9 25.5h0m-.3 -8.5h0m13.5 -7.5h0m34.4 -17.7h0m3 7.4h0m-31.5 17.2h0m-5.9 -22.8h0m-18.8 14.4h0m18.8 -8.2h0m13.7 22.3h0m-16.1 -31.6h0m5.3 -8.3h0m10.2 1.2h0m4.7 27.8h0m13.9 21.5h0m-2.8 -31.9h0m-24.4 21.8h0m-1.6 -3.6h0m4.1 -22.1h0m24.2 11.8h0m-49 -11.4h0m-1 -8.2h0m22.3 16.1h0m-12.7 10.2h0m4.3 -23.4h0m-11.3 -4.8h0m16.9 0h0m-6.5 35.9h0m-14.3 -24.3h0m3.1 -8.9h0m13.2 -.7h0m-4.5 -6h0m10.7 .4h0m18.4 19.6h0m-37.3 .6h0m6.9 -17.7h0m6.5 48.4h0m-17 -23.9h0m58.3 1.8h0m-53.5 -10.4h0m-1.4 -16.6h0m38.3 5.2h0m-2.9 15.9h0m-10.3 18.2h0m19.8 1.6h0m-21.6 -5.8h0m10.8 1.1h0m20.8 -9.3h0m-4.8 8.4h0m-28.6 -26.4h0m-24.7 8.3h0m24.5 -9.5h0m12.3 -8.1h0m-35.9 13.7h0m9.6 33.5h0m1.9 -12.3h0m32.6 -10.5h0m-39.9 9.5h0m21.3 -29.3h0m0 12.7h0m25.5 -15h0m-37.2 10.2h0m1.8 -15.5h0m11.3 33.9h0m-1.6 -29.4h0m-11 35.3h0m16.6 -9.7h0m-22.8 -18.7h0m12.9 -1.8h0m-4 17.1h0m-.1 20.2h0m-.2 -28.6h0m8.5 -9.1h0m-17.2 19.1h0m4.8 -1.8h0m29.7 -20.7h0m13.8 12.5h0m-11.8 10.8h0m-26.2 -2.8h0m8.4 -1.8h0m10.6 5.9h0m19 8.4h0m-13.7 -34.6h0m-24.4 11.3h0m21.5 -14.9h0m-36.4 14.4h0m15.2 35.4h0m36 -26.5h0m-28.2 26.4h0m12.2 -11.6h0m-20.4 -34.5h0m23.1 44.5h0m7.8 -48.8h0m-34.2 51.2h0m9.3 -2.2h0m-6.4 -35.8h0m18.6 12.5h0m-22.5 -2.9h0m-1.2 -9.1h0m-1 18.9h0m45.3 -28.3h0m-53.7 7.8h0m-1.5 5.3h0m-2.3 .7h0m9.3 3.1h0" stroke="#2bb5ec" stroke-width="1.56" stroke-linecap="round" fill="none"/><path d="M212.3 338.9h0m35.8 -11.8h0m-30.2 -7.5h0m9.4 32.6h0m-18.1 -25.9h0m-1.8 -16.2h0m15.5 -2.7h0m4.5 -.6h0m-15 42.4h0m-4.4 -2.8h0m34.9 -1.8h0m-14.9 11.9h0m-16 -39.7h0m-8.5 -.2h0m12.9 -7.3h0m3.9 10.4h0m-.4 -10.1h0m-6.9 26.8h0m4.5 10.3h0m-9.9 -37.8h0m6.3 21.4h0m.9 5.1h0m23.9 -16.3h0m-10.7 15.7h0m-9.7 20.2h0m12.9 -13.4h0m18.1 -15.6h0m-4.8 22.9h0m-12.9 -8h0m-23.9 -26.6h0m31.9 20.9h0m-33 -22.8h0m-3.5 2.7h0m13.1 31.4h0m18.2 -18.7h0m-20.8 24.6h0m13.9 -40h0m11.3 37.2h0m-1.7 -41.2h0m-1.1 35.7h0m6.5 -11.5h0m-16.4 -18h0m.8 33.7h0m-7.9 -11.7h0m-2.2 15.6h0m16.3 -25.9h0m-8 7.4h0m-15.4 2.5h0m30.7 -28.4h0m-21.3 35.4h0m-1 -3.9h0m-4.1 -21.1h0m-11.3 -4.7h0m26 36.8h0m-18.1 -25.5h0m4.3 31.9h0m20.8 -44.1h0m-13.6 25.5h0m-5.3 3.8h0m13.8 9.6h0m-23.6 6.4h0m4.9 -14.4h0m.7 -26h0m8.2 30h0m2 -15.5h0m-17.1 25.4h0m.5 -31.8h0m9 -15.2h0m16.6 13h0m-1.3 24.8h0m-21.4 -12.7h0m17.2 -6h0m-11.7 26.2h0m1.6 -29.1h0m16.8 -1.6h0m-30.1 10.4h0m4.6 -23.1h0m8.7 13h0m-13.5 -.8h0m10 -14.9h0m22.1 46.4h0m-30.6 -9.5h0m20.1 -27.6h0m2.1 5h0m-23.4 -2.3h0m34.5 15.4h0m-3.3 16.2h0m-23.3 4.7h0m17.8 .5h0m19.9 -19.1h0m-32.7 17.1h0m26.4 -1.6h0m-20 -35.6h0m26.2 -7h0m-34.3 33.4h0m8.3 -8.7h0m9 -10.7h0m17.3 -8.4h0m-13.6 -8.7h0m-33 15.8h0m31 18.5h0m-11.4 8.9h0m-17.9 1.3h0m16 -1.8h0m-5.3 6h0m-.4 -12.9h0m-12.8 -7.8h0m13.3 -19.8h0m-7.7 -8.8h0m24.2 24h0m-3 22.8h0m-17.6 -1.6h0m26.3 -29h0m-7.7 -14.1h0m-13 25.8h0m-13.7 -15.6h0m22.4 16.7h0m-5.3 10h0m24.3 3.3h0m-22.5 -28.8h0m-18.8 -.6h0m34.4 3.7h0m-10.3 10.6h0m3.7 16.2h0m-9.6 -42.9h0m1.7 38h0m9.8 3.8h0m-17.6 -9.3h0m.5 -6.3h0m5.7 3.6h0m-7 -.4h0m35.5 -11.4h0m-33 -16h0m-10.5 41.4h0m1 -39.4h0m12.4 21.1h0m-3.3 16.5h0m-7.8 -9.5h0m29.2 14.3h0m-29.1 -46.2h0m36.8 23.8h0m-42 -5.3h0m29.6 9.5h0m-.6 21.3h0m-24.3 -36.8h0m-3 36.5h0m13.9 -43.3h0m17.3 -3h0m-29.4 8.4h0m38.2 25.4h0m4.1 -39.1h0m-43.5 48.1h0m10.6 -36.7h0m-13.8 3h0m23.2 -14.9h0m-3.8 8h0m3.1 4.3h0m3.7 19.8h0m-3.6 11.1h0m11.6 -33.9h0m-20.9 0h0m28.3 -5.4h0m-28.4 1.4h0m19.6 21.6h0m-12.8 -17.8h0m2 5h0m10.1 37.7h0m4.6 -4.9h0m-31.7 -33.3h0m-1.3 17.5h0m23.9 4.5h0m-2.4 16.6h0m-18.1 -12.8h0m10.9 -24.7h0m-15.4 23.9h0m6.6 12.3h0m37.2 -18.3h0m-14.5 -23.5h0m-8.8 6.4h0" stroke="#ff7f0e" stroke-width="1.56" stroke-linecap="round" fill="none"/><path d="M209.6 347.6h0m-3 -21.8h0m10.9 31.7h0m21.9 -4.9h0m1.5 .5h0m-36.3 -30.3h0m5 7h0m-8.6 17.3h0m26 -33.8h0m-25 9.2h0m6.4 33h0m25.6 -16.8h0m5.6 -16h0m-30 4.8h0m1.1 11.8h0m-8.6 -18.3h0m2.4 7.3h0m16.6 -9.7h0m-18.5 19h0m34.6 -16.7h0m-18.7 28h0m-13.8 5.8h0m14.5 -43.7h0m-.9 4.4h0m6.4 34.5h0m-15.3 -33.5h0m-5.9 34h0m38.3 3.6h0m-21.6 -31.4h0m22 19h0m-31.4 -31h0m16.6 8h0m-18.7 15.4h0m-1.1 -26.1h0m30.2 22.7h0m-17.6 11h0m-2.7 -6.1h0m14.1 17.6h0m-3.6 -26.2h0m3.5 9.4h0m11.5 22.6h0m-24.2 -46.8h0m3.3 23h0m10.4 7.8h0m-11.1 16.1h0m3.7 -23.7h0m18.7 3.3h0m-22.4 -13.5h0m.6 -5.7h0m-11.3 -12.4h0m10 29.7h0m8.3 -25.7h0m-9.6 10.4h0m-3.7 30.4h0m11.6 -17h0m-3.1 -.7h0m4.1 -1.5h0m-19.8 -7h0m.5 -2.8h0m-4.4 -8.6h0m37.2 19.2h0m-26.1 15.2h0m1.1 -15.1h0m-15.3 6.7h0m10.1 3.5h0m18.1 -7.3h0m-2.6 17.4h0m5.1 -44h0m-21.5 1.9h0m-5.2 25.4h0m35.7 4.9h0m-10.1 -28.3h0m2.3 24.4h0m-6.8 5.3h0m-19.6 13.9h0m4 -50.2h0m3.9 51.1h0m20.6 -39.1h0m.3 17.5h0m-21.8 -22.3h0m26.4 16.9h0m-20.4 17.1h0m-13.5 9h0m-.6 -7.5h0m-3.5 -36.3h0m30.4 -5.5h0m-30 1.8h0m22.4 15.7h0m12 -.7h0m-8 -4.9h0m-12.5 8.3h0m18.9 29.7h0m-25.6 -49.6h0m-4.6 11.4h0m-3.5 8.1h0m4.4 -4.6h0m0 -2.9h0m35.4 22.5h0m-28.4 -34.6h0m-6.1 20.6h0m.3 16.4h0m15.9 -38.1h0m-15.3 43.3h0m14.5 -12.3h0m-13.8 1.9h0m.9 -21.9h0m22.7 33h0m-27.3 5.3h0m18.8 -41.6h0m18.9 24.4h0m-23 -1.9h0m22.5 -13.5h0m-20.5 17.6h0m19.5 9.3h0" stroke="#f0c93c" stroke-width="1.56" stroke-linecap="round" fill="none"/><rect x="135.6" y="303.1" width="119.7" height="59.1" fill="none" stroke="#222" stroke-width="1"/><text x="323.2" y="297.7" text-anchor="middle">DR-SC</text><path d="M317.9 335.9h0m1.5 -2.8h0m35.9 -22.3h0m-14.3 19.6h0m4.9 -7.7h0m-45.9 -13.2h0m37.3 38.1h0m-7.6 4h0m1.4 -38.8h0m13 24.4h0m-23 -19.1h0m11.2 4.7h0m13.7 13.6h0m-8.7 -6.6h0m9.3 -14.4h0m-6.9 1.4h0m18.4 23.5h0m-51.6 -30.1h0m18.5 34.5h0m1.1 -23.3h0m34.9 32.8h0m.6 3.6h0m-30.4 -41.2h0m12.9 -7.3h0m-46.3 21.9h0m18.1 18.4h0m37.9 -42.6h0m-37.6 19h0m10.2 -11.7h0m33.2 14.1h0m-34.8 .5h0m31.4 14.8h0m-59.6 11.1h0m55.9 -7.9h0m-7.3 -.2h0m-36.8 -25.6h0m21.4 -.1h0m-29 -14.5h0m19.9 51.6h0m13.8 -46.2h0m7.1 18.4h0m9.3 -14.3h0m-36 23.3h0m-8.9 6.5h0m8.9 -26.2h0m-6.1 21.3h0m60.5 -12.1h0m-25.8 -7h0m-35.9 23h0m8.8 4.1h0m-13.2 -21.7h0m63.2 -8.1h0m-55.6 -2.9h0m54.1 4.7h0m-40 14.1h0m-2.4 -.3h0m54.5 -8.7h0m-2.3 -17.1h0m-80.6 35.4h0m11.7 -9.1h0m15.4 -17.6h0m17 41.6h0m20.3 -49h0m-11.6 .8h0m12 6h0m-32.9 -2.8h0m4.2 16.2h0m46.9 18.4h0m-65.8 -7.2h0m48.8 -4h0m-7.7 12.3h0m2.5 -8.6h0m-19.5 -27h0m-16.3 -1.9h0m15.2 0h0m-3.1 38h0m-2.8 -40.5h0m12.1 12.4h0m-43.3 14h0m46.7 10.2h0m18.2 -18.7h0m-31.7 26.6h0m20.4 -32.3h0m-48.9 4.9h0m39.4 25.4h0m13.9 -40h0m11.3 37.2h0m-43.5 6.4h0m-2.8 -39.1h0m49.3 37.1h0m-4.7 -45.6h0m-18.6 7.9h0m-13.2 1.8h0m5.5 -7.5h0m31.7 22h0m-46.4 18.6h0m30 -36.6h0m-59.7 14.8h0m28.9 -21.7h0m-.3 21.4h0m32.4 -10.5h0m-52.7 -10.6h0m34 26h0m-14.4 12.7h0m-7.1 -36.8h0m-20.1 20.7h0m13.4 -6.7h0m31.4 -15h0m25.9 21.7h0m-4.7 -4.3h0m-43.4 32.9h0m35.4 -25.5h0m-4.9 7.9h0m-10.5 -5.4h0m-43.3 3.6h0m16.3 -16.4h0m10 -8.7h0m-5.8 -.8h0m30.6 21.6h0m-41.2 -16.1h0m-7 22.3h0m22.8 -2.9h0m39.5 14.3h0m-64.7 -20.8h0m64.9 25.6h0m-50.7 -36.8h0m46.9 5.8h0m-59.8 17.4h0m9 2.3h0m41.6 -34.5h0m-44.3 36.7h0m-2.8 -22h0m31 -13.3h0m-18 30.2h0m25.9 -18.9h0m-33.3 20.8h0m44.8 -10.5h0m-22.6 21.9h0m46.7 -39.4h0m-31.3 39.1h0m-3.7 -39.5h0m2.4 11.1h0m-16.5 -20.8h0m52.4 37.9h0m-28.1 13.6h0m-22 -6.7h0m-28.1 -11.9h0m37 13.9h0m28.4 -9.4h0m-51.3 -31.3h0m-6.8 30h0m25.5 -22.5h0m-32.1 30.6h0m44.8 -9.8h0m-16.3 -30.8h0m19.4 30.6h0m-28.3 -18.9h0m.4 -16.2h0m52.2 47.3h0m-47.9 -41.4h0m-10.3 -3.8h0m4.2 27.1h0m28.6 -21.6h0m-23.2 40.2h0m-15.7 -25.5h0m42.9 3.1h0m-37.6 25.7h0m20.5 -.3h0m-10.5 -23.9h0m-25 15.1h0m64.7 -21.2h0m-4.4 20.8h0m-21.4 -12.7h0m1.6 -28.5h0m12.5 29.9h0m25.3 18.2h0m-22.2 -25.6h0m-12.6 5.7h0m-11.6 20.2h0m-16 -20.8h0m7.2 23.9h0m8.7 -.3h0m21.2 -46.9h0m5.8 -.3h0m-21.5 1.3h0m-3 41.8h0m-10.7 -33.7h0m-22.7 12.7h0m36.3 1.9h0m-8.2 6.3h0m26.4 -21.6h0m-59.4 10.4h0m54.4 26.4h0m-34.2 -24.6h0m-9 11.6h0m30.4 -4.8h0m23.8 4.1h0m-54.2 -18.4h0m47.7 -4.5h0m-26.8 3.9h0m-31.5 17.2h0m31.1 -21.5h0m-21.1 25.3h0m50.5 -10h0m-45.1 -13.6h0m8.2 4.6h0m-19.8 30.5h0m27.8 -21.5h0m-23.8 11.9h0m21.3 -32.3h0m7.1 7.2h0m41.1 36.8h0m-19.8 -31.1h0m-15.3 -4.5h0m25.2 30.4h0m-62.4 -42.2h0m6.9 24.8h0m32.2 22.1h0m-21.7 -47.6h0m-22.9 40h0m21.1 -14.7h0m6.9 -3.9h0m34.4 26.7h0m19.6 -5.8h0m-28 -43.7h0m5.2 14.8h0m-32.9 33.6h0m19.3 -14.9h0m-17.9 -5h0m-25.1 10.9h0m20.9 -22.9h0m-4.1 -3.3h0m62 25.9h0m-78.6 -9.2h0m61.6 12h0m-54.5 -6h0m18.7 -30.1h0m43.7 26.7h0m-59.3 5.2h0m2.4 -5.5h0m-12.1 -9h0m65.6 -23h0m-59.2 21.8h0m26.2 -6h0m-34.3 -3.4h0m64.3 -11.7h0m-57.6 42.3h0m30.9 -15h0m-14 17.1h0m-15.6 -34.5h0m38.2 19.8h0m-11.5 -20.9h0m8.2 -3.8h0m-18.2 -6.9h0m7.4 48.4h0m18.1 -1.7h0m8.5 -11.2h0m-4.8 8.9h0m-14.8 5h0m-3.1 -3.7h0m28.7 -12.6h0m-25.4 -24.9h0m27.4 42.7h0m-56.8 -53h0m38 8.1h0m15.2 28.6h0m-20 -35.4h0m-12.1 5.5h0m2.5 24.5h0m24.1 2.7h0m-10.1 19.2h0m-21.8 -46.1h0m44.7 33.1h0m-23.6 -28.7h0m-7.7 -8.8h0m-14.8 13.5h0m-16.4 22.7h0m59.7 -25.6h0m-18.5 25.8h0m-5.4 -20.2h0m21.5 1.8h0m-64.9 -3.8h0m60 32.6h0m-46.1 -43.2h0m54.8 12.6h0m-65.8 20.3h0m56.4 -6.8h0m1.7 -27.6h0m-15.2 3.7h0m-28 19.2h0m30.2 2.9h0m14.9 -25.7h0m-56.5 18.7h0m27.9 -8.6h0m-16.6 13h0m5.4 -14.2h0m52.1 -2.6h0m-67 19.2h0m30.1 21.1h0m-17.4 -6.4h0m-3.3 -15.8h0m28.8 -11.3h0m-32.6 -3.5h0m55 4.8h0m-38.7 -18h0m-20 39.1h0m44.8 -7.3h0m-28.8 6.4h0m4.2 -37.7h0m-27.9 34.3h0m40.6 -3.5h0m38.2 -15.8h0m-16.6 -14.6h0m14.3 9.1h0m-44.3 -7.3h0m12.4 25.4h0m1.7 19.7h0m4 -16.1h0m13.2 8.5h0m-42.8 6.7h0m58.1 -27h0m-33 -16h0m-32.5 1.4h0m3.1 36.5h0m11.1 -28.8h0m31.9 27.1h0m-24.1 5.2h0m1 -39.4h0m-24.1 -3.5h0m-13.7 8h0m50.2 16.6h0m-21 21.4h0m-21.6 -8.2h0m71.6 -9.9h0m-17 -3h0m-15.3 16.2h0m13.2 -30.7h0m-61.8 7h0m51.6 29.8h0m-47.5 -21.2h0m45.2 -7.3h0m-1.3 21h0m20.2 8.7h0m1.8 -2.5h0m7.7 -22.4h0m-56.1 -24.3h0m14.1 19h0m-1.8 -13.4h0m31.4 22.9h0m-30.8 -9.4h0m20.6 -7h0m-44 36.3h0m-9.7 -16.6h0m63.3 18h0m-64.4 -18.2h0m51.9 -22.4h0m-19 15.7h0m.7 8.6h0m5.1 -2.8h0m-5.6 7.7h0m7.9 -20.7h0m-.5 21.5h0m-20.7 10h0m2.3 -17.8h0m2.5 -4.6h0m14 -12.3h0m-40.3 6.1h0m40.6 -9h0m-29.2 -.8h0m57.5 .5h0m9.9 25.7h0m-39.4 9h0m-38.5 -28.9h0m.2 -10h0m48.9 2.2h0m-38.8 41.3h0m-7.7 -12.3h0m48.2 3.8h0m-15.5 -29.8h0m-12 26.1h0m8 -22.2h0m-1.4 -11.2h0m-23.5 43h0m51.4 -38.3h0m3.7 19.8h0m-3.1 4.7h0m-49.7 -20.3h0m12.1 17.2h0m24.4 -17.2h0m-29.9 9.8h0m-9.9 9.2h0m32.6 2.5h0m-3.8 -6.1h0m-32.7 -25.9h0m29.8 33.3h0m-26.2 8.7h0m15 -22.3h0m-19.7 2.7h0m76.5 -24.5h0m-71.7 1.9h0m54.2 21.9h0m-26 22.6h0m15.1 -45h0m-7.8 16.4h0m-13.3 1h0m13.2 16.4h0m-37.1 -9.5h0m37.7 -3.6h0m-22.3 -16.7h0m-15.9 .4h0m20.8 39.8h0m-16.3 -46.1h0m6.2 35.7h0m51.8 5.9h0m-29.7 -40.8h0m-13.2 29.7h0m15.6 16.4h0m18.8 -41.6h0m-35.2 2.6h0m11.4 -7.9h0m4.7 32.5h0m-34.9 -2.5h0m12.4 7.9h0m29.3 -40.3h0m-33.9 35.1h0m10.3 -20.9h0m-6.6 16.8h0m18.2 -20.9h0m33.3 12.7h0m7.8 -12.2h0m-66.2 -8.3h0m48.7 38.2h0m-49.7 -31.6h0m1.3 28.2h0m75.2 -34.6h0m-83.9 40.2h0m6.7 -27.6h0m43 27.4h0m-18.9 8.9h0m2.3 -9.1h0m37.2 -2h0m-34.3 -29.6h0m-12.1 17.2h0m52.3 -11.2h0m-56.8 20.9h0m4.9 -25.3h0m-12.7 -3h0m-2.7 16.7h0m61.4 -16h0m-26.1 .9h0m-10 13.9h0m48.3 6.8h0m-7.3 12h0m-7.2 -35.5h0m-58.3 -6.9h0m11.7 28.6h0m-5.5 -1.2h0m3.3 23.4h0m34.3 -22.9h0m-1.6 -18.7h0m-26.6 39.5h0" stroke="#bdbdbd" stroke-width="1.56" stroke-linecap="round" fill="none"/><path d="M288.6 333.3h0m-10.3 16h0m-8.3 -15.1h0m19.2 -15.4h0m36 21.4h0m-33.9 14.5h0m60.1 -42.6h0m-63.6 23.7h0m1.4 9.3h0m-11 -8h0m-3.2 -21.9h0m60.1 -5.1h0m-48.2 19.9h0m68.2 -23.2h0m-36.9 .3h0m-23.8 6.2h0m-6.5 -7h0m18.3 37h0m49 11.2h0m.5 2h0m-84.3 -7.2h0m103.2 -15.8h0m-81.4 9.2h0m55.3 -30.3h0m-66.4 15h0m-2.1 -19.6h0m8.2 22.4h0m31.5 -23.9h0m-29.9 19.7h0m-16.5 29.8h0m58.9 -27.5h0m-24.5 -7.9h0m-35 -11.4h0m6.3 43.8h0m2.2 -8.9h0m2.9 2h0m72.6 4.7h0m-66 -22h0m2.2 -12.9h0m-23.4 15.5h0m16.1 -17h0m26 16.4h0m47.7 10.3h0m-23.4 -19.5h0m-31.2 28.8h0m-11.5 -36h0m19.7 -4.5h0m-42.5 13.9h0m12.8 30.8h0m1 3h0m-8.2 -44.9h0m-4.3 41.6h0m37.5 -12.7h0m-35.9 -3.4h0m93.4 20.9h0m-78.6 -45h0m-1 5.6h0m-2.9 10.7h0m-.4 -3.3h0m8.1 -2.5h0m-.1 6.5h0m71.1 -14.1h0m-92.3 6.3h0m40.9 -4.5h0m-40.6 8.2h0m4.3 .7h0m77.7 12h0m-39.5 -11.4h0m-20 14.2h0m12.9 11.1h0m40.5 -10.2h0m-64.7 -34h0m-2.6 34.5h0m34.8 -4h0m-29.9 -24.5h0m3.2 -8h0m-6.2 2.6h0m69.6 12.6h0m-63.2 -10.9h0m-7.6 47.4h0m4.4 -19h0m-5.3 -32.2h0m8.8 4.9h0m1.7 46.7h0m60 -21.2h0m-71.8 -12.8h0m8.6 15.4h0m-6.1 7.5h0m2.1 -37.7h0m2.6 39.3h0m-13.7 -38.1h0m2.3 39h0m61.3 -13.2h0m-53.8 -14.5h0m-9.5 6h0m8.1 16.7h0m6.4 -21.1h0m6 -8.1h0m-12.8 19.7h0m8.1 -22.4h0m-17.8 18.8h0m18.8 -8.2h0m-11.3 -6.7h0m8.9 -2.6h0m5.3 -8.3h0m27.8 8.8h0m4.8 43.1h0m8.2 -44.5h0m-63.8 18.3h0m89.2 -10.4h0m-82.3 19.5h0m68.2 14.8h0m26.4 -1.6h0m-7.1 -20.2h0m-30.9 -15.9h0m-56 -10.1h0m50.1 48.2h0m26.2 -48h0m-78.9 35.2h0m.9 -12.8h0m43.9 0h0m29.5 25.6h0m-35.7 2.4h0m-24.9 -34.3h0m60 -16.6h0m-27.3 25h0m-.1 .9h0m-48.9 -12.3h0m21.3 7.9h0m-8.4 -13.2h0m77.2 26.8h0m0 -4.3h0m-71.6 -27.3h0m.2 12h0m62.8 -12h0m-69.5 35.9h0m54.5 -26.9h0m-28.9 22.3h0m-39.9 -19.7h0m108.5 16.7h0m-90.9 -32.4h0m-7 0h0m-7.5 6.8h0m-2.1 16.9h0m21.7 9h0m-9.9 -29.5h0m-9.2 17.5h0m13.4 30.7h0m-17 -23.9h0m11.5 -22h0m38.2 29.4h0m-44.9 -16h0m-1.4 -16.6h0m77.2 12h0m-62 37.1h0m6.2 -50h0m7.5 12.7h0m-7.4 -2.9h0m-15.1 -1.9h0m71.9 30h0m-81.5 -19.8h0m24.5 -9.5h0m-23.6 5.6h0m16 13h0m-14.2 7.1h0m9.7 1.1h0m5.1 -36.1h0m-12.4 35.1h0m1.9 -21.9h0m17.1 -5.1h0m-1.6 -10.5h0m-7.9 6.9h0m55.6 35.9h0m-61.9 -20.2h0m38.6 22.6h0m-24.6 -34.4h0m-5.8 -10.2h0m-4.4 1.3h0m3.1 38.5h0m6.7 -30.2h0m41.9 42h0m-23.3 -29.2h0m-22.6 4.3h0m47.4 -13h0m-12.2 .9h0m3.9 14h0m-55.2 -20.5h0m11.9 18.4h0m-2.6 -.9h0m8.8 -22.8h0m6.9 1.9h0m25 45.6h0m16.7 -5.2h0m23.3 3.2h0m-91.4 -8.6h0m40.2 -39.1h0m29.4 22.4h0m-65.8 -8h0m15.2 35.4h0m20 -11.7h0m-7.2 4.8h0m-15.5 -18.4h0m49.5 -12h0m-44.2 18h0m85.8 10.7h0m-88.8 -37.6h0m-9.4 36.8h0m8.8 -34.2h0m-13.4 33.2h0m5.9 8.8h0m9.2 -40.1h0m55.7 37.2h0m-10.4 -13.6h0m-65.1 -12.5h0m26.9 6.1h0m-17.5 6.4h0m69.5 -18.1h0m-29.1 27.4h0m-40.5 -25.5h0m60.8 34.3h0m-55.7 -27.7h0m-2.2 9.8h0m10.1 6.3h0m-18.5 -26.8h0m5.8 26h0m1.3 9.6h0" stroke="#2bb5ec" stroke-width="1.56" stroke-linecap="round" fill="none"/><path d="M340 338.9h0m-20.8 -9.4h0m-7 21.8h0m61.2 0h0m-34.5 -39.3h0m17.5 10.1h0m-17.7 -10.9h0m-34.3 10.5h0m29.9 4.1h0m33.6 23.9h0m-22.3 -30.1h0m-11.9 1.9h0m-63.6 -1.3h0m75.1 37.3h0m3.9 -13.9h0m18 9h0m-50.5 -1.8h0m34 -43.4h0m18 45.7h0m-45.8 -2.3h0m23.5 6.1h0m-23.8 -34.2h0m53.5 7.4h0m-5.4 14.5h0m-52.5 -5.2h0m-8.5 -3h0m34.3 20.2h0m28.5 -46.2h0m-42.7 12.1h0m6.4 33h0m-28.8 -16.4h0m-11.5 -22.7h0m65.9 22.3h0m-67.9 6.9h0m73.5 -22.9h0m-1.7 -9.7h0m2.7 44.8h0m-44.5 -11.3h0m1 -10.2h0m52.1 19.3h0m-39.6 -28.1h0m1.1 11.8h0m33.5 2.3h0m-31.2 -5.2h0m-5.4 -27.5h0m-20.8 25.2h0m-3.4 19.9h0m8.6 4.4h0m-1.4 -41.7h0m7.9 -4.3h0m1.5 -2.7h0m9 37.4h0m-32.7 -11.8h0m51.7 -.5h0m-50.3 23h0m53.5 -16.2h0m-44.5 -28h0m11.8 19.9h0m50.7 7.6h0m-57.2 16h0m-5.7 -2h0m-12.2 -24.2h0m6 11.8h0m-17.5 2.4h0m24.8 -11.8h0m-2.8 10.1h0m27.4 -31.9h0m27.6 23.7h0m-44.1 -21.8h0m-18.8 42.3h0m15.2 -42.3h0m.3 14.5h0m1.7 31.4h0m1.8 -32.2h0m33.2 -9.4h0m-49.2 19.5h0m52.8 -12.4h0m-12.3 -2.2h0m-3.3 33.6h0m-67.6 -38.4h0m17.1 23.7h0m1.7 7.5h0m3.1 -13.8h0m20 10.9h0m10.4 -5.7h0m11.2 7.5h0m-15.1 9h0m-3.4 -39.2h0m24.7 18.9h0m-49.5 12.1h0m35.7 -38.2h0m-34.5 -3.7h0m-7.6 14h0m22 5.7h0m28.6 30.6h0m-42.4 -42.8h0m-4.4 -3.5h0m13.5 25.9h0m60 -28.9h0m7.3 6h0m-47 25.5h0m8.1 -7.2h0m-9.6 -13.6h0m-22.9 -3.2h0m55.2 21h0m-13.4 3h0m10.4 -26.8h0m-14.5 5.7h0m29 40.7h0m-18.5 -.4h0m-7.8 -23.4h0m-46 -17.1h0m13.3 -9.1h0m5.2 41.7h0m38.3 -5.3h0m1.2 5h0m11.2 -27.2h0m-21.9 -7.8h0m-22 21h0m36.5 6.6h0m-66.7 -4.8h0m23.8 -.4h0m46.1 -25.1h0m-41.2 5.8h0m17.3 37.8h0m16.3 -22.9h0m-60 15.9h0m-1 -.4h0m58 -13.5h0m10.4 15.3h0m-57.6 -27.9h0m13.9 -10h0m52 25.9h0m-22.4 -13.5h0m-34.2 24.8h0m3.3 6.1h0m16.5 1.9h0m13.8 -10.4h0m13.1 -36.1h0m12.4 16.6h0m-69.6 4.1h0m4.3 -3.3h0m-16 -17.7h0m41.2 14.5h0m9 -15.2h0m16.6 13h0m-34.2 3.3h0m19.5 -8.4h0m3.6 18.4h0m12.8 -29.1h0m-30.6 27.8h0m13.3 -10.1h0m3.2 -3.9h0m-3.7 30.4h0m-17.9 -41.9h0m4.4 3.1h0m32.6 43h0m12.8 -5.4h0m-86.7 -32.4h0m63.4 .7h0m-38.2 40.1h0m-6.4 -4.2h0m3.4 -41.8h0m38.8 18.4h0m-74.1 23.5h0m14 -41.8h0m12.5 2.5h0m49.9 18.5h0m9.2 -3.3h0m-59.4 -22.8h0m63.5 29h0m-33.9 2.7h0m29.3 -6.9h0m-17.2 15.8h0m32.9 -9.3h0m-23.7 8.7h0m-21.9 8.5h0m-32.5 -40.7h0m15.6 11.8h0m63.9 6.5h0m-29.7 -11.2h0m-31.7 -10.3h0m25.4 16.6h0m-8.6 14.9h0m-34.7 -7.8h0m60.8 -10.1h0m-51.6 8.5h0m-5.2 18h0m-6.7 -37.4h0m24.6 7.3h0m37.1 13.8h0m-21.1 -22.6h0m22.8 41.2h0m-61.3 -43.2h0m15.8 14.9h0m41.2 27.1h0m.8 -14.7h0m-37.4 -12h0m20.2 -15.4h0m-28.1 38.4h0m58.6 -8.1h0m-21.9 -9.7h0m-24.7 -5.9h0m-13.3 -2.9h0m24.3 31.5h0m-10.1 -22.4h0m28.6 12h0m9.3 -6.5h0m-88.7 -26.3h0m54.6 14.2h0m3.6 7.1h0m35.1 4.3h0m-55.3 6.4h0m-10.9 -22.3h0m61.9 -5.1h0m-13.8 35.4h0m-59.2 -6.7h0m53.9 12.7h0m16.4 -33.5h0m-16.1 33.9h0m-42.5 -27.9h0m56.4 -3.3h0m-49 32.5h0m-22.7 -45.7h0m15.9 11.7h0m4.4 -12h0m50.4 -5.5h0m3.4 24.5h0m-20.5 16.4h0m-20.4 -10.9h0m45.5 -1.4h0m-24.4 -5.4h0m-34.4 20h0m47.9 -13.7h0m-25.8 -.5h0m49.8 13.7h0m-8.5 -19.5h0m-20.8 16.3h0m-28.9 -16.6h0m53.2 19.9h0m-61.4 -35.6h0m37.5 33.1h0m-47.3 -20h0m-5.2 16.8h0m59.2 -9.4h0m.8 15h0m-7.3 -8.7h0m-21.1 -5.1h0m31.3 15h0m-28 -38.4h0m35.1 -7.4h0m-16.5 46.9h0m-50.2 -42.9h0m6.9 1.3h0m-8.2 -.1h0m6.7 28.8h0m38.5 1.4h0m-23.4 -24.7h0m22.6 21.6h0m-4.8 20.4h0m23.6 .2h0m-36.1 -38.8h0m-45.1 36.6h0m76.1 -47.8h0m2.8 23.4h0m-44.4 1.6h0m-13.9 19.6h0m36.7 3.6h0m-42.6 -39.5h0m-22.4 14.6h0m37.2 24.6h0m56.2 -32.1h0m-38 -16h0m-6.3 3.1h0m1.6 -4.6h0m13.8 1.9h0m-5.3 .1h0m-12.1 -.2h0m14.5 10.6h0m30.6 22.5h0m-16.5 -26.5h0m2.5 22.5h0m-33.5 4.3h0m60.4 -35.9h0m-81.1 41.1h0m20.3 1.9h0m-3.7 -37.2h0m-16 15.1h0m18.8 20.4h0m-33.6 -30.2h0m27.4 -11.3h0m29.4 29.7h0m-42.6 2.6h0m57 10.6h0m-44.2 -43h0m55.8 9.1h0m-21.3 -7.1h0m-46.5 22.8h0m46.9 -15.7h0m-38.2 9.8h0m7.2 -14.4h0m-5.1 33.3h0m1.2 -20.7h0m29.4 -9.7h0m-35.4 43.6h0m52.1 -24.3h0m-38.7 1.8h0m18.6 -3.4h0m-22.9 -25.5h0m39.7 1.2h0m-55.2 49.8h0m54.4 -18.8h0m-26.8 20.2h0m43.1 -5.3h0m-40.9 -30.9h0m-14.9 33.2h0m15.8 -31.2h0m-25.6 -17.9h0m17.6 .3h0m-16.1 37.1h0m36 -30.1h0m11 11.2h0m-15.6 29.9h0m10.4 -9h0m-15.7 -11.1h0m-16.8 7.8h0m23.7 -9.4h0m12 4.4h0m-47.2 1.5h0m36.7 6.7h0m-33.3 -31.7h0m2.2 18.4h0m66.9 -18.4h0m-40.3 30.9h0m3.1 10.2h0m-44 -38.8h0m68.4 13.2h0m5.7 -16.4h0m-94.4 11h0m36 34.4h0m42.2 -16.9h0m-22 -9.4h0m-6.6 -22.9h0m29.7 .9h0" stroke="#ff7f0e" stroke-width="1.56" stroke-linecap="round" fill="none"/><path d="M375.8 327.1h0m-12.5 -11.5h0m-28.8 12.8h0m-61.9 29.1h0m74.7 -48h0m-48.2 45.6h0m4.2 4.4h0m24.9 -14.1h0m26.8 6.8h0m-32.2 -13.4h0m-26.4 -32.4h0m43.7 42.8h0m3.3 -32.7h0m-14.7 30.6h0m-8.1 -24.3h0m16.9 17.3h0m10.5 -20.4h0m-4.5 -3.8h0m-19 -9.3h0m-.9 52h0m-12.6 .9h0m13 -1.7h0m6.3 -20.2h0m-21.1 -6.1h0m35.2 -10.5h0m-36 4.3h0m21.6 -10h0m16 39.7h0m.2 -6.1h0m-13.8 5.8h0m-4 -5h0m-31.5 3.8h0m-.1 -1h0m30.1 -38.6h0m.6 7.9h0m18.5 -6.4h0m-41.3 12.5h0m32.4 -11.5h0m19.4 -9.8h0m-17.8 1.2h0m-12.8 21.2h0m18.6 5.1h0m-43.4 -10.9h0m-10.6 16.6h0m79.4 1.8h0m-53.3 -7.4h0m-17 12.2h0m44.5 4h0m-52.1 7.6h0m36.6 -43.4h0m-31.5 12.3h0m5.5 1.7h0m12.6 -1.7h0m7.5 10.4h0m1.2 -14.9h0m-15.5 -2.7h0m32 19.6h0m-11.2 8.8h0m26.5 -34.2h0m-14.1 15h0m-42.7 9.3h0m14.5 -25.3h0m24.3 18.1h0m1.9 12.5h0m-48.3 -17.8h0m58.4 -6.3h0m-36.8 19.3h0m-11.8 6.8h0m25.1 -10.3h0m-23.4 -3.4h0m46.3 -3.5h0m-6.8 27.4h0m1.6 -29.1h0m-11.3 -10h0m28.1 8.4h0m-42.4 6.9h0m22.1 -22.3h0m-65.3 32h0m46.6 -5.9h0m.3 1.8h0m51.3 -30.4h0m-41.4 39.4h0m-11.1 1.4h0m48.7 -14.5h0m-12.4 15.5h0m-51.1 -.6h0m38.5 -14.8h0m5.5 -14.3h0m-34.2 23.4h0m13 -22.2h0m2.4 25.4h0m45 -33.6h0m-83.1 35h0m57.1 -10.3h0m-4.5 -1h0m11 -7.6h0m-51 1.1h0m26.6 -18.5h0m-25.3 47.8h0m-36.4 -15.5h0m34.3 14.1h0m-25.5 -17.3h0m78.2 4.7h0m16.9 -26h0m-26.7 -8.7h0m14.4 15.8h0m-20.3 19.1h0m-7.6 -11.7h0m-14.4 21h0m-28.9 -46h0m12.1 6.6h0m48.5 9.1h0m-6.2 14h0m7.3 .6h0m-43.3 -10.7h0m51.8 21h0m-22.9 4.9h0m-42.1 -7.1h0m-6.9 -34.4h0m75.9 -2.7h0m-58.2 9.2h0m-37 28.2h0m37.3 -15.8h0m49.3 -18.8h0m-32.4 -3.8h0m-14.7 48.3h0m-4.6 -29h0m11.1 10h0m44.6 13.6h0m-52 -11.2h0m10.1 -33.7h0m-10.5 -.5h0m-15.1 .5h0m-17.6 18h0m59.4 -1.5h0m-56.7 14h0m16.9 -22.8h0m40.8 26.9h0m20.8 -23.7h0m-7.3 34.3h0m9.6 -13.1h0m-21.3 -30.3h0m-42.3 30.5h0m12.8 17.1h0m.4 -26.8h0m37.8 -14.2h0m-60.1 10h0m77.4 -13h0m-.3 -3.6h0m-43.2 40.2h0m-25.9 9.8h0m22.1 -31h0m-36 28.2h0m52.2 -9.4h0m-8.4 -30.8h0m28.9 -9.2h0m-3.8 8h0m-23.5 23.7h0m-12.4 13.2h0m-11.8 -7.8h0m12.5 -7.5h0m5.5 -18.9h0m-12.7 20.2h0m54.1 -18.1h0m-47.4 18.7h0m12.2 8.9h0m-14.8 3.7h0m-5 -9.2h0m18.1 -10.5h0m25.8 -15.3h0m-12.5 2.9h0m14.5 2.1h0m-.9 30.5h0m-81.1 -20.7h0m100.6 9.2h0m-35.9 -20.6h0m-5.6 -.3h0m-44.6 39.4h0m38.7 -8.8h0m34.4 -7.2h0m-49.2 9.6h0m18.2 -40.5h0m33.3 41.2h0m-31.7 -36.9h0m-23.3 14.2h0m60.4 -13.1h0" stroke="#f0c93c" stroke-width="1.56" stroke-linecap="round" fill="none"/><path d="M338.1 331.7h0m-1.2 -5.4h0m-26 19h0m24.8 1.1h0m-32.2 8.3h0m52.5 -39.6h0m-1.3 -1.8h0m-16.3 20.6h0m-14.9 4.4h0m32.7 -2.3h0m-42.5 21.2h0m-.9 -40.9h0m40.8 33.3h0m-6 -40h0m-51.1 17.8h0m-.7 27.1h0m24.3 -39.6h0m28.7 3.7h0m-6.3 16.8h0m-17 11.5h0m-45.3 -31.2h0m92 33.2h0m-16.5 -4.8h0m-53.2 -21.6h0m-18.7 -11.7h0m76.1 5.6h0m-64.8 20.4h0m4.9 17.2h0m3.5 -45.3h0m69.1 -2.9h0m-8.9 38.3h0m-9.1 4.2h0m-79.6 -20.5h0m77.3 16.9h0m-45.9 9h0m-38 -18.7h0m105.6 15.1h0m-56.2 -2.8h0m10 -15.6h0m-46.3 -8.5h0m-6.1 30.6h0m46 -25.7h0m19 21.3h0m-33.7 -20.5h0m11.7 4.1h0m-1.7 24.1h0m41.6 -5.6h0m8.5 5.3h0m-26.5 -39.3h0m-28.7 28.2h0m-4.8 -11.1h0m-6.2 13h0m-3.7 -35.8h0m51.1 8.2h0m-77.4 14.7h0m29.9 -15.3h0m22.5 -3h0m-4.8 2h0m35.9 5.5h0m-26.6 6.6h0m-31.3 23.8h0m26.1 -27.9h0m3.3 5.6h0m3.6 8.2h0m10.1 3.5h0m33.7 9.8h0m-59.7 -26.3h0m4.7 -4.5h0m.2 3.3h0m23.7 19.6h0m-7.1 -15.1h0m-33.5 12.5h0m-9.8 .6h0m13.8 9.4h0m71.2 -35.2h0m-83.3 7.6h0m5 16.2h0m42.4 1.4h0m2.7 0h0m-38 -6.2h0m41.4 -21.1h0m12.1 -2h0m-48.7 -3.3h0m36.7 7.9h0m-32.3 4.5h0m-2.4 -12.8h0m22.2 36.8h0m-26 -21.2h0m66.9 12.7h0m-72.1 -12.7h0m-6.1 23.7h0m33.3 -27.9h0m-58.7 10.2h0m23.3 16.5h0m3.2 -14.1h0m7.4 -24.4h0m1.9 7.1h0m-24 5.4h0m16.7 24.5h0m-5.2 -35.5h0m8.9 15.1h0m25.1 -7.8h0m-12.4 35h0m-16 -16.7h0m17.6 -21.4h0m7.6 -.3h0m9.8 6.7h0m8.3 -4.4h0m-15.3 24.3h0m-42 11.9h0m11.8 -16.1h0m40.8 -26.1h0m-2.6 18.4h0m32.9 13.1h0m-35.6 -13.9h0m1.1 -.1h0m-35.9 -22h0m43.2 43.3h0m-45.7 -41.2h0m-11.1 17.6h0m8.7 12.4h0m53.5 -6.5h0m-5.3 -21.7h0m32.2 15.9h0m-19 6.9h0m-19.7 16.9h0m-16.4 -4.5h0m42.6 12h0m-22.5 -7.4h0m16.5 -16.2h0m-49.3 -21h0m-6.5 26.2h0m61.9 -22.3h0m-68.4 38.3h0m20.6 -43.6h0m-27 7.8h0m53.4 -11.2h0m-35.8 6.4h0m2.4 -8.7h0m-38.3 18.4h0m47.5 -7h0m36.5 4h0m-50.4 28h0m-2.2 -17h0" stroke="#33e68f" stroke-width="1.56" stroke-linecap="round" fill="none"/><path d="M342.7 316.7h0m9.5 6.6h0m-26.5 32.9h0m.8 3.2h0m-31.3 -41.8h0m67.1 4.5h0m-52.6 21.8h0m14.5 4.3h0m5.6 -12.3h0m19.4 -9.6h0m-18.4 -11.2h0m-.3 39.2h0m4.8 -46.4h0m9.2 44.3h0m2.2 -32h0m-61.8 17.6h0m8.2 -16.3h0m-1.1 -13.6h0m7.7 37.2h0m-6.5 -18.5h0m30.2 .9h0m-27.5 .9h0m-22.5 -.3h0m36.4 1.7h0m37.1 -.8h0m-16.5 -4.5h0m25.6 8.1h0m-19.8 -7h0m-20.5 -14.1h0m-13.1 34.1h0m18.8 -18.4h0m-31 -5.8h0m43.2 28.4h0m14.9 -40.8h0m11.5 41.8h0m-21.7 1.4h0m14.6 -26.7h0m5.2 -4.9h0m-80.5 14.3h0m63.4 -26.7h0m32.1 21.7h0m-21.1 1.6h0m10.7 1.5h0m-26.2 7h0m-45.5 6.1h0m12.5 -37.4h0m50.6 31.2h0m-20.5 -2.7h0m-57 -8.7h0m78.5 29.8h0m-35.1 -21.3h0m-31.8 13.6h0m89.6 -.9h0" stroke="#ad2742" stroke-width="1.56" stroke-linecap="round" fill="none"/><path d="M291.8 328h0m-20 24.7h0m4.6 1.8h0m11.6 -45.4h0m-.8 37.4h0m6.3 -27.1h0m-17.2 23.5h0m8.9 13.2h0m-7.8 -2.9h0m5.8 -9.4h0m-1.7 -20.3h0m-6.1 4.8h0m.2 2.3h0m9.7 27.3h0m-11.2 -47.1h0m.4 36h0m7.4 5.9h0m-6.5 -2.6h0m13.2 -16h0m-1.5 10.6h0m5.5 7.6h0m-22.8 -38.6h0m18.7 26.2h0m.3 -21.4h0m-4.7 9h0m-3.8 -19.7h0m-1.3 2.9h0m-1.3 7.3h0m.6 24.1h0m9.6 -9.2h0m-.1 -10.8h0m-9.1 22.8h0m5 -12.8h0m-1.5 -11.9h0m5.3 31.2h0m-9.2 -23.7h0" stroke="#1f6eb0" stroke-width="1.56" stroke-linecap="round" fill="none"/><rect x="263.3" y="303.1" width="119.7" height="59.1" fill="none" stroke="#222" stroke-width="1"/><text x="517.0" y="5.2" font-weight="bold" font-size="10">c</text><rect x="558.79" y="14.46" width="8.77" height="108.44" fill="#d684bd"/><rect x="570.33" y="17.09" width="8.77" height="105.81" fill="#3274a1"/><rect x="581.88" y="29.25" width="8.77" height="93.65" fill="#e1812c"/><rect x="593.42" y="38.29" width="8.77" height="84.61" fill="#b1c7e2"/><rect x="604.97" y="36.97" width="8.77" height="85.93" fill="#c03d3e"/><rect x="616.51" y="19.88" width="8.77" height="103.02" fill="#845b53"/><rect x="628.06" y="35.33" width="8.77" height="87.57" fill="#a9b06c"/><rect x="639.60" y="51.92" width="8.77" height="70.98" fill="#338a62"/><rect x="651.15" y="51.92" width="8.77" height="70.98" fill="#2ea9b8"/><rect x="662.69" y="92.83" width="8.77" height="30.07" fill="#efb987"/><rect x="674.24" y="106.80" width="8.77" height="16.10" fill="#a155e3"/><rect x="557.40" y="9.00" width="127.00" height="113.90" fill="none" stroke="#1a1a1a" stroke-width="0.9"/><line x1="554.10" y1="122.90" x2="557.40" y2="122.90" stroke="#1a1a1a" stroke-width="0.9"/><text x="551.4" y="125.9" text-anchor="end">0.0</text><line x1="554.10" y1="106.47" x2="557.40" y2="106.47" stroke="#1a1a1a" stroke-width="0.9"/><text x="551.4" y="109.4" text-anchor="end">0.1</text><line x1="554.10" y1="90.04" x2="557.40" y2="90.04" stroke="#1a1a1a" stroke-width="0.9"/><text x="551.4" y="93.0" text-anchor="end">0.2</text><line x1="554.10" y1="73.61" x2="557.40" y2="73.61" stroke="#1a1a1a" stroke-width="0.9"/><text x="551.4" y="76.6" text-anchor="end">0.3</text><line x1="554.10" y1="57.18" x2="557.40" y2="57.18" stroke="#1a1a1a" stroke-width="0.9"/><text x="551.4" y="60.1" text-anchor="end">0.4</text><line x1="554.10" y1="40.75" x2="557.40" y2="40.75" stroke="#1a1a1a" stroke-width="0.9"/><text x="551.4" y="43.7" text-anchor="end">0.5</text><line x1="554.10" y1="24.32" x2="557.40" y2="24.32" stroke="#1a1a1a" stroke-width="0.9"/><text x="551.4" y="27.3" text-anchor="end">0.6</text><line x1="563.17" y1="122.90" x2="563.17" y2="126.20" stroke="#1a1a1a" stroke-width="0.9"/><text transform="translate(565.5,128.7) rotate(-90)" text-anchor="end">scNiche</text><line x1="574.72" y1="122.90" x2="574.72" y2="126.20" stroke="#1a1a1a" stroke-width="0.9"/><text transform="translate(577.0,128.7) rotate(-90)" text-anchor="end">BASS</text><line x1="586.26" y1="122.90" x2="586.26" y2="126.20" stroke="#1a1a1a" stroke-width="0.9"/><text transform="translate(588.6,128.7) rotate(-90)" text-anchor="end">BANKSY</text><line x1="597.81" y1="122.90" x2="597.81" y2="126.20" stroke="#1a1a1a" stroke-width="0.9"/><text transform="translate(600.1,128.7) rotate(-90)" text-anchor="end">STAGATE</text><line x1="609.35" y1="122.90" x2="609.35" y2="126.20" stroke="#1a1a1a" stroke-width="0.9"/><text transform="translate(611.7,128.7) rotate(-90)" text-anchor="end">CytoCommunity</text><line x1="620.90" y1="122.90" x2="620.90" y2="126.20" stroke="#1a1a1a" stroke-width="0.9"/><text transform="translate(623.2,128.7) rotate(-90)" text-anchor="end">GraphST</text><line x1="632.45" y1="122.90" x2="632.45" y2="126.20" stroke="#1a1a1a" stroke-width="0.9"/><text transform="translate(634.7,128.7) rotate(-90)" text-anchor="end">SpaceFlow</text><line x1="643.99" y1="122.90" x2="643.99" y2="126.20" stroke="#1a1a1a" stroke-width="0.9"/><text transform="translate(646.3,128.7) rotate(-90)" text-anchor="end">CellCharter</text><line x1="655.54" y1="122.90" x2="655.54" y2="126.20" stroke="#1a1a1a" stroke-width="0.9"/><text transform="translate(657.8,128.7) rotate(-90)" text-anchor="end">SpaGCN</text><line x1="667.08" y1="122.90" x2="667.08" y2="126.20" stroke="#1a1a1a" stroke-width="0.9"/><text transform="translate(669.4,128.7) rotate(-90)" text-anchor="end">UTAG</text><line x1="678.63" y1="122.90" x2="678.63" y2="126.20" stroke="#1a1a1a" stroke-width="0.9"/><text transform="translate(680.9,128.7) rotate(-90)" text-anchor="end">DR-SC</text><text transform="translate(533.6,66.0) rotate(-90)" text-anchor="middle">Adjusted Rand index (ARI)</text><rect x="558.79" y="202.92" width="8.77" height="107.78" fill="#d684bd"/><rect x="570.33" y="233.25" width="8.77" height="77.45" fill="#3274a1"/><rect x="581.88" y="223.55" width="8.77" height="87.15" fill="#e1812c"/><rect x="593.42" y="216.45" width="8.77" height="94.25" fill="#b1c7e2"/><rect x="604.97" y="221.23" width="8.77" height="89.47" fill="#c03d3e"/><rect x="616.51" y="237.89" width="8.77" height="72.81" fill="#845b53"/><rect x="628.06" y="228.74" width="8.77" height="81.96" fill="#a9b06c"/><rect x="639.60" y="232.43" width="8.77" height="78.27" fill="#338a62"/><rect x="651.15" y="236.94" width="8.77" height="73.76" fill="#2ea9b8"/><rect x="662.69" y="256.06" width="8.77" height="54.64" fill="#efb987"/><rect x="674.24" y="269.04" width="8.77" height="41.66" fill="#a155e3"/><rect x="557.40" y="197.00" width="127.00" height="113.70" fill="none" stroke="#1a1a1a" stroke-width="0.9"/><line x1="554.10" y1="310.70" x2="557.40" y2="310.70" stroke="#1a1a1a" stroke-width="0.9"/><text x="551.4" y="313.6" text-anchor="end">0.0</text><line x1="554.10" y1="283.38" x2="557.40" y2="283.38" stroke="#1a1a1a" stroke-width="0.9"/><text x="551.4" y="286.3" text-anchor="end">0.2</text><line x1="554.10" y1="256.06" x2="557.40" y2="256.06" stroke="#1a1a1a" stroke-width="0.9"/><text x="551.4" y="259.0" text-anchor="end">0.4</text><line x1="554.10" y1="228.74" x2="557.40" y2="228.74" stroke="#1a1a1a" stroke-width="0.9"/><text x="551.4" y="231.7" text-anchor="end">0.6</text><line x1="554.10" y1="201.42" x2="557.40" y2="201.42" stroke="#1a1a1a" stroke-width="0.9"/><text x="551.4" y="204.4" text-anchor="end">0.8</text><line x1="563.17" y1="310.70" x2="563.17" y2="314.00" stroke="#1a1a1a" stroke-width="0.9"/><text transform="translate(565.5,316.5) rotate(-90)" text-anchor="end">scNiche</text><line x1="574.72" y1="310.70" x2="574.72" y2="314.00" stroke="#1a1a1a" stroke-width="0.9"/><text transform="translate(577.0,316.5) rotate(-90)" text-anchor="end">BASS</text><line x1="586.26" y1="310.70" x2="586.26" y2="314.00" stroke="#1a1a1a" stroke-width="0.9"/><text transform="translate(588.6,316.5) rotate(-90)" text-anchor="end">BANKSY</text><line x1="597.81" y1="310.70" x2="597.81" y2="314.00" stroke="#1a1a1a" stroke-width="0.9"/><text transform="translate(600.1,316.5) rotate(-90)" text-anchor="end">STAGATE</text><line x1="609.35" y1="310.70" x2="609.35" y2="314.00" stroke="#1a1a1a" stroke-width="0.9"/><text transform="translate(611.7,316.5) rotate(-90)" text-anchor="end">CytoCommunity</text><line x1="620.90" y1="310.70" x2="620.90" y2="314.00" stroke="#1a1a1a" stroke-width="0.9"/><text transform="translate(623.2,316.5) rotate(-90)" text-anchor="end">GraphST</text><line x1="632.45" y1="310.70" x2="632.45" y2="314.00" stroke="#1a1a1a" stroke-width="0.9"/><text transform="translate(634.7,316.5) rotate(-90)" text-anchor="end">SpaceFlow</text><line x1="643.99" y1="310.70" x2="643.99" y2="314.00" stroke="#1a1a1a" stroke-width="0.9"/><text transform="translate(646.3,316.5) rotate(-90)" text-anchor="end">CellCharter</text><line x1="655.54" y1="310.70" x2="655.54" y2="314.00" stroke="#1a1a1a" stroke-width="0.9"/><text transform="translate(657.8,316.5) rotate(-90)" text-anchor="end">SpaGCN</text><line x1="667.08" y1="310.70" x2="667.08" y2="314.00" stroke="#1a1a1a" stroke-width="0.9"/><text transform="translate(669.4,316.5) rotate(-90)" text-anchor="end">UTAG</text><line x1="678.63" y1="310.70" x2="678.63" y2="314.00" stroke="#1a1a1a" stroke-width="0.9"/><text transform="translate(680.9,316.5) rotate(-90)" text-anchor="end">DR-SC</text><text transform="translate(533.6,253.8) rotate(-90)" text-anchor="middle">Macro-F1 score</text><text x="-0.3" y="379.6" font-weight="bold" font-size="10">d</text><text x="70.1" y="387.7" text-anchor="middle">Cell types</text><g filter="url(#soft)"><path d="M32.9 452.6 32.5 445.0 33.9 440.6 36.7 437.2 40.1 432.8 42.2 429.8 44.9 426.9 48.2 423.3 51.5 419.7 54.8 416.1 58.1 412.5 61.4 408.9 64.5 405.5 67.4 402.2 70.2 399.4 72.9 398.0 75.9 397.9 78.9 399.1 81.9 400.1 85.9 402.8 90.4 404.2 93.9 405.9 98.6 409.4 103.4 411.9 106.4 414.4 106.9 417.3 103.9 419.2 102.7 421.6 103.1 424.6 100.9 427.1 98.4 429.6 95.9 432.1 94.2 436.8 94.2 441.0 89.8 441.2 89.8 448.2 85.6 449.4 85.6 456.0 81.3 456.6 80.9 463.6 76.7 466.0 76.7 470.2 73.5 471.5 69.7 470.9 67.9 467.6 63.6 467.3 62.3 463.6 54.5 463.0 53.9 460.6 45.7 458.9 44.3 456.6 42.1 456.0 37.9 454.6Z" fill="url(#pcto)"/><path d="M43.4 454.6 45.4 447.6 48.2 441.6 51.1 435.6 54.1 429.6 57.1 425.1 60.6 420.6 63.1 416.6 65.7 413.1 68.3 410.1 70.9 407.6 73.7 405.6 77.9 403.8 81.9 404.0 86.7 408.2 90.3 412.4 93.9 414.2 96.9 417.1 101.0 420.7 102.9 424.3 101.0 426.4 98.6 429.4 95.9 432.1 94.2 436.6 79.9 438.6 59.9 446.6 49.9 454.6Z" fill="url(#pctc)"/><path d="M54.9 443.6 58.4 440.1 61.9 436.1 64.9 433.3 68.9 430.6 73.2 428.5 75.9 427.0 79.2 427.1 81.9 427.8 85.2 429.6 86.7 430.8 89.9 431.9 93.5 435.6 94.2 438.6 94.2 441.0 89.8 441.0 87.9 438.4 83.1 435.4 75.9 434.8 69.9 436.0 64.8 438.4 60.6 442.0 57.0 445.6 55.9 446.1Z" fill="url(#pctcc)"/><path d="M45.4 448.4 47.9 446.6 50.9 446.8 51.4 450.1 47.9 451.4 45.9 450.6Z" fill="url(#pctcc)"/><path d="M44.3 454.6 48.7 451.6 54.0 450.4 58.8 445.6 62.4 440.2 67.2 437.2 69.9 436.6 75.9 435.0 83.1 435.6 87.9 438.6 89.8 441.0 89.8 448.2 85.6 449.4 85.6 456.0 81.3 456.6 80.7 459.9 75.9 461.7 72.3 464.7 69.9 466.6 63.6 467.3 62.3 463.6 54.5 463.0 53.9 460.6 45.7 458.9 44.3 456.6Z" fill="url(#pcts)"/><path d="M80.7 459.9 80.9 463.6 76.7 466.0 76.7 470.2 73.5 471.5 69.7 470.9 68.4 468.1 72.3 464.7 75.9 461.7Z" fill="url(#pcts)"/><path d="M44.4 456.1 47.9 453.1 52.9 450.5 57.1 446.2 60.7 442.5 64.9 438.8 69.9 436.3 75.9 435.1 81.9 435.5" fill="none" stroke="#fff" stroke-width="1.7"/><path d="M72.5 441.0 75.9 441.0 75.9 444.4 72.5 444.4Z" fill="#fff"/><path d="M81.9 415.6 83.9 414.1 85.4 415.1 83.9 418.1 82.4 418.1Z" fill="#fff"/><path d="M32.9 452.6 32.5 445.0 33.9 440.6 36.7 437.2 40.1 432.8 42.2 429.8 44.9 426.9 48.2 423.3 51.5 419.7 54.8 416.1 58.1 412.5 61.4 408.9 64.5 405.5 67.4 402.2 70.2 399.4 72.9 398.0 75.9 397.9 78.9 399.1 81.9 400.1 85.9 402.8 90.4 404.2 93.9 405.9 98.6 409.4 103.4 411.9 106.4 414.4 106.9 417.3 103.9 419.2 102.7 421.6 103.1 424.6 100.9 427.1 98.4 429.6 95.9 432.1 94.2 436.8 94.2 441.0 89.8 441.2 89.8 448.2 85.6 449.4 85.6 456.0 81.3 456.6 80.9 463.6 76.7 466.0 76.7 470.2 73.5 471.5 69.7 470.9 67.9 467.6 63.6 467.3 62.3 463.6 54.5 463.0 53.9 460.6 45.7 458.9 44.3 456.6 42.1 456.0 37.9 454.6Z" fill="url(#wspk)" stroke="#fff" stroke-width="1.5" stroke-dasharray="0.9 1.6"/></g><rect x="29.4" y="393.3" width="81.3" height="81.3" fill="none" stroke="#3d3333" stroke-width="1.1"/><text x="70.1" y="489.5" text-anchor="middle">Niches</text><g filter="url(#soft)"><path d="M33.0 554.0 32.6 546.4 34.0 542.0 36.8 538.6 40.2 534.2 42.3 531.2 45.0 528.3 48.3 524.7 51.6 521.1 54.9 517.5 58.2 513.9 61.5 510.3 64.6 506.9 67.5 503.6 70.3 500.8 73.0 499.4 76.0 499.3 79.0 500.5 82.0 501.5 86.0 504.2 90.5 505.6 94.0 507.3 98.7 510.8 103.5 513.3 106.5 515.8 107.0 518.7 104.0 520.6 102.8 523.0 103.2 526.0 101.0 528.5 98.5 531.0 96.0 533.5 94.3 538.2 94.3 542.4 89.9 542.6 89.9 549.6 85.7 550.8 85.7 557.4 81.4 558.0 81.0 565.0 76.8 567.4 76.8 571.6 73.6 572.9 69.8 572.3 68.0 569.0 63.7 568.7 62.4 565.0 54.6 564.4 54.0 562.0 45.8 560.3 44.4 558.0 42.2 557.4 38.0 556.0Z" fill="#bdbdbd"/><path d="M43.5 556.0 45.5 549.0 48.3 543.0 51.2 537.0 54.2 531.0 57.2 526.5 60.7 522.0 63.2 518.0 65.8 514.5 68.4 511.5 71.0 509.0 73.8 507.0 78.0 505.2 82.0 505.4 86.8 509.6 90.4 513.8 94.0 515.6 97.0 518.5 101.1 522.1 103.0 525.7 101.1 527.8 98.7 530.8 96.0 533.5 94.3 538.0 80.0 540.0 60.0 548.0 50.0 556.0Z" fill="#33e68f"/><path d="M69.5 523.0 72.4 518.0 74.8 515.4 77.8 514.2 79.2 518.0 82.0 521.0 85.6 523.8 89.2 525.5 92.2 527.3 95.1 530.8 98.1 532.1 96.2 534.0 94.3 538.0 85.0 537.0 70.0 535.0 61.5 537.4 64.0 530.0 66.5 526.5Z" fill="#f0c93c"/><path d="M50.0 551.0 52.0 547.0 56.5 543.5 60.5 539.0 62.5 537.0 61.0 541.5 57.5 546.0 53.5 550.0 51.0 552.5Z" fill="#f0c93c"/><path d="M55.0 545.0 58.5 541.5 62.0 537.5 65.0 534.7 69.0 532.0 73.3 529.9 76.0 528.4 79.3 528.5 82.0 529.2 85.3 531.0 86.8 532.2 90.0 533.3 93.6 537.0 94.3 540.0 94.3 542.4 89.9 542.4 88.0 539.8 83.2 536.8 76.0 536.2 70.0 537.4 64.9 539.8 60.7 543.4 57.1 547.0 56.0 547.5Z" fill="#ff7f0e"/><path d="M45.5 549.8 48.0 548.0 51.0 548.2 51.5 551.5 48.0 552.8 46.0 552.0Z" fill="#ff7f0e"/><path d="M44.4 556.0 48.8 553.0 54.1 551.8 58.9 547.0 62.5 541.6 67.3 538.6 70.0 538.0 76.0 536.4 83.2 537.0 88.0 540.0 89.9 542.4 89.9 549.6 85.7 550.8 85.7 557.4 81.4 558.0 80.8 561.3 76.0 563.1 72.4 566.1 70.0 568.0 63.7 568.7 62.4 565.0 54.6 564.4 54.0 562.0 45.8 560.3 44.4 558.0Z" fill="#ad2742"/><path d="M32.6 546.4 34.0 542.0 36.8 538.6 40.5 535.5 44.0 534.0 51.8 535.0 49.0 540.0 47.0 547.0 45.2 554.8 42.2 557.4 38.0 556.0 33.0 553.0Z" fill="#2bb5ec"/><path d="M33.0 554.0 32.6 546.4 34.0 542.0 36.8 538.6 40.2 534.2 42.3 531.2 45.0 528.3 48.3 524.7 51.6 521.1 54.9 517.5 58.2 513.9 61.5 510.3 64.6 506.9 67.5 503.6 70.3 500.8 73.0 499.4 74.5 499.6 76.9 501.8 75.4 501.6 72.7 503.0 69.9 505.8 67.0 509.1 63.9 512.5 60.6 516.1 57.3 519.7 54.0 523.3 50.7 526.9 47.4 530.5 44.7 533.4 42.6 536.4 39.2 540.8 38.5 547.0 37.0 551.5 36.0 555.0Z" fill="url(#ppia)"/><path d="M33.5 552.0 36.0 546.0 38.5 540.5 41.2 535.5 43.5 536.5 41.0 541.5 38.5 547.0 36.0 553.0Z" fill="#1f6eb0"/><path d="M80.8 561.3 81.0 565.0 76.8 567.4 76.8 571.6 73.6 572.9 69.8 572.3 68.5 569.5 72.4 566.1 76.0 563.1Z" fill="#f0c93c"/><path d="M70.0 566.8 74.5 565.2 76.6 567.6 74.0 569.6 70.5 569.3Z" fill="#33e68f"/><path d="M57.1 562.5 60.7 562.5 60.7 565.0 57.1 565.0Z" fill="#ff7f0e"/><path d="M45.5 522.5 47.7 522.5 47.7 524.7 45.5 524.7Z" fill="#bdbdbd"/><path d="M49.5 517.1 51.7 517.1 51.7 519.3 49.5 519.3Z" fill="#bdbdbd"/><path d="M53.9 512.1 56.1 512.1 56.1 514.3 53.9 514.3Z" fill="#bdbdbd"/><path d="M59.3 505.3 61.5 505.3 61.5 507.5 59.3 507.5Z" fill="#bdbdbd"/><path d="M42.4 525.9 44.6 525.9 44.6 528.1 42.4 528.1Z" fill="#bdbdbd"/><path d="M44.5 557.5 48.0 554.5 53.0 551.9 57.2 547.6 60.8 543.9 65.0 540.2 70.0 537.7 76.0 536.5 82.0 536.9" fill="none" stroke="#fff" stroke-width="1.7"/><path d="M72.6 542.4 76.0 542.4 76.0 545.8 72.6 545.8Z" fill="#fff"/><path d="M82.0 517.0 84.0 515.5 85.5 516.5 84.0 519.5 82.5 519.5Z" fill="#fff"/><path d="M33.0 554.0 32.6 546.4 34.0 542.0 36.8 538.6 40.2 534.2 42.3 531.2 45.0 528.3 48.3 524.7 51.6 521.1 54.9 517.5 58.2 513.9 61.5 510.3 64.6 506.9 67.5 503.6 70.3 500.8 73.0 499.4 76.0 499.3 79.0 500.5 82.0 501.5 86.0 504.2 90.5 505.6 94.0 507.3 98.7 510.8 103.5 513.3 106.5 515.8 107.0 518.7 104.0 520.6 102.8 523.0 103.2 526.0 101.0 528.5 98.5 531.0 96.0 533.5 94.3 538.2 94.3 542.4 89.9 542.6 89.9 549.6 85.7 550.8 85.7 557.4 81.4 558.0 81.0 565.0 76.8 567.4 76.8 571.6 73.6 572.9 69.8 572.3 68.0 569.0 63.7 568.7 62.4 565.0 54.6 564.4 54.0 562.0 45.8 560.3 44.4 558.0 42.2 557.4 38.0 556.0Z" fill="url(#wspk)" stroke="#fff" stroke-width="1.5" stroke-dasharray="0.9 1.6"/></g><rect x="29.5" y="494.8" width="81.3" height="81.0" fill="none" stroke="#3d3333" stroke-width="1.1"/><line x1="17.6" y1="404.7" x2="17.6" y2="565" stroke="#333" stroke-width="0.9"/><text transform="translate(10.7,485.0) rotate(-90)" text-anchor="middle">Slice 7-1</text><text x="120.7" y="380.6" font-weight="bold" font-size="10">e</text><text x="174.6" y="387.8" text-anchor="middle">scNiche</text><g filter="url(#soft)"><path d="M137.2 452.9 136.8 445.3 138.2 440.9 141.0 437.5 144.4 433.1 146.5 430.1 149.2 427.2 152.5 423.6 155.8 420.0 159.1 416.4 162.4 412.8 165.7 409.2 168.8 405.8 171.7 402.5 174.5 399.7 177.2 398.3 180.2 398.2 183.2 399.4 186.2 400.4 190.2 403.1 194.7 404.5 198.2 406.2 202.9 409.7 207.7 412.2 210.7 414.7 211.2 417.6 208.2 419.5 207.0 421.9 207.4 424.9 205.2 427.4 202.7 429.9 200.2 432.4 198.5 437.1 198.5 441.3 194.1 441.5 194.1 448.5 189.9 449.7 189.9 456.3 185.6 456.9 185.2 463.9 181.0 466.3 181.0 470.5 177.8 471.8 174.0 471.2 172.2 467.9 167.9 467.6 166.6 463.9 158.8 463.3 158.2 460.9 150.0 459.2 148.6 456.9 146.4 456.3 142.2 454.9Z" fill="#bdbdbd"/><path d="M147.7 454.9 149.7 447.9 152.5 441.9 155.4 435.9 158.4 429.9 161.4 425.4 164.9 420.9 167.4 416.9 170.0 413.4 172.6 410.4 175.2 407.9 178.0 405.9 182.2 404.1 186.2 404.3 191.0 408.5 194.6 412.7 198.2 414.5 201.2 417.4 205.3 421.0 207.2 424.6 205.3 426.7 202.9 429.7 200.2 432.4 198.5 436.9 184.2 438.9 164.2 446.9 154.2 454.9Z" fill="#33e68f"/><path d="M173.7 421.9 176.6 416.9 179.0 414.3 182.0 413.1 183.4 416.9 186.2 419.9 189.8 422.7 193.4 424.4 196.4 426.2 199.3 429.7 202.3 431.0 200.4 432.9 198.5 436.9 189.2 435.9 174.2 433.9 165.7 436.3 168.2 428.9 170.7 425.4Z" fill="#f0c93c"/><path d="M154.2 449.9 156.2 445.9 160.7 442.4 164.7 437.9 166.7 435.9 165.2 440.4 161.7 444.9 157.7 448.9 155.2 451.4Z" fill="#f0c93c"/><path d="M159.2 443.9 162.7 440.4 166.2 436.4 169.2 433.6 173.2 430.9 177.5 428.8 180.2 427.3 183.5 427.4 186.2 428.1 189.5 429.9 191.0 431.1 194.2 432.2 197.8 435.9 198.5 438.9 198.5 441.3 194.1 441.3 192.2 438.7 187.4 435.7 180.2 435.1 174.2 436.3 169.1 438.7 164.9 442.3 161.3 445.9 160.2 446.4Z" fill="#ff7f0e"/><path d="M149.7 448.7 152.2 446.9 155.2 447.1 155.7 450.4 152.2 451.7 150.2 450.9Z" fill="#ff7f0e"/><path d="M148.6 454.9 153.0 451.9 158.3 450.7 163.1 445.9 166.7 440.5 171.5 437.5 174.2 436.9 180.2 435.3 187.4 435.9 192.2 438.9 194.1 441.3 194.1 448.5 189.9 449.7 189.9 456.3 185.6 456.9 185.0 460.2 180.2 462.0 176.6 465.0 174.2 466.9 167.9 467.6 166.6 463.9 158.8 463.3 158.2 460.9 150.0 459.2 148.6 456.9Z" fill="#ad2742"/><path d="M136.8 445.3 138.2 440.9 141.0 437.5 144.7 434.4 148.2 432.9 156.0 433.9 153.2 438.9 151.2 445.9 149.4 453.7 146.4 456.3 142.2 454.9 137.2 451.9Z" fill="url(#ppia)"/><path d="M147.7 433.1 156.0 433.9 153.2 438.9 151.2 445.9 149.4 453.7 147.0 455.9 146.7 448.9 147.7 441.9 148.2 435.9Z" fill="#33e68f"/><path d="M164.8 415.0 161.5 418.6 158.2 422.2 154.9 425.8 151.6 429.4 148.9 432.3 146.8 435.3 143.4 439.7 145.2 446.9 147.7 454.9 149.7 447.9 152.5 441.9 155.4 435.9 158.4 429.9 161.4 425.4 164.9 420.9 167.4 416.9Z" fill="url(#ppia)"/><path d="M137.2 452.9 136.8 445.3 138.2 440.9 141.0 437.5 144.4 433.1 146.5 430.1 149.2 427.2 152.5 423.6 155.8 420.0 159.1 416.4 162.4 412.8 165.7 409.2 168.8 405.8 171.7 402.5 174.5 399.7 177.2 398.3 178.7 398.5 181.1 400.7 179.6 400.5 176.9 401.9 174.1 404.7 171.2 408.0 168.1 411.4 164.8 415.0 161.5 418.6 158.2 422.2 154.9 425.8 151.6 429.4 148.9 432.3 146.8 435.3 143.4 439.7 142.7 445.9 141.2 450.4 140.2 453.9Z" fill="url(#ppia)"/><path d="M185.0 460.2 185.2 463.9 181.0 466.3 181.0 470.5 177.8 471.8 174.0 471.2 172.7 468.4 176.6 465.0 180.2 462.0Z" fill="#f0c93c"/><path d="M174.2 465.7 178.7 464.1 180.8 466.5 178.2 468.5 174.7 468.2Z" fill="#33e68f"/><path d="M161.3 461.4 164.9 461.4 164.9 463.9 161.3 463.9Z" fill="#ff7f0e"/><path d="M137.2 444.5 141.5 443.9 142.1 448.1 137.8 449.3Z" fill="#33e68f"/><path d="M149.7 421.4 151.9 421.4 151.9 423.6 149.7 423.6Z" fill="#bdbdbd"/><path d="M153.7 416.0 155.9 416.0 155.9 418.2 153.7 418.2Z" fill="#bdbdbd"/><path d="M158.1 411.0 160.3 411.0 160.3 413.2 158.1 413.2Z" fill="#bdbdbd"/><path d="M163.5 404.2 165.7 404.2 165.7 406.4 163.5 406.4Z" fill="#bdbdbd"/><path d="M146.6 424.8 148.8 424.8 148.8 427.0 146.6 427.0Z" fill="#bdbdbd"/><path d="M148.7 456.4 152.2 453.4 157.2 450.8 161.4 446.5 165.0 442.8 169.2 439.1 174.2 436.6 180.2 435.4 186.2 435.8" fill="none" stroke="#fff" stroke-width="1.7"/><path d="M176.8 441.3 180.2 441.3 180.2 444.7 176.8 444.7Z" fill="#fff"/><path d="M186.2 415.9 188.2 414.4 189.7 415.4 188.2 418.4 186.7 418.4Z" fill="#fff"/><path d="M137.2 452.9 136.8 445.3 138.2 440.9 141.0 437.5 144.4 433.1 146.5 430.1 149.2 427.2 152.5 423.6 155.8 420.0 159.1 416.4 162.4 412.8 165.7 409.2 168.8 405.8 171.7 402.5 174.5 399.7 177.2 398.3 180.2 398.2 183.2 399.4 186.2 400.4 190.2 403.1 194.7 404.5 198.2 406.2 202.9 409.7 207.7 412.2 210.7 414.7 211.2 417.6 208.2 419.5 207.0 421.9 207.4 424.9 205.2 427.4 202.7 429.9 200.2 432.4 198.5 437.1 198.5 441.3 194.1 441.5 194.1 448.5 189.9 449.7 189.9 456.3 185.6 456.9 185.2 463.9 181.0 466.3 181.0 470.5 177.8 471.8 174.0 471.2 172.2 467.9 167.9 467.6 166.6 463.9 158.8 463.3 158.2 460.9 150.0 459.2 148.6 456.9 146.4 456.3 142.2 454.9Z" fill="url(#wspk)" stroke="#fff" stroke-width="1.5" stroke-dasharray="0.9 1.6"/></g><rect x="133.7" y="393.6" width="81.8" height="80.5" fill="none" stroke="#3d3333" stroke-width="1.1"/><text x="268.5" y="387.8" text-anchor="middle">SpaceFlow</text><g filter="url(#soft)"><path d="M231.1 452.9 230.7 445.3 232.1 440.9 234.9 437.5 238.3 433.1 240.4 430.1 243.1 427.2 246.4 423.6 249.7 420.0 253.0 416.4 256.3 412.8 259.6 409.2 262.7 405.8 265.6 402.5 268.4 399.7 271.1 398.3 274.1 398.2 277.1 399.4 280.1 400.4 284.1 403.1 288.6 404.5 292.1 406.2 296.8 409.7 301.6 412.2 304.6 414.7 305.1 417.6 302.1 419.5 300.9 421.9 301.3 424.9 299.1 427.4 296.6 429.9 294.1 432.4 292.4 437.1 292.4 441.3 288.0 441.5 288.0 448.5 283.8 449.7 283.8 456.3 279.5 456.9 279.1 463.9 274.9 466.3 274.9 470.5 271.7 471.8 267.9 471.2 266.1 467.9 261.8 467.6 260.5 463.9 252.7 463.3 252.1 460.9 243.9 459.2 242.5 456.9 240.3 456.3 236.1 454.9Z" fill="#bdbdbd"/><path d="M241.6 454.9 243.6 447.9 246.4 441.9 249.3 435.9 252.3 429.9 255.3 425.4 258.8 420.9 261.3 416.9 263.9 413.4 266.5 410.4 269.1 407.9 271.9 405.9 276.1 404.1 280.1 404.3 284.9 408.5 288.5 412.7 292.1 414.5 295.1 417.4 299.2 421.0 301.1 424.6 299.2 426.7 296.8 429.7 294.1 432.4 292.4 436.9 278.1 438.9 258.1 446.9 248.1 454.9Z" fill="#33e68f"/><path d="M248.2 447.5 251.2 441.5 255.5 435.4 260.3 430.0 265.8 425.1 270.0 420.3 273.0 415.4 275.5 412.4 277.6 412.4 279.7 417.2 283.9 420.6 290.0 423.9 294.9 426.3 297.3 429.4 296.1 433.0 293.0 434.8 287.6 431.8 281.5 429.1 275.5 428.1 269.4 429.7 262.1 433.6 254.9 439.6 247.6 445.7 242.8 449.9Z" fill="#f0c93c"/><path d="M239.1 451.2 247.6 445.1 254.9 439.6 262.1 433.8 269.4 429.7 275.5 428.1 281.5 429.1 287.6 431.8 291.8 435.4 293.0 440.3 288.8 440.5 283.9 436.9 277.9 434.9 270.6 435.4 263.4 438.1 257.3 442.7 251.2 448.7 245.2 453.6 240.3 455.4Z" fill="#ff7f0e"/><path d="M242.5 454.9 246.9 451.9 252.2 450.7 257.0 445.9 260.6 440.5 265.4 437.5 268.1 436.9 274.1 435.3 281.3 435.9 286.1 438.9 288.0 441.3 288.0 448.5 283.8 449.7 283.8 456.3 279.5 456.9 278.9 460.2 274.1 462.0 270.5 465.0 268.1 466.9 261.8 467.6 260.5 463.9 252.7 463.3 252.1 460.9 243.9 459.2 242.5 456.9Z" fill="#ad2742"/><path d="M230.7 445.3 232.1 440.9 234.9 437.5 238.6 434.4 242.1 432.9 249.9 433.9 247.1 438.9 245.1 445.9 243.3 453.7 240.3 456.3 236.1 454.9 231.1 451.9Z" fill="url(#ppia)"/><path d="M231.1 452.9 230.7 445.3 232.1 440.9 234.9 437.5 238.3 433.1 240.4 430.1 243.1 427.2 246.4 423.6 249.7 420.0 253.0 416.4 256.3 412.8 259.6 409.2 262.7 405.8 265.6 402.5 268.4 399.7 271.1 398.3 272.6 398.5 275.0 400.7 273.5 400.5 270.8 401.9 268.0 404.7 265.1 408.0 262.0 411.4 258.7 415.0 255.4 418.6 252.1 422.2 248.8 425.8 245.5 429.4 242.8 432.3 240.7 435.3 237.3 439.7 236.6 445.9 235.1 450.4 234.1 453.9Z" fill="url(#ppia)"/><path d="M231.2 444.5 235.5 443.9 236.1 448.1 231.8 449.3Z" fill="#33e68f"/><path d="M265.8 460.9 273.6 459.0 278.5 460.2 277.3 468.7 273.6 471.2 267.0 470.5 265.8 465.7Z" fill="#f0c93c"/><path d="M261.5 448.7 265.8 448.7 265.8 452.4 261.5 452.4Z" fill="#2bb5ec"/><path d="M271.2 448.1 274.9 448.1 274.9 452.4 271.2 452.4Z" fill="#2bb5ec"/><path d="M279.1 441.5 283.9 441.5 283.9 444.5 279.1 444.5Z" fill="#2bb5ec"/><path d="M262.1 455.4 265.8 455.4 265.8 459.6 262.1 459.6Z" fill="#2bb5ec"/><path d="M257.3 459.6 261.5 459.6 261.5 463.3 257.3 463.3Z" fill="#2bb5ec"/><path d="M243.6 421.4 245.8 421.4 245.8 423.6 243.6 423.6Z" fill="#bdbdbd"/><path d="M247.6 416.0 249.8 416.0 249.8 418.2 247.6 418.2Z" fill="#bdbdbd"/><path d="M252.0 411.0 254.2 411.0 254.2 413.2 252.0 413.2Z" fill="#bdbdbd"/><path d="M257.4 404.2 259.6 404.2 259.6 406.4 257.4 406.4Z" fill="#bdbdbd"/><path d="M240.5 424.8 242.7 424.8 242.7 427.0 240.5 427.0Z" fill="#bdbdbd"/><path d="M242.6 456.4 246.1 453.4 251.1 450.8 255.3 446.5 258.9 442.8 263.1 439.1 268.1 436.6 274.1 435.4 280.1 435.8" fill="none" stroke="#fff" stroke-width="1.7"/><path d="M270.7 441.3 274.1 441.3 274.1 444.7 270.7 444.7Z" fill="#fff"/><path d="M280.1 415.9 282.1 414.4 283.6 415.4 282.1 418.4 280.6 418.4Z" fill="#fff"/><path d="M231.1 452.9 230.7 445.3 232.1 440.9 234.9 437.5 238.3 433.1 240.4 430.1 243.1 427.2 246.4 423.6 249.7 420.0 253.0 416.4 256.3 412.8 259.6 409.2 262.7 405.8 265.6 402.5 268.4 399.7 271.1 398.3 274.1 398.2 277.1 399.4 280.1 400.4 284.1 403.1 288.6 404.5 292.1 406.2 296.8 409.7 301.6 412.2 304.6 414.7 305.1 417.6 302.1 419.5 300.9 421.9 301.3 424.9 299.1 427.4 296.6 429.9 294.1 432.4 292.4 437.1 292.4 441.3 288.0 441.5 288.0 448.5 283.8 449.7 283.8 456.3 279.5 456.9 279.1 463.9 274.9 466.3 274.9 470.5 271.7 471.8 267.9 471.2 266.1 467.9 261.8 467.6 260.5 463.9 252.7 463.3 252.1 460.9 243.9 459.2 242.5 456.9 240.3 456.3 236.1 454.9Z" fill="url(#wspk)" stroke="#fff" stroke-width="1.5" stroke-dasharray="0.9 1.6"/></g><rect x="227.6" y="393.6" width="81.8" height="80.5" fill="none" stroke="#3d3333" stroke-width="1.1"/><text x="362.4" y="387.8" text-anchor="middle">BASS</text><g filter="url(#soft)"><path d="M325.0 452.9 324.6 445.3 326.0 440.9 328.8 437.5 332.2 433.1 334.3 430.1 337.0 427.2 340.3 423.6 343.6 420.0 346.9 416.4 350.2 412.8 353.5 409.2 356.6 405.8 359.5 402.5 362.3 399.7 365.0 398.3 368.0 398.2 371.0 399.4 374.0 400.4 378.0 403.1 382.5 404.5 386.0 406.2 390.7 409.7 395.5 412.2 398.5 414.7 399.0 417.6 396.0 419.5 394.8 421.9 395.2 424.9 393.0 427.4 390.5 429.9 388.0 432.4 386.3 437.1 386.3 441.3 381.9 441.5 381.9 448.5 377.7 449.7 377.7 456.3 373.4 456.9 373.0 463.9 368.8 466.3 368.8 470.5 365.6 471.8 361.8 471.2 360.0 467.9 355.7 467.6 354.4 463.9 346.6 463.3 346.0 460.9 337.8 459.2 336.4 456.9 334.2 456.3 330.0 454.9Z" fill="#33e68f"/><path d="M341.6 447.5 344.0 442.1 347.1 437.2 350.1 432.4 353.7 428.1 358.6 423.9 362.8 419.1 366.4 414.2 369.5 410.0 371.9 411.2 374.3 416.0 379.2 419.1 384.0 422.1 388.2 425.7 390.7 429.4 390.1 433.6 387.0 434.8 381.6 431.8 375.5 429.4 369.5 428.7 362.2 430.6 356.1 434.2 351.3 437.8 347.1 442.7 344.0 446.9Z" fill="#f0c93c"/><path d="M354.0 436.4 357.0 433.6 361.0 430.9 365.3 428.8 368.0 427.3 371.3 427.4 374.0 428.1 377.3 429.9 378.8 431.1 382.0 432.2 385.6 435.9 386.3 438.9 386.3 441.3 381.9 441.3 380.0 438.7 375.2 435.7 368.0 435.1 362.0 436.3 356.9 438.7Z" fill="#ff7f0e"/><path d="M336.4 454.9 340.8 451.9 346.1 450.7 350.9 445.9 354.5 440.5 359.3 437.5 362.0 436.9 368.0 435.3 375.2 435.9 380.0 438.9 381.9 441.3 381.9 448.5 377.7 449.7 377.7 456.3 373.4 456.9 372.8 460.2 368.0 462.0 364.4 465.0 362.0 466.9 355.7 467.6 354.4 463.9 346.6 463.3 346.0 460.9 337.8 459.2 336.4 456.9Z" fill="#ad2742"/><path d="M325.0 452.9 324.6 445.3 326.0 440.9 328.8 437.5 332.2 433.1 334.3 430.1 337.0 427.2 340.3 423.6 343.6 420.0 346.9 416.4 350.2 412.8 353.5 409.2 359.0 408.0 355.9 411.4 352.6 415.0 349.3 418.6 346.0 422.2 342.7 425.8 339.4 429.4 336.7 432.3 334.6 435.3 331.2 439.7 330.5 445.9 329.0 450.4 328.0 453.9Z" fill="url(#ppia)"/><path d="M333.1 449.3 338.0 448.1 340.4 452.4 338.0 456.6 333.7 455.4Z" fill="#2bb5ec"/><path d="M372.8 460.2 373.0 463.9 368.8 466.3 368.8 470.5 365.6 471.8 361.8 471.2 360.5 468.4 364.4 465.0 368.0 462.0Z" fill="#f0c93c"/><path d="M349.1 461.4 352.7 461.4 352.7 463.9 349.1 463.9Z" fill="#ff7f0e"/><path d="M336.5 456.4 340.0 453.4 345.0 450.8 349.2 446.5 352.8 442.8 357.0 439.1 362.0 436.6 368.0 435.4 374.0 435.8" fill="none" stroke="#fff" stroke-width="1.7"/><path d="M364.6 441.3 368.0 441.3 368.0 444.7 364.6 444.7Z" fill="#fff"/><path d="M374.0 415.9 376.0 414.4 377.5 415.4 376.0 418.4 374.5 418.4Z" fill="#fff"/><path d="M325.0 452.9 324.6 445.3 326.0 440.9 328.8 437.5 332.2 433.1 334.3 430.1 337.0 427.2 340.3 423.6 343.6 420.0 346.9 416.4 350.2 412.8 353.5 409.2 356.6 405.8 359.5 402.5 362.3 399.7 365.0 398.3 368.0 398.2 371.0 399.4 374.0 400.4 378.0 403.1 382.5 404.5 386.0 406.2 390.7 409.7 395.5 412.2 398.5 414.7 399.0 417.6 396.0 419.5 394.8 421.9 395.2 424.9 393.0 427.4 390.5 429.9 388.0 432.4 386.3 437.1 386.3 441.3 381.9 441.5 381.9 448.5 377.7 449.7 377.7 456.3 373.4 456.9 373.0 463.9 368.8 466.3 368.8 470.5 365.6 471.8 361.8 471.2 360.0 467.9 355.7 467.6 354.4 463.9 346.6 463.3 346.0 460.9 337.8 459.2 336.4 456.9 334.2 456.3 330.0 454.9Z" fill="url(#wspk)" stroke="#fff" stroke-width="1.5" stroke-dasharray="0.9 1.6"/></g><rect x="321.5" y="393.6" width="81.8" height="80.5" fill="none" stroke="#3d3333" stroke-width="1.1"/><text x="456.3" y="387.8" text-anchor="middle">CytoCommunity</text><g filter="url(#soft)"><path d="M418.9 452.9 418.5 445.3 419.9 440.9 422.7 437.5 426.1 433.1 428.2 430.1 430.9 427.2 434.2 423.6 437.5 420.0 440.8 416.4 444.1 412.8 447.4 409.2 450.5 405.8 453.4 402.5 456.2 399.7 458.9 398.3 461.9 398.2 464.9 399.4 467.9 400.4 471.9 403.1 476.4 404.5 479.9 406.2 484.6 409.7 489.4 412.2 492.4 414.7 492.9 417.6 489.9 419.5 488.7 421.9 489.1 424.9 486.9 427.4 484.4 429.9 481.9 432.4 480.2 437.1 480.2 441.3 475.8 441.5 475.8 448.5 471.6 449.7 471.6 456.3 467.3 456.9 466.9 463.9 462.7 466.3 462.7 470.5 459.5 471.8 455.7 471.2 453.9 467.9 449.6 467.6 448.3 463.9 440.5 463.3 439.9 460.9 431.7 459.2 430.3 456.9 428.1 456.3 423.9 454.9Z" fill="#bdbdbd"/><path d="M440.4 428.1 445.3 422.1 451.4 414.8 456.2 408.8 461.0 404.5 468.3 403.9 473.2 407.5 479.2 412.4 485.3 417.2 488.9 422.1 487.7 425.7 484.1 426.9 479.2 423.3 474.4 419.7 469.5 417.2 464.7 414.8 458.6 415.4 452.6 418.4 447.7 423.3 442.9 429.4Z" fill="#33e68f"/><path d="M442.9 429.4 447.7 423.9 452.6 419.1 458.6 416.0 464.7 414.8 469.5 417.2 475.6 420.9 480.4 423.9 484.7 428.1 484.7 433.0 481.0 434.8 475.6 430.6 469.5 427.5 463.5 425.7 457.4 426.9 451.4 429.4 446.5 433.0 442.9 435.4Z" fill="#f0c93c"/><path d="M428.3 456.0 433.2 449.9 438.0 443.9 442.9 436.6 446.5 433.0 451.4 429.4 457.4 426.9 463.5 425.7 469.5 427.5 475.6 430.6 480.4 435.4 481.0 440.3 476.8 440.5 471.9 436.9 465.9 434.9 458.6 435.4 451.4 438.1 445.3 442.7 439.2 448.7 433.2 454.2 429.5 456.6Z" fill="#ff7f0e"/><path d="M430.3 454.9 434.7 451.9 440.0 450.7 444.8 445.9 448.4 440.5 453.2 437.5 455.9 436.9 461.9 435.3 469.1 435.9 473.9 438.9 475.8 441.3 475.8 448.5 471.6 449.7 471.6 456.3 467.3 456.9 466.7 460.2 461.9 462.0 458.3 465.0 455.9 466.9 449.6 467.6 448.3 463.9 440.5 463.3 439.9 460.9 431.7 459.2 430.3 456.9Z" fill="url(#pcys)"/><path d="M418.5 445.3 419.9 440.9 422.7 437.5 426.4 434.4 429.9 432.9 437.7 433.9 434.9 438.9 432.9 445.9 431.1 453.7 428.1 456.3 423.9 454.9 418.9 451.9Z" fill="url(#ppia)"/><path d="M418.9 452.9 418.5 445.3 419.9 440.9 422.7 437.5 426.1 433.1 428.2 430.1 430.9 427.2 434.2 423.6 437.5 420.0 440.8 416.4 444.1 412.8 447.4 409.2 450.5 405.8 453.4 402.5 456.2 399.7 458.9 398.3 460.4 398.5 462.8 400.7 461.3 400.5 458.6 401.9 455.8 404.7 452.9 408.0 449.8 411.4 446.5 415.0 443.2 418.6 439.9 422.2 436.6 425.8 433.3 429.4 430.6 432.3 428.5 435.3 425.1 439.7 424.4 445.9 422.9 450.4 421.9 453.9Z" fill="url(#ppia)"/><path d="M419.2 451.2 419.8 445.1 423.5 437.8 427.1 433.0 430.8 428.1 434.4 423.3 439.2 422.1 443.5 425.7 442.9 434.2 440.4 440.3 436.8 446.3 432.6 452.4 428.9 454.8 424.7 453.6 421.1 453.0Z" fill="url(#ppia)"/><path d="M466.7 460.2 466.9 463.9 462.7 466.3 462.7 470.5 459.5 471.8 455.7 471.2 454.4 468.4 458.3 465.0 461.9 462.0Z" fill="#f0c93c"/><path d="M443.0 461.4 446.6 461.4 446.6 463.9 443.0 463.9Z" fill="#ff7f0e"/><path d="M431.4 421.4 433.6 421.4 433.6 423.6 431.4 423.6Z" fill="#bdbdbd"/><path d="M435.4 416.0 437.6 416.0 437.6 418.2 435.4 418.2Z" fill="#bdbdbd"/><path d="M439.8 411.0 442.0 411.0 442.0 413.2 439.8 413.2Z" fill="#bdbdbd"/><path d="M445.2 404.2 447.4 404.2 447.4 406.4 445.2 406.4Z" fill="#bdbdbd"/><path d="M428.3 424.8 430.5 424.8 430.5 427.0 428.3 427.0Z" fill="#bdbdbd"/><path d="M430.4 456.4 433.9 453.4 438.9 450.8 443.1 446.5 446.7 442.8 450.9 439.1 455.9 436.6 461.9 435.4 467.9 435.8" fill="none" stroke="#fff" stroke-width="1.7"/><path d="M458.5 441.3 461.9 441.3 461.9 444.7 458.5 444.7Z" fill="#fff"/><path d="M467.9 415.9 469.9 414.4 471.4 415.4 469.9 418.4 468.4 418.4Z" fill="#fff"/><path d="M418.9 452.9 418.5 445.3 419.9 440.9 422.7 437.5 426.1 433.1 428.2 430.1 430.9 427.2 434.2 423.6 437.5 420.0 440.8 416.4 444.1 412.8 447.4 409.2 450.5 405.8 453.4 402.5 456.2 399.7 458.9 398.3 461.9 398.2 464.9 399.4 467.9 400.4 471.9 403.1 476.4 404.5 479.9 406.2 484.6 409.7 489.4 412.2 492.4 414.7 492.9 417.6 489.9 419.5 488.7 421.9 489.1 424.9 486.9 427.4 484.4 429.9 481.9 432.4 480.2 437.1 480.2 441.3 475.8 441.5 475.8 448.5 471.6 449.7 471.6 456.3 467.3 456.9 466.9 463.9 462.7 466.3 462.7 470.5 459.5 471.8 455.7 471.2 453.9 467.9 449.6 467.6 448.3 463.9 440.5 463.3 439.9 460.9 431.7 459.2 430.3 456.9 428.1 456.3 423.9 454.9Z" fill="url(#wspk)" stroke="#fff" stroke-width="1.5" stroke-dasharray="0.9 1.6"/></g><rect x="415.4" y="393.6" width="81.8" height="80.5" fill="none" stroke="#3d3333" stroke-width="1.1"/><text x="550.2" y="387.8" text-anchor="middle">STAGATE</text><g filter="url(#soft)"><path d="M512.8 452.9 512.4 445.3 513.8 440.9 516.6 437.5 520.0 433.1 522.1 430.1 524.8 427.2 528.1 423.6 531.4 420.0 534.7 416.4 538.0 412.8 541.3 409.2 544.4 405.8 547.3 402.5 550.1 399.7 552.8 398.3 555.8 398.2 558.8 399.4 561.8 400.4 565.8 403.1 570.3 404.5 573.8 406.2 578.5 409.7 583.3 412.2 586.3 414.7 586.8 417.6 583.8 419.5 582.6 421.9 583.0 424.9 580.8 427.4 578.3 429.9 575.8 432.4 574.1 437.1 574.1 441.3 569.7 441.5 569.7 448.5 565.5 449.7 565.5 456.3 561.2 456.9 560.8 463.9 556.6 466.3 556.6 470.5 553.4 471.8 549.6 471.2 547.8 467.9 543.5 467.6 542.2 463.9 534.4 463.3 533.8 460.9 525.6 459.2 524.2 456.9 522.0 456.3 517.8 454.9Z" fill="#bdbdbd"/><path d="M550.2 420.9 552.6 416.0 555.0 411.2 559.9 410.0 564.7 412.4 569.6 417.2 574.4 420.9 578.1 424.5 578.7 429.4 578.1 433.0 575.0 434.8 569.6 431.8 563.5 429.4 557.5 428.1 551.4 428.1 547.8 426.9Z" fill="#f0c93c"/><path d="M540.5 436.0 542.3 431.8 544.1 428.1 547.8 426.9 552.6 428.1 558.7 427.9 564.7 429.4 570.8 433.0 574.4 437.8 574.4 440.5 570.8 440.5 565.9 436.9 559.9 434.9 552.6 435.4 545.4 438.1 541.7 439.0Z" fill="#ff7f0e"/><path d="M524.2 454.9 528.6 451.9 533.9 450.7 538.7 445.9 542.3 440.5 547.1 437.5 549.8 436.9 555.8 435.3 563.0 435.9 567.8 438.9 569.7 441.3 569.7 448.5 565.5 449.7 565.5 456.3 561.2 456.9 560.6 460.2 555.8 462.0 552.2 465.0 549.8 466.9 543.5 467.6 542.2 463.9 534.4 463.3 533.8 460.9 525.6 459.2 524.2 456.9Z" fill="#ad2742"/><path d="M513.8 445.1 517.5 439.0 522.3 436.6 527.2 433.0 533.2 430.0 539.3 428.7 543.5 428.7 544.1 433.0 542.3 436.6 540.5 440.3 538.1 443.9 534.4 447.5 530.8 449.9 527.2 452.4 523.5 455.4 520.5 453.6 516.3 451.2 513.2 449.9Z" fill="#2bb5ec"/><path d="M526.0 456.0 528.4 452.4 533.2 449.9 538.1 448.1 542.9 446.3 546.0 447.5 545.4 452.4 546.0 458.4 542.9 462.7 536.9 463.3 534.4 460.9 527.2 459.0Z" fill="#33e68f"/><path d="M513.2 451.8 515.1 448.7 518.7 443.9 522.3 439.0 526.0 433.0 530.2 426.3 531.8 427.2 527.8 433.6 523.5 440.3 519.9 445.1 516.3 449.9 514.5 452.4Z" fill="#1f6eb0"/><path d="M560.6 460.2 560.8 463.9 556.6 466.3 556.6 470.5 553.4 471.8 549.6 471.2 548.3 468.4 552.2 465.0 555.8 462.0Z" fill="#f0c93c"/><path d="M524.3 456.4 527.8 453.4 532.8 450.8 537.0 446.5 540.6 442.8 544.8 439.1 549.8 436.6 555.8 435.4 561.8 435.8" fill="none" stroke="#fff" stroke-width="1.7"/><path d="M552.4 441.3 555.8 441.3 555.8 444.7 552.4 444.7Z" fill="#fff"/><path d="M561.8 415.9 563.8 414.4 565.3 415.4 563.8 418.4 562.3 418.4Z" fill="#fff"/><path d="M512.8 452.9 512.4 445.3 513.8 440.9 516.6 437.5 520.0 433.1 522.1 430.1 524.8 427.2 528.1 423.6 531.4 420.0 534.7 416.4 538.0 412.8 541.3 409.2 544.4 405.8 547.3 402.5 550.1 399.7 552.8 398.3 555.8 398.2 558.8 399.4 561.8 400.4 565.8 403.1 570.3 404.5 573.8 406.2 578.5 409.7 583.3 412.2 586.3 414.7 586.8 417.6 583.8 419.5 582.6 421.9 583.0 424.9 580.8 427.4 578.3 429.9 575.8 432.4 574.1 437.1 574.1 441.3 569.7 441.5 569.7 448.5 565.5 449.7 565.5 456.3 561.2 456.9 560.8 463.9 556.6 466.3 556.6 470.5 553.4 471.8 549.6 471.2 547.8 467.9 543.5 467.6 542.2 463.9 534.4 463.3 533.8 460.9 525.6 459.2 524.2 456.9 522.0 456.3 517.8 454.9Z" fill="url(#wspk)" stroke="#fff" stroke-width="1.5" stroke-dasharray="0.9 1.6"/></g><rect x="509.3" y="393.6" width="81.8" height="80.5" fill="none" stroke="#3d3333" stroke-width="1.1"/><text x="644.1" y="387.8" text-anchor="middle">BANKSY</text><g filter="url(#soft)"><path d="M606.7 452.9 606.3 445.3 607.7 440.9 610.5 437.5 613.9 433.1 616.0 430.1 618.7 427.2 622.0 423.6 625.3 420.0 628.6 416.4 631.9 412.8 635.2 409.2 638.3 405.8 641.2 402.5 644.0 399.7 646.7 398.3 649.7 398.2 652.7 399.4 655.7 400.4 659.7 403.1 664.2 404.5 667.7 406.2 672.4 409.7 677.2 412.2 680.2 414.7 680.7 417.6 677.7 419.5 676.5 421.9 676.9 424.9 674.7 427.4 672.2 429.9 669.7 432.4 668.0 437.1 668.0 441.3 663.6 441.5 663.6 448.5 659.4 449.7 659.4 456.3 655.1 456.9 654.7 463.9 650.5 466.3 650.5 470.5 647.3 471.8 643.5 471.2 641.7 467.9 637.4 467.6 636.1 463.9 628.3 463.3 627.7 460.9 619.5 459.2 618.1 456.9 615.9 456.3 611.7 454.9Z" fill="#bdbdbd"/><path d="M617.2 454.9 619.2 447.9 622.0 441.9 624.9 435.9 627.9 429.9 630.9 425.4 634.4 420.9 636.9 416.9 639.5 413.4 642.1 410.4 644.7 407.9 647.5 405.9 651.7 404.1 655.7 404.3 660.5 408.5 664.1 412.7 667.7 414.5 670.7 417.4 674.8 421.0 676.7 424.6 674.8 426.7 672.4 429.7 669.7 432.4 668.0 436.9 653.7 438.9 633.7 446.9 623.7 454.9Z" fill="#f0c93c"/><path d="M623.7 449.9 625.7 445.9 630.2 442.4 634.2 437.9 636.2 435.9 634.7 440.4 631.2 444.9 627.2 448.9 624.7 451.4Z" fill="#f0c93c"/><path d="M619.2 448.7 621.7 446.9 624.7 447.1 625.2 450.4 621.7 451.7 619.7 450.9Z" fill="#f0c93c"/><path d="M606.3 445.3 607.7 440.9 610.5 437.5 614.2 434.4 617.7 432.9 625.5 433.9 622.7 438.9 620.7 445.9 618.9 453.7 615.9 456.3 611.7 454.9 606.7 451.9Z" fill="#f0c93c"/><path d="M635.7 436.4 638.7 433.6 642.7 430.9 647.0 428.8 649.7 427.3 653.0 427.4 655.7 428.1 659.0 429.9 660.5 431.1 663.7 432.2 667.3 435.9 668.0 438.9 668.0 441.3 663.6 441.3 661.7 438.7 656.9 435.7 649.7 435.1 643.7 436.3 638.6 438.7Z" fill="#ff7f0e"/><path d="M618.1 454.9 622.5 451.9 627.8 450.7 632.6 445.9 636.2 440.5 641.0 437.5 643.7 436.9 649.7 435.3 656.9 435.9 661.7 438.9 663.6 441.3 663.6 448.5 659.4 449.7 659.4 456.3 655.1 456.9 654.5 460.2 649.7 462.0 646.1 465.0 643.7 466.9 637.4 467.6 636.1 463.9 628.3 463.3 627.7 460.9 619.5 459.2 618.1 456.9Z" fill="url(#pbks)"/><path d="M620.2 456.8 625.0 454.4 630.5 452.6 634.1 452.0 638.4 453.8 643.2 452.6 648.0 450.1 651.7 448.9 652.9 452.6 650.5 457.4 648.0 461.1 644.4 463.5 639.6 464.7 635.9 462.9 631.1 461.7 626.2 460.4 621.4 459.6Z" fill="#33e68f"/><path d="M654.1 441.1 658.9 440.2 662.6 441.7 662.0 445.3 657.7 445.9 654.1 444.7Z" fill="#33e68f"/><path d="M606.7 452.9 606.3 445.3 607.7 440.9 610.5 437.5 613.9 433.1 616.0 430.1 618.7 427.2 622.0 423.6 625.3 420.0 628.6 416.4 631.9 412.8 635.2 409.2 638.3 405.8 641.2 402.5 644.0 399.7 646.7 398.3 648.2 398.5 650.6 400.7 649.1 400.5 646.4 401.9 643.6 404.7 640.7 408.0 637.6 411.4 634.3 415.0 631.0 418.6 627.7 422.2 624.4 425.8 621.1 429.4 618.4 432.3 616.3 435.3 612.9 439.7 612.2 445.9 610.7 450.4 609.7 453.9Z" fill="url(#ppia)"/><path d="M607.2 450.9 609.7 444.9 612.2 439.4 614.9 434.4 617.2 435.4 614.7 440.4 612.2 445.9 609.7 451.9Z" fill="#2bb5ec"/><path d="M640.8 461.1 648.0 458.6 652.9 461.1 651.7 468.3 648.0 470.7 642.0 470.7Z" fill="#f0c93c"/><path d="M619.2 421.4 621.4 421.4 621.4 423.6 619.2 423.6Z" fill="#bdbdbd"/><path d="M623.2 416.0 625.4 416.0 625.4 418.2 623.2 418.2Z" fill="#bdbdbd"/><path d="M627.6 411.0 629.8 411.0 629.8 413.2 627.6 413.2Z" fill="#bdbdbd"/><path d="M633.0 404.2 635.2 404.2 635.2 406.4 633.0 406.4Z" fill="#bdbdbd"/><path d="M616.1 424.8 618.3 424.8 618.3 427.0 616.1 427.0Z" fill="#bdbdbd"/><path d="M618.2 456.4 621.7 453.4 626.7 450.8 630.9 446.5 634.5 442.8 638.7 439.1 643.7 436.6 649.7 435.4 655.7 435.8" fill="none" stroke="#fff" stroke-width="1.7"/><path d="M646.3 441.3 649.7 441.3 649.7 444.7 646.3 444.7Z" fill="#fff"/><path d="M655.7 415.9 657.7 414.4 659.2 415.4 657.7 418.4 656.2 418.4Z" fill="#fff"/><path d="M606.7 452.9 606.3 445.3 607.7 440.9 610.5 437.5 613.9 433.1 616.0 430.1 618.7 427.2 622.0 423.6 625.3 420.0 628.6 416.4 631.9 412.8 635.2 409.2 638.3 405.8 641.2 402.5 644.0 399.7 646.7 398.3 649.7 398.2 652.7 399.4 655.7 400.4 659.7 403.1 664.2 404.5 667.7 406.2 672.4 409.7 677.2 412.2 680.2 414.7 680.7 417.6 677.7 419.5 676.5 421.9 676.9 424.9 674.7 427.4 672.2 429.9 669.7 432.4 668.0 437.1 668.0 441.3 663.6 441.5 663.6 448.5 659.4 449.7 659.4 456.3 655.1 456.9 654.7 463.9 650.5 466.3 650.5 470.5 647.3 471.8 643.5 471.2 641.7 467.9 637.4 467.6 636.1 463.9 628.3 463.3 627.7 460.9 619.5 459.2 618.1 456.9 615.9 456.3 611.7 454.9Z" fill="url(#wspk)" stroke="#fff" stroke-width="1.5" stroke-dasharray="0.9 1.6"/></g><rect x="603.2" y="393.6" width="81.8" height="80.5" fill="none" stroke="#3d3333" stroke-width="1.1"/><text x="268.5" y="488.9" text-anchor="middle">CellCharter</text><g filter="url(#soft)"><path d="M231.1 554.0 230.7 546.4 232.1 542.0 234.9 538.6 238.3 534.2 240.4 531.2 243.1 528.3 246.4 524.7 249.7 521.1 253.0 517.5 256.3 513.9 259.6 510.3 262.7 506.9 265.6 503.6 268.4 500.8 271.1 499.4 274.1 499.3 277.1 500.5 280.1 501.5 284.1 504.2 288.6 505.6 292.1 507.3 296.8 510.8 301.6 513.3 304.6 515.8 305.1 518.7 302.1 520.6 300.9 523.0 301.3 526.0 299.1 528.5 296.6 531.0 294.1 533.5 292.4 538.2 292.4 542.4 288.0 542.6 288.0 549.6 283.8 550.8 283.8 557.4 279.5 558.0 279.1 565.0 274.9 567.4 274.9 571.6 271.7 572.9 267.9 572.3 266.1 569.0 261.8 568.7 260.5 565.0 252.7 564.4 252.1 562.0 243.9 560.3 242.5 558.0 240.3 557.4 236.1 556.0Z" fill="url(#pcco)"/><path d="M241.6 556.0 243.6 549.0 246.4 543.0 249.3 537.0 252.3 531.0 255.3 526.5 258.8 522.0 261.3 518.0 263.9 514.5 266.5 511.5 269.1 509.0 271.9 507.0 276.1 505.2 280.1 505.4 284.9 509.6 288.5 513.8 292.1 515.6 295.1 518.5 299.2 522.1 301.1 525.7 299.2 527.8 296.8 530.8 294.1 533.5 292.4 538.0 278.1 540.0 258.1 548.0 248.1 556.0Z" fill="url(#pcci)"/><path d="M260.1 538.2 263.1 535.6 267.1 533.4 271.4 531.6 274.1 530.6 277.4 530.7 280.1 531.2 283.4 532.8 284.9 533.8 288.1 535.4 291.1 538.5 291.9 541.2 288.6 541.5 286.1 539.8 281.3 536.8 274.1 536.2 268.1 537.4 263.0 539.8Z" fill="#ff7f0e"/><path d="M242.5 556.0 246.9 553.0 252.2 551.8 257.0 547.0 260.6 541.6 265.4 538.6 268.1 538.0 274.1 536.4 281.3 537.0 286.1 540.0 288.0 542.4 288.0 549.6 283.8 550.8 283.8 557.4 279.5 558.0 278.9 561.3 274.1 563.1 270.5 566.1 268.1 568.0 261.8 568.7 260.5 565.0 252.7 564.4 252.1 562.0 243.9 560.3 242.5 558.0Z" fill="url(#pccs)"/><path d="M278.9 561.3 279.1 565.0 274.9 567.4 274.9 571.6 271.7 572.9 267.9 572.3 266.6 569.5 270.5 566.1 274.1 563.1Z" fill="url(#pcci)"/><path d="M233.5 555.7 232.8 547.9 233.8 543.2 236.2 539.5 239.2 534.8 241.0 531.6 243.6 528.6 246.9 525.0 250.2 521.4 253.5 517.8 256.8 514.2 260.1 510.6 263.2 507.2 266.1 503.9 268.9 501.1 271.6 499.7 273.2 500.9 270.5 502.3 267.7 505.1 264.8 508.4 261.7 511.8 258.4 515.4 255.1 519.0 251.8 522.6 248.5 526.2 245.2 529.8 242.6 532.8 240.8 536.0 237.9 540.7 235.4 544.3 234.4 549.0 235.2 556.9Z" fill="url(#pcco)"/><path d="M242.6 557.5 246.1 554.5 251.1 551.9 255.3 547.6 258.9 543.9 263.1 540.2 268.1 537.7 274.1 536.5 280.1 536.9" fill="none" stroke="#fff" stroke-width="1.7"/><path d="M270.7 542.4 274.1 542.4 274.1 545.8 270.7 545.8Z" fill="#fff"/><path d="M280.1 517.0 282.1 515.5 283.6 516.5 282.1 519.5 280.6 519.5Z" fill="#fff"/><path d="M231.1 554.0 230.7 546.4 232.1 542.0 234.9 538.6 238.3 534.2 240.4 531.2 243.1 528.3 246.4 524.7 249.7 521.1 253.0 517.5 256.3 513.9 259.6 510.3 262.7 506.9 265.6 503.6 268.4 500.8 271.1 499.4 274.1 499.3 277.1 500.5 280.1 501.5 284.1 504.2 288.6 505.6 292.1 507.3 296.8 510.8 301.6 513.3 304.6 515.8 305.1 518.7 302.1 520.6 300.9 523.0 301.3 526.0 299.1 528.5 296.6 531.0 294.1 533.5 292.4 538.2 292.4 542.4 288.0 542.6 288.0 549.6 283.8 550.8 283.8 557.4 279.5 558.0 279.1 565.0 274.9 567.4 274.9 571.6 271.7 572.9 267.9 572.3 266.1 569.0 261.8 568.7 260.5 565.0 252.7 564.4 252.1 562.0 243.9 560.3 242.5 558.0 240.3 557.4 236.1 556.0Z" fill="url(#wspk)" stroke="#fff" stroke-width="1.5" stroke-dasharray="0.9 1.6"/></g><rect x="227.6" y="494.7" width="81.8" height="80.5" fill="none" stroke="#3d3333" stroke-width="1.1"/><text x="362.4" y="488.9" text-anchor="middle">GraphST</text><g filter="url(#soft)"><path d="M325.0 554.0 324.6 546.4 326.0 542.0 328.8 538.6 332.2 534.2 334.3 531.2 337.0 528.3 340.3 524.7 343.6 521.1 346.9 517.5 350.2 513.9 353.5 510.3 356.6 506.9 359.5 503.6 362.3 500.8 365.0 499.4 368.0 499.3 371.0 500.5 374.0 501.5 378.0 504.2 382.5 505.6 386.0 507.3 390.7 510.8 395.5 513.3 398.5 515.8 399.0 518.7 396.0 520.6 394.8 523.0 395.2 526.0 393.0 528.5 390.5 531.0 388.0 533.5 386.3 538.2 386.3 542.4 381.9 542.6 381.9 549.6 377.7 550.8 377.7 557.4 373.4 558.0 373.0 565.0 368.8 567.4 368.8 571.6 365.6 572.9 361.8 572.3 360.0 569.0 355.7 568.7 354.4 565.0 346.6 564.4 346.0 562.0 337.8 560.3 336.4 558.0 334.2 557.4 330.0 556.0Z" fill="#f0c93c"/><path d="M354.0 538.2 357.0 535.6 361.0 533.4 365.3 531.6 368.0 530.6 371.3 530.7 374.0 531.2 377.3 532.8 378.8 533.8 382.0 535.4 385.0 538.5 385.8 541.2 382.5 541.5 380.0 539.8 375.2 536.8 368.0 536.2 362.0 537.4 356.9 539.8Z" fill="#ff7f0e"/><path d="M336.4 556.0 340.8 553.0 346.1 551.8 350.9 547.0 354.5 541.6 359.3 538.6 362.0 538.0 368.0 536.4 375.2 537.0 380.0 540.0 381.9 542.4 381.9 549.6 377.7 550.8 377.7 557.4 373.4 558.0 372.8 561.3 368.0 563.1 364.4 566.1 362.0 568.0 355.7 568.7 354.4 565.0 346.6 564.4 346.0 562.0 337.8 560.3 336.4 558.0Z" fill="#ad2742"/><path d="M327.4 555.7 326.7 547.9 327.7 543.2 330.1 539.5 333.1 534.8 334.9 531.6 337.5 528.6 340.8 525.0 344.1 521.4 347.4 517.8 350.7 514.2 354.0 510.6 357.1 507.2 360.0 503.9 362.8 501.1 365.5 499.7 367.1 500.9 364.4 502.3 361.6 505.1 358.7 508.4 355.6 511.8 352.3 515.4 349.0 519.0 345.7 522.6 342.4 526.2 339.1 529.8 336.5 532.8 334.7 536.0 331.8 540.7 329.3 544.3 328.3 549.0 329.1 556.9Z" fill="#1f6eb0"/><path d="M344.1 521.4 347.4 517.8 350.7 514.2 354.0 510.6 357.1 507.2 360.0 503.9 362.8 501.1 365.5 499.7 367.1 500.9 364.4 502.3 361.6 505.1 358.7 508.4 355.6 511.8 352.3 515.4 349.0 519.0 345.7 522.6Z" fill="#2bb5ec"/><path d="M372.8 561.3 373.0 565.0 368.8 567.4 368.8 571.6 365.6 572.9 361.8 572.3 360.5 569.5 364.4 566.1 368.0 563.1Z" fill="#f0c93c"/><path d="M349.1 562.5 352.7 562.5 352.7 565.0 349.1 565.0Z" fill="#ff7f0e"/><path d="M336.5 557.5 340.0 554.5 345.0 551.9 349.2 547.6 352.8 543.9 357.0 540.2 362.0 537.7 368.0 536.5 374.0 536.9" fill="none" stroke="#fff" stroke-width="1.7"/><path d="M364.6 542.4 368.0 542.4 368.0 545.8 364.6 545.8Z" fill="#fff"/><path d="M374.0 517.0 376.0 515.5 377.5 516.5 376.0 519.5 374.5 519.5Z" fill="#fff"/><path d="M325.0 554.0 324.6 546.4 326.0 542.0 328.8 538.6 332.2 534.2 334.3 531.2 337.0 528.3 340.3 524.7 343.6 521.1 346.9 517.5 350.2 513.9 353.5 510.3 356.6 506.9 359.5 503.6 362.3 500.8 365.0 499.4 368.0 499.3 371.0 500.5 374.0 501.5 378.0 504.2 382.5 505.6 386.0 507.3 390.7 510.8 395.5 513.3 398.5 515.8 399.0 518.7 396.0 520.6 394.8 523.0 395.2 526.0 393.0 528.5 390.5 531.0 388.0 533.5 386.3 538.2 386.3 542.4 381.9 542.6 381.9 549.6 377.7 550.8 377.7 557.4 373.4 558.0 373.0 565.0 368.8 567.4 368.8 571.6 365.6 572.9 361.8 572.3 360.0 569.0 355.7 568.7 354.4 565.0 346.6 564.4 346.0 562.0 337.8 560.3 336.4 558.0 334.2 557.4 330.0 556.0Z" fill="url(#wspk)" stroke="#fff" stroke-width="1.5" stroke-dasharray="0.9 1.6"/></g><rect x="321.5" y="494.7" width="81.8" height="80.5" fill="none" stroke="#3d3333" stroke-width="1.1"/><text x="456.3" y="488.9" text-anchor="middle">UTAG</text><g filter="url(#soft)"><path d="M418.9 554.0 418.5 546.4 419.9 542.0 422.7 538.6 426.1 534.2 428.2 531.2 430.9 528.3 434.2 524.7 437.5 521.1 440.8 517.5 444.1 513.9 447.4 510.3 450.5 506.9 453.4 503.6 456.2 500.8 458.9 499.4 461.9 499.3 464.9 500.5 467.9 501.5 471.9 504.2 476.4 505.6 479.9 507.3 484.6 510.8 489.4 513.3 492.4 515.8 492.9 518.7 489.9 520.6 488.7 523.0 489.1 526.0 486.9 528.5 484.4 531.0 481.9 533.5 480.2 538.2 480.2 542.4 475.8 542.6 475.8 549.6 471.6 550.8 471.6 557.4 467.3 558.0 466.9 565.0 462.7 567.4 462.7 571.6 459.5 572.9 455.7 572.3 453.9 569.0 449.6 568.7 448.3 565.0 440.5 564.4 439.9 562.0 431.7 560.3 430.3 558.0 428.1 557.4 423.9 556.0Z" fill="url(#putc)"/><path d="M447.9 538.2 450.9 535.6 454.9 533.4 459.2 531.6 461.9 530.6 465.2 530.7 467.9 531.2 471.2 532.8 472.7 533.8 475.9 535.4 478.9 538.5 479.7 541.2 476.4 541.5 473.9 539.8 469.1 536.8 461.9 536.2 455.9 537.4 450.8 539.8Z" fill="url(#porn)"/><path d="M430.3 556.0 434.7 553.0 440.0 551.8 444.8 547.0 448.4 541.6 453.2 538.6 455.9 538.0 461.9 536.4 469.1 537.0 473.9 540.0 475.8 542.4 475.8 549.6 471.6 550.8 471.6 557.4 467.3 558.0 466.7 561.3 461.9 563.1 458.3 566.1 455.9 568.0 449.6 568.7 448.3 565.0 440.5 564.4 439.9 562.0 431.7 560.3 430.3 558.0Z" fill="url(#puts)"/><path d="M421.3 555.7 420.6 547.9 421.6 543.2 424.0 539.5 427.0 534.8 428.8 531.6 431.4 528.6 434.7 525.0 438.0 521.4 441.3 517.8 444.6 514.2 447.9 510.6 451.0 507.2 453.9 503.9 456.7 501.1 459.4 499.7 461.0 500.9 458.3 502.3 455.5 505.1 452.6 508.4 449.5 511.8 446.2 515.4 442.9 519.0 439.6 522.6 436.3 526.2 433.0 529.8 430.4 532.8 428.6 536.0 425.7 540.7 423.2 544.3 422.2 549.0 423.0 556.9Z" fill="#1f6eb0"/><path d="M450.1 526.7 453.8 526.7 453.8 530.4 450.1 530.4Z" fill="#2bb5ec"/><path d="M468.3 520.7 474.4 521.9 474.4 526.7 469.5 525.5Z" fill="#2bb5ec"/><path d="M453.8 504.9 457.4 504.9 457.4 507.3 453.8 507.3Z" fill="#2bb5ec"/><path d="M430.4 557.5 433.9 554.5 438.9 551.9 443.1 547.6 446.7 543.9 450.9 540.2 455.9 537.7 461.9 536.5 467.9 536.9" fill="none" stroke="#fff" stroke-width="1.7"/><path d="M458.5 542.4 461.9 542.4 461.9 545.8 458.5 545.8Z" fill="#fff"/><path d="M467.9 517.0 469.9 515.5 471.4 516.5 469.9 519.5 468.4 519.5Z" fill="#fff"/><path d="M418.9 554.0 418.5 546.4 419.9 542.0 422.7 538.6 426.1 534.2 428.2 531.2 430.9 528.3 434.2 524.7 437.5 521.1 440.8 517.5 444.1 513.9 447.4 510.3 450.5 506.9 453.4 503.6 456.2 500.8 458.9 499.4 461.9 499.3 464.9 500.5 467.9 501.5 471.9 504.2 476.4 505.6 479.9 507.3 484.6 510.8 489.4 513.3 492.4 515.8 492.9 518.7 489.9 520.6 488.7 523.0 489.1 526.0 486.9 528.5 484.4 531.0 481.9 533.5 480.2 538.2 480.2 542.4 475.8 542.6 475.8 549.6 471.6 550.8 471.6 557.4 467.3 558.0 466.9 565.0 462.7 567.4 462.7 571.6 459.5 572.9 455.7 572.3 453.9 569.0 449.6 568.7 448.3 565.0 440.5 564.4 439.9 562.0 431.7 560.3 430.3 558.0 428.1 557.4 423.9 556.0Z" fill="url(#wspk)" stroke="#fff" stroke-width="1.5" stroke-dasharray="0.9 1.6"/></g><rect x="415.4" y="494.7" width="81.8" height="80.5" fill="none" stroke="#3d3333" stroke-width="1.1"/><text x="550.2" y="488.9" text-anchor="middle">SpaGCN</text><g filter="url(#soft)"><path d="M512.8 554.0 512.4 546.4 513.8 542.0 516.6 538.6 520.0 534.2 522.1 531.2 524.8 528.3 528.1 524.7 531.4 521.1 534.7 517.5 538.0 513.9 541.3 510.3 544.4 506.9 547.3 503.6 550.1 500.8 552.8 499.4 555.8 499.3 558.8 500.5 561.8 501.5 565.8 504.2 570.3 505.6 573.8 507.3 578.5 510.8 583.3 513.3 586.3 515.8 586.8 518.7 583.8 520.6 582.6 523.0 583.0 526.0 580.8 528.5 578.3 531.0 575.8 533.5 574.1 538.2 574.1 542.4 569.7 542.6 569.7 549.6 565.5 550.8 565.5 557.4 561.2 558.0 560.8 565.0 556.6 567.4 556.6 571.6 553.4 572.9 549.6 572.3 547.8 569.0 543.5 568.7 542.2 565.0 534.4 564.4 533.8 562.0 525.6 560.3 524.2 558.0 522.0 557.4 517.8 556.0Z" fill="url(#psgc)"/><path d="M541.8 538.2 544.8 535.6 548.8 533.4 553.1 531.6 555.8 530.6 559.1 530.7 561.8 531.2 565.1 532.8 566.6 533.8 569.8 535.4 572.8 538.5 573.6 541.2 570.3 541.5 567.8 539.8 563.0 536.8 555.8 536.2 549.8 537.4 544.7 539.8Z" fill="#ff7f0e"/><path d="M524.2 556.0 528.6 553.0 533.9 551.8 538.7 547.0 542.3 541.6 547.1 538.6 549.8 538.0 555.8 536.4 563.0 537.0 567.8 540.0 569.7 542.4 569.7 549.6 565.5 550.8 565.5 557.4 561.2 558.0 560.6 561.3 555.8 563.1 552.2 566.1 549.8 568.0 543.5 568.7 542.2 565.0 534.4 564.4 533.8 562.0 525.6 560.3 524.2 558.0Z" fill="url(#psgs)"/><path d="M515.2 555.7 514.5 547.9 515.5 543.2 517.9 539.5 520.9 534.8 522.7 531.6 525.3 528.6 528.6 525.0 531.9 521.4 535.2 517.8 538.5 514.2 541.8 510.6 544.9 507.2 547.8 503.9 550.6 501.1 553.3 499.7 554.9 500.9 552.2 502.3 549.4 505.1 546.5 508.4 543.4 511.8 540.1 515.4 536.8 519.0 533.5 522.6 530.2 526.2 526.9 529.8 524.3 532.8 522.5 536.0 519.6 540.7 517.1 544.3 516.1 549.0 516.9 556.9Z" fill="#1f6eb0"/><path d="M524.3 557.5 527.8 554.5 532.8 551.9 537.0 547.6 540.6 543.9 544.8 540.2 549.8 537.7 555.8 536.5 561.8 536.9" fill="none" stroke="#fff" stroke-width="1.7"/><path d="M552.4 542.4 555.8 542.4 555.8 545.8 552.4 545.8Z" fill="#fff"/><path d="M561.8 517.0 563.8 515.5 565.3 516.5 563.8 519.5 562.3 519.5Z" fill="#fff"/><path d="M512.8 554.0 512.4 546.4 513.8 542.0 516.6 538.6 520.0 534.2 522.1 531.2 524.8 528.3 528.1 524.7 531.4 521.1 534.7 517.5 538.0 513.9 541.3 510.3 544.4 506.9 547.3 503.6 550.1 500.8 552.8 499.4 555.8 499.3 558.8 500.5 561.8 501.5 565.8 504.2 570.3 505.6 573.8 507.3 578.5 510.8 583.3 513.3 586.3 515.8 586.8 518.7 583.8 520.6 582.6 523.0 583.0 526.0 580.8 528.5 578.3 531.0 575.8 533.5 574.1 538.2 574.1 542.4 569.7 542.6 569.7 549.6 565.5 550.8 565.5 557.4 561.2 558.0 560.8 565.0 556.6 567.4 556.6 571.6 553.4 572.9 549.6 572.3 547.8 569.0 543.5 568.7 542.2 565.0 534.4 564.4 533.8 562.0 525.6 560.3 524.2 558.0 522.0 557.4 517.8 556.0Z" fill="url(#wspk)" stroke="#fff" stroke-width="1.5" stroke-dasharray="0.9 1.6"/></g><rect x="509.3" y="494.7" width="81.8" height="80.5" fill="none" stroke="#3d3333" stroke-width="1.1"/><text x="644.1" y="488.9" text-anchor="middle">DR-SC</text><g filter="url(#soft)"><path d="M606.7 554.0 606.3 546.4 607.7 542.0 610.5 538.6 613.9 534.2 616.0 531.2 618.7 528.3 622.0 524.7 625.3 521.1 628.6 517.5 631.9 513.9 635.2 510.3 638.3 506.9 641.2 503.6 644.0 500.8 646.7 499.4 649.7 499.3 652.7 500.5 655.7 501.5 659.7 504.2 664.2 505.6 667.7 507.3 672.4 510.8 677.2 513.3 680.2 515.8 680.7 518.7 677.7 520.6 676.5 523.0 676.9 526.0 674.7 528.5 672.2 531.0 669.7 533.5 668.0 538.2 668.0 542.4 663.6 542.6 663.6 549.6 659.4 550.8 659.4 557.4 655.1 558.0 654.7 565.0 650.5 567.4 650.5 571.6 647.3 572.9 643.5 572.3 641.7 569.0 637.4 568.7 636.1 565.0 628.3 564.4 627.7 562.0 619.5 560.3 618.1 558.0 615.9 557.4 611.7 556.0Z" fill="url(#pdrc)"/><path d="M635.7 538.2 638.7 535.6 642.7 533.4 647.0 531.6 649.7 530.6 653.0 530.7 655.7 531.2 659.0 532.8 660.5 533.8 663.7 535.4 666.7 538.5 667.5 541.2 664.2 541.5 661.7 539.8 656.9 536.8 649.7 536.2 643.7 537.4 638.6 539.8Z" fill="url(#porn)"/><path d="M618.1 556.0 622.5 553.0 627.8 551.8 632.6 547.0 636.2 541.6 641.0 538.6 643.7 538.0 649.7 536.4 656.9 537.0 661.7 540.0 663.6 542.4 663.6 549.6 659.4 550.8 659.4 557.4 655.1 558.0 654.5 561.3 649.7 563.1 646.1 566.1 643.7 568.0 637.4 568.7 636.1 565.0 628.3 564.4 627.7 562.0 619.5 560.3 618.1 558.0Z" fill="url(#pdrs)"/><path d="M609.1 555.7 608.4 547.9 609.4 543.2 611.8 539.5 614.8 534.8 616.6 531.6 619.2 528.6 622.5 525.0 625.8 521.4 629.1 517.8 632.4 514.2 635.7 510.6 638.8 507.2 641.7 503.9 644.5 501.1 647.2 499.7 648.8 500.9 646.1 502.3 643.3 505.1 640.4 508.4 637.3 511.8 634.0 515.4 630.7 519.0 627.4 522.6 624.1 526.2 620.8 529.8 618.2 532.8 616.4 536.0 613.5 540.7 611.0 544.3 610.0 549.0 610.8 556.9Z" fill="#1f6eb0"/><path d="M618.2 557.5 621.7 554.5 626.7 551.9 630.9 547.6 634.5 543.9 638.7 540.2 643.7 537.7 649.7 536.5 655.7 536.9" fill="none" stroke="#fff" stroke-width="1.7"/><path d="M646.3 542.4 649.7 542.4 649.7 545.8 646.3 545.8Z" fill="#fff"/><path d="M655.7 517.0 657.7 515.5 659.2 516.5 657.7 519.5 656.2 519.5Z" fill="#fff"/><path d="M606.7 554.0 606.3 546.4 607.7 542.0 610.5 538.6 613.9 534.2 616.0 531.2 618.7 528.3 622.0 524.7 625.3 521.1 628.6 517.5 631.9 513.9 635.2 510.3 638.3 506.9 641.2 503.6 644.0 500.8 646.7 499.4 649.7 499.3 652.7 500.5 655.7 501.5 659.7 504.2 664.2 505.6 667.7 507.3 672.4 510.8 677.2 513.3 680.2 515.8 680.7 518.7 677.7 520.6 676.5 523.0 676.9 526.0 674.7 528.5 672.2 531.0 669.7 533.5 668.0 538.2 668.0 542.4 663.6 542.6 663.6 549.6 659.4 550.8 659.4 557.4 655.1 558.0 654.7 565.0 650.5 567.4 650.5 571.6 647.3 572.9 643.5 572.3 641.7 569.0 637.4 568.7 636.1 565.0 628.3 564.4 627.7 562.0 619.5 560.3 618.1 558.0 615.9 557.4 611.7 556.0Z" fill="url(#wspk)" stroke="#fff" stroke-width="1.5" stroke-dasharray="0.9 1.6"/></g><rect x="603.2" y="494.7" width="81.8" height="80.5" fill="none" stroke="#3d3333" stroke-width="1.1"/><text x="137.8" y="491.9">Niches</text><circle cx="140" cy="502.6" r="2.75" fill="#ad2742"/><text x="148.1" y="504.7">striatum</text><circle cx="140" cy="514.0" r="2.75" fill="#ff7f0e"/><text x="148.1" y="516.0">corpus callosum</text><circle cx="140" cy="525.3" r="2.75" fill="#f0c93c"/><text x="148.1" y="527.4">cortical layer VI</text><circle cx="140" cy="536.7" r="2.75" fill="#33e68f"/><text x="148.1" y="538.8">cortical layer V</text><circle cx="140" cy="548.1" r="2.75" fill="#bdbdbd"/><text x="148.1" y="550.1">cortical layer II/III</text><circle cx="140" cy="559.5" r="2.75" fill="#2bb5ec"/><text x="148.1" y="561.5">olfactory region</text><circle cx="140" cy="570.8" r="2.75" fill="#1f6eb0"/><text x="148.1" y="572.9">pia mater</text><text x="202.6" y="587.9" font-weight="bold" font-size="10">f</text><line x1="256.35" y1="596.12" x2="256.35" y2="615.94" stroke="#222" stroke-width="0.9"/><line x1="253.15" y1="615.94" x2="259.55" y2="615.94" stroke="#222" stroke-width="0.9"/><line x1="253.15" y1="596.12" x2="259.55" y2="596.12" stroke="#222" stroke-width="0.9"/><rect x="250.45" y="604.05" width="11.80" height="5.74" fill="#e377c2" stroke="#222" stroke-width="0.9"/><line x1="250.45" y1="607.06" x2="262.25" y2="607.06" stroke="#222" stroke-width="0.9"/><path d="M257.4 606.7h0M257.8 606.3h0M256.9 609.4h0M255.3 610.8h0M257.4 608.4h0M257.7 600.3h0M257.6 607.1h0M256.6 608.9h0M257.0 604.8h0M255.5 605.5h0M257.3 609.4h0M256.6 606.4h0M255.7 609.6h0M255.0 600.3h0M257.4 604.7h0M257.8 604.5h0M255.1 605.2h0M257.2 604.4h0M256.1 603.3h0M255.3 614.6h0M255.7 600.6h0M257.2 608.1h0M257.5 607.6h0M255.0 606.4h0M256.7 604.6h0M255.0 604.5h0M257.0 615.9h0M255.8 596.1h0M257.5 620.6h0M257.8 622.6h0M256.4 619.2h0" stroke="#e377c2" stroke-opacity="0.62" stroke-width="3.6" stroke-linecap="round" fill="none"/><path d="M253.45 609.90L259.25 609.90L256.35 604.70Z" fill="#2ca02c"/><line x1="274.24" y1="598.44" x2="274.24" y2="643.96" stroke="#222" stroke-width="0.9"/><line x1="271.04" y1="643.96" x2="277.44" y2="643.96" stroke="#222" stroke-width="0.9"/><line x1="271.04" y1="598.44" x2="277.44" y2="598.44" stroke="#222" stroke-width="0.9"/><rect x="268.34" y="608.56" width="11.80" height="14.49" fill="#bcbd5e" stroke="#222" stroke-width="0.9"/><line x1="268.34" y1="617.85" x2="280.14" y2="617.85" stroke="#222" stroke-width="0.9"/><path d="M273.7 605.4h0M273.8 631.4h0M274.5 639.8h0M273.6 614.2h0M273.9 622.4h0M275.1 605.4h0M272.8 599.5h0M274.4 616.4h0M274.9 613.7h0M273.7 614.9h0M273.4 609.4h0M275.1 616.8h0M273.5 619.6h0M273.3 608.9h0M274.0 615.1h0M274.8 635.3h0M273.0 622.8h0M273.7 613.9h0M273.7 630.8h0M275.2 613.2h0M274.1 612.8h0M275.3 622.7h0M273.2 629.8h0M273.7 606.0h0M274.7 614.5h0M275.4 617.8h0M274.1 644.0h0M273.4 598.4h0M273.1 654.1h0M274.3 669.1h0M273.3 678.0h0" stroke="#bcbd5e" stroke-opacity="0.62" stroke-width="3.6" stroke-linecap="round" fill="none"/><path d="M271.34 622.89L277.14 622.89L274.24 617.69Z" fill="#2ca02c"/><line x1="292.13" y1="594.21" x2="292.13" y2="645.47" stroke="#222" stroke-width="0.9"/><line x1="288.93" y1="645.47" x2="295.33" y2="645.47" stroke="#222" stroke-width="0.9"/><line x1="288.93" y1="594.21" x2="295.33" y2="594.21" stroke="#222" stroke-width="0.9"/><rect x="286.23" y="613.21" width="11.80" height="19.00" fill="#1f77b4" stroke="#222" stroke-width="0.9"/><line x1="286.23" y1="621.96" x2="298.03" y2="621.96" stroke="#222" stroke-width="0.9"/><path d="M292.5 616.3h0M291.7 626.9h0M291.4 620.0h0M293.2 625.6h0M292.1 641.6h0M293.0 627.1h0M291.7 624.3h0M291.2 624.4h0M292.2 610.2h0M293.1 633.0h0M291.1 594.5h0M293.0 614.2h0M293.4 609.0h0M293.0 616.3h0M293.1 622.3h0M290.6 625.7h0M292.5 630.9h0M293.2 626.8h0M290.8 631.4h0M291.4 600.0h0M291.4 596.2h0M292.2 602.2h0M291.9 635.6h0M292.0 626.5h0M293.0 622.2h0M290.6 614.4h0M290.8 645.5h0M291.0 594.2h0" stroke="#1f77b4" stroke-opacity="0.62" stroke-width="3.6" stroke-linecap="round" fill="none"/><path d="M289.23 624.26L295.03 624.26L292.13 619.06Z" fill="#2ca02c"/><line x1="310.02" y1="615.12" x2="310.02" y2="651.76" stroke="#222" stroke-width="0.9"/><line x1="306.82" y1="651.76" x2="313.22" y2="651.76" stroke="#222" stroke-width="0.9"/><line x1="306.82" y1="615.12" x2="313.22" y2="615.12" stroke="#222" stroke-width="0.9"/><rect x="304.12" y="627.83" width="11.80" height="9.43" fill="#d62728" stroke="#222" stroke-width="0.9"/><line x1="304.12" y1="632.89" x2="315.92" y2="632.89" stroke="#222" stroke-width="0.9"/><path d="M310.7 650.8h0M310.2 617.0h0M308.8 644.5h0M310.3 634.3h0M308.5 631.2h0M308.9 633.9h0M310.8 634.2h0M308.7 643.7h0M308.8 633.7h0M308.8 649.2h0M311.2 631.6h0M309.1 633.7h0M308.6 631.4h0M311.0 633.8h0M308.9 630.6h0M311.1 630.7h0M310.5 635.0h0M311.0 630.7h0M311.4 645.6h0M310.3 629.0h0M310.9 623.1h0M308.6 617.8h0M310.8 632.9h0M310.1 640.0h0M310.7 628.9h0M308.8 631.0h0M310.8 651.8h0M311.3 615.1h0M308.7 663.6h0M309.5 665.7h0" stroke="#d62728" stroke-opacity="0.62" stroke-width="3.6" stroke-linecap="round" fill="none"/><path d="M307.12 636.56L312.92 636.56L310.02 631.36Z" fill="#2ca02c"/><line x1="327.91" y1="610.34" x2="327.91" y2="675.27" stroke="#222" stroke-width="0.9"/><line x1="324.71" y1="675.27" x2="331.11" y2="675.27" stroke="#222" stroke-width="0.9"/><line x1="324.71" y1="610.34" x2="331.11" y2="610.34" stroke="#222" stroke-width="0.9"/><rect x="322.01" y="621.27" width="11.80" height="23.24" fill="#aec7e8" stroke="#222" stroke-width="0.9"/><line x1="322.01" y1="630.29" x2="333.81" y2="630.29" stroke="#222" stroke-width="0.9"/><path d="M327.4 625.3h0M328.7 640.3h0M326.8 630.2h0M329.4 635.4h0M327.8 635.3h0M328.2 634.8h0M327.8 659.9h0M328.9 616.8h0M328.9 640.8h0M328.1 626.9h0M327.9 632.5h0M328.6 629.6h0M329.0 619.6h0M327.6 652.3h0M328.6 615.6h0M329.3 627.8h0M327.8 638.3h0M327.1 630.9h0M327.1 639.1h0M328.6 622.4h0M328.4 628.1h0M329.3 624.7h0M329.0 638.3h0M327.1 644.0h0M327.0 635.6h0M327.2 636.1h0M327.0 675.3h0M328.5 610.3h0" stroke="#aec7e8" stroke-opacity="0.62" stroke-width="3.6" stroke-linecap="round" fill="none"/><path d="M325.01 636.42L330.81 636.42L327.91 631.22Z" fill="#2ca02c"/><line x1="345.80" y1="621.82" x2="345.80" y2="671.99" stroke="#222" stroke-width="0.9"/><line x1="342.60" y1="671.99" x2="349.00" y2="671.99" stroke="#222" stroke-width="0.9"/><line x1="342.60" y1="621.82" x2="349.00" y2="621.82" stroke="#222" stroke-width="0.9"/><rect x="339.90" y="634.53" width="11.80" height="19.82" fill="#ff7f0e" stroke="#222" stroke-width="0.9"/><line x1="339.90" y1="642.60" x2="351.70" y2="642.60" stroke="#222" stroke-width="0.9"/><path d="M344.8 623.1h0M347.0 637.2h0M346.3 646.0h0M344.7 652.7h0M347.1 657.3h0M344.7 647.3h0M345.3 641.0h0M346.5 666.1h0M346.1 644.7h0M346.0 642.8h0M346.2 629.6h0M345.7 652.0h0M345.2 641.2h0M344.8 656.3h0M344.5 633.3h0M346.4 629.8h0M346.6 639.3h0M345.9 641.0h0M346.5 638.4h0M345.4 639.4h0M345.1 626.0h0M345.5 652.1h0M346.9 647.4h0M344.4 640.9h0M345.8 650.7h0M345.0 641.8h0M346.6 672.0h0M345.4 621.8h0" stroke="#ff7f0e" stroke-opacity="0.62" stroke-width="3.6" stroke-linecap="round" fill="none"/><path d="M342.90 646.81L348.70 646.81L345.80 641.61Z" fill="#2ca02c"/><line x1="363.69" y1="625.51" x2="363.69" y2="677.18" stroke="#222" stroke-width="0.9"/><line x1="360.49" y1="677.18" x2="366.89" y2="677.18" stroke="#222" stroke-width="0.9"/><line x1="360.49" y1="625.51" x2="366.89" y2="625.51" stroke="#222" stroke-width="0.9"/><rect x="357.79" y="636.86" width="11.80" height="19.41" fill="#2e8b57" stroke="#222" stroke-width="0.9"/><line x1="357.79" y1="642.32" x2="369.59" y2="642.32" stroke="#222" stroke-width="0.9"/><path d="M364.1 648.4h0M363.5 641.3h0M363.9 639.8h0M365.1 671.5h0M364.9 674.8h0M362.6 642.1h0M364.6 652.6h0M364.1 641.8h0M362.3 641.7h0M363.3 653.4h0M362.9 652.5h0M362.4 645.2h0M363.8 651.4h0M365.0 655.7h0M363.2 639.0h0M364.8 632.5h0M364.3 644.9h0M362.6 637.3h0M364.8 650.5h0M364.0 631.4h0M365.0 642.2h0M364.3 661.1h0M364.4 646.7h0M363.2 647.3h0M364.6 646.0h0M365.0 666.7h0M364.8 677.2h0M363.5 625.5h0" stroke="#2e8b57" stroke-opacity="0.62" stroke-width="3.6" stroke-linecap="round" fill="none"/><path d="M360.79 648.72L366.59 648.72L363.69 643.52Z" fill="#2ca02c"/><line x1="381.58" y1="610.06" x2="381.58" y2="669.80" stroke="#222" stroke-width="0.9"/><line x1="378.38" y1="669.80" x2="384.78" y2="669.80" stroke="#222" stroke-width="0.9"/><line x1="378.38" y1="610.06" x2="384.78" y2="610.06" stroke="#222" stroke-width="0.9"/><rect x="375.68" y="635.35" width="11.80" height="16.81" fill="#8c564b" stroke="#222" stroke-width="0.9"/><line x1="375.68" y1="642.05" x2="387.48" y2="642.05" stroke="#222" stroke-width="0.9"/><path d="M381.9 644.0h0M381.1 669.0h0M380.5 666.3h0M380.2 643.8h0M382.3 643.1h0M380.9 641.2h0M382.4 644.4h0M381.5 645.4h0M382.9 637.0h0M381.0 646.0h0M380.8 643.3h0M380.9 648.4h0M382.5 666.1h0M382.0 649.8h0M381.1 648.9h0M380.4 649.3h0M382.1 649.3h0M383.0 667.9h0M381.9 643.9h0M380.1 669.4h0M380.2 645.3h0M380.4 651.3h0M380.6 645.5h0M380.2 652.8h0M380.2 650.6h0M382.0 649.4h0M382.8 669.8h0M380.7 610.1h0M383.0 688.3h0" stroke="#8c564b" stroke-opacity="0.62" stroke-width="3.6" stroke-linecap="round" fill="none"/><path d="M378.68 645.85L384.48 645.85L381.58 640.65Z" fill="#2ca02c"/><line x1="399.47" y1="629.34" x2="399.47" y2="678.14" stroke="#222" stroke-width="0.9"/><line x1="396.27" y1="678.14" x2="402.67" y2="678.14" stroke="#222" stroke-width="0.9"/><line x1="396.27" y1="629.34" x2="402.67" y2="629.34" stroke="#222" stroke-width="0.9"/><rect x="393.57" y="644.51" width="11.80" height="13.67" fill="#ffbb78" stroke="#222" stroke-width="0.9"/><line x1="393.57" y1="651.21" x2="405.37" y2="651.21" stroke="#222" stroke-width="0.9"/><path d="M399.2 647.2h0M400.8 630.2h0M398.3 672.1h0M399.7 645.2h0M398.3 672.3h0M398.2 656.6h0M399.9 653.6h0M398.7 645.5h0M398.1 648.1h0M398.4 646.8h0M399.9 645.6h0M399.7 652.5h0M398.0 647.5h0M398.7 654.5h0M400.9 648.3h0M398.6 648.5h0M399.7 651.5h0M399.2 648.5h0M400.3 668.8h0M399.8 648.9h0M400.3 673.4h0M399.6 649.4h0M398.5 631.3h0M398.5 645.9h0M398.2 653.6h0M400.4 657.2h0M398.3 678.1h0M398.0 629.3h0" stroke="#ffbb78" stroke-opacity="0.62" stroke-width="3.6" stroke-linecap="round" fill="none"/><path d="M396.57 653.65L402.37 653.65L399.47 648.45Z" fill="#2ca02c"/><line x1="417.36" y1="626.47" x2="417.36" y2="685.52" stroke="#222" stroke-width="0.9"/><line x1="414.16" y1="685.52" x2="420.56" y2="685.52" stroke="#222" stroke-width="0.9"/><line x1="414.16" y1="626.47" x2="420.56" y2="626.47" stroke="#222" stroke-width="0.9"/><rect x="411.46" y="648.34" width="11.80" height="18.04" fill="#17becf" stroke="#222" stroke-width="0.9"/><line x1="411.46" y1="656.27" x2="423.26" y2="656.27" stroke="#222" stroke-width="0.9"/><path d="M417.1 644.0h0M418.9 646.5h0M418.6 662.4h0M416.7 655.3h0M418.7 652.6h0M416.4 640.8h0M416.2 658.3h0M418.0 669.5h0M416.7 651.7h0M417.4 656.7h0M417.8 653.2h0M416.0 678.9h0M418.1 665.1h0M416.7 653.1h0M417.2 654.7h0M416.9 662.5h0M418.1 648.4h0M418.1 658.6h0M416.7 681.4h0M416.2 649.6h0M416.8 650.6h0M417.1 634.9h0M416.1 636.6h0M416.3 649.3h0M418.2 627.6h0M418.0 652.4h0M418.8 685.5h0M418.8 626.5h0" stroke="#17becf" stroke-opacity="0.62" stroke-width="3.6" stroke-linecap="round" fill="none"/><path d="M414.46 659.25L420.26 659.25L417.36 654.05Z" fill="#2ca02c"/><line x1="435.25" y1="673.35" x2="435.25" y2="690.85" stroke="#222" stroke-width="0.9"/><line x1="432.05" y1="690.85" x2="438.45" y2="690.85" stroke="#222" stroke-width="0.9"/><line x1="432.05" y1="673.35" x2="438.45" y2="673.35" stroke="#222" stroke-width="0.9"/><rect x="429.35" y="680.33" width="11.80" height="6.01" fill="#a855f7" stroke="#222" stroke-width="0.9"/><line x1="429.35" y1="683.74" x2="441.15" y2="683.74" stroke="#222" stroke-width="0.9"/><path d="M436.2 677.7h0M435.4 684.5h0M434.6 683.2h0M434.3 684.2h0M433.8 678.3h0M435.7 681.0h0M436.4 684.6h0M436.5 681.5h0M435.2 690.3h0M435.8 683.1h0M436.5 686.0h0M436.2 681.7h0M435.6 680.5h0M435.0 680.5h0M435.3 690.0h0M434.3 688.9h0M434.3 686.0h0M435.8 685.8h0M436.7 684.9h0M435.4 683.8h0M435.0 686.1h0M434.8 682.6h0M435.1 680.9h0M436.2 684.9h0M435.1 687.4h0M436.6 683.3h0M434.2 690.9h0M434.7 673.4h0M435.3 669.1h0M435.0 670.5h0M436.3 699.2h0M436.2 701.9h0" stroke="#a855f7" stroke-opacity="0.62" stroke-width="3.6" stroke-linecap="round" fill="none"/><path d="M432.35 685.77L438.15 685.77L435.25 680.57Z" fill="#2ca02c"/><rect x="247.40" y="589.10" width="196.80" height="117.20" fill="none" stroke="#1a1a1a" stroke-width="0.9"/><line x1="244.10" y1="681.42" x2="247.40" y2="681.42" stroke="#1a1a1a" stroke-width="0.9"/><text x="241.4" y="684.4" text-anchor="end">0.2</text><line x1="244.10" y1="654.08" x2="247.40" y2="654.08" stroke="#1a1a1a" stroke-width="0.9"/><text x="241.4" y="657.0" text-anchor="end">0.4</text><line x1="244.10" y1="626.74" x2="247.40" y2="626.74" stroke="#1a1a1a" stroke-width="0.9"/><text x="241.4" y="629.7" text-anchor="end">0.6</text><line x1="244.10" y1="599.40" x2="247.40" y2="599.40" stroke="#1a1a1a" stroke-width="0.9"/><text x="241.4" y="602.4" text-anchor="end">0.8</text><line x1="256.35" y1="706.30" x2="256.35" y2="709.60" stroke="#1a1a1a" stroke-width="0.9"/><text transform="translate(258.6,712.1) rotate(-90)" text-anchor="end">scNiche</text><line x1="274.24" y1="706.30" x2="274.24" y2="709.60" stroke="#1a1a1a" stroke-width="0.9"/><text transform="translate(276.5,712.1) rotate(-90)" text-anchor="end">SpaceFlow</text><line x1="292.13" y1="706.30" x2="292.13" y2="709.60" stroke="#1a1a1a" stroke-width="0.9"/><text transform="translate(294.4,712.1) rotate(-90)" text-anchor="end">BASS</text><line x1="310.02" y1="706.30" x2="310.02" y2="709.60" stroke="#1a1a1a" stroke-width="0.9"/><text transform="translate(312.3,712.1) rotate(-90)" text-anchor="end">CytoCommunity</text><line x1="327.91" y1="706.30" x2="327.91" y2="709.60" stroke="#1a1a1a" stroke-width="0.9"/><text transform="translate(330.2,712.1) rotate(-90)" text-anchor="end">STAGATE</text><line x1="345.80" y1="706.30" x2="345.80" y2="709.60" stroke="#1a1a1a" stroke-width="0.9"/><text transform="translate(348.1,712.1) rotate(-90)" text-anchor="end">BANKSY</text><line x1="363.69" y1="706.30" x2="363.69" y2="709.60" stroke="#1a1a1a" stroke-width="0.9"/><text transform="translate(366.0,712.1) rotate(-90)" text-anchor="end">CellCharter</text><line x1="381.58" y1="706.30" x2="381.58" y2="709.60" stroke="#1a1a1a" stroke-width="0.9"/><text transform="translate(383.9,712.1) rotate(-90)" text-anchor="end">GraphST</text><line x1="399.47" y1="706.30" x2="399.47" y2="709.60" stroke="#1a1a1a" stroke-width="0.9"/><text transform="translate(401.8,712.1) rotate(-90)" text-anchor="end">UTAG</text><line x1="417.36" y1="706.30" x2="417.36" y2="709.60" stroke="#1a1a1a" stroke-width="0.9"/><text transform="translate(419.7,712.1) rotate(-90)" text-anchor="end">SpaGCN</text><line x1="435.25" y1="706.30" x2="435.25" y2="709.60" stroke="#1a1a1a" stroke-width="0.9"/><text transform="translate(437.6,712.1) rotate(-90)" text-anchor="end">DR-SC</text><text transform="translate(222.9,647.7) rotate(-90)" text-anchor="middle">Adjusted Rand index (ARI)</text><line x1="497.31" y1="613.22" x2="497.31" y2="625.47" stroke="#222" stroke-width="0.9"/><line x1="494.11" y1="625.47" x2="500.51" y2="625.47" stroke="#222" stroke-width="0.9"/><line x1="494.11" y1="613.22" x2="500.51" y2="613.22" stroke="#222" stroke-width="0.9"/><rect x="491.41" y="618.94" width="11.80" height="4.74" fill="#e377c2" stroke="#222" stroke-width="0.9"/><line x1="491.41" y1="620.90" x2="503.21" y2="620.90" stroke="#222" stroke-width="0.9"/><path d="M497.2 623.2h0M496.8 622.9h0M498.8 624.7h0M496.4 614.4h0M497.0 622.6h0M496.4 622.4h0M497.7 623.2h0M496.6 619.3h0M496.9 619.9h0M498.0 622.8h0M496.8 620.7h0M497.5 619.6h0M498.5 618.4h0M496.1 620.5h0M496.0 622.8h0M496.5 623.2h0M498.1 614.0h0M497.7 622.3h0M496.5 615.7h0M496.8 614.1h0M496.3 621.7h0M497.2 621.6h0M495.9 622.2h0M497.9 623.5h0M498.5 624.3h0M498.7 621.1h0M498.0 625.5h0M498.7 613.2h0M495.9 637.2h0M496.7 642.1h0M498.7 642.9h0M498.1 655.2h0" stroke="#e377c2" stroke-opacity="0.62" stroke-width="3.6" stroke-linecap="round" fill="none"/><path d="M494.41 626.46L500.21 626.46L497.31 621.26Z" fill="#2ca02c"/><line x1="515.13" y1="594.28" x2="515.13" y2="660.09" stroke="#222" stroke-width="0.9"/><line x1="511.93" y1="660.09" x2="518.33" y2="660.09" stroke="#222" stroke-width="0.9"/><line x1="511.93" y1="594.28" x2="518.33" y2="594.28" stroke="#222" stroke-width="0.9"/><rect x="509.23" y="615.18" width="11.80" height="19.60" fill="#bcbd5e" stroke="#222" stroke-width="0.9"/><line x1="509.23" y1="624.00" x2="521.03" y2="624.00" stroke="#222" stroke-width="0.9"/><path d="M516.4 616.3h0M515.3 618.7h0M516.6 631.0h0M514.8 632.1h0M516.3 615.9h0M515.6 634.6h0M516.0 655.8h0M515.9 627.7h0M515.1 632.9h0M513.9 606.3h0M514.3 633.6h0M516.2 655.8h0M516.3 631.8h0M516.4 647.7h0M514.6 615.2h0M515.6 646.7h0M516.0 626.8h0M515.6 605.2h0M516.1 626.7h0M515.2 649.4h0M515.6 617.4h0M515.7 625.0h0M514.4 653.6h0M516.4 630.7h0M516.5 617.7h0M513.9 658.8h0M516.5 660.1h0M516.5 594.3h0M515.6 673.2h0" stroke="#bcbd5e" stroke-opacity="0.62" stroke-width="3.6" stroke-linecap="round" fill="none"/><path d="M512.23 628.75L518.03 628.75L515.13 623.55Z" fill="#2ca02c"/><line x1="532.95" y1="620.24" x2="532.95" y2="652.09" stroke="#222" stroke-width="0.9"/><line x1="529.75" y1="652.09" x2="536.15" y2="652.09" stroke="#222" stroke-width="0.9"/><line x1="529.75" y1="620.24" x2="536.15" y2="620.24" stroke="#222" stroke-width="0.9"/><rect x="527.05" y="629.23" width="11.80" height="11.92" fill="#1f77b4" stroke="#222" stroke-width="0.9"/><line x1="527.05" y1="635.43" x2="538.85" y2="635.43" stroke="#222" stroke-width="0.9"/><path d="M533.3 642.3h0M534.1 641.5h0M533.0 640.4h0M532.7 633.6h0M534.0 632.2h0M533.8 627.3h0M531.6 642.0h0M534.1 642.5h0M532.0 643.2h0M532.4 630.7h0M534.0 630.7h0M532.7 633.1h0M533.8 630.5h0M531.9 635.5h0M534.1 640.8h0M532.0 645.6h0M531.9 630.8h0M532.9 639.5h0M532.5 632.0h0M533.1 641.0h0M534.2 631.3h0M533.6 646.1h0M531.5 631.8h0M532.4 638.4h0M533.1 629.6h0M532.9 650.8h0M533.6 652.1h0M532.9 620.2h0" stroke="#1f77b4" stroke-opacity="0.62" stroke-width="3.6" stroke-linecap="round" fill="none"/><path d="M530.05 637.89L535.85 637.89L532.95 632.69Z" fill="#2ca02c"/><line x1="550.76" y1="620.24" x2="550.76" y2="661.56" stroke="#222" stroke-width="0.9"/><line x1="547.56" y1="661.56" x2="553.96" y2="661.56" stroke="#222" stroke-width="0.9"/><line x1="547.56" y1="620.24" x2="553.96" y2="620.24" stroke="#222" stroke-width="0.9"/><rect x="544.86" y="626.12" width="11.80" height="17.47" fill="#d62728" stroke="#222" stroke-width="0.9"/><line x1="544.86" y1="630.37" x2="556.66" y2="630.37" stroke="#222" stroke-width="0.9"/><path d="M552.2 657.1h0M549.6 637.4h0M551.2 626.4h0M551.3 631.8h0M551.5 638.1h0M551.1 623.4h0M551.8 624.3h0M550.2 621.5h0M552.0 635.9h0M550.5 647.7h0M551.1 632.0h0M552.0 660.1h0M551.4 647.0h0M550.2 627.8h0M550.0 633.5h0M550.2 632.7h0M551.1 654.3h0M552.3 625.1h0M552.0 637.9h0M550.5 643.2h0M550.5 644.5h0M551.7 629.6h0M550.1 626.9h0M550.5 633.4h0M549.3 633.6h0M549.8 621.7h0M550.9 661.6h0M551.3 620.2h0" stroke="#d62728" stroke-opacity="0.62" stroke-width="3.6" stroke-linecap="round" fill="none"/><path d="M547.86 637.89L553.66 637.89L550.76 632.69Z" fill="#2ca02c"/><line x1="568.58" y1="622.86" x2="568.58" y2="666.29" stroke="#222" stroke-width="0.9"/><line x1="565.38" y1="666.29" x2="571.78" y2="666.29" stroke="#222" stroke-width="0.9"/><line x1="565.38" y1="622.86" x2="571.78" y2="622.86" stroke="#222" stroke-width="0.9"/><rect x="562.68" y="636.57" width="11.80" height="12.74" fill="#aec7e8" stroke="#222" stroke-width="0.9"/><line x1="562.68" y1="644.25" x2="574.48" y2="644.25" stroke="#222" stroke-width="0.9"/><path d="M567.6 644.7h0M569.7 628.0h0M567.9 648.4h0M568.3 623.0h0M569.1 628.3h0M569.7 648.1h0M568.1 646.5h0M568.2 624.3h0M568.4 647.4h0M567.2 645.5h0M569.7 634.3h0M567.1 640.6h0M570.0 637.1h0M567.5 642.6h0M567.6 648.1h0M569.6 660.9h0M569.6 665.3h0M567.8 632.6h0M568.7 626.9h0M568.5 641.0h0M569.2 624.5h0M567.6 642.2h0M569.6 640.1h0M570.1 642.9h0M569.2 638.6h0M569.8 648.4h0M569.9 666.3h0M568.2 622.9h0" stroke="#aec7e8" stroke-opacity="0.62" stroke-width="3.6" stroke-linecap="round" fill="none"/><path d="M565.68 647.04L571.48 647.04L568.58 641.84Z" fill="#2ca02c"/><line x1="586.40" y1="607.83" x2="586.40" y2="658.78" stroke="#222" stroke-width="0.9"/><line x1="583.20" y1="658.78" x2="589.60" y2="658.78" stroke="#222" stroke-width="0.9"/><line x1="583.20" y1="607.83" x2="589.60" y2="607.83" stroke="#222" stroke-width="0.9"/><rect x="580.50" y="623.35" width="11.80" height="19.60" fill="#ff7f0e" stroke="#222" stroke-width="0.9"/><line x1="580.50" y1="629.55" x2="592.30" y2="629.55" stroke="#222" stroke-width="0.9"/><path d="M585.3 626.6h0M586.0 640.8h0M587.6 625.1h0M587.1 630.3h0M587.3 614.0h0M585.8 648.8h0M586.1 626.1h0M586.7 636.9h0M585.0 613.6h0M586.1 626.6h0M587.8 609.5h0M587.2 613.1h0M587.5 631.1h0M585.8 623.6h0M587.0 641.3h0M587.3 633.2h0M587.0 631.2h0M586.2 639.0h0M585.4 646.4h0M585.0 612.5h0M587.6 643.3h0M587.7 633.0h0M585.7 645.4h0M587.2 630.7h0M586.1 647.2h0M586.8 651.2h0M587.4 658.8h0M585.9 607.8h0" stroke="#ff7f0e" stroke-opacity="0.62" stroke-width="3.6" stroke-linecap="round" fill="none"/><path d="M583.50 635.28L589.30 635.28L586.40 630.08Z" fill="#2ca02c"/><line x1="604.22" y1="649.31" x2="604.22" y2="661.23" stroke="#222" stroke-width="0.9"/><line x1="601.02" y1="661.23" x2="607.42" y2="661.23" stroke="#222" stroke-width="0.9"/><line x1="601.02" y1="649.31" x2="607.42" y2="649.31" stroke="#222" stroke-width="0.9"/><rect x="598.32" y="653.88" width="11.80" height="4.57" fill="#2e8b57" stroke="#222" stroke-width="0.9"/><line x1="598.32" y1="656.33" x2="610.12" y2="656.33" stroke="#222" stroke-width="0.9"/><path d="M602.9 657.3h0M605.4 658.3h0M604.8 657.1h0M604.7 653.3h0M605.2 658.1h0M603.0 653.1h0M603.3 660.6h0M603.1 650.8h0M604.2 651.6h0M604.4 660.3h0M604.3 653.9h0M603.8 657.3h0M604.9 657.9h0M605.2 652.5h0M605.0 655.4h0M602.8 653.5h0M603.2 657.6h0M603.4 658.3h0M603.4 657.6h0M604.4 658.3h0M603.3 657.0h0M604.6 651.1h0M603.8 653.9h0M603.8 657.5h0M604.8 649.5h0M605.6 654.0h0M603.3 661.2h0M603.8 649.3h0M605.7 668.6h0" stroke="#2e8b57" stroke-opacity="0.62" stroke-width="3.6" stroke-linecap="round" fill="none"/><path d="M601.32 658.31L607.12 658.31L604.22 653.11Z" fill="#2ca02c"/><line x1="622.04" y1="642.13" x2="622.04" y2="682.46" stroke="#222" stroke-width="0.9"/><line x1="618.84" y1="682.46" x2="625.24" y2="682.46" stroke="#222" stroke-width="0.9"/><line x1="618.84" y1="642.13" x2="625.24" y2="642.13" stroke="#222" stroke-width="0.9"/><rect x="616.14" y="652.41" width="11.80" height="13.72" fill="#8c564b" stroke="#222" stroke-width="0.9"/><line x1="616.14" y1="655.19" x2="627.94" y2="655.19" stroke="#222" stroke-width="0.9"/><path d="M622.2 665.8h0M621.6 654.8h0M623.1 653.3h0M621.1 665.6h0M621.9 656.3h0M620.9 664.2h0M623.2 659.8h0M622.3 660.0h0M623.5 682.0h0M621.0 656.1h0M622.7 664.6h0M622.3 658.5h0M620.7 647.5h0M623.0 647.0h0M623.2 657.7h0M620.8 657.9h0M623.4 665.8h0M622.9 655.2h0M622.4 681.8h0M622.2 662.2h0M621.3 661.8h0M620.7 663.8h0M622.0 656.9h0M623.1 653.0h0M621.2 649.8h0M622.0 658.8h0M621.4 682.5h0M622.6 642.1h0M623.4 692.3h0M623.2 695.5h0" stroke="#8c564b" stroke-opacity="0.62" stroke-width="3.6" stroke-linecap="round" fill="none"/><path d="M619.14 663.21L624.94 663.21L622.04 658.01Z" fill="#2ca02c"/><line x1="639.85" y1="636.57" x2="639.85" y2="676.42" stroke="#222" stroke-width="0.9"/><line x1="636.65" y1="676.42" x2="643.05" y2="676.42" stroke="#222" stroke-width="0.9"/><line x1="636.65" y1="636.57" x2="643.05" y2="636.57" stroke="#222" stroke-width="0.9"/><rect x="633.95" y="647.19" width="11.80" height="13.06" fill="#ffbb78" stroke="#222" stroke-width="0.9"/><line x1="633.95" y1="653.88" x2="645.75" y2="653.88" stroke="#222" stroke-width="0.9"/><path d="M640.0 654.8h0M639.1 667.9h0M640.2 638.2h0M638.9 669.4h0M639.8 669.6h0M640.3 644.2h0M640.0 647.8h0M640.1 657.6h0M640.1 637.4h0M638.9 647.1h0M641.2 671.7h0M640.4 654.7h0M640.5 666.1h0M641.2 652.0h0M639.7 653.1h0M639.4 659.4h0M639.3 658.5h0M639.3 664.1h0M639.3 655.8h0M639.3 652.6h0M639.0 666.1h0M639.8 661.0h0M639.2 650.2h0M639.5 654.7h0M640.3 655.6h0M639.3 653.4h0M640.9 676.4h0M640.7 636.6h0M639.3 625.6h0" stroke="#ffbb78" stroke-opacity="0.62" stroke-width="3.6" stroke-linecap="round" fill="none"/><path d="M636.95 655.86L642.75 655.86L639.85 650.66Z" fill="#2ca02c"/><line x1="657.67" y1="662.87" x2="657.67" y2="684.09" stroke="#222" stroke-width="0.9"/><line x1="654.47" y1="684.09" x2="660.87" y2="684.09" stroke="#222" stroke-width="0.9"/><line x1="654.47" y1="662.87" x2="660.87" y2="662.87" stroke="#222" stroke-width="0.9"/><rect x="651.77" y="670.05" width="11.80" height="6.37" fill="#17becf" stroke="#222" stroke-width="0.9"/><line x1="651.77" y1="673.32" x2="663.57" y2="673.32" stroke="#222" stroke-width="0.9"/><path d="M658.8 675.3h0M657.4 676.5h0M658.9 684.1h0M656.5 670.0h0M658.9 672.9h0M658.8 674.9h0M659.1 667.2h0M658.7 673.6h0M658.3 674.6h0M657.5 678.0h0M658.3 683.7h0M658.8 676.5h0M657.9 671.7h0M658.0 670.2h0M658.9 674.2h0M657.0 676.4h0M657.2 671.6h0M656.3 673.3h0M658.8 666.9h0M658.1 673.9h0M658.2 681.1h0M656.9 676.2h0M656.7 675.6h0M657.6 671.7h0M658.8 670.8h0M657.2 672.2h0M657.4 684.1h0M657.4 662.9h0" stroke="#17becf" stroke-opacity="0.62" stroke-width="3.6" stroke-linecap="round" fill="none"/><path d="M654.77 675.45L660.57 675.45L657.67 670.25Z" fill="#2ca02c"/><line x1="675.49" y1="677.40" x2="675.49" y2="701.08" stroke="#222" stroke-width="0.9"/><line x1="672.29" y1="701.08" x2="678.69" y2="701.08" stroke="#222" stroke-width="0.9"/><line x1="672.29" y1="677.40" x2="678.69" y2="677.40" stroke="#222" stroke-width="0.9"/><rect x="669.59" y="680.99" width="11.80" height="8.16" fill="#a855f7" stroke="#222" stroke-width="0.9"/><line x1="669.59" y1="685.56" x2="681.39" y2="685.56" stroke="#222" stroke-width="0.9"/><path d="M674.2 688.1h0M675.8 680.9h0M674.5 682.9h0M674.0 683.1h0M674.6 688.0h0M676.4 687.0h0M674.7 684.5h0M674.0 681.2h0M675.4 682.7h0M675.0 677.7h0M675.7 686.3h0M675.7 683.0h0M676.1 681.8h0M676.7 683.7h0M675.0 684.1h0M675.9 683.9h0M674.3 689.0h0M674.7 677.9h0M674.3 688.8h0M676.6 682.9h0M675.0 682.5h0M676.1 684.5h0M676.6 688.7h0M675.1 695.8h0M674.6 683.9h0M674.7 682.6h0M675.5 701.1h0M675.2 677.4h0M674.2 664.7h0M676.5 665.0h0" stroke="#a855f7" stroke-opacity="0.62" stroke-width="3.6" stroke-linecap="round" fill="none"/><path d="M672.59 687.70L678.39 687.70L675.49 682.50Z" fill="#2ca02c"/><rect x="488.40" y="589.10" width="196.00" height="117.20" fill="none" stroke="#1a1a1a" stroke-width="0.9"/><line x1="485.10" y1="704.18" x2="488.40" y2="704.18" stroke="#1a1a1a" stroke-width="0.9"/><text x="482.4" y="707.1" text-anchor="end">0.2</text><line x1="485.10" y1="687.85" x2="488.40" y2="687.85" stroke="#1a1a1a" stroke-width="0.9"/><text x="482.4" y="690.8" text-anchor="end">0.3</text><line x1="485.10" y1="671.52" x2="488.40" y2="671.52" stroke="#1a1a1a" stroke-width="0.9"/><text x="482.4" y="674.5" text-anchor="end">0.4</text><line x1="485.10" y1="655.19" x2="488.40" y2="655.19" stroke="#1a1a1a" stroke-width="0.9"/><text x="482.4" y="658.1" text-anchor="end">0.5</text><line x1="485.10" y1="638.86" x2="488.40" y2="638.86" stroke="#1a1a1a" stroke-width="0.9"/><text x="482.4" y="641.8" text-anchor="end">0.6</text><line x1="485.10" y1="622.53" x2="488.40" y2="622.53" stroke="#1a1a1a" stroke-width="0.9"/><text x="482.4" y="625.5" text-anchor="end">0.7</text><line x1="485.10" y1="606.20" x2="488.40" y2="606.20" stroke="#1a1a1a" stroke-width="0.9"/><text x="482.4" y="609.2" text-anchor="end">0.8</text><line x1="485.10" y1="589.87" x2="488.40" y2="589.87" stroke="#1a1a1a" stroke-width="0.9"/><text x="482.4" y="592.8" text-anchor="end">0.9</text><line x1="497.31" y1="706.30" x2="497.31" y2="709.60" stroke="#1a1a1a" stroke-width="0.9"/><text transform="translate(499.6,712.1) rotate(-90)" text-anchor="end">scNiche</text><line x1="515.13" y1="706.30" x2="515.13" y2="709.60" stroke="#1a1a1a" stroke-width="0.9"/><text transform="translate(517.4,712.1) rotate(-90)" text-anchor="end">SpaceFlow</text><line x1="532.95" y1="706.30" x2="532.95" y2="709.60" stroke="#1a1a1a" stroke-width="0.9"/><text transform="translate(535.2,712.1) rotate(-90)" text-anchor="end">BASS</text><line x1="550.76" y1="706.30" x2="550.76" y2="709.60" stroke="#1a1a1a" stroke-width="0.9"/><text transform="translate(553.1,712.1) rotate(-90)" text-anchor="end">CytoCommunity</text><line x1="568.58" y1="706.30" x2="568.58" y2="709.60" stroke="#1a1a1a" stroke-width="0.9"/><text transform="translate(570.9,712.1) rotate(-90)" text-anchor="end">STAGATE</text><line x1="586.40" y1="706.30" x2="586.40" y2="709.60" stroke="#1a1a1a" stroke-width="0.9"/><text transform="translate(588.7,712.1) rotate(-90)" text-anchor="end">BANKSY</text><line x1="604.22" y1="706.30" x2="604.22" y2="709.60" stroke="#1a1a1a" stroke-width="0.9"/><text transform="translate(606.5,712.1) rotate(-90)" text-anchor="end">CellCharter</text><line x1="622.04" y1="706.30" x2="622.04" y2="709.60" stroke="#1a1a1a" stroke-width="0.9"/><text transform="translate(624.3,712.1) rotate(-90)" text-anchor="end">GraphST</text><line x1="639.85" y1="706.30" x2="639.85" y2="709.60" stroke="#1a1a1a" stroke-width="0.9"/><text transform="translate(642.2,712.1) rotate(-90)" text-anchor="end">UTAG</text><line x1="657.67" y1="706.30" x2="657.67" y2="709.60" stroke="#1a1a1a" stroke-width="0.9"/><text transform="translate(660.0,712.1) rotate(-90)" text-anchor="end">SpaGCN</text><line x1="675.49" y1="706.30" x2="675.49" y2="709.60" stroke="#1a1a1a" stroke-width="0.9"/><text transform="translate(677.8,712.1) rotate(-90)" text-anchor="end">DR-SC</text><text transform="translate(462.5,647.7) rotate(-90)" text-anchor="middle">Macro-F1 score</text><text x="15.8" y="596.7">Cell types</text><circle cx="18.2" cy="608.3" r="2.75" fill="#FFFF00"/><text x="26.3" y="610.3">Astro-1</text><circle cx="18.2" cy="619.6" r="2.75" fill="#1CE6FF"/><text x="26.3" y="621.7">Astro-2</text><circle cx="18.2" cy="631.0" r="2.75" fill="#FF34FF"/><text x="26.3" y="633.0">Endo-1</text><circle cx="18.2" cy="642.3" r="2.75" fill="#FF4A46"/><text x="26.3" y="644.3">Endo-2</text><circle cx="18.2" cy="653.6" r="2.75" fill="#008941"/><text x="26.3" y="655.7">Endo-3</text><circle cx="18.2" cy="664.9" r="2.75" fill="#006FA6"/><text x="26.3" y="667.0">Epen</text><circle cx="18.2" cy="676.3" r="2.75" fill="#A30059"/><text x="26.3" y="678.3">ExN-L2/3-1</text><circle cx="18.2" cy="687.6" r="2.75" fill="#FFDBE5"/><text x="26.3" y="689.7">ExN-L2/3-2</text><circle cx="18.2" cy="698.9" r="2.75" fill="#7A4900"/><text x="26.3" y="701.0">ExN-L5-1</text><circle cx="18.2" cy="710.3" r="2.75" fill="#0000A6"/><text x="26.3" y="712.3">ExN-L5-2</text><circle cx="18.2" cy="721.6" r="2.75" fill="#63FFAC"/><text x="26.3" y="723.6">ExN-L5-3</text><circle cx="18.2" cy="732.9" r="2.75" fill="#B79762"/><text x="26.3" y="735.0">ExN-L6-1</text><circle cx="18.2" cy="744.3" r="2.75" fill="#004D43"/><text x="26.3" y="746.3">ExN-L6-2</text><circle cx="18.2" cy="755.6" r="2.75" fill="#8FB0FF"/><text x="26.3" y="757.6">ExN-L6-3</text><circle cx="18.2" cy="766.9" r="2.75" fill="#997D87"/><text x="26.3" y="769.0">ExN-Olf</text><circle cx="83.2" cy="608.3" r="2.75" fill="#5A0007"/><text x="91.7" y="610.3">InN-Calb2-1</text><circle cx="83.2" cy="619.6" r="2.75" fill="#809693"/><text x="91.7" y="621.7">InN-Calb2-2</text><circle cx="83.2" cy="631.0" r="2.75" fill="#6A3A4C"/><text x="91.7" y="633.0">InN-Chat</text><circle cx="83.2" cy="642.3" r="2.75" fill="#1B4400"/><text x="91.7" y="644.3">InN-Lamp5</text><circle cx="83.2" cy="653.6" r="2.75" fill="#4FC601"/><text x="91.7" y="655.7">InN-Lhx6</text><circle cx="83.2" cy="664.9" r="2.75" fill="#3B5DFF"/><text x="91.7" y="667.0">InN-Olf-1</text><circle cx="83.2" cy="676.3" r="2.75" fill="#4A3B53"/><text x="91.7" y="678.3">InN-Olf-2</text><circle cx="83.2" cy="687.6" r="2.75" fill="#FF2F80"/><text x="91.7" y="689.7">InN-Pvalb-1</text><circle cx="83.2" cy="698.9" r="2.75" fill="#61615A"/><text x="91.7" y="701.0">InN-Pvalb-2</text><circle cx="83.2" cy="710.3" r="2.75" fill="#BA0900"/><text x="91.7" y="712.3">InN-Pvalb-3</text><circle cx="83.2" cy="721.6" r="2.75" fill="#6B7900"/><text x="91.7" y="723.6">InN-Sst-1</text><circle cx="83.2" cy="732.9" r="2.75" fill="#00C2A0"/><text x="91.7" y="735.0">InN-Sst-2</text><circle cx="83.2" cy="744.3" r="2.75" fill="#FFAA92"/><text x="91.7" y="746.3">InN-Vip</text><circle cx="83.2" cy="755.6" r="2.75" fill="#FF90C9"/><text x="91.7" y="757.6">MSN-D1-1</text><circle cx="147.9" cy="608.3" r="2.75" fill="#B903AA"/><text x="156.6" y="610.3">MSN-D1-2</text><circle cx="147.9" cy="619.6" r="2.75" fill="#D16100"/><text x="156.6" y="621.7">MSN-D2</text><circle cx="147.9" cy="631.0" r="2.75" fill="#DDEFFF"/><text x="156.6" y="633.0">Macro</text><circle cx="147.9" cy="642.3" r="2.75" fill="#000035"/><text x="156.6" y="644.3">Micro-1</text><circle cx="147.9" cy="653.6" r="2.75" fill="#7B4F4B"/><text x="156.6" y="655.7">Micro-2</text><circle cx="147.9" cy="664.9" r="2.75" fill="#A1C299"/><text x="156.6" y="667.0">Micro-3</text><circle cx="147.9" cy="676.3" r="2.75" fill="#300018"/><text x="156.6" y="678.3">OPC</text><circle cx="147.9" cy="687.6" r="2.75" fill="#0AA6D8"/><text x="156.6" y="689.7">Olig-1</text><circle cx="147.9" cy="698.9" r="2.75" fill="#013349"/><text x="156.6" y="701.0">Olig-2</text><circle cx="147.9" cy="710.3" r="2.75" fill="#00846F"/><text x="156.6" y="712.3">Olig-3</text><circle cx="147.9" cy="721.6" r="2.75" fill="#372101"/><text x="156.6" y="723.6">Peri-1</text><circle cx="147.9" cy="732.9" r="2.75" fill="#FFB500"/><text x="156.6" y="735.0">Peri-2</text><circle cx="147.9" cy="744.3" r="2.75" fill="#C2FFED"/><text x="156.6" y="746.3">T cell</text><circle cx="147.9" cy="755.6" r="2.75" fill="#A079BF"/><text x="156.6" y="757.6">Vlmc</text></g></svg></body></html>
